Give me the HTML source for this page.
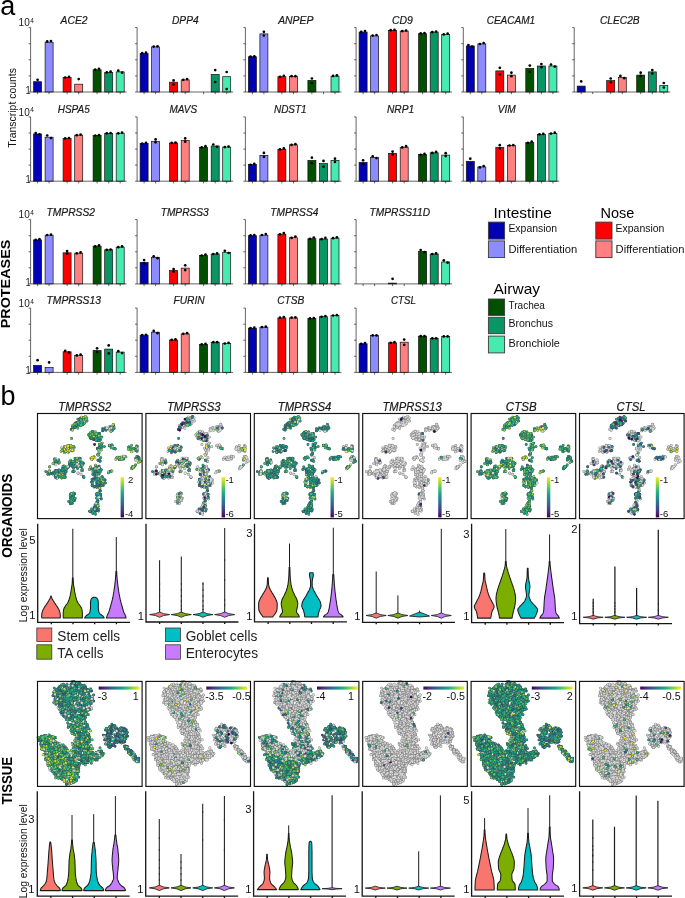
<!DOCTYPE html>
<html><head><meta charset="utf-8"><title>Figure</title>
<style>html,body{margin:0;padding:0;background:#fff}svg{display:block;will-change:transform}text{font-family:"Liberation Sans",sans-serif}</style>
</head><body>
<svg width="685" height="898" viewBox="0 0 685 898">
<rect width="685" height="898" fill="#fff"/>
<g>
<text x="60.6" y="23.7" font-size="11.6" fill="#1a1a1a" font-style="italic" stroke="#1a1a1a" stroke-width="0.22" textLength="27" lengthAdjust="spacingAndGlyphs">ACE2</text>
<rect x="33.6" y="81.7" width="8" height="10.3" fill="#0000b4" stroke="#111" stroke-width="0.7"/>
<rect x="45.1" y="42.2" width="8" height="49.8" fill="#8c8cff" stroke="#111" stroke-width="0.7"/>
<rect x="63.1" y="77.4" width="8" height="14.6" fill="#ff0000" stroke="#111" stroke-width="0.7"/>
<rect x="74.7" y="84.2" width="8" height="7.8" fill="#ff8080" stroke="#111" stroke-width="0.7"/>
<rect x="93.1" y="69.8" width="8" height="22.2" fill="#005000" stroke="#111" stroke-width="0.7"/>
<rect x="104.7" y="72.4" width="8" height="19.6" fill="#0a9664" stroke="#111" stroke-width="0.7"/>
<rect x="116.2" y="71.9" width="8" height="20.1" fill="#46ebaf" stroke="#111" stroke-width="0.7"/>
<path d="M30.6 27.6V92H126.6M30.6 27.6h-2M30.6 43.7h-2M30.6 59.8h-2M30.6 75.9h-2M30.6 92h-2M37.6 92v2.2M49.1 92v2.2M67.1 92v2.2M78.7 92v2.2M97.1 92v2.2M108.7 92v2.2M120.2 92v2.2" stroke="#222" stroke-width="0.7" fill="none"/>
<g fill="#000"><circle cx="37.6" cy="79.8" r="1.35"/><circle cx="47.2" cy="41.4" r="1.35"/><circle cx="51" cy="41.1" r="1.35"/><circle cx="65.2" cy="77.5" r="1.35"/><circle cx="69" cy="76.9" r="1.35"/><circle cx="78.7" cy="79.1" r="1.35"/><circle cx="95.2" cy="69.5" r="1.35"/><circle cx="99" cy="68.8" r="1.35"/><circle cx="106.8" cy="72.4" r="1.35"/><circle cx="110.6" cy="71.7" r="1.35"/><circle cx="118.3" cy="70.7" r="1.35"/><circle cx="122.1" cy="72.7" r="1.35"/></g>
<text x="172" y="23.7" font-size="11.6" fill="#1a1a1a" font-style="italic" stroke="#1a1a1a" stroke-width="0.22" textLength="26.6" lengthAdjust="spacingAndGlyphs">DPP4</text>
<rect x="140.1" y="53.4" width="8" height="38.6" fill="#0000b4" stroke="#111" stroke-width="0.7"/>
<rect x="151.6" y="46.9" width="8" height="45.1" fill="#8c8cff" stroke="#111" stroke-width="0.7"/>
<rect x="169.6" y="82.2" width="8" height="9.8" fill="#ff0000" stroke="#111" stroke-width="0.7"/>
<rect x="181.2" y="79.9" width="8" height="12.1" fill="#ff8080" stroke="#111" stroke-width="0.7"/>
<rect x="211.2" y="74.4" width="8" height="17.6" fill="#0a9664" stroke="#111" stroke-width="0.7"/>
<rect x="222.7" y="76.7" width="8" height="15.3" fill="#46ebaf" stroke="#111" stroke-width="0.7"/>
<path d="M137.1 27.6V92H233.1M137.1 27.6h-2M137.1 43.7h-2M137.1 59.8h-2M137.1 75.9h-2M137.1 92h-2M144.1 92v2.2M155.6 92v2.2M173.6 92v2.2M185.2 92v2.2M203.6 92v2.2M215.2 92v2.2M226.7 92v2.2" stroke="#222" stroke-width="0.7" fill="none"/>
<g fill="#000"><circle cx="142.2" cy="53" r="1.35"/><circle cx="146" cy="52.7" r="1.35"/><circle cx="153.7" cy="46.6" r="1.35"/><circle cx="157.5" cy="46.3" r="1.35"/><circle cx="173.6" cy="80.4" r="1.35"/><circle cx="173.6" cy="84.6" r="1.35"/><circle cx="183.3" cy="79.8" r="1.35"/><circle cx="187.1" cy="79.1" r="1.35"/><circle cx="215.2" cy="70.1" r="1.35"/><circle cx="215.2" cy="82" r="1.35"/><circle cx="226.7" cy="72" r="1.35"/><circle cx="226.7" cy="89.1" r="1.35"/></g>
<text x="278.2" y="23.7" font-size="11.6" fill="#1a1a1a" font-style="italic" stroke="#1a1a1a" stroke-width="0.22" textLength="35.2" lengthAdjust="spacingAndGlyphs">ANPEP</text>
<rect x="248.4" y="56.8" width="8" height="35.2" fill="#0000b4" stroke="#111" stroke-width="0.7"/>
<rect x="259.9" y="33.9" width="8" height="58.1" fill="#8c8cff" stroke="#111" stroke-width="0.7"/>
<rect x="277.9" y="76.7" width="8" height="15.3" fill="#ff0000" stroke="#111" stroke-width="0.7"/>
<rect x="289.5" y="76.4" width="8" height="15.6" fill="#ff8080" stroke="#111" stroke-width="0.7"/>
<rect x="307.9" y="80.4" width="8" height="11.6" fill="#005000" stroke="#111" stroke-width="0.7"/>
<rect x="331" y="76.2" width="8" height="15.8" fill="#46ebaf" stroke="#111" stroke-width="0.7"/>
<path d="M245.4 27.6V92H341.4M245.4 27.6h-2M245.4 43.7h-2M245.4 59.8h-2M245.4 75.9h-2M245.4 92h-2M252.4 92v2.2M263.9 92v2.2M281.9 92v2.2M293.5 92v2.2M311.9 92v2.2M323.5 92v2.2M335 92v2.2" stroke="#222" stroke-width="0.7" fill="none"/>
<g fill="#000"><circle cx="250.5" cy="56.6" r="1.35"/><circle cx="254.3" cy="56.3" r="1.35"/><circle cx="263.9" cy="31.8" r="1.35"/><circle cx="263.9" cy="35.6" r="1.35"/><circle cx="280" cy="76.9" r="1.35"/><circle cx="283.8" cy="75.9" r="1.35"/><circle cx="291.6" cy="76.2" r="1.35"/><circle cx="295.4" cy="76.2" r="1.35"/><circle cx="311.9" cy="78.5" r="1.35"/><circle cx="311.9" cy="83" r="1.35"/><circle cx="333.1" cy="75.9" r="1.35"/><circle cx="336.9" cy="75.3" r="1.35"/></g>
<text x="392" y="23.7" font-size="11.6" fill="#1a1a1a" font-style="italic" stroke="#1a1a1a" stroke-width="0.22" textLength="20.9" lengthAdjust="spacingAndGlyphs">CD9</text>
<rect x="359.1" y="32.1" width="8" height="59.9" fill="#0000b4" stroke="#111" stroke-width="0.7"/>
<rect x="370.6" y="35.9" width="8" height="56.1" fill="#8c8cff" stroke="#111" stroke-width="0.7"/>
<rect x="388.6" y="30.4" width="8" height="61.6" fill="#ff0000" stroke="#111" stroke-width="0.7"/>
<rect x="400.2" y="31.1" width="8" height="60.9" fill="#ff8080" stroke="#111" stroke-width="0.7"/>
<rect x="418.6" y="33.7" width="8" height="58.3" fill="#005000" stroke="#111" stroke-width="0.7"/>
<rect x="430.2" y="32.1" width="8" height="59.9" fill="#0a9664" stroke="#111" stroke-width="0.7"/>
<rect x="441.7" y="34.4" width="8" height="57.6" fill="#46ebaf" stroke="#111" stroke-width="0.7"/>
<path d="M356.1 27.6V92H452.1M356.1 27.6h-2M356.1 43.7h-2M356.1 59.8h-2M356.1 75.9h-2M356.1 92h-2M363.1 92v2.2M374.6 92v2.2M392.6 92v2.2M404.2 92v2.2M422.6 92v2.2M434.2 92v2.2M445.7 92v2.2" stroke="#222" stroke-width="0.7" fill="none"/>
<g fill="#000"><circle cx="361.2" cy="31.8" r="1.35"/><circle cx="365" cy="31.1" r="1.35"/><circle cx="372.7" cy="35.6" r="1.35"/><circle cx="376.5" cy="35" r="1.35"/><circle cx="390.7" cy="30.2" r="1.35"/><circle cx="394.5" cy="29.9" r="1.35"/><circle cx="402.3" cy="31.1" r="1.35"/><circle cx="406.1" cy="30.5" r="1.35"/><circle cx="420.7" cy="33.4" r="1.35"/><circle cx="424.5" cy="33.1" r="1.35"/><circle cx="432.3" cy="32.1" r="1.35"/><circle cx="436.1" cy="31.5" r="1.35"/><circle cx="443.8" cy="34.4" r="1.35"/><circle cx="447.6" cy="33.7" r="1.35"/></g>
<text x="486.7" y="23.7" font-size="11.6" fill="#1a1a1a" font-style="italic" stroke="#1a1a1a" stroke-width="0.22" textLength="48.4" lengthAdjust="spacingAndGlyphs">CEACAM1</text>
<rect x="466.3" y="46" width="8" height="46" fill="#0000b4" stroke="#111" stroke-width="0.7"/>
<rect x="477.8" y="43.9" width="8" height="48.1" fill="#8c8cff" stroke="#111" stroke-width="0.7"/>
<rect x="495.8" y="70.9" width="8" height="21.1" fill="#ff0000" stroke="#111" stroke-width="0.7"/>
<rect x="507.4" y="75.1" width="8" height="16.9" fill="#ff8080" stroke="#111" stroke-width="0.7"/>
<rect x="525.8" y="68.4" width="8" height="23.6" fill="#005000" stroke="#111" stroke-width="0.7"/>
<rect x="537.4" y="66" width="8" height="26" fill="#0a9664" stroke="#111" stroke-width="0.7"/>
<rect x="548.9" y="66" width="8" height="26" fill="#46ebaf" stroke="#111" stroke-width="0.7"/>
<path d="M463.3 27.6V92H559.3M463.3 27.6h-2M463.3 43.7h-2M463.3 59.8h-2M463.3 75.9h-2M463.3 92h-2M470.3 92v2.2M481.8 92v2.2M499.8 92v2.2M511.4 92v2.2M529.8 92v2.2M541.4 92v2.2M552.9 92v2.2" stroke="#222" stroke-width="0.7" fill="none"/>
<g fill="#000"><circle cx="468.4" cy="45" r="1.35"/><circle cx="472.2" cy="46.6" r="1.35"/><circle cx="479.9" cy="44" r="1.35"/><circle cx="483.7" cy="43.1" r="1.35"/><circle cx="499.8" cy="67.8" r="1.35"/><circle cx="499.8" cy="74.3" r="1.35"/><circle cx="511.4" cy="72.7" r="1.35"/><circle cx="511.4" cy="76.2" r="1.35"/><circle cx="529.8" cy="65.6" r="1.35"/><circle cx="529.8" cy="72" r="1.35"/><circle cx="541.4" cy="64" r="1.35"/><circle cx="541.4" cy="67.2" r="1.35"/><circle cx="551" cy="64.6" r="1.35"/><circle cx="554.8" cy="66.6" r="1.35"/></g>
<text x="599.9" y="23.7" font-size="11.6" fill="#1a1a1a" font-style="italic" stroke="#1a1a1a" stroke-width="0.22" textLength="39.8" lengthAdjust="spacingAndGlyphs">CLEC2B</text>
<rect x="577.2" y="86.1" width="8" height="5.9" fill="#0000b4" stroke="#111" stroke-width="0.7"/>
<rect x="606.7" y="80.6" width="8" height="11.4" fill="#ff0000" stroke="#111" stroke-width="0.7"/>
<rect x="618.3" y="77.4" width="8" height="14.6" fill="#ff8080" stroke="#111" stroke-width="0.7"/>
<rect x="636.7" y="75.1" width="8" height="16.9" fill="#005000" stroke="#111" stroke-width="0.7"/>
<rect x="648.3" y="71.9" width="8" height="20.1" fill="#0a9664" stroke="#111" stroke-width="0.7"/>
<rect x="659.8" y="85.4" width="8" height="6.6" fill="#46ebaf" stroke="#111" stroke-width="0.7"/>
<path d="M574.2 27.6V92H670.2M574.2 27.6h-2M574.2 43.7h-2M574.2 59.8h-2M574.2 75.9h-2M574.2 92h-2M581.2 92v2.2M592.7 92v2.2M610.7 92v2.2M622.3 92v2.2M640.7 92v2.2M652.3 92v2.2M663.8 92v2.2" stroke="#222" stroke-width="0.7" fill="none"/>
<g fill="#000"><circle cx="581.2" cy="81.4" r="1.35"/><circle cx="610.7" cy="78.5" r="1.35"/><circle cx="610.7" cy="82.3" r="1.35"/><circle cx="620.4" cy="75.9" r="1.35"/><circle cx="624.2" cy="78.2" r="1.35"/><circle cx="640.7" cy="72.7" r="1.35"/><circle cx="640.7" cy="75.9" r="1.35"/><circle cx="652.3" cy="70.1" r="1.35"/><circle cx="652.3" cy="73.6" r="1.35"/><circle cx="663.8" cy="83" r="1.35"/><circle cx="663.8" cy="87.5" r="1.35"/></g>
<text x="57.8" y="113" font-size="11.6" fill="#1a1a1a" font-style="italic" stroke="#1a1a1a" stroke-width="0.22" textLength="31.9" lengthAdjust="spacingAndGlyphs">HSPA5</text>
<rect x="33.6" y="134" width="8" height="47.2" fill="#0000b4" stroke="#111" stroke-width="0.7"/>
<rect x="45.1" y="137.2" width="8" height="44" fill="#8c8cff" stroke="#111" stroke-width="0.7"/>
<rect x="63.1" y="138.5" width="8" height="42.7" fill="#ff0000" stroke="#111" stroke-width="0.7"/>
<rect x="74.7" y="135.2" width="8" height="46" fill="#ff8080" stroke="#111" stroke-width="0.7"/>
<rect x="93.1" y="135.5" width="8" height="45.7" fill="#005000" stroke="#111" stroke-width="0.7"/>
<rect x="104.7" y="133.5" width="8" height="47.7" fill="#0a9664" stroke="#111" stroke-width="0.7"/>
<rect x="116.2" y="133.2" width="8" height="48" fill="#46ebaf" stroke="#111" stroke-width="0.7"/>
<path d="M30.6 116.9V181.2H126.6M30.6 116.9h-2M30.6 133h-2M30.6 149.1h-2M30.6 165.1h-2M30.6 181.2h-2M37.6 181.2v2.2M49.1 181.2v2.2M67.1 181.2v2.2M78.7 181.2v2.2M97.1 181.2v2.2M108.7 181.2v2.2M120.2 181.2v2.2" stroke="#222" stroke-width="0.7" fill="none"/>
<g fill="#000"><circle cx="35.7" cy="133" r="1.35"/><circle cx="39.5" cy="134.3" r="1.35"/><circle cx="47.2" cy="135.5" r="1.35"/><circle cx="51" cy="138.1" r="1.35"/><circle cx="65.2" cy="138.4" r="1.35"/><circle cx="69" cy="138.1" r="1.35"/><circle cx="76.8" cy="135.2" r="1.35"/><circle cx="80.6" cy="134.6" r="1.35"/><circle cx="95.2" cy="135.5" r="1.35"/><circle cx="99" cy="135.2" r="1.35"/><circle cx="106.8" cy="133.3" r="1.35"/><circle cx="110.6" cy="133" r="1.35"/><circle cx="118.3" cy="133.3" r="1.35"/><circle cx="122.1" cy="132.7" r="1.35"/></g>
<text x="169.5" y="113" font-size="11.6" fill="#1a1a1a" font-style="italic" stroke="#1a1a1a" stroke-width="0.22" textLength="27.6" lengthAdjust="spacingAndGlyphs">MAVS</text>
<rect x="140.1" y="143.5" width="8" height="37.7" fill="#0000b4" stroke="#111" stroke-width="0.7"/>
<rect x="151.6" y="141.3" width="8" height="39.9" fill="#8c8cff" stroke="#111" stroke-width="0.7"/>
<rect x="169.6" y="143" width="8" height="38.2" fill="#ff0000" stroke="#111" stroke-width="0.7"/>
<rect x="181.2" y="140.5" width="8" height="40.7" fill="#ff8080" stroke="#111" stroke-width="0.7"/>
<rect x="199.6" y="147.3" width="8" height="33.9" fill="#005000" stroke="#111" stroke-width="0.7"/>
<rect x="211.2" y="146" width="8" height="35.2" fill="#0a9664" stroke="#111" stroke-width="0.7"/>
<rect x="222.7" y="147.1" width="8" height="34.1" fill="#46ebaf" stroke="#111" stroke-width="0.7"/>
<path d="M137.1 116.9V181.2H233.1M137.1 116.9h-2M137.1 133h-2M137.1 149.1h-2M137.1 165.1h-2M137.1 181.2h-2M144.1 181.2v2.2M155.6 181.2v2.2M173.6 181.2v2.2M185.2 181.2v2.2M203.6 181.2v2.2M215.2 181.2v2.2M226.7 181.2v2.2" stroke="#222" stroke-width="0.7" fill="none"/>
<g fill="#000"><circle cx="142.2" cy="143.6" r="1.35"/><circle cx="146" cy="142.9" r="1.35"/><circle cx="155.6" cy="139.4" r="1.35"/><circle cx="155.6" cy="142.3" r="1.35"/><circle cx="171.7" cy="142.9" r="1.35"/><circle cx="175.5" cy="142.6" r="1.35"/><circle cx="185.2" cy="138.4" r="1.35"/><circle cx="185.2" cy="141.7" r="1.35"/><circle cx="201.7" cy="147.4" r="1.35"/><circle cx="205.5" cy="146.2" r="1.35"/><circle cx="213.3" cy="144.5" r="1.35"/><circle cx="217.1" cy="146.8" r="1.35"/><circle cx="224.8" cy="147.1" r="1.35"/><circle cx="228.6" cy="146.5" r="1.35"/></g>
<text x="274" y="113" font-size="11.6" fill="#1a1a1a" font-style="italic" stroke="#1a1a1a" stroke-width="0.22" textLength="32.6" lengthAdjust="spacingAndGlyphs">NDST1</text>
<rect x="248.4" y="164.6" width="8" height="16.6" fill="#0000b4" stroke="#111" stroke-width="0.7"/>
<rect x="259.9" y="155.4" width="8" height="25.8" fill="#8c8cff" stroke="#111" stroke-width="0.7"/>
<rect x="277.9" y="149.3" width="8" height="31.9" fill="#ff0000" stroke="#111" stroke-width="0.7"/>
<rect x="289.5" y="144.8" width="8" height="36.4" fill="#ff8080" stroke="#111" stroke-width="0.7"/>
<rect x="307.9" y="160.4" width="8" height="20.8" fill="#005000" stroke="#111" stroke-width="0.7"/>
<rect x="319.5" y="163.6" width="8" height="17.6" fill="#0a9664" stroke="#111" stroke-width="0.7"/>
<rect x="331" y="160.4" width="8" height="20.8" fill="#46ebaf" stroke="#111" stroke-width="0.7"/>
<path d="M245.4 116.9V181.2H341.4M245.4 116.9h-2M245.4 133h-2M245.4 149.1h-2M245.4 165.1h-2M245.4 181.2h-2M252.4 181.2v2.2M263.9 181.2v2.2M281.9 181.2v2.2M293.5 181.2v2.2M311.9 181.2v2.2M323.5 181.2v2.2M335 181.2v2.2" stroke="#222" stroke-width="0.7" fill="none"/>
<g fill="#000"><circle cx="250.5" cy="164.8" r="1.35"/><circle cx="254.3" cy="163.8" r="1.35"/><circle cx="263.9" cy="152.9" r="1.35"/><circle cx="263.9" cy="156.8" r="1.35"/><circle cx="280" cy="149.4" r="1.35"/><circle cx="283.8" cy="148.4" r="1.35"/><circle cx="291.6" cy="144.9" r="1.35"/><circle cx="295.4" cy="144.2" r="1.35"/><circle cx="311.9" cy="157.7" r="1.35"/><circle cx="311.9" cy="163.2" r="1.35"/><circle cx="323.5" cy="160.9" r="1.35"/><circle cx="323.5" cy="166.7" r="1.35"/><circle cx="335" cy="158.7" r="1.35"/><circle cx="335" cy="161.9" r="1.35"/></g>
<text x="387" y="113" font-size="11.6" fill="#1a1a1a" font-style="italic" stroke="#1a1a1a" stroke-width="0.22" textLength="27.1" lengthAdjust="spacingAndGlyphs">NRP1</text>
<rect x="359.1" y="162.4" width="8" height="18.8" fill="#0000b4" stroke="#111" stroke-width="0.7"/>
<rect x="370.6" y="157.6" width="8" height="23.6" fill="#8c8cff" stroke="#111" stroke-width="0.7"/>
<rect x="388.6" y="153.3" width="8" height="27.9" fill="#ff0000" stroke="#111" stroke-width="0.7"/>
<rect x="400.2" y="147.3" width="8" height="33.9" fill="#ff8080" stroke="#111" stroke-width="0.7"/>
<rect x="418.6" y="154.6" width="8" height="26.6" fill="#005000" stroke="#111" stroke-width="0.7"/>
<rect x="430.2" y="152.8" width="8" height="28.4" fill="#0a9664" stroke="#111" stroke-width="0.7"/>
<rect x="441.7" y="155.1" width="8" height="26.1" fill="#46ebaf" stroke="#111" stroke-width="0.7"/>
<path d="M356.1 116.9V181.2H452.1M356.1 116.9h-2M356.1 133h-2M356.1 149.1h-2M356.1 165.1h-2M356.1 181.2h-2M363.1 181.2v2.2M374.6 181.2v2.2M392.6 181.2v2.2M404.2 181.2v2.2M422.6 181.2v2.2M434.2 181.2v2.2M445.7 181.2v2.2" stroke="#222" stroke-width="0.7" fill="none"/>
<g fill="#000"><circle cx="363.1" cy="160.3" r="1.35"/><circle cx="363.1" cy="164.2" r="1.35"/><circle cx="372.7" cy="156.4" r="1.35"/><circle cx="376.5" cy="158.1" r="1.35"/><circle cx="392.6" cy="151.6" r="1.35"/><circle cx="392.6" cy="154.5" r="1.35"/><circle cx="402.3" cy="147.4" r="1.35"/><circle cx="406.1" cy="146.2" r="1.35"/><circle cx="420.7" cy="154.8" r="1.35"/><circle cx="424.5" cy="153.9" r="1.35"/><circle cx="432.3" cy="152.9" r="1.35"/><circle cx="436.1" cy="151.9" r="1.35"/><circle cx="445.7" cy="153.2" r="1.35"/><circle cx="445.7" cy="156.1" r="1.35"/></g>
<text x="497.7" y="113" font-size="11.6" fill="#1a1a1a" font-style="italic" stroke="#1a1a1a" stroke-width="0.22" textLength="18.1" lengthAdjust="spacingAndGlyphs">VIM</text>
<rect x="466.3" y="161.3" width="8" height="19.9" fill="#0000b4" stroke="#111" stroke-width="0.7"/>
<rect x="477.8" y="166.9" width="8" height="14.3" fill="#8c8cff" stroke="#111" stroke-width="0.7"/>
<rect x="495.8" y="147.3" width="8" height="33.9" fill="#ff0000" stroke="#111" stroke-width="0.7"/>
<rect x="507.4" y="145.5" width="8" height="35.7" fill="#ff8080" stroke="#111" stroke-width="0.7"/>
<rect x="525.8" y="142.6" width="8" height="38.6" fill="#005000" stroke="#111" stroke-width="0.7"/>
<rect x="537.4" y="134.3" width="8" height="46.9" fill="#0a9664" stroke="#111" stroke-width="0.7"/>
<rect x="548.9" y="133.5" width="8" height="47.7" fill="#46ebaf" stroke="#111" stroke-width="0.7"/>
<path d="M463.3 116.9V181.2H559.3M463.3 116.9h-2M463.3 133h-2M463.3 149.1h-2M463.3 165.1h-2M463.3 181.2h-2M470.3 181.2v2.2M481.8 181.2v2.2M499.8 181.2v2.2M511.4 181.2v2.2M529.8 181.2v2.2M541.4 181.2v2.2M552.9 181.2v2.2" stroke="#222" stroke-width="0.7" fill="none"/>
<g fill="#000"><circle cx="470.3" cy="158.7" r="1.35"/><circle cx="470.3" cy="163.8" r="1.35"/><circle cx="479.9" cy="167.4" r="1.35"/><circle cx="483.7" cy="166.1" r="1.35"/><circle cx="499.8" cy="145.2" r="1.35"/><circle cx="499.8" cy="148.7" r="1.35"/><circle cx="509.5" cy="145.5" r="1.35"/><circle cx="513.3" cy="145.2" r="1.35"/><circle cx="527.9" cy="142.9" r="1.35"/><circle cx="531.7" cy="141.7" r="1.35"/><circle cx="539.5" cy="134.3" r="1.35"/><circle cx="543.3" cy="133.9" r="1.35"/><circle cx="551" cy="133.6" r="1.35"/><circle cx="554.8" cy="132.7" r="1.35"/></g>
<text x="46.5" y="215.7" font-size="11.6" fill="#1a1a1a" font-style="italic" stroke="#1a1a1a" stroke-width="0.22" textLength="48.5" lengthAdjust="spacingAndGlyphs">TMPRSS2</text>
<rect x="33.6" y="239.9" width="8" height="44" fill="#0000b4" stroke="#111" stroke-width="0.7"/>
<rect x="45.1" y="235.2" width="8" height="48.7" fill="#8c8cff" stroke="#111" stroke-width="0.7"/>
<rect x="63.1" y="252.8" width="8" height="31.1" fill="#ff0000" stroke="#111" stroke-width="0.7"/>
<rect x="74.7" y="253.2" width="8" height="30.7" fill="#ff8080" stroke="#111" stroke-width="0.7"/>
<rect x="93.1" y="246.2" width="8" height="37.7" fill="#005000" stroke="#111" stroke-width="0.7"/>
<rect x="104.7" y="249.8" width="8" height="34.1" fill="#0a9664" stroke="#111" stroke-width="0.7"/>
<rect x="116.2" y="247.2" width="8" height="36.7" fill="#46ebaf" stroke="#111" stroke-width="0.7"/>
<path d="M30.6 219.6V283.9H126.6M30.6 219.6h-2M30.6 235.7h-2M30.6 251.8h-2M30.6 267.8h-2M30.6 283.9h-2M37.6 283.9v2.2M49.1 283.9v2.2M67.1 283.9v2.2M78.7 283.9v2.2M97.1 283.9v2.2M108.7 283.9v2.2M120.2 283.9v2.2" stroke="#222" stroke-width="0.7" fill="none"/>
<g fill="#000"><circle cx="35.7" cy="239.9" r="1.35"/><circle cx="39.5" cy="239.2" r="1.35"/><circle cx="47.2" cy="235" r="1.35"/><circle cx="51" cy="234.7" r="1.35"/><circle cx="67.1" cy="251.1" r="1.35"/><circle cx="67.1" cy="253.7" r="1.35"/><circle cx="76.8" cy="253.4" r="1.35"/><circle cx="80.6" cy="252.4" r="1.35"/><circle cx="95.2" cy="246.3" r="1.35"/><circle cx="99" cy="245.3" r="1.35"/><circle cx="106.8" cy="249.8" r="1.35"/><circle cx="110.6" cy="249.5" r="1.35"/><circle cx="118.3" cy="247.2" r="1.35"/><circle cx="122.1" cy="246.3" r="1.35"/></g>
<text x="160.7" y="215.7" font-size="11.6" fill="#1a1a1a" font-style="italic" stroke="#1a1a1a" stroke-width="0.22" textLength="48" lengthAdjust="spacingAndGlyphs">TMPRSS3</text>
<rect x="140.1" y="262.3" width="8" height="21.6" fill="#0000b4" stroke="#111" stroke-width="0.7"/>
<rect x="151.6" y="257.3" width="8" height="26.6" fill="#8c8cff" stroke="#111" stroke-width="0.7"/>
<rect x="169.6" y="270.6" width="8" height="13.3" fill="#ff0000" stroke="#111" stroke-width="0.7"/>
<rect x="181.2" y="268.1" width="8" height="15.8" fill="#ff8080" stroke="#111" stroke-width="0.7"/>
<rect x="199.6" y="255.5" width="8" height="28.4" fill="#005000" stroke="#111" stroke-width="0.7"/>
<rect x="211.2" y="254" width="8" height="29.9" fill="#0a9664" stroke="#111" stroke-width="0.7"/>
<rect x="222.7" y="252.3" width="8" height="31.6" fill="#46ebaf" stroke="#111" stroke-width="0.7"/>
<path d="M137.1 219.6V283.9H233.1M137.1 219.6h-2M137.1 235.7h-2M137.1 251.8h-2M137.1 267.8h-2M137.1 283.9h-2M144.1 283.9v2.2M155.6 283.9v2.2M173.6 283.9v2.2M185.2 283.9v2.2M203.6 283.9v2.2M215.2 283.9v2.2M226.7 283.9v2.2" stroke="#222" stroke-width="0.7" fill="none"/>
<g fill="#000"><circle cx="144.1" cy="260.1" r="1.35"/><circle cx="144.1" cy="263.6" r="1.35"/><circle cx="153.7" cy="256.3" r="1.35"/><circle cx="157.5" cy="258.2" r="1.35"/><circle cx="173.6" cy="269.1" r="1.35"/><circle cx="173.6" cy="271.7" r="1.35"/><circle cx="185.2" cy="265.3" r="1.35"/><circle cx="185.2" cy="270.1" r="1.35"/><circle cx="201.7" cy="255.6" r="1.35"/><circle cx="205.5" cy="254.6" r="1.35"/><circle cx="213.3" cy="254" r="1.35"/><circle cx="217.1" cy="253.4" r="1.35"/><circle cx="224.8" cy="250.8" r="1.35"/><circle cx="228.6" cy="253" r="1.35"/></g>
<text x="270.2" y="215.7" font-size="11.6" fill="#1a1a1a" font-style="italic" stroke="#1a1a1a" stroke-width="0.22" textLength="48.2" lengthAdjust="spacingAndGlyphs">TMPRSS4</text>
<rect x="248.4" y="235.7" width="8" height="48.2" fill="#0000b4" stroke="#111" stroke-width="0.7"/>
<rect x="259.9" y="235.2" width="8" height="48.7" fill="#8c8cff" stroke="#111" stroke-width="0.7"/>
<rect x="277.9" y="234.2" width="8" height="49.7" fill="#ff0000" stroke="#111" stroke-width="0.7"/>
<rect x="289.5" y="237.7" width="8" height="46.2" fill="#ff8080" stroke="#111" stroke-width="0.7"/>
<rect x="307.9" y="238.7" width="8" height="45.2" fill="#005000" stroke="#111" stroke-width="0.7"/>
<rect x="319.5" y="239" width="8" height="44.9" fill="#0a9664" stroke="#111" stroke-width="0.7"/>
<rect x="331" y="238.2" width="8" height="45.7" fill="#46ebaf" stroke="#111" stroke-width="0.7"/>
<path d="M245.4 219.6V283.9H341.4M245.4 219.6h-2M245.4 235.7h-2M245.4 251.8h-2M245.4 267.8h-2M245.4 283.9h-2M252.4 283.9v2.2M263.9 283.9v2.2M281.9 283.9v2.2M293.5 283.9v2.2M311.9 283.9v2.2M323.5 283.9v2.2M335 283.9v2.2" stroke="#222" stroke-width="0.7" fill="none"/>
<g fill="#000"><circle cx="250.5" cy="235.4" r="1.35"/><circle cx="254.3" cy="235" r="1.35"/><circle cx="262" cy="235" r="1.35"/><circle cx="265.8" cy="234.1" r="1.35"/><circle cx="280" cy="234.4" r="1.35"/><circle cx="283.8" cy="233.1" r="1.35"/><circle cx="291.6" cy="237.9" r="1.35"/><circle cx="295.4" cy="236.6" r="1.35"/><circle cx="310" cy="238.9" r="1.35"/><circle cx="313.8" cy="237.6" r="1.35"/><circle cx="321.6" cy="239.2" r="1.35"/><circle cx="325.4" cy="237.9" r="1.35"/><circle cx="333.1" cy="238.2" r="1.35"/><circle cx="336.9" cy="237.3" r="1.35"/></g>
<text x="369.6" y="215.7" font-size="11.6" fill="#1a1a1a" font-style="italic" stroke="#1a1a1a" stroke-width="0.22" textLength="60.4" lengthAdjust="spacingAndGlyphs">TMPRSS11D</text>
<rect x="388.6" y="283.1" width="8" height="0.8" fill="#ff0000" stroke="#111" stroke-width="0.7"/>
<rect x="418.6" y="251.5" width="8" height="32.4" fill="#005000" stroke="#111" stroke-width="0.7"/>
<rect x="430.2" y="254" width="8" height="29.9" fill="#0a9664" stroke="#111" stroke-width="0.7"/>
<rect x="441.7" y="262" width="8" height="21.9" fill="#46ebaf" stroke="#111" stroke-width="0.7"/>
<path d="M356.1 219.6V283.9H452.1M356.1 219.6h-2M356.1 235.7h-2M356.1 251.8h-2M356.1 267.8h-2M356.1 283.9h-2M363.1 283.9v2.2M374.6 283.9v2.2M392.6 283.9v2.2M404.2 283.9v2.2M422.6 283.9v2.2M434.2 283.9v2.2M445.7 283.9v2.2" stroke="#222" stroke-width="0.7" fill="none"/>
<g fill="#000"><circle cx="392.6" cy="278.8" r="1.35"/><circle cx="420.7" cy="250.1" r="1.35"/><circle cx="424.5" cy="252.1" r="1.35"/><circle cx="432.3" cy="254" r="1.35"/><circle cx="436.1" cy="253.4" r="1.35"/><circle cx="443.8" cy="260.4" r="1.35"/><circle cx="447.6" cy="262.7" r="1.35"/></g>
<text x="46.5" y="304.2" font-size="11.6" fill="#1a1a1a" font-style="italic" stroke="#1a1a1a" stroke-width="0.22" textLength="54.5" lengthAdjust="spacingAndGlyphs">TMPRSS13</text>
<rect x="33.6" y="365.4" width="8" height="7" fill="#0000b4" stroke="#111" stroke-width="0.7"/>
<rect x="45.1" y="367.6" width="8" height="4.8" fill="#8c8cff" stroke="#111" stroke-width="0.7"/>
<rect x="63.1" y="351.8" width="8" height="20.6" fill="#ff0000" stroke="#111" stroke-width="0.7"/>
<rect x="74.7" y="355.3" width="8" height="17.1" fill="#ff8080" stroke="#111" stroke-width="0.7"/>
<rect x="93.1" y="350.5" width="8" height="21.9" fill="#005000" stroke="#111" stroke-width="0.7"/>
<rect x="104.7" y="349.1" width="8" height="23.3" fill="#0a9664" stroke="#111" stroke-width="0.7"/>
<rect x="116.2" y="352.1" width="8" height="20.3" fill="#46ebaf" stroke="#111" stroke-width="0.7"/>
<path d="M30.6 308.1V372.4H126.6M30.6 308.1h-2M30.6 324.2h-2M30.6 340.2h-2M30.6 356.3h-2M30.6 372.4h-2M37.6 372.4v2.2M49.1 372.4v2.2M67.1 372.4v2.2M78.7 372.4v2.2M97.1 372.4v2.2M108.7 372.4v2.2M120.2 372.4v2.2" stroke="#222" stroke-width="0.7" fill="none"/>
<g fill="#000"><circle cx="37.6" cy="360.2" r="1.35"/><circle cx="49.1" cy="362.4" r="1.35"/><circle cx="65.2" cy="350.9" r="1.35"/><circle cx="69" cy="352.5" r="1.35"/><circle cx="76.8" cy="355.4" r="1.35"/><circle cx="80.6" cy="354.7" r="1.35"/><circle cx="97.1" cy="348.3" r="1.35"/><circle cx="97.1" cy="352.1" r="1.35"/><circle cx="108.7" cy="345.4" r="1.35"/><circle cx="108.7" cy="353.4" r="1.35"/><circle cx="118.3" cy="351.2" r="1.35"/><circle cx="122.1" cy="353.1" r="1.35"/></g>
<text x="173.5" y="304.2" font-size="11.6" fill="#1a1a1a" font-style="italic" stroke="#1a1a1a" stroke-width="0.22" textLength="31.2" lengthAdjust="spacingAndGlyphs">FURIN</text>
<rect x="140.1" y="335.2" width="8" height="37.2" fill="#0000b4" stroke="#111" stroke-width="0.7"/>
<rect x="151.6" y="332.2" width="8" height="40.2" fill="#8c8cff" stroke="#111" stroke-width="0.7"/>
<rect x="169.6" y="340" width="8" height="32.4" fill="#ff0000" stroke="#111" stroke-width="0.7"/>
<rect x="181.2" y="333.9" width="8" height="38.5" fill="#ff8080" stroke="#111" stroke-width="0.7"/>
<rect x="199.6" y="344.5" width="8" height="27.9" fill="#005000" stroke="#111" stroke-width="0.7"/>
<rect x="211.2" y="342.2" width="8" height="30.2" fill="#0a9664" stroke="#111" stroke-width="0.7"/>
<rect x="222.7" y="343.5" width="8" height="28.9" fill="#46ebaf" stroke="#111" stroke-width="0.7"/>
<path d="M137.1 308.1V372.4H233.1M137.1 308.1h-2M137.1 324.2h-2M137.1 340.2h-2M137.1 356.3h-2M137.1 372.4h-2M144.1 372.4v2.2M155.6 372.4v2.2M173.6 372.4v2.2M185.2 372.4v2.2M203.6 372.4v2.2M215.2 372.4v2.2M226.7 372.4v2.2" stroke="#222" stroke-width="0.7" fill="none"/>
<g fill="#000"><circle cx="142.2" cy="335.1" r="1.35"/><circle cx="146" cy="334.8" r="1.35"/><circle cx="153.7" cy="330.9" r="1.35"/><circle cx="157.5" cy="333.2" r="1.35"/><circle cx="171.7" cy="339.9" r="1.35"/><circle cx="175.5" cy="339.3" r="1.35"/><circle cx="183.3" cy="333.8" r="1.35"/><circle cx="187.1" cy="333.2" r="1.35"/><circle cx="201.7" cy="344.4" r="1.35"/><circle cx="205.5" cy="343.8" r="1.35"/><circle cx="213.3" cy="342.2" r="1.35"/><circle cx="217.1" cy="342.2" r="1.35"/><circle cx="224.8" cy="343.5" r="1.35"/><circle cx="228.6" cy="342.8" r="1.35"/></g>
<text x="277.2" y="304.2" font-size="11.6" fill="#1a1a1a" font-style="italic" stroke="#1a1a1a" stroke-width="0.22" textLength="27.2" lengthAdjust="spacingAndGlyphs">CTSB</text>
<rect x="248.4" y="328.2" width="8" height="44.2" fill="#0000b4" stroke="#111" stroke-width="0.7"/>
<rect x="259.9" y="327.2" width="8" height="45.2" fill="#8c8cff" stroke="#111" stroke-width="0.7"/>
<rect x="277.9" y="317.9" width="8" height="54.5" fill="#ff0000" stroke="#111" stroke-width="0.7"/>
<rect x="289.5" y="317.9" width="8" height="54.5" fill="#ff8080" stroke="#111" stroke-width="0.7"/>
<rect x="307.9" y="318.4" width="8" height="54" fill="#005000" stroke="#111" stroke-width="0.7"/>
<rect x="319.5" y="316.7" width="8" height="55.7" fill="#0a9664" stroke="#111" stroke-width="0.7"/>
<rect x="331" y="315.6" width="8" height="56.8" fill="#46ebaf" stroke="#111" stroke-width="0.7"/>
<path d="M245.4 308.1V372.4H341.4M245.4 308.1h-2M245.4 324.2h-2M245.4 340.2h-2M245.4 356.3h-2M245.4 372.4h-2M252.4 372.4v2.2M263.9 372.4v2.2M281.9 372.4v2.2M293.5 372.4v2.2M311.9 372.4v2.2M323.5 372.4v2.2M335 372.4v2.2" stroke="#222" stroke-width="0.7" fill="none"/>
<g fill="#000"><circle cx="250.5" cy="328" r="1.35"/><circle cx="254.3" cy="327.7" r="1.35"/><circle cx="262" cy="327.1" r="1.35"/><circle cx="265.8" cy="326.7" r="1.35"/><circle cx="280" cy="317.7" r="1.35"/><circle cx="283.8" cy="317.1" r="1.35"/><circle cx="291.6" cy="317.7" r="1.35"/><circle cx="295.4" cy="317.4" r="1.35"/><circle cx="310" cy="318.4" r="1.35"/><circle cx="313.8" cy="318.1" r="1.35"/><circle cx="321.6" cy="316.8" r="1.35"/><circle cx="325.4" cy="316.1" r="1.35"/><circle cx="333.1" cy="315.5" r="1.35"/><circle cx="336.9" cy="315.2" r="1.35"/></g>
<text x="391" y="304.2" font-size="11.6" fill="#1a1a1a" font-style="italic" stroke="#1a1a1a" stroke-width="0.22" textLength="24.9" lengthAdjust="spacingAndGlyphs">CTSL</text>
<rect x="359.1" y="343.8" width="8" height="28.6" fill="#0000b4" stroke="#111" stroke-width="0.7"/>
<rect x="370.6" y="335.5" width="8" height="36.9" fill="#8c8cff" stroke="#111" stroke-width="0.7"/>
<rect x="388.6" y="342.8" width="8" height="29.6" fill="#ff0000" stroke="#111" stroke-width="0.7"/>
<rect x="400.2" y="342.2" width="8" height="30.2" fill="#ff8080" stroke="#111" stroke-width="0.7"/>
<rect x="418.6" y="336.2" width="8" height="36.2" fill="#005000" stroke="#111" stroke-width="0.7"/>
<rect x="430.2" y="338.3" width="8" height="34.1" fill="#0a9664" stroke="#111" stroke-width="0.7"/>
<rect x="441.7" y="336.5" width="8" height="35.9" fill="#46ebaf" stroke="#111" stroke-width="0.7"/>
<path d="M356.1 308.1V372.4H452.1M356.1 308.1h-2M356.1 324.2h-2M356.1 340.2h-2M356.1 356.3h-2M356.1 372.4h-2M363.1 372.4v2.2M374.6 372.4v2.2M392.6 372.4v2.2M404.2 372.4v2.2M422.6 372.4v2.2M434.2 372.4v2.2M445.7 372.4v2.2" stroke="#222" stroke-width="0.7" fill="none"/>
<g fill="#000"><circle cx="361.2" cy="343.8" r="1.35"/><circle cx="365" cy="343.1" r="1.35"/><circle cx="372.7" cy="335.4" r="1.35"/><circle cx="376.5" cy="335.4" r="1.35"/><circle cx="390.7" cy="342.8" r="1.35"/><circle cx="394.5" cy="342.2" r="1.35"/><circle cx="404.2" cy="339.6" r="1.35"/><circle cx="404.2" cy="344.8" r="1.35"/><circle cx="420.7" cy="336.1" r="1.35"/><circle cx="424.5" cy="336.1" r="1.35"/><circle cx="432.3" cy="338.3" r="1.35"/><circle cx="436.1" cy="338.3" r="1.35"/><circle cx="443.8" cy="336.4" r="1.35"/><circle cx="447.6" cy="336.4" r="1.35"/></g>
<text x="18.6" y="26.2" font-size="11.2" fill="#1a1a1a" textLength="11.2" lengthAdjust="spacingAndGlyphs">10</text>
<text x="30.3" y="23" font-size="6.5" fill="#1a1a1a">4</text>
<text x="25.6" y="94" font-size="11.2" fill="#1a1a1a" textLength="5.2" lengthAdjust="spacingAndGlyphs">1</text>
<text x="18.6" y="115.5" font-size="11.2" fill="#1a1a1a" textLength="11.2" lengthAdjust="spacingAndGlyphs">10</text>
<text x="30.3" y="112.3" font-size="6.5" fill="#1a1a1a">4</text>
<text x="25.6" y="183.2" font-size="11.2" fill="#1a1a1a" textLength="5.2" lengthAdjust="spacingAndGlyphs">1</text>
<text x="18.6" y="218.2" font-size="11.2" fill="#1a1a1a" textLength="11.2" lengthAdjust="spacingAndGlyphs">10</text>
<text x="30.3" y="215" font-size="6.5" fill="#1a1a1a">4</text>
<text x="25.6" y="285.9" font-size="11.2" fill="#1a1a1a" textLength="5.2" lengthAdjust="spacingAndGlyphs">1</text>
<text x="18.6" y="306.7" font-size="11.2" fill="#1a1a1a" textLength="11.2" lengthAdjust="spacingAndGlyphs">10</text>
<text x="30.3" y="303.5" font-size="6.5" fill="#1a1a1a">4</text>
<text x="25.6" y="374.4" font-size="11.2" fill="#1a1a1a" textLength="5.2" lengthAdjust="spacingAndGlyphs">1</text>
</g>
<text x="0.2" y="14.6" font-size="27" fill="#000">a</text>
<text x="0.6" y="405.1" font-size="27" fill="#000">b</text>
<text font-size="10.5" fill="#111" textLength="79.6" lengthAdjust="spacingAndGlyphs" transform="translate(15.6 147.7) rotate(-90)">Transcript counts</text>
<text font-size="13.2" fill="#000" font-weight="bold" textLength="88.6" lengthAdjust="spacingAndGlyphs" transform="translate(10.4 328.3) rotate(-90)">PROTEASES</text>
<text font-size="13.8" fill="#000" font-weight="bold" textLength="84.2" lengthAdjust="spacingAndGlyphs" transform="translate(12.4 557.8) rotate(-90)">ORGANOIDS</text>
<text font-size="13.8" fill="#000" font-weight="bold" textLength="47.8" lengthAdjust="spacingAndGlyphs" transform="translate(12.2 804.6) rotate(-90)">TISSUE</text>
<text font-size="10.3" fill="#111" textLength="93.9" lengthAdjust="spacingAndGlyphs" transform="translate(26.7 622.2) rotate(-90)">Log expression level</text>
<text font-size="10.3" fill="#111" textLength="93.9" lengthAdjust="spacingAndGlyphs" transform="translate(26.7 898.2) rotate(-90)">Log expression level</text>
<text x="493.5" y="218" font-size="14.2" fill="#000" textLength="58.4" lengthAdjust="spacingAndGlyphs">Intestine</text>
<rect x="488.4" y="222.1" width="16.2" height="17" fill="#0000b4" stroke="#3a3a3a" stroke-width="0.9"/>
<rect x="488.4" y="240.9" width="16.2" height="16.7" fill="#8c8cff" stroke="#3a3a3a" stroke-width="0.9"/>
<text x="508.4" y="232.4" font-size="10.3" fill="#111" textLength="48.8" lengthAdjust="spacingAndGlyphs">Expansion</text>
<text x="508.4" y="252.5" font-size="10.3" fill="#111" textLength="68.8" lengthAdjust="spacingAndGlyphs">Differentiation</text>
<text x="600.6" y="218" font-size="14.2" fill="#000" textLength="33.8" lengthAdjust="spacingAndGlyphs">Nose</text>
<rect x="595.8" y="222.1" width="16.2" height="17" fill="#ff0000" stroke="#3a3a3a" stroke-width="0.9"/>
<rect x="595.8" y="240.9" width="16.2" height="16.7" fill="#ff8080" stroke="#3a3a3a" stroke-width="0.9"/>
<text x="615.6" y="232.4" font-size="10.3" fill="#111" textLength="48.8" lengthAdjust="spacingAndGlyphs">Expansion</text>
<text x="615.6" y="252.5" font-size="10.3" fill="#111" textLength="68.8" lengthAdjust="spacingAndGlyphs">Differentiation</text>
<text x="493.5" y="294" font-size="14.2" fill="#000" textLength="46.5" lengthAdjust="spacingAndGlyphs">Airway</text>
<rect x="488.4" y="299" width="16.2" height="16.4" fill="#005000" stroke="#3a3a3a" stroke-width="0.9"/>
<rect x="488.4" y="317.3" width="16.2" height="16.4" fill="#0a9664" stroke="#3a3a3a" stroke-width="0.9"/>
<rect x="488.4" y="336.1" width="16.2" height="16.8" fill="#46ebaf" stroke="#3a3a3a" stroke-width="0.9"/>
<text x="508.4" y="308.6" font-size="10.3" fill="#111" textLength="36.6" lengthAdjust="spacingAndGlyphs">Trachea</text>
<text x="508.4" y="326.9" font-size="10.3" fill="#111" textLength="44.6" lengthAdjust="spacingAndGlyphs">Bronchus</text>
<text x="508.4" y="346.8" font-size="10.3" fill="#111" textLength="51.5" lengthAdjust="spacingAndGlyphs">Bronchiole</text>
<defs><linearGradient id="gv" x1="0" y1="1" x2="0" y2="0"><stop offset="0" stop-color="#440154"/><stop offset="0.1" stop-color="#482475"/><stop offset="0.2" stop-color="#414487"/><stop offset="0.3" stop-color="#355f8d"/><stop offset="0.4" stop-color="#2a788e"/><stop offset="0.5" stop-color="#21918c"/><stop offset="0.6" stop-color="#22a884"/><stop offset="0.7" stop-color="#44bf70"/><stop offset="0.8" stop-color="#7ad151"/><stop offset="0.9" stop-color="#bddf26"/><stop offset="1" stop-color="#fde725"/></linearGradient><linearGradient id="gh" x1="0" y1="0" x2="1" y2="0"><stop offset="0" stop-color="#440154"/><stop offset="0.1" stop-color="#482475"/><stop offset="0.2" stop-color="#414487"/><stop offset="0.3" stop-color="#355f8d"/><stop offset="0.4" stop-color="#2a788e"/><stop offset="0.5" stop-color="#21918c"/><stop offset="0.6" stop-color="#22a884"/><stop offset="0.7" stop-color="#44bf70"/><stop offset="0.8" stop-color="#7ad151"/><stop offset="0.9" stop-color="#bddf26"/><stop offset="1" stop-color="#fde725"/></linearGradient></defs>
<g fill="none" stroke-linecap="round" transform="translate(37.5 413.5)">
<g stroke="#6a6a6a" stroke-width="2.9"><path id="p1" d="M61.8 59.8h0M24.1 34.5h0M93.8 35.4h0M66.3 69h0M95.4 36.1h0M71.3 58.1h0M66.8 67.7h0"/></g>
<g stroke="#34403e" stroke-width="2.84">
<path id="p2" d="M55.2 66.5h0M34.9 89.8h0M49.3 7.4h0M60.4 46.7h0M73.8 33.8h0M73.5 13.3h0M17.1 45.3h0M10.6 58.8h0M36.4 13.4h0M35.8 58.3h0M58.3 54.7h0M55.1 66.8h0M61.7 66.6h0M34.1 49h0M21.4 49.5h0M58.9 80.5h0M20.2 62.8h0M39.3 45.7h0M43 9.4h0M57.5 91.5h0M95.1 53.1h0M32.9 90.3h0M38.8 13h0"/>
<path id="p3" d="M25.2 54.7h0M39.4 9.1h0M12.1 57.5h0M96.4 35.3h0M59.3 65.3h0M59.1 23.4h0M62.4 64.5h0M34.7 37.4h0M58.8 81.2h0M52 56h0M28.7 38.1h0M28.3 37.1h0M26.6 35.9h0M27.8 33.9h0"/>
<path id="p4" d="M62.2 20h0M98.3 37.1h0M17.4 48h0M71.1 15h0M8.3 58.1h0M23.7 57.2h0M37.1 87h0M58.2 60.5h0M98 35.6h0M62.2 26.9h0M62.8 31h0M64.4 33.9h0M23.6 57.5h0M59.1 68.9h0M31.2 88h0M62.4 47.7h0M11.9 59.2h0M54.4 24.7h0M24.5 60.3h0M22.8 56.8h0M54.5 65.9h0M51.3 21.2h0M73.9 57.5h0M21.3 46.5h0M39.7 8.6h0M33.4 89.9h0M17.9 50.5h0M21.3 47.4h0M42.7 9.1h0M34.9 53.2h0M58.4 54.5h0M60.6 95.7h0M22 60h0M56.9 25.1h0M77 35.2h0M74.9 32.3h0M79.1 44.5h0M34.9 80.1h0M36.2 51.6h0M60.9 97.6h0M42.3 5.5h0M63 26.2h0M30.9 38.7h0"/>
<path id="p5" d="M57.3 64.8h0"/>
<path id="p6" d="M30.4 38.3h0M42.2 8.5h0M99.4 43h0M31.1 35.1h0"/>
<path id="p7" d="M59.5 69.9h0M86.3 45.5h0M67.6 66.5h0M13.5 59.8h0M57.7 97.4h0M59.6 92.8h0M59.7 96.9h0M52.2 97.8h0"/>
<path id="p8" d="M65.1 17.4h0M18.1 56.9h0M56.2 56.1h0M64.7 63.1h0M62.5 66h0M20.7 49.1h0M62.9 56.8h0"/>
<path id="p9" d="M78.9 44.6h0M85.4 43.4h0M32.9 51.8h0M96.2 53.7h0M51.8 22.6h0M99.2 32.3h0M70.9 59.4h0M37.5 12.1h0M20.8 59.6h0M80.1 43.7h0M52.5 20h0M20.8 64h0M30.7 36.9h0M62.7 81.5h0M24.4 62.7h0M17.5 62.8h0M70.1 15.3h0M36.4 47.7h0M59.5 60.8h0M97.2 36.2h0M25.6 37.2h0M38.1 9.4h0"/>
<path id="p10" d="M40.8 9.8h0M64.7 29.6h0M12.1 53.6h0M26.5 34.7h0M22.8 62.9h0M42.4 53.3h0M60.4 26h0M25.6 61h0M56.4 43.2h0"/>
</g>
<use href="#p1" stroke="#d6d6d6" stroke-width="2.3"/>
<use href="#p2" stroke="#21918c" stroke-width="2.3"/>
<use href="#p3" stroke="#7ad151" stroke-width="2.3"/>
<use href="#p4" stroke="#22a884" stroke-width="2.3"/>
<use href="#p5" stroke="#414487" stroke-width="2.3"/>
<use href="#p6" stroke="#fde725" stroke-width="2.3"/>
<use href="#p7" stroke="#355f8d" stroke-width="2.3"/>
<use href="#p8" stroke="#2a788e" stroke-width="2.3"/>
<use href="#p9" stroke="#44bf70" stroke-width="2.3"/>
<use href="#p10" stroke="#bddf26" stroke-width="2.3"/>
<g stroke="#6a6a6a" stroke-width="2.9"><path id="p11" d="M71.5 13.4h0M95.8 37.3h0M56 61.5h0M25.1 56.8h0M19.2 64.8h0M54.8 19.6h0M25.4 63h0M21.3 61.1h0"/></g>
<g stroke="#34403e" stroke-width="2.84">
<path id="p12" d="M81.5 46.1h0M29.5 54.5h0M56.7 26.3h0M36.1 50.9h0M42.8 10.5h0M56.7 93.6h0M76.3 12.4h0M102.7 47.7h0M41.8 46.6h0M35.5 49.1h0M57 55.8h0M61.6 52.6h0M63.3 67.7h0"/>
<path id="p13" d="M94.5 36.4h0M36.2 33.2h0M26.4 52.3h0M30.3 31.8h0M57.6 98.9h0M61.9 32.3h0M44.1 6.2h0M58 21.5h0M40.3 12.4h0M99.5 37.9h0M28.1 33.8h0M94 31.9h0M61.3 79.9h0M21.2 49.6h0M77.6 35.1h0M33 31.8h0M27 38.8h0M101.8 46.3h0M82.2 45.2h0M33.3 46.7h0"/>
<path id="p14" d="M61.6 73.9h0M61.5 67.2h0M59.6 58.3h0M24.9 56.3h0M71.8 32.2h0M64.8 71.9h0M58 63.9h0M60.1 27h0M37.5 44.8h0M17.9 61.8h0M36.3 14.5h0M59 24h0M59.1 93.8h0M53.5 25.3h0M60.8 64.3h0M59.1 88.8h0M44.6 9.2h0M28.6 58.2h0M65.5 69.4h0M60.1 71.2h0M60.7 71.3h0M46 49.9h0M67.9 69.5h0M61.6 60.5h0M54.3 55.4h0M43.2 48.5h0"/>
<path id="p15" d="M27.7 38h0M44.6 4.4h0M33.1 33.6h0M61.6 55.8h0M23.6 37.9h0M27.1 39.2h0"/>
<path id="p16" d="M38.7 53h0M37.7 53h0M59 58.1h0M62.2 71.9h0M85.4 45.1h0M56.5 73.5h0M33.5 89.4h0M27.2 38.3h0M98.2 44.9h0M41 10.7h0M25.5 54.6h0M67.8 14.3h0M56.6 55.2h0M30.9 53.8h0M63.2 81h0M33.2 83.7h0M58.2 22.8h0M53.4 97.7h0M51.4 21.4h0M42.2 9.8h0M39.7 10h0M41 11.2h0M54.7 72.2h0M59.9 26.7h0M60.7 93h0M60.9 72.8h0M24.2 64.5h0M27.2 53.1h0M60.5 87.2h0M63.8 85.5h0M24.8 56.9h0M32.6 48.3h0M34.8 84.1h0M39.5 12.4h0"/>
<path id="p17" d="M63.6 32.2h0M45.1 8.1h0M55.2 96.1h0M44.9 51.7h0M61.9 30.7h0M61.8 54.4h0M39.1 12.2h0M91.5 33.4h0M73.2 14.3h0M26.7 59.2h0M61.6 78.4h0M42.9 12.3h0M20.4 60.1h0M27.2 61.3h0M33.5 80.1h0M54.6 97.3h0M36 83.4h0M36.7 33.9h0M85.6 44.3h0M47.5 5h0M37.8 84.8h0"/>
<path id="p18" d="M30.8 32.7h0M30.3 36.9h0M43.7 3.7h0M53.4 44.8h0M54.2 44.9h0"/>
<path id="p19" d="M61.3 26h0M33.7 15.9h0M60.1 35.4h0M62.4 75h0"/>
<path id="p20" d="M57.1 31h0"/>
</g>
<use href="#p11" stroke="#d6d6d6" stroke-width="2.3"/>
<use href="#p12" stroke="#2a788e" stroke-width="2.3"/>
<use href="#p13" stroke="#7ad151" stroke-width="2.3"/>
<use href="#p14" stroke="#21918c" stroke-width="2.3"/>
<use href="#p15" stroke="#bddf26" stroke-width="2.3"/>
<use href="#p16" stroke="#22a884" stroke-width="2.3"/>
<use href="#p17" stroke="#44bf70" stroke-width="2.3"/>
<use href="#p18" stroke="#fde725" stroke-width="2.3"/>
<use href="#p19" stroke="#355f8d" stroke-width="2.3"/>
<use href="#p20" stroke="#482475" stroke-width="2.3"/>
<g stroke="#6a6a6a" stroke-width="2.9"><path id="p21" d="M72 16.6h0M77.2 14.5h0M37.7 52.4h0M38.8 48.5h0M61.3 79.5h0M92.2 35.8h0M18.4 49.7h0M36.6 10.7h0M40.6 59.6h0"/></g>
<g stroke="#34403e" stroke-width="2.84">
<path id="p22" d="M33.1 33.4h0M44.3 51.7h0M58.5 24.5h0M57.8 18.5h0M20.4 62.8h0M24.9 64h0M35.1 37.2h0M102.7 47.8h0M54.3 21.1h0M15.5 50.1h0M28.1 63.7h0M37.2 47.3h0M61.1 23.3h0M41.3 45.5h0M35.1 50.2h0M64 66.7h0M54.3 68.6h0M53.3 18.7h0M94.2 55.4h0M35.9 32.9h0M94.2 54.4h0M74.4 57.7h0M62.5 70.6h0M53.1 53.5h0"/>
<path id="p23" d="M60.4 68.3h0M34.8 87.6h0M33 80.6h0M18.2 47.6h0M99.6 43h0M82.5 43.7h0M29 53.6h0M54.4 23.8h0M44.2 53.1h0M57 58.3h0M61.7 82.1h0M32.3 50.1h0M30 54.4h0M46.1 10.4h0M36.7 50.4h0M92.7 35.9h0M47.1 9.7h0M33.3 88.9h0M73.8 34.4h0M68.7 15.5h0M61.3 96h0M98.1 51.5h0"/>
<path id="p24" d="M54.3 98.4h0M74 16.3h0M44 49.5h0M55.4 72.3h0M55.7 57.1h0M44.6 49.2h0M63.2 80.9h0M35.2 58.2h0M62.8 77.5h0M58.4 72.4h0M62.7 47.7h0M98.9 34.7h0M45.3 9.8h0M65.2 15.1h0M62.8 55.9h0M18 48.3h0M59.9 89.7h0M52.6 24.5h0M72.7 57.8h0M37.2 80.3h0M60.9 24.8h0"/>
<path id="p25" d="M99.9 32.8h0M42.6 4.9h0M44 6.8h0M34.2 81.4h0M61.3 58h0M44.7 55.8h0M62 25.1h0M63.2 44.2h0M64.4 23.6h0M62.2 21.8h0M33.6 48.4h0M62.7 56.5h0M19.6 59.7h0M42.2 5.5h0M57 60.6h0M60.7 47.1h0M49.5 7.5h0M15.5 59.8h0M40.4 5.7h0M73.5 33.7h0M55.3 100.1h0M27.6 57.4h0M56.3 66.8h0M58.9 20.9h0M91.2 33.6h0M58.1 21.7h0M38.9 9.6h0M45.9 4.7h0M36 54.9h0M32.8 52.3h0M75.7 34.8h0M59.4 73.8h0M62.8 72.8h0M63.7 30.7h0M72.4 31.6h0M44.7 48.7h0M55.3 60.9h0M10.2 60.8h0M43.2 50.6h0"/>
<path id="p26" d="M55.6 65.4h0M53.2 98.3h0M56.6 95.7h0"/>
<path id="p27" d="M35.8 36.9h0M45.3 7.7h0M26.6 36h0M57.4 44.4h0M54.7 45.6h0"/>
<path id="p28" d="M54.5 45.6h0M56.4 22.8h0M100.9 49.1h0M28.3 37.9h0M35.1 16.7h0M56.5 98.7h0M31.6 37.8h0M35.2 12h0"/>
<path id="p29" d="M60 84.1h0M42.3 50.8h0M27.6 60.4h0M59.6 80.4h0M63.1 84.4h0M54.6 71.8h0"/>
<path id="p30" d="M38.8 9.7h0"/>
</g>
<use href="#p21" stroke="#d6d6d6" stroke-width="2.3"/>
<use href="#p22" stroke="#7ad151" stroke-width="2.3"/>
<use href="#p23" stroke="#44bf70" stroke-width="2.3"/>
<use href="#p24" stroke="#21918c" stroke-width="2.3"/>
<use href="#p25" stroke="#22a884" stroke-width="2.3"/>
<use href="#p26" stroke="#355f8d" stroke-width="2.3"/>
<use href="#p27" stroke="#fde725" stroke-width="2.3"/>
<use href="#p28" stroke="#bddf26" stroke-width="2.3"/>
<use href="#p29" stroke="#2a788e" stroke-width="2.3"/>
<use href="#p30" stroke="#414487" stroke-width="2.3"/>
<g stroke="#6a6a6a" stroke-width="2.9"><path id="p31" d="M18.2 45.2h0M55.2 58.1h0M58.7 89.8h0M72.5 15.1h0M94.1 38.3h0M18.4 51.4h0M11.5 57.5h0M72.2 15.2h0M40.2 47.2h0M43.5 6.6h0M41.2 52.2h0M61.1 60.6h0M99.9 35.2h0M19.5 64.8h0M40.5 59.7h0"/></g>
<g stroke="#34403e" stroke-width="2.84">
<path id="p32" d="M36.8 80h0M93.5 34.3h0M27.2 64h0M58.7 73.5h0M99.7 37.1h0M36.8 57.8h0M63.3 34.6h0M42.7 45h0M66.9 33.1h0M47.9 6.1h0M54.2 95.4h0M101.5 44.9h0M59 84.7h0M36 81.7h0M22.2 57.8h0M58 96.7h0M91.4 35h0M61.4 69.5h0M63.3 83.7h0M38.6 49.7h0M60.1 86.3h0M41.5 10.8h0M77.7 35.5h0M56.9 21h0M75.2 16.8h0M63.2 32.9h0M60.2 23h0M55 18.1h0"/>
<path id="p33" d="M52.8 21.8h0M60.5 90.7h0M36.5 49.7h0M32 48.4h0M63.7 30.4h0M61.4 40.5h0M99.4 45.6h0M43.8 10.4h0M55.3 69.7h0M62.4 21.9h0M46.2 64h0M37.4 10.9h0M19.1 60.9h0M21.4 56.5h0M88.4 43.4h0M25.6 62.9h0M33 87.5h0M36.9 85.5h0M38.8 45.6h0M95.3 54.5h0M23.9 59.4h0M61.6 34.4h0"/>
<path id="p34" d="M40.6 9.6h0M61.2 22.2h0M18.3 62h0M85.7 44.8h0M90.7 35.8h0M24.5 56.1h0M47.3 3.9h0M72.1 31.9h0M60.7 36.7h0M61.2 41.3h0M44 57h0M26.8 33.1h0M87.1 42.9h0M12.2 60.6h0M12.2 53.1h0M39.1 10.4h0M24.9 36.2h0M65 70.7h0M65.6 16.1h0M63.7 36.6h0M75.8 10.8h0M17.6 47.1h0"/>
<path id="p35" d="M58.3 52.6h0M61.8 46.5h0M74.9 15.2h0M62.6 77.2h0M54.2 68.7h0M59.9 34.6h0M61.2 19.9h0M34.2 83.2h0"/>
<path id="p36" d="M100.6 43.3h0M61.7 72h0M20.8 57h0M40 10.7h0"/>
<path id="p37" d="M54 24.6h0M18.3 59.4h0M40 55.1h0M56.1 58.8h0M58.9 95.9h0M72.7 13.5h0M39 12.2h0M15.2 60.6h0M39.7 46.6h0M41.7 5.9h0M43.2 53.3h0M96.8 52.9h0M55.6 58.6h0M55.8 56.4h0M68.6 16.8h0M60.4 92.1h0M60.5 25.7h0M28.2 58.1h0M26 63.7h0M32.9 34.1h0M62.3 55.2h0M57.5 94.6h0M21.6 62.7h0M59.2 66.8h0M59.6 82.4h0M55.3 25.6h0M59.6 53.3h0M42.3 9.2h0M59.3 65h0M42.6 9.8h0"/>
<path id="p38" d="M55.5 44.1h0M78.3 45.8h0M75.6 11.2h0M54.5 43.9h0M93.7 38.2h0M81.8 44.6h0"/>
<path id="p39" d="M34.2 33.9h0M34.8 36.7h0M54.2 46.1h0"/>
</g>
<use href="#p31" stroke="#d6d6d6" stroke-width="2.3"/>
<use href="#p32" stroke="#22a884" stroke-width="2.3"/>
<use href="#p33" stroke="#44bf70" stroke-width="2.3"/>
<use href="#p34" stroke="#7ad151" stroke-width="2.3"/>
<use href="#p35" stroke="#2a788e" stroke-width="2.3"/>
<use href="#p36" stroke="#355f8d" stroke-width="2.3"/>
<use href="#p37" stroke="#21918c" stroke-width="2.3"/>
<use href="#p38" stroke="#bddf26" stroke-width="2.3"/>
<use href="#p39" stroke="#fde725" stroke-width="2.3"/>
<g stroke="#6a6a6a" stroke-width="2.9"><path id="p40" d="M30.4 53.1h0M60.8 84.1h0M44.8 57.2h0M61.4 62.8h0M61.6 83.7h0M43.5 60.8h0M98.2 46.7h0M57.9 55.2h0M69.4 14.7h0M60.3 80.5h0M73.9 14.5h0M39.6 50.7h0M75.1 32.8h0M57.4 96.2h0M86.4 42.8h0M61.5 54.6h0"/></g>
<g stroke="#34403e" stroke-width="2.84">
<path id="p41" d="M43.6 11.4h0M101.5 44.2h0M65.9 71.8h0M57.3 61.7h0M65.7 16.4h0M32 51.1h0M11.7 60.5h0M66.3 16.6h0M60.1 96.6h0M57.6 73h0M44.8 57.2h0M57.9 58.3h0M45.8 62.9h0M25.6 55.3h0M52.5 97.7h0M16.1 58.7h0"/>
<path id="p42" d="M31.7 37.5h0M62.1 74.7h0M96.1 53h0M11.9 58h0M65.5 67.9h0M34.6 80.3h0M33.2 32h0M47.9 2.9h0M60.2 92.3h0"/>
<path id="p43" d="M58.6 27h0M32.7 82.1h0M43.3 6h0M61.1 80.2h0M44.8 8.4h0M44.3 10.7h0M25.5 52.9h0M60.1 41.1h0M76.4 15.2h0M96.3 35h0M19.1 57.2h0M55.2 17.8h0M84.3 45.9h0M59.5 80.4h0M65.6 64.9h0M46.5 63.7h0M17.5 46.4h0M59.1 25.8h0M34.8 84.6h0M29 56.1h0M43.7 9.1h0M60.8 60.5h0M58 100.8h0M74.1 32.1h0M60.7 57.4h0M52.4 97.9h0M33.5 87.5h0M57.1 99.2h0M59.1 23h0"/>
<path id="p44" d="M49.3 4.4h0M37.3 10.5h0M19.6 60.3h0M35.9 79.3h0M63.7 31.8h0M42.6 46.3h0M40.3 14.7h0M58.8 20.1h0M57.3 55.8h0M34.1 24.9h0M60.8 65.6h0M43.8 11.4h0M21.9 49h0M43.8 6.9h0M61.6 39.3h0M82.4 46h0M38.2 52.3h0M63.1 58h0M35.4 47.9h0M60.5 41.7h0M42.9 11.3h0"/>
<path id="p45" d="M39.6 44.7h0M98.8 33.7h0M18.6 61.9h0M95.4 54.4h0M73.5 18h0M48.3 6.1h0M39.4 47.8h0M34.5 33.1h0M58.8 20.6h0M58.2 51.6h0M83.8 43.6h0M24.6 36.8h0M46 4.2h0M84.5 45.5h0"/>
<path id="p46" d="M62.3 58.1h0M18.5 48.3h0M25.8 55.8h0M45.3 11.4h0M60.3 88.2h0M63.9 56.3h0M32.9 85.1h0M37.4 47.6h0M63.8 71.8h0M25 56.9h0M35.7 80.5h0M36.2 86.6h0M37.6 14h0M62 34.2h0M66.3 66.5h0M63.4 32.4h0M35 13.5h0M34 50.1h0M18.1 64h0M19.6 58.3h0M42 44.7h0M17.9 58.2h0M36 51.7h0M59.7 81.2h0M74.5 31.5h0M63.1 56.8h0M61.5 27.3h0"/>
<path id="p47" d="M28 33.5h0"/>
<path id="p48" d="M56.2 26.1h0M57.8 97.2h0M63.4 70.3h0"/>
</g>
<use href="#p40" stroke="#d6d6d6" stroke-width="2.3"/>
<use href="#p41" stroke="#2a788e" stroke-width="2.3"/>
<use href="#p42" stroke="#bddf26" stroke-width="2.3"/>
<use href="#p43" stroke="#22a884" stroke-width="2.3"/>
<use href="#p44" stroke="#44bf70" stroke-width="2.3"/>
<use href="#p45" stroke="#7ad151" stroke-width="2.3"/>
<use href="#p46" stroke="#21918c" stroke-width="2.3"/>
<use href="#p47" stroke="#fde725" stroke-width="2.3"/>
<use href="#p48" stroke="#355f8d" stroke-width="2.3"/>
</g>
<rect x="37.5" y="413.5" width="104.6" height="105.1" fill="none" stroke="#111" stroke-width="1.15"/>
<text x="58.3" y="410.9" font-size="12.6" fill="#1a1a1a" font-style="italic" stroke="#1a1a1a" stroke-width="0.22" textLength="53" lengthAdjust="spacingAndGlyphs">TMPRSS2</text>
<rect x="120.6" y="477.2" width="3.4" height="40.2" fill="url(#gv)"/>
<text x="128.1" y="483.3" font-size="9.5" fill="#111">2</text>
<text x="124.9" y="516.7" font-size="9.5" fill="#111">-4</text>
<g fill="none" stroke-linecap="round" transform="translate(37.5 681.4)">
<g stroke="#6a6a6a" stroke-width="2.9"><path id="p49" d="M51.6 60.6h0M44.5 7.7h0M37.2 40.3h0M48.5 54.4h0M50.5 72.5h0M37 38.8h0M65.2 74.5h0M31.3 28.4h0M24.2 26.4h0M75.6 62.9h0M36.5 86.9h0M52.7 22h0M52.4 22.9h0M24.8 13.1h0M18.7 12.8h0M11.2 74.5h0M22.4 23.6h0M34.2 81.7h0M37.1 33.3h0M42.8 21h0M27.9 27.2h0M36.8 70h0M37.4 48.1h0M39.7 21.4h0M88.6 48.6h0M28.3 68.1h0M31.7 44.8h0M12.1 62.1h0M27.1 35.6h0M41.1 73.9h0M45.8 76.9h0"/></g>
<g stroke="#34403e" stroke-width="2.84">
<path id="p50" d="M38.6 65.5h0M11.7 70.5h0M11.4 55.5h0M17.4 14.1h0M43.4 30.5h0M10.2 73.5h0M28.4 10.1h0M16.6 69.9h0M41.1 22.9h0M24.5 71.7h0M25.5 93.8h0M37.6 28h0M16.9 65.2h0M67.7 54.3h0M38.4 25.5h0M60.9 69.7h0M44.4 5.6h0M30.3 29.8h0M54.3 19.9h0M21.3 6.9h0M34.1 35.7h0M45.2 18.9h0M21.2 77.6h0M35.1 43.5h0M76.4 44h0M22.5 62.7h0M37.2 10.4h0M45.9 20.1h0M69.2 46.9h0M40.4 86.8h0M45.6 33.3h0M3.5 63.5h0M42.8 9.3h0M38.1 12.5h0M72 53.2h0M20.8 18.4h0M26 69.4h0M7.6 66.7h0M47.4 71.6h0M38.5 60.2h0M48.3 51.8h0M39.2 84.7h0M45.5 46.4h0M21.8 87.2h0M15.7 74h0M23.2 97h0M11.6 60h0M5.7 66.2h0M27.8 35h0M50.2 8h0M34.5 90.6h0M28.6 13.3h0M27.1 21.7h0M52.1 25.5h0M40 50.6h0M41.8 71h0M49.1 22.4h0M30.7 87.1h0M100.8 80.5h0M48.6 70.4h0M30.3 83.2h0M22.3 23.1h0M29.6 71.9h0M38.6 8.2h0M47.2 56.9h0M29.7 29.2h0M22.4 10.1h0M16.9 86.6h0M43.2 76h0M36.6 38h0M21.7 19.7h0M34.1 83.7h0"/>
<path id="p51" d="M50.9 52.5h0M55.9 77.6h0M20.6 70.2h0M48.5 49.4h0M50.6 62.2h0M33.9 83.1h0M32.9 98.2h0M29.5 18.8h0M28.6 10h0M33 33.1h0M31.1 45.5h0M17.4 84.6h0M25.9 78.5h0M45.3 48.2h0M37.9 53.7h0M44 22.1h0M50.1 73.1h0M20 81.1h0M16.5 62.9h0M39.1 28h0M28.5 23.2h0M27.4 69.7h0M45.4 78.5h0M35.4 30.2h0M7.6 65.1h0M16.2 21.2h0M29.2 78.2h0M20.7 64.9h0M28.9 85h0M16.1 81.2h0M29.6 22.4h0M72.6 45.1h0M44.2 43.1h0M8 57.8h0M41.1 9.9h0M27.9 24.6h0M42.5 38.9h0M29.6 85.7h0"/>
<path id="p52" d="M23.3 20.3h0M75.9 44.8h0M70.8 59.3h0M52 14.8h0M44.1 69.6h0M30 24h0M31.1 9h0M51.7 27.9h0M93.1 71.6h0M45.6 38.5h0M31.7 44.9h0M74.3 45.3h0M50.5 26.1h0M29.1 20.8h0M79.5 47h0M41.1 4.7h0M22 21.5h0M33.7 2.6h0M32.6 33.6h0M29.5 12.4h0M36.4 12.7h0M70.6 53.7h0M43.1 10.9h0M43.8 8.5h0M23.2 21.9h0"/>
<path id="p53" d="M42.2 56.4h0M45.2 16.9h0M17.1 71.2h0M26.2 4.4h0M37.8 75.2h0M18.6 17.2h0M84.3 52h0M45.4 4h0M78 55.6h0M25 20.2h0M9.7 57.6h0M58.5 71.1h0M52.1 58h0M48.6 55.1h0M29 99.5h0M47.5 11.2h0M42.4 38.7h0M80.8 54.1h0M47.1 82.1h0M35.2 76.3h0M30.6 6.2h0M51.6 47.5h0M20.5 8.6h0M35.6 88h0M29 103.1h0M41.2 33.8h0M16.1 11.2h0M14.1 83.3h0M49.2 10.9h0M45.4 47.8h0M80.5 51.5h0M55.6 75h0M23.3 10.8h0M25.1 15.2h0M48.8 53.4h0M36.9 6.5h0M41.4 77.8h0M44.4 37.3h0M37.2 31.5h0M32.9 93.2h0M48.8 20h0M32.3 7.4h0M36 93.9h0M86.7 54h0M71.9 65.8h0M14.2 66.1h0M47.9 41.7h0M35.1 6.4h0M58.5 72.6h0M85.2 46.7h0"/>
<path id="p54" d="M10.8 58.6h0M40.6 63.6h0M33.9 90.3h0M8.4 56.6h0M34.3 44.7h0M48.7 73.2h0M20.6 95.4h0M43.6 58.9h0M30.8 101.8h0M8.7 60h0M10.3 82.6h0M5.7 67.7h0M19.9 91.1h0"/>
<path id="p55" d="M38.2 92.9h0M29.2 87h0M30.2 69.8h0M42.5 56.5h0M33.9 101.6h0M50.8 64.8h0M31 86.7h0M43 71.7h0M9.6 73.4h0M23 11.3h0M8.8 56.7h0M40.1 63.8h0M10.4 80h0M29.7 68.4h0M47.7 75h0M23.5 71.2h0M33.7 80.8h0M8.6 60.3h0M11.3 79.6h0M39.2 41.4h0M45.9 54.8h0M36.9 73h0M21.7 77.8h0M26.4 81.6h0M33.2 34.6h0M35.4 63.2h0"/>
<path id="p56" d="M43 41.1h0M74.3 50.7h0M79.8 53.8h0M71.8 61.8h0"/>
<path id="p57" d="M35 19.8h0M44.6 18.4h0M35.3 11.1h0M32.2 5.5h0M88.2 56.1h0M10.4 63.7h0M83.2 53h0"/>
<path id="p58" d="M91.5 68.2h0"/>
<path id="p59" d="M21.1 66.6h0M15 66.4h0"/>
</g>
<use href="#p49" stroke="#d6d6d6" stroke-width="2.3"/>
<use href="#p50" stroke="#22a884" stroke-width="2.3"/>
<use href="#p51" stroke="#44bf70" stroke-width="2.3"/>
<use href="#p52" stroke="#2a788e" stroke-width="2.3"/>
<use href="#p53" stroke="#21918c" stroke-width="2.3"/>
<use href="#p54" stroke="#bddf26" stroke-width="2.3"/>
<use href="#p55" stroke="#7ad151" stroke-width="2.3"/>
<use href="#p56" stroke="#414487" stroke-width="2.3"/>
<use href="#p57" stroke="#355f8d" stroke-width="2.3"/>
<use href="#p58" stroke="#482475" stroke-width="2.3"/>
<use href="#p59" stroke="#fde725" stroke-width="2.3"/>
<g stroke="#6a6a6a" stroke-width="2.9"><path id="p60" d="M52.1 16h0M15.2 75.6h0M43.8 53.5h0M30.2 91.4h0M26.2 21.4h0M6.7 54.9h0M35.9 88.9h0M16.8 18.4h0M51.3 60.1h0M16.6 90.5h0M48.7 61.6h0M28.6 13.5h0M53.6 26.2h0M76.1 57.9h0M83.8 46.4h0M39.8 46.9h0M4.5 59.3h0M17.5 14.3h0M23.1 16.7h0M27.7 65.4h0M33.9 27h0M58.7 71.6h0M40.8 25.7h0M16.5 85h0"/></g>
<g stroke="#34403e" stroke-width="2.84">
<path id="p61" d="M35.2 92.9h0M85.8 61.4h0M15.8 82.7h0M24.3 68.7h0M41.2 87h0M14.1 67.8h0M40.5 44.1h0M46.9 7.4h0M33.6 93.5h0M52.1 79.2h0M11.5 53.5h0M44.9 30.3h0M13.1 64.1h0M24.2 65.8h0M32.1 92.4h0M40 92.3h0M51.8 28.4h0M4.7 60.1h0M26.8 10.8h0M48.1 33.1h0M34.7 62h0M31.4 82.1h0M36 80.1h0M25.2 8.4h0M43.1 76.3h0M94.1 70h0M48.4 48.2h0M48.2 72.8h0M45.9 5.7h0M36.5 81.8h0M52.3 66h0M18.1 79.3h0M61.7 70.5h0M32.1 38.4h0M20.2 75.6h0M15.4 77.4h0M43.5 33h0M34 92.5h0M20.1 63.2h0M47.9 76.4h0M23.3 93.9h0M11.2 60.7h0M40.9 66.8h0M43.2 81.6h0M14.7 73.2h0M42.3 62.3h0M87 55.6h0M90.8 69.4h0M27.3 16.3h0M14.6 66.6h0M55.3 71.2h0M34.9 46.5h0M53.3 80.1h0"/>
<path id="p62" d="M27.8 6h0M25.7 32h0M45.1 67.9h0M87.9 64.4h0M9.9 74.3h0M44.1 34.6h0M31.3 44.2h0M73.2 59h0M34.9 14.6h0M33.6 3.5h0M10.8 65.6h0M29.7 31h0M46.7 36.8h0M29.7 98.6h0M4.1 54.7h0M57.5 74.3h0M50.5 12.3h0M45 8.5h0M49.1 8.1h0M71.7 48.5h0M22.3 74.6h0M19.5 62h0M33 6.1h0M44.9 38.6h0M48.2 5.5h0M25.2 72.6h0M21.4 62.6h0M25.9 95.2h0M49.6 62.1h0M72.6 58.6h0M52.6 75.9h0M14.5 67.3h0M41.2 64.9h0M45.8 7.1h0M36.1 51.3h0M27 80.3h0M48.8 9.6h0M24.4 28.8h0M36.4 19.3h0M13.4 88.8h0M41.6 12.4h0M34.9 0.3h0M24.9 18.8h0M33.1 31.4h0M41.9 54.3h0M27.6 8.8h0M86.8 65h0M40.4 73.7h0M1.8 56.6h0M9.3 56.1h0M34.9 81.5h0M79.4 58.7h0M21.1 18.1h0M41.8 73h0M52.5 67h0M37.2 39.3h0M35 93.1h0M44.1 17.8h0M20.6 21h0M41.6 52.6h0M38.7 71.7h0M29.9 14.6h0M81 54.6h0M81.8 49.8h0M24.5 17.5h0M39.7 5.3h0M33.8 21.8h0M33.3 11.6h0M43.9 34.8h0M42 27.1h0"/>
<path id="p63" d="M27.3 15.2h0M27.6 10.9h0M43.6 79.1h0M26.7 6.4h0M32.5 15.2h0M44.7 47.2h0M20.6 77.8h0M73.8 46.6h0M47.2 15.4h0M45.6 37.5h0M37.3 80h0M52.4 77.9h0M40.4 19.7h0M53.1 72.2h0M31.3 85.3h0M27.8 35.3h0M42.3 44h0M37 3.4h0M42.7 76.5h0M38.3 72.9h0M37.3 9.3h0M40.8 4.7h0M49.9 81.3h0M53.5 18.9h0M27.5 29.8h0M19.7 68.4h0M42.2 16.7h0M30.7 13.4h0M97.9 75.3h0M39.6 19.3h0M21.3 14h0M35.2 76.3h0M51.4 53h0M73.3 65.1h0M3.7 57.5h0M42.7 14.5h0M28.1 29.1h0M62.9 73.4h0M22.8 22h0M76.5 64.4h0M25.7 11.5h0M25 26.1h0M38.5 48.7h0M46.3 57.2h0M45.9 47h0M47.4 58.3h0M24.3 29.3h0"/>
<path id="p64" d="M67.1 58.5h0M73.6 48.3h0M78 59.5h0M54.2 9.7h0M70 49.2h0M74.3 47.4h0M24.6 24.6h0"/>
<path id="p65" d="M77.3 53.6h0M35.8 97.5h0M46.5 26.4h0M49.2 10.4h0M22 8.8h0M55 71h0M41.8 63.3h0M32.5 92.5h0M91 71h0M80 51.3h0M44.5 13.6h0M45.8 6.8h0M17.2 68.2h0M27.6 65.7h0M4.1 67.9h0M86.9 59h0M95.9 72.5h0M21.8 9.7h0M28.6 13.9h0M41.5 58.8h0M22.1 67.5h0M43.3 10.2h0M59.6 72.2h0M50.7 69.2h0M29.9 30.3h0"/>
<path id="p66" d="M29.2 91.1h0M42.1 74h0M8.6 62.4h0M6.6 64.1h0M8.1 66h0M23.2 85.8h0M37.8 84h0M44.5 39.6h0M17.8 72.2h0M6.2 56.8h0M30.3 70.5h0M35.9 16.3h0M9.5 60.9h0M6.1 68.4h0M13.5 81h0M15.8 69.2h0M22.2 88.1h0M36.3 78.8h0M38.6 4.4h0M13 83.3h0M33.2 98.7h0M34.9 83.6h0M29.5 98.1h0M22.1 92.8h0M17.1 83.4h0M75.7 62.8h0M20 95h0"/>
<path id="p67" d="M98.9 79.4h0"/>
<path id="p68" d="M16.8 69.2h0M25 90.1h0M53.5 69.5h0M39.2 53.8h0M26.7 99.7h0M41.3 58.8h0M14.6 67.7h0M23.8 67.4h0M38.4 70.5h0M32.7 101.1h0M12.4 61.4h0M47.4 81.8h0M30.3 95.3h0"/>
<path id="p69" d="M42 20.3h0M83.3 53h0"/>
</g>
<use href="#p60" stroke="#d6d6d6" stroke-width="2.3"/>
<use href="#p61" stroke="#44bf70" stroke-width="2.3"/>
<use href="#p62" stroke="#22a884" stroke-width="2.3"/>
<use href="#p63" stroke="#21918c" stroke-width="2.3"/>
<use href="#p64" stroke="#355f8d" stroke-width="2.3"/>
<use href="#p65" stroke="#2a788e" stroke-width="2.3"/>
<use href="#p66" stroke="#7ad151" stroke-width="2.3"/>
<use href="#p67" stroke="#440154" stroke-width="2.3"/>
<use href="#p68" stroke="#bddf26" stroke-width="2.3"/>
<use href="#p69" stroke="#414487" stroke-width="2.3"/>
<g stroke="#6a6a6a" stroke-width="2.9"><path id="p70" d="M41.3 37.6h0M80.7 51.8h0M46.8 24.7h0M78.1 56.2h0M43.1 29h0M50.6 18.9h0M31 20.8h0M26.1 15.3h0M10.7 73.6h0M78 58.7h0M86.8 57.7h0M28.7 33.3h0M34.6 51.4h0M24.5 17.1h0M14.4 79.6h0M37 7.2h0"/></g>
<g stroke="#34403e" stroke-width="2.84">
<path id="p71" d="M75.4 47.9h0M43.8 77.9h0M80.8 58.7h0M90.8 68.3h0M23.7 4.2h0M33.8 48.1h0M37.3 82.3h0M47.2 53.5h0M48.2 18.1h0M20.4 65.9h0M37.8 48.2h0M40.7 74.3h0M22.3 63.4h0M23.5 14.7h0M33.3 37h0M32 87.2h0M10.9 72.9h0M26.4 96.6h0M46.8 5.5h0M18.6 93.9h0M39.5 18.8h0M52.2 21h0M38.4 72.4h0M46.7 53.2h0M38.2 30.4h0M10.5 66.8h0M26 2.7h0M11.3 81.1h0M33.9 92.4h0M45.9 40.2h0M33.5 34.7h0M41.7 14.8h0M33.7 10.5h0M32.7 90.7h0M43 72.6h0M46.6 35.4h0M53.4 70.8h0M40 73.4h0M42 7.2h0M45.5 80.4h0M46 21.5h0M44.5 10.5h0M56.3 75.1h0M29 24.6h0M21.8 94.1h0M21.9 75.1h0M84 61.6h0M16.3 64.5h0M15.6 64.4h0M43.5 37.3h0M61.5 71.9h0M17.3 69.7h0M51.5 13.3h0M14.5 55.2h0M23.9 79.9h0M42.2 68.7h0M32.3 18.8h0M22.3 83.2h0M21.4 64.7h0M45 25.7h0M42.3 66.4h0"/>
<path id="p72" d="M34.7 39.8h0M75.5 49h0M86.1 57.6h0M31.5 80.5h0M24.9 85h0M28.5 11.3h0M76 63.5h0M3.1 59.8h0M50.6 8.8h0M42.2 82.4h0M42 14.2h0M9.4 64.2h0M47.9 40.4h0M39.2 35.8h0M20.6 6.8h0M17.1 14.4h0M67.8 48.6h0M48.3 25.2h0M41.3 86.8h0M20.1 13.4h0M41.7 84.4h0M36.8 4.7h0M44.4 32.6h0M54.9 78.3h0M4.5 57.8h0M19.4 93.2h0M15.1 74.3h0M32.7 5.1h0M35 27.5h0M24.6 26.1h0M97.9 74.7h0M18.2 16h0M48.5 74.4h0M8.2 77.2h0M41.5 57.4h0M46.7 49.9h0M20.5 20.3h0M45.1 51.7h0M26 28.2h0M25.2 66.9h0M48.6 28.7h0M26.1 68.1h0M37.9 36.4h0M45.1 6h0M27.8 34.1h0M25.6 29.4h0M30.2 94.7h0M21.3 16.9h0M71 65.4h0M69.3 54.4h0M101.2 79.7h0M22.4 19h0M63 72.5h0"/>
<path id="p73" d="M38.5 73.2h0M20.3 76.9h0M39.1 88.6h0M16.4 71.9h0M49.8 42.9h0M29 16.1h0M16.1 64.6h0M88 57.4h0M31.2 4.7h0M18.5 74.8h0M49.1 29.6h0M25.9 80.9h0M78.4 53h0M9.7 74.5h0M16.9 60.9h0M32.6 9.7h0M33.5 96.8h0M27.8 76.2h0M34.2 38.8h0M39 86.5h0M45.9 73.6h0M33.9 69.3h0M3.8 55.4h0M49.1 71.2h0M37.6 47.9h0M48.1 61.5h0M4.9 65.2h0M13.2 72.1h0M58.2 78.6h0M24.2 81.5h0"/>
<path id="p74" d="M18.2 96.5h0M52.2 15.1h0M37.8 17.4h0M34.5 87.1h0M54.1 17.6h0M29.2 90.4h0M7.4 69.6h0M50.6 65.4h0M12.6 57.3h0M26.2 73.4h0M19.9 94.7h0M44.9 40.4h0M14.9 58.4h0M19.3 84.8h0M48.8 24h0M3.3 62.5h0M7.6 64.9h0M8.5 75h0M87 59.8h0M47.5 35.5h0M46.6 41.3h0M30.8 85.9h0M50.8 77.5h0M86.2 52.1h0M22.2 7.8h0M48.3 29.6h0M13.9 76.9h0M7 57.1h0M36.2 82.4h0M31.2 20.8h0M30.1 91.7h0M44.7 75.2h0M37.9 70.1h0M99.3 80.5h0M29.9 86.6h0M49 54.7h0M6.6 62.4h0M10.2 79.9h0M40.8 89.7h0M47 39.5h0M29.9 25.5h0M48.6 70.6h0M23.6 96.2h0M42.4 60.9h0M25.4 13.5h0M38.2 48.8h0M86.4 59.9h0M26.1 94h0M48.6 66.5h0M9.2 64.6h0M50.7 65.9h0M46.4 30.7h0M12.4 54.6h0M26.5 16.2h0M54.2 74.3h0M40.7 7.9h0M31.6 89.9h0"/>
<path id="p75" d="M70.3 51.9h0M51.6 75.9h0M49.6 45.4h0M39.9 6h0M25.7 83.9h0M37.3 42.2h0M89.7 51h0M26.1 17.4h0M20.2 21.7h0M81.2 48.4h0M26.5 21h0M88.7 48.4h0M24.3 16.5h0M81.6 52.4h0M22.2 12.6h0M31.6 76.2h0M101.3 77.4h0M41.5 2.4h0M65.8 53.7h0M70.4 60h0M43.3 40.9h0M49.1 26.9h0M83.7 46.7h0M51.1 24.1h0M32.5 17.3h0M87.4 64.8h0M53.7 19h0M78.3 49h0"/>
<path id="p76" d="M44.6 4h0M83.5 51.5h0M33.1 99.7h0M33.9 30.2h0M46.1 81.5h0M50.1 69.1h0M30.6 93.7h0M93.4 68.9h0M56.3 19.7h0"/>
<path id="p77" d="M74.6 64.2h0"/>
<path id="p78" d="M96.2 77.9h0M33.6 102.1h0M42 64.1h0"/>
<path id="p79" d="M12.2 71.9h0M23 87.8h0M14.6 57.1h0M43.9 56.7h0M24.6 77.3h0M20.8 64.1h0M5.3 66.9h0M21.1 69.3h0M52.8 49.5h0"/>
<path id="p80" d="M79.8 58.3h0M98.3 77.9h0"/>
</g>
<use href="#p70" stroke="#d6d6d6" stroke-width="2.3"/>
<use href="#p71" stroke="#22a884" stroke-width="2.3"/>
<use href="#p72" stroke="#21918c" stroke-width="2.3"/>
<use href="#p73" stroke="#7ad151" stroke-width="2.3"/>
<use href="#p74" stroke="#44bf70" stroke-width="2.3"/>
<use href="#p75" stroke="#2a788e" stroke-width="2.3"/>
<use href="#p76" stroke="#355f8d" stroke-width="2.3"/>
<use href="#p77" stroke="#414487" stroke-width="2.3"/>
<use href="#p78" stroke="#fde725" stroke-width="2.3"/>
<use href="#p79" stroke="#bddf26" stroke-width="2.3"/>
<use href="#p80" stroke="#482475" stroke-width="2.3"/>
<g stroke="#6a6a6a" stroke-width="2.9"><path id="p81" d="M22.2 67h0M50.4 78.7h0M32.8 15.1h0M35.1 25.5h0M40.3 37.5h0M99.3 79.7h0M21.3 26.2h0M22.7 62.6h0M57.5 73.6h0M25.9 93.7h0M41.3 60.8h0M43.5 20.2h0M28.5 15.9h0M24.5 6.5h0M80.3 51.5h0M34.9 90.1h0M83.6 53.4h0M24.8 30.9h0M12.5 88.5h0M33.6 13.5h0M32.6 30.2h0M55.1 14.9h0"/></g>
<g stroke="#34403e" stroke-width="2.84">
<path id="p82" d="M39.2 27.7h0M22.5 79.1h0M13 57.7h0M36.2 35.7h0M26.1 70.7h0M30.5 73h0M29.4 30.6h0M12 62.2h0M34.5 79.4h0M29.6 86.9h0M48.4 69.6h0M22.7 91.4h0M33.9 43.5h0M37.2 82.1h0M31.5 74.3h0M13.2 61.1h0M23.5 21.1h0M53.2 7.6h0M29.1 77.2h0M13.4 69.8h0M48.2 76.2h0M66.4 72.2h0M19.4 67.6h0M45.3 59.8h0M30 71.9h0M25 97.2h0M10.6 56.9h0M14.6 82.1h0M29.9 90.2h0M19.9 78.8h0M18.2 65.8h0M11.9 69.1h0"/>
<path id="p83" d="M48.2 31.2h0M46.1 42.5h0M85.2 49.9h0M47.8 52h0M47.7 51.9h0M49.5 15.3h0M3.7 63.7h0M22.4 5.6h0M50.2 54.2h0M43.7 21.9h0M21.2 16.1h0M41.1 17.7h0M16.5 67h0M40.3 23.5h0M33.3 91h0M37.3 5.1h0M28.7 87.8h0M48.2 18.7h0M39.2 46.6h0M34.1 47.6h0M41.2 53.4h0M35.8 95.1h0M30.9 35.8h0M13.6 87.9h0M22.1 93.7h0M12.8 86.4h0M60.2 76.3h0M27.3 89.1h0M11.3 77.9h0M30.8 87.3h0M26.1 34.8h0M83.3 59.8h0M55.2 76.2h0M48.3 58.2h0M14.6 57.3h0M35.7 70.1h0M21.5 78.6h0M48.4 80.8h0M50.6 58.3h0M64.4 71.1h0M45.6 82h0M52.1 23h0M27.9 71.5h0M76.3 44.3h0M5.2 64.5h0M21.6 27.1h0M16.5 61.4h0M38 37.2h0M36.8 26.9h0M23.2 22.3h0M16.4 57.4h0M29.5 69.7h0M92 70.6h0M25.3 96.8h0M42.4 42.9h0M45.9 74.2h0M28.1 13.1h0M19.6 9.2h0M68.4 57.7h0M32.8 37.1h0M50.4 22.5h0M85.3 58.4h0M45.3 60.5h0M39.2 85h0M83 46.7h0M30.9 22.7h0M6.7 57.4h0M41.9 8.4h0M17.7 21.5h0M20 86h0M33.4 14.9h0M50.5 22.5h0M26.4 13.8h0M38.2 69.5h0"/>
<path id="p84" d="M17.4 70.4h0M53.5 64h0M39.1 66.6h0M24 71h0M28.5 72.6h0M43.1 8.7h0M63.9 69.9h0M43.4 47.3h0M28.1 98.7h0M10.5 59.6h0M22 69.1h0M14.8 81.1h0M23.4 69.1h0M48.4 50.3h0M40.8 38h0M21.1 94.1h0M89.1 67.5h0M24.1 26.4h0M28.8 93.9h0M32.3 80h0M27.1 90.8h0M50.1 80.8h0M34.3 19.5h0M32 73.7h0M30.9 94.1h0M46.7 56.9h0M28.6 70.5h0M20.5 85.9h0M37.1 97.2h0M68.5 56.4h0M72 59.9h0M39.2 33.4h0M53.1 79.6h0M49.2 61.2h0M12.1 75.2h0M41.3 90.3h0M29.1 27.7h0M64.8 73.5h0"/>
<path id="p85" d="M72.9 62.7h0M40.6 81.9h0M22.5 13.3h0M29 102.6h0M73.2 47.4h0M74.5 50.2h0M6.6 54.2h0M94 73h0M50.2 77.5h0M77.3 59.9h0M86.5 52.8h0M30.4 35.8h0M26.9 6.7h0M41.7 21.1h0M57 75.3h0M30 25.7h0M10 60.6h0M24.5 33h0M101.1 77.3h0M16.4 82.3h0M38.2 8.5h0M38.6 70.5h0M16.8 11.7h0M25.6 10.3h0"/>
<path id="p86" d="M7.9 55.4h0M27.4 99.8h0M28.1 69.6h0M23.9 86.5h0M24 70.1h0M19.3 69.5h0M5.7 55.3h0M22.2 82.4h0M4 64.5h0"/>
<path id="p87" d="M18.2 8.8h0M80 49.8h0M44.2 6.6h0M25.9 70.8h0M43.2 76.9h0M67.5 54h0M27 28.7h0M25.2 10h0M18.2 17.5h0M34.5 51.9h0M67.8 54.5h0M88.4 56.9h0M23.6 11.6h0M38.5 39.7h0M24.5 91.8h0M42.3 11.1h0M45.8 80.1h0M38.1 30h0M26.2 13.7h0M53.1 78.7h0M7.9 69.6h0M33.6 82.4h0M36.4 2.4h0M36.5 81.1h0M58.4 78.4h0M35.8 2.1h0M35.7 79.8h0M46.7 78.1h0M69.6 60.5h0M35.5 37.1h0M13.4 66.9h0M42.2 50.6h0M32.5 36.5h0M34.2 31.2h0M50.8 79.9h0M5.1 64.6h0M33.9 77.7h0M80.3 55.3h0M88 53.6h0M18 18.5h0M43 21h0M48.7 45.3h0M26 66.1h0M36.4 66.5h0M70 63.3h0M35.7 33.1h0M46.8 28.8h0M28.1 19.4h0M43.8 33.5h0M32.6 31.7h0M32.5 21.6h0M24.2 72.4h0M37.2 49.5h0M90.2 54.8h0M34.7 23.4h0M75.1 56.8h0M18 85.1h0M8.8 64.7h0M24.2 26.7h0"/>
<path id="p88" d="M21.5 73.8h0M89.7 65h0M36.9 6.9h0M79.2 54.1h0M89.4 54.2h0M41.6 66.5h0M44.4 59.1h0"/>
<path id="p89" d="M74.2 52.1h0M78.6 59.1h0"/>
<path id="p90" d="M22.8 67.9h0M14.1 74.5h0"/>
</g>
<use href="#p81" stroke="#d6d6d6" stroke-width="2.3"/>
<use href="#p82" stroke="#7ad151" stroke-width="2.3"/>
<use href="#p83" stroke="#22a884" stroke-width="2.3"/>
<use href="#p84" stroke="#44bf70" stroke-width="2.3"/>
<use href="#p85" stroke="#2a788e" stroke-width="2.3"/>
<use href="#p86" stroke="#bddf26" stroke-width="2.3"/>
<use href="#p87" stroke="#21918c" stroke-width="2.3"/>
<use href="#p88" stroke="#355f8d" stroke-width="2.3"/>
<use href="#p89" stroke="#414487" stroke-width="2.3"/>
<use href="#p90" stroke="#fde725" stroke-width="2.3"/>
<g stroke="#6a6a6a" stroke-width="2.9"><path id="p91" d="M57 75.7h0M54.1 27.7h0M34.3 32.9h0M40.3 26.2h0M75.2 57.6h0M76.2 45.5h0M17.8 22.1h0M52.8 80.5h0M38.8 41.8h0M88.2 53h0M34.2 8.5h0M42.3 5h0M54 65.5h0M87.3 53.2h0M13.9 80.4h0M24.2 33.1h0M52.6 17.4h0M75.5 46.5h0M37 12.1h0M56.1 73.3h0M18.3 8h0M42.5 2.9h0M47.3 71.8h0M33 72.2h0M36.2 88.1h0M45.6 31.7h0M50.7 9.4h0M46.3 52.9h0M34.8 63.1h0"/></g>
<g stroke="#34403e" stroke-width="2.84">
<path id="p92" d="M81.3 57.8h0M35.1 16.2h0M20 89.6h0M46.9 18.6h0M4.3 64.8h0M29 34.1h0M27.6 32h0M45.8 11.7h0M47.7 79.3h0M53.2 75.4h0M38.9 99.4h0M47.7 71.9h0M72.1 56.1h0M62.5 66.6h0M40.8 16.2h0M42.4 19.3h0M40.6 16.2h0M11.5 59.6h0M6.8 64.7h0M35.8 8.4h0M44.6 61.9h0M41.1 46.1h0M42.6 64.5h0M29.2 5.6h0M30.7 76.5h0M84.1 53.5h0M18.8 83.9h0M46.2 59.2h0M35.8 45.6h0M45.2 23.2h0M21.5 70.3h0M35.3 80h0M28.9 19.7h0M19.3 91.7h0M35.8 31.6h0M72.7 62.5h0M33.8 30.2h0M32.8 3.7h0M48.8 12h0M24.2 19.2h0M28.9 38.3h0M28.8 88h0M84.8 53.3h0M39.4 19.9h0M28.6 93.6h0M64.1 69.6h0M43.9 68.7h0M88.8 53.5h0M47.2 37.5h0M51.2 53.8h0M39.5 90.2h0M35 36.9h0M33.2 29h0M30.3 31h0M71.3 54.6h0M13.9 58.1h0M25 83.5h0M27.3 33.3h0M51.2 28.3h0M17.1 69.2h0M23.9 74.2h0M48.3 22.4h0M74.6 59.5h0"/>
<path id="p93" d="M12.7 56.2h0M46.4 6.7h0M33 13.4h0M69.9 58.1h0M78.6 47.5h0M17.5 78.4h0M88.6 67.7h0M19.4 76.1h0M32.6 88.9h0M48.3 9h0M36.6 0.2h0M84.8 51.1h0M39.1 4h0M27.2 31.7h0M22.1 25.7h0M39.7 51.1h0"/>
<path id="p94" d="M6.3 64.9h0M31.6 92.6h0M27.8 84.4h0M16.7 10h0M39.5 82.5h0M3.9 67.2h0M40.1 89.5h0M32 102h0"/>
<path id="p95" d="M44.6 65.5h0M39.3 22.6h0M41.5 38.4h0M11.6 78.4h0M36.5 90.8h0M88 65.5h0M39 98.2h0M29.6 30.1h0M28.3 11.1h0M50.4 25.1h0M30.3 25.2h0M38.6 16.4h0M74.9 44.9h0M40.4 57.2h0M27.3 13.8h0M37.5 1.2h0M29.7 36.6h0M28.3 13.4h0M7.1 72.8h0M30.7 46h0M27.7 6.3h0M33.5 11.8h0M89.6 51.2h0M76.3 44.8h0M47.2 51.6h0M39 85.1h0M21.4 25.5h0M34.1 14.5h0M42.2 40.3h0M87.6 52.3h0M23.3 20h0M32.9 43h0M48.9 26.4h0M46.2 9.2h0M49.5 43.3h0M19.2 16.5h0M25.8 23h0"/>
<path id="p96" d="M39.3 10.8h0M27.2 22.3h0M34.2 25.6h0M35.8 98.2h0M31.8 76.2h0M47.8 40.8h0M10.7 64h0M34.6 77.8h0M26.4 89h0M28.5 98.4h0M50.5 72.1h0M35.7 14.8h0M55.3 67.2h0M49.7 60.4h0M34.4 91.8h0M26.5 69.5h0M65.1 72.1h0M49.6 77.8h0M31.3 43.8h0M42 74.3h0M27.4 91.2h0M22.4 71h0M25 92.3h0M38.7 42.4h0M33.2 20.1h0M25.8 31.7h0M30.5 38.6h0M38.7 39.1h0M45.2 46.9h0M11.9 85h0M12.9 59.6h0M21.6 86.2h0M29.9 93.9h0M31.4 80.7h0M22.2 28.1h0M50.6 72.2h0M21.6 9.5h0M22.9 28.5h0M31.7 18.2h0M47.3 30.5h0M25.9 67.5h0M11.6 73.7h0M36.7 86h0M19.7 84h0M7.3 65.9h0M6.4 62h0M50.3 80.9h0M81.9 51.5h0M29.7 79.3h0M54.2 18.4h0M15.7 73.6h0M15.8 70.3h0M12.9 64.4h0M28 8.5h0M24.8 84.1h0M26.9 92.2h0M36.5 18h0M13.6 66.3h0M48.5 24.7h0M36.5 27.8h0M53.1 21.1h0M48.6 79h0M4 61.5h0M40 74.8h0M25.3 27.1h0M50 74.4h0M46.2 27.4h0M25.6 10.1h0M47.3 36h0M44.7 74.2h0M48.9 74.2h0M40.5 88.3h0"/>
<path id="p97" d="M32.1 85.6h0M38.7 80.7h0M36.8 92.7h0M19.8 66.9h0M98.5 76.2h0M34.7 51.8h0M27.5 82.1h0M28.1 83h0M43.5 41h0M64.9 72.9h0M24.2 64.7h0M28.1 17.4h0M71.9 50.7h0M21.7 72.3h0M47.8 52.9h0M32.9 89.5h0M17.5 60.7h0M35.7 71.8h0M35.4 93h0"/>
<path id="p98" d="M39.4 71.2h0M19.4 70.6h0M23.4 86.5h0M12.1 57h0M4.7 67.5h0"/>
<path id="p99" d="M23 9.6h0M89.8 65.3h0"/>
<path id="p100" d="M43.9 29.9h0M45.4 33.1h0M43 33.9h0M22 89h0M77.3 45.9h0M50.8 15.7h0M98.4 76.3h0M19.8 9.7h0M35.1 11.4h0M78.8 49.1h0M28.2 71h0M3.7 61h0M41.3 17.4h0M43.6 74.1h0M33.9 7.7h0M26 90.3h0M33.5 4.1h0M31.5 32.2h0"/>
</g>
<use href="#p91" stroke="#d6d6d6" stroke-width="2.3"/>
<use href="#p92" stroke="#22a884" stroke-width="2.3"/>
<use href="#p93" stroke="#355f8d" stroke-width="2.3"/>
<use href="#p94" stroke="#bddf26" stroke-width="2.3"/>
<use href="#p95" stroke="#21918c" stroke-width="2.3"/>
<use href="#p96" stroke="#44bf70" stroke-width="2.3"/>
<use href="#p97" stroke="#7ad151" stroke-width="2.3"/>
<use href="#p98" stroke="#fde725" stroke-width="2.3"/>
<use href="#p99" stroke="#414487" stroke-width="2.3"/>
<use href="#p100" stroke="#2a788e" stroke-width="2.3"/>
<g stroke="#6a6a6a" stroke-width="2.9"><path id="p101" d="M54.5 20.4h0M96.9 73h0M83.2 52.3h0M19.8 17.7h0M41.5 6.7h0M45.7 40.1h0M24 27.3h0M27.6 95.3h0M29.9 13.4h0M45.7 31.1h0M19.6 8.6h0M50 28.6h0M24.7 98.3h0M85.4 52.4h0M14.9 63.5h0M53.4 79.6h0M39.1 27.5h0M36.8 87.3h0M61.7 72.7h0M78.6 45.5h0M51.3 24.8h0M60.3 71h0M69 61.4h0M20.6 26.6h0M47.5 8.8h0"/></g>
<g stroke="#34403e" stroke-width="2.84">
<path id="p102" d="M9 58.2h0M36.5 95.4h0M43.2 58.4h0M30.8 9.4h0M5.2 66.2h0M42.7 53.1h0M49.3 50.9h0M42.7 14.2h0M49.4 32.1h0M24.6 73.6h0M45.3 22.6h0M41.1 39.4h0M16.4 79.4h0M7.5 54.9h0M46.8 15.8h0M80.2 60.5h0M19.2 91.5h0M27.8 32.5h0M35.7 25.1h0M77.6 56.8h0M3.4 57.9h0M5.8 58.3h0M32 80.5h0M33.8 49h0M32.2 37.8h0M20.4 84.8h0M40.1 28.7h0M30.6 8.1h0M35.4 43.5h0M24.1 3.6h0M47.8 83.5h0M16.2 74.2h0M35.6 99h0M22.4 93.3h0M5.8 59.9h0M44.8 46.2h0M9.2 73.7h0M48.9 66.9h0M14.1 58.4h0M44.4 4.9h0M54.6 58.5h0M22.8 71.8h0M8 78.4h0M22.1 6.3h0M42.5 77.6h0M37.6 24.4h0M9.2 56.3h0M72.6 53.4h0M42.3 40.4h0M31.3 23h0M8.4 54h0M41.6 5.8h0M55.5 78.8h0M21.7 81.8h0M17.4 67.6h0"/>
<path id="p103" d="M18.2 56.3h0M22.1 11h0M20.2 62.6h0M20.6 94h0M17.3 12h0M56.8 72.9h0M30.6 73.6h0M37.2 59.2h0M6.1 56.3h0M40.2 87.2h0M38.9 73.3h0M14.7 59.4h0M37.2 82.8h0M29 81h0M21.5 78.1h0M0.5 56h0M9.5 76.5h0M46.5 78.2h0M27.5 87.9h0M21.6 84.3h0M51.5 78.6h0M49 58.5h0M17 73.3h0M23.1 73.1h0M33.9 47.3h0M9.2 66.6h0M15.7 58.2h0M38.6 93.5h0"/>
<path id="p104" d="M28 73.2h0M45.3 35.7h0M25.7 63.6h0M5.6 58.9h0M50 29.5h0M72.8 53.4h0M7.4 68.3h0M52.4 28.3h0M46.5 64.7h0M31.4 17.6h0M32 6h0M27.3 93.7h0M36.7 41.7h0M34.4 14.5h0M34.9 37.3h0M29.1 31h0M34.6 80.3h0M49 32.4h0M25.1 8.6h0M20.7 81.7h0M52.7 76.2h0M21.8 12.6h0M19.7 92h0M21.9 64.1h0M35 15.6h0M18.5 85.3h0M18.9 87h0M45.4 31.3h0M38.2 45h0M50.8 59.6h0M21.7 14.1h0M43.1 20.4h0M48.9 78.2h0M36.1 1.5h0M20.1 61.6h0M52.9 9.4h0M44.7 78.1h0M23.3 13.5h0M18.3 15.1h0M35.6 2.8h0M24.4 27.5h0M27.7 35.8h0M20.4 67.1h0M31.2 77h0M52.2 60.2h0M39.3 70.3h0M47.6 19.1h0M48.8 26.2h0M15.9 75.8h0M31.2 70.9h0M36.2 40.5h0M3.6 57.8h0M83.6 59.2h0M26.1 8h0M42.2 60.4h0M16.3 86.3h0M25.5 93.2h0M41.3 14.2h0M38.4 56.9h0M14.3 69.9h0M38.9 91.9h0M21.8 86.8h0M27.2 70.8h0M37.1 53.3h0M34.7 84.1h0M46 58.2h0M23.3 18.2h0M54.3 74h0"/>
<path id="p105" d="M98 75.8h0M29.1 20.5h0M30.5 18.9h0M41.8 49.6h0M15.5 75.1h0M37.5 27.7h0M15.2 83.4h0M39.6 94h0M80.9 58h0M43.1 60.8h0M41.3 95.8h0M30.6 21.4h0M36.5 5.7h0M27.3 81.5h0M97.4 78.8h0M81.3 53.1h0M58.4 77.9h0M35.8 36.1h0M44.4 39h0M37.2 86.9h0M21.9 21.4h0M22.5 65.5h0M29.1 76.2h0M97.3 73.3h0M36.3 75.9h0M11.7 63.1h0M91.2 68.5h0M42.8 10.3h0M34.4 84h0M56.2 13.6h0M48.9 50.6h0M31.9 24.8h0M26.3 31.2h0M47.1 24.2h0M22.3 74.5h0M31.7 36.3h0M28 96.9h0M32 23.5h0M71 63.9h0M38.5 16.1h0M82.5 57.6h0M29.4 18.6h0M22.1 23.7h0M42.7 27.8h0M27.6 32h0M87.2 47.3h0M5.7 55.9h0M37.5 8.9h0M47.9 36.4h0M93 70.4h0M51.2 13.4h0M19.6 77.7h0"/>
<path id="p106" d="M24.7 31.5h0M32.4 28.2h0M38.8 9.1h0M44.2 19h0M59.7 78.6h0M32.9 79.8h0M1.2 59.1h0M17.4 78.1h0M48.7 12.3h0M84.4 50.1h0M71.9 60h0M14.4 71.6h0M79.9 52.1h0M73.2 65.4h0M64.4 71.2h0M90.8 71h0M27.1 29.3h0M37.4 30.2h0M34.9 6.7h0M26.7 34.1h0M46.4 57.8h0M51.2 66.9h0M42.5 2.2h0"/>
<path id="p107" d="M87.4 60.4h0M48.6 11.5h0M80.9 48.2h0M20.3 14.8h0M26.9 33.5h0M36.9 64.1h0M70.8 57.5h0"/>
<path id="p108" d="M30.5 69.5h0M11.8 81.8h0M18.1 75.8h0M34.6 97.5h0M12.2 79h0M4.7 61.5h0M38 78.2h0M32.6 97.6h0M34 95.6h0"/>
<path id="p109" d="M86.2 52.6h0M81.9 60.6h0"/>
</g>
<use href="#p101" stroke="#d6d6d6" stroke-width="2.3"/>
<use href="#p102" stroke="#44bf70" stroke-width="2.3"/>
<use href="#p103" stroke="#7ad151" stroke-width="2.3"/>
<use href="#p104" stroke="#22a884" stroke-width="2.3"/>
<use href="#p105" stroke="#21918c" stroke-width="2.3"/>
<use href="#p106" stroke="#2a788e" stroke-width="2.3"/>
<use href="#p107" stroke="#355f8d" stroke-width="2.3"/>
<use href="#p108" stroke="#bddf26" stroke-width="2.3"/>
<use href="#p109" stroke="#414487" stroke-width="2.3"/>
<g stroke="#6a6a6a" stroke-width="2.9"><path id="p110" d="M27 7.7h0M17.6 13h0M29.4 31.7h0M41.5 76.8h0M27.8 33h0M6.7 67.9h0M85.1 51.9h0M35.3 14.6h0M30.4 95.5h0M32.6 71.2h0M28.4 30.3h0M38.5 94.5h0M50.4 15.9h0M36.3 89.5h0M21.3 93.2h0M36.1 86.2h0M35.9 41.9h0M33.5 17.2h0M37.4 14h0M41.5 19.2h0M42.1 14.3h0M44.7 20.1h0M34.6 9.1h0"/></g>
<g stroke="#34403e" stroke-width="2.84">
<path id="p111" d="M9 69.7h0M45.7 58.1h0M24.6 67.5h0M17.7 87h0M48 41h0M48.9 18h0M21.3 65.1h0M50.3 78.9h0M40.4 38.2h0M38.8 47.9h0M23.5 87.1h0M29.3 27h0M95.5 70.8h0M34.6 22.2h0M14.8 81.4h0M44.3 75.2h0M35.8 26.6h0M27 74.4h0M37.9 65.5h0M24.5 66.8h0M22.1 69.2h0M41 39.7h0M16.4 70.8h0M29.8 95.5h0M40.3 21.9h0M12.7 79.5h0M45.4 36.5h0M22 85.5h0M43.5 11.1h0M13.2 66.5h0M18.9 68h0M17.9 91h0M47 79.6h0M35 81.1h0M42.8 23.3h0M53.2 79.6h0M31 13.5h0M53.2 67.2h0M13.9 80.5h0M38.4 39.2h0M38.7 82.9h0M13.3 64.2h0M38.8 40.1h0M34.8 48.1h0M50.9 71.8h0M43.7 37.3h0M37.5 100.4h0M10.2 69.3h0M17.9 60.3h0M50.4 61.7h0M31 92.1h0M100.1 77.9h0M4.1 55.3h0M17.2 87.4h0M37.4 11.3h0M7.5 61.8h0M40.2 73.8h0M22.9 91.4h0M94.9 71h0M35.3 90.4h0M37.4 45.7h0M23.7 86.8h0"/>
<path id="p112" d="M39.8 43.4h0M50.3 18.6h0M36.3 64h0M22.1 84.7h0M23.6 83.9h0M27.9 93.2h0M31.1 91.3h0M46.7 30.3h0M5.8 66.7h0M40.2 63h0M36.4 100.5h0M28.6 81.5h0M21.8 81h0M24.1 80h0M12.1 85.7h0M27.3 8.5h0M27.7 78.9h0M51 71.1h0M16.1 67.7h0M16.9 80.1h0M15.9 66.7h0M62.5 75.8h0M17.7 77.2h0M45.1 46.9h0M19.2 82.3h0M14.3 87.3h0M35.6 99.5h0M22.5 76.6h0M42.9 45.9h0M35.9 92.3h0M20.2 81h0"/>
<path id="p113" d="M19.5 8.5h0M36.6 62.8h0M44 33h0M29.2 24.4h0M35 99.6h0M37 6.1h0M48.7 25.7h0M16.9 56.9h0M45 6.6h0M79.6 55.6h0M41.3 55.6h0M44.9 57.5h0M86.2 46.8h0M15.4 14.3h0M82.4 55.7h0M23.3 23.5h0M79.8 61.1h0M32.5 31.3h0M80.7 53.2h0M30.3 14.3h0M16 60.8h0M46.6 46.5h0M69.4 49.2h0M22 8.9h0"/>
<path id="p114" d="M41.3 2h0M42.8 11.6h0M11.7 76.6h0M34 34.3h0M31.2 77.1h0M34.9 21.4h0M20.8 70.3h0M34.3 34h0M46 21.2h0M87.1 51.6h0M45.6 51.3h0M34.2 29.5h0M46.5 80.6h0M86.8 49.4h0M35.1 50h0M18.5 22.9h0M16.7 6.7h0M47.5 76.2h0M47.5 67h0M50.7 18.1h0M44.2 55h0M25.4 33.4h0M73.2 47.5h0M81.7 47.7h0M43.5 58.4h0M51.6 10.7h0M30.4 76.7h0M60.1 74h0M24 71.1h0M22.6 75.8h0M74.3 55.8h0M45.9 53.4h0M63.8 70.3h0M44.8 27.2h0M40 17.6h0M79.4 56.2h0"/>
<path id="p115" d="M33.9 16.2h0M48.6 23.7h0M31.5 31.6h0M79.3 57.8h0M65.3 73h0M27 16.4h0M34.6 9.4h0M46.4 31.3h0M37.1 66.8h0M12.8 55.1h0M27.3 82.3h0M44.2 58.7h0M40.1 46.8h0M44 56.8h0M34.2 8.4h0M39.3 66.7h0M18.5 87.7h0M22 92.3h0M36.9 1.8h0M37.7 93.6h0M47.3 22h0M74.5 51.9h0M47.9 62.2h0M32.8 80.9h0M46.8 70.7h0M40.3 28.1h0M17 55.7h0M33.3 24.8h0M27.9 96.2h0M57.1 72.7h0M77.8 61.2h0M28.9 66.9h0M36.5 15.3h0M42.3 64.4h0M29.8 5.8h0M17.7 93.8h0M20.6 13.8h0M84.2 47.6h0M28.6 16.6h0M45.6 65.9h0M53.5 8.2h0M55.3 17.3h0M53.9 81.9h0M28.8 31.2h0M35.1 11.8h0M37.7 18.1h0M51.5 55h0M14.9 90.2h0M15 68.5h0M19.9 66.4h0M100.8 78.1h0M50.8 33.3h0M3.2 56.2h0M28.8 26h0M21.8 79.1h0M35.6 66.5h0M31.3 97h0M38.2 92.2h0M42.9 64.4h0M77.1 43.9h0M84 53.1h0M24.5 97.9h0M53.3 73.7h0M15.2 74.5h0M32.8 10.4h0M37 49.4h0"/>
<path id="p116" d="M69.9 52.2h0M74.4 44.8h0M79.3 54.8h0"/>
<path id="p117" d="M89.5 54.4h0M32 31.2h0M88.4 49.6h0M43.9 79.2h0M77.6 64.9h0M71.9 57.9h0M87.4 48.1h0M27.2 12.3h0M80.9 54h0M15.9 67.2h0M101.3 76.7h0"/>
<path id="p118" d="M20.1 78.7h0M27.9 81.5h0M45.4 64.8h0"/>
<path id="p119" d="M42.7 48.5h0M28.5 99.4h0M9 64.8h0M21.9 70.6h0M35.2 94.2h0M41.4 47.5h0M15.6 58.7h0M19 67.8h0M11 77.6h0M50.1 56.7h0"/>
</g>
<use href="#p110" stroke="#d6d6d6" stroke-width="2.3"/>
<use href="#p111" stroke="#44bf70" stroke-width="2.3"/>
<use href="#p112" stroke="#7ad151" stroke-width="2.3"/>
<use href="#p113" stroke="#2a788e" stroke-width="2.3"/>
<use href="#p114" stroke="#21918c" stroke-width="2.3"/>
<use href="#p115" stroke="#22a884" stroke-width="2.3"/>
<use href="#p116" stroke="#414487" stroke-width="2.3"/>
<use href="#p117" stroke="#355f8d" stroke-width="2.3"/>
<use href="#p118" stroke="#fde725" stroke-width="2.3"/>
<use href="#p119" stroke="#bddf26" stroke-width="2.3"/>
<g stroke="#6a6a6a" stroke-width="2.9"><path id="p120" d="M54.4 17.5h0M31.3 34.5h0M79.1 49.6h0M29.4 98.2h0M16 59.5h0M22.4 85.8h0M31.3 4.1h0M46.3 26.8h0M49.3 25.8h0M49.2 12.2h0M50.7 14.7h0M35.1 4.4h0M30.6 74.5h0M11.9 86.6h0M80.4 57.1h0M39.6 47.8h0M70.2 58.7h0M50.4 28.2h0M38.4 25.1h0M62.1 74.3h0M66.8 55.2h0M8.9 74.8h0M37.6 38h0M30.9 92.8h0M44.3 21.6h0"/></g>
<g stroke="#34403e" stroke-width="2.84">
<path id="p121" d="M19.5 70.3h0M33.9 16.8h0M40 87.5h0M33.5 20.3h0M61.8 76.1h0M47.7 79.7h0M41.9 17h0M33.6 77.6h0M43.7 35.9h0M19.3 66.9h0M47.3 74.7h0M20.6 10.9h0M11.3 68.9h0M45.3 75.1h0M18.5 21.4h0M16.8 65.4h0M29.7 87.1h0M42.1 29.4h0M42.4 5.5h0M7.3 61.4h0M22 25.3h0M29.5 2.8h0M23.2 5.6h0M43.9 9h0M35.3 11.1h0M29.9 87.6h0M50.4 47.3h0M35.5 43.9h0M91.1 69.7h0M30.4 31.3h0M25.9 80.4h0M26.9 15.3h0M39.5 48.7h0M48.8 62.3h0M25.9 88.1h0M30.7 23.9h0M33.4 49.4h0M36.2 12.3h0M71.9 45.5h0M35.8 74.5h0M30.2 41.5h0M45.3 63.7h0M18.5 66.8h0M32.1 30.6h0M30.7 80.9h0M11.9 65.4h0M48.4 80.7h0M24.4 79.4h0M40.2 18.2h0M40 1.2h0M33.4 87.9h0M30.1 7.8h0M23.3 5h0M37.8 65.1h0M24.1 18.9h0M39.3 37.3h0M40.2 14.9h0M53.5 20.5h0M45.6 55h0"/>
<path id="p122" d="M79.4 58.1h0M22.1 5.3h0M71.1 55.9h0M94.2 69.9h0M72.4 66.3h0M97.6 76.8h0M42.9 52.2h0M51.3 14.7h0M23.3 23.1h0M46.4 17.2h0M31.3 75.1h0M47.4 24.2h0M86.4 48.3h0M74.4 42.8h0M48 6.6h0M87.6 49.3h0M20.7 9.7h0M32.4 15.5h0M93.2 73.6h0M97.7 77h0M20.1 12.2h0"/>
<path id="p123" d="M85.1 54.2h0M84.2 60.2h0M50.4 79.1h0M74.1 48.1h0M23.3 31h0M77 61.9h0M35.4 34.8h0M43.2 23.8h0M72.4 52.7h0M49.6 60.9h0"/>
<path id="p124" d="M41.2 30.2h0M35.5 15.2h0M78 46.3h0M34.8 19.6h0M44 52.8h0M41.4 78.4h0M31.7 32.5h0M44.5 53.4h0M48.4 29.4h0M28.9 4.1h0M47.8 34.1h0M70.3 53.6h0M40 71.6h0M37 5.6h0M4.9 57.6h0M42.6 70.8h0M25.4 30.2h0M47.8 66.3h0M53.7 22.3h0M32.3 13.2h0M49.6 10.7h0M21.5 69.2h0M46.7 3.7h0M50.6 15.7h0M45.6 4.3h0M12.8 68h0M39 7.2h0M71.1 61.8h0M83.2 56.8h0M52.3 16.3h0M45.4 19.4h0M39.5 41.5h0M52 55.6h0M47 10.2h0M75.7 45.5h0M35.8 35.5h0M46.8 13h0M48 74.5h0M31.6 81.7h0M84.1 58.1h0M43.3 35.2h0M16.5 92.2h0M87.8 67.5h0M82.4 54.8h0M50.4 44.8h0M41 23.8h0M26.2 10.4h0M32.4 38.3h0M46.4 30.7h0M19.1 8.6h0M45.2 47.8h0M37.8 84.3h0"/>
<path id="p125" d="M20.8 80.7h0M50.3 51.9h0M91.6 72.2h0M34.4 21.7h0M8.8 74.4h0M95.4 76h0M19 70.2h0M18 85.8h0M13.4 61h0M23 19.2h0M89.2 65.5h0M27.2 74.9h0M30 15h0M9 69.3h0M26.4 82.6h0M27 86.7h0M12.6 79.1h0M19.5 20.9h0M22.5 14.6h0M48.4 65.3h0M32.5 92.8h0M28.2 77.5h0M44.8 31.7h0M54.1 75h0M36.4 1.7h0M15.6 55.4h0M31.8 102.7h0M31.8 13.8h0M37.6 62.3h0M48.3 32.6h0"/>
<path id="p126" d="M13.8 56.5h0M39.4 95.7h0M18.8 67.3h0M63.8 74.5h0M41.5 5.1h0M43.6 43h0M42.9 47.9h0M6.1 58.1h0M58.1 74.7h0M4.3 56.2h0M35.8 101.3h0M22.1 68.4h0M37.6 73.3h0M47.1 49.1h0M14.4 69.2h0M48.7 20.8h0M14 56.9h0M60.1 74.2h0M28.8 85.4h0M31.3 80.4h0M25.3 27.9h0M52.5 74.4h0M67.9 62.6h0M30.8 87.8h0M47.6 9.4h0M44.1 59.9h0M41.4 34.9h0M30.5 11.4h0M18.1 16.4h0M84.8 56.9h0M29.9 93.2h0M14.9 86.4h0M17.6 83.3h0M46.1 55.4h0M31.8 85.6h0M19.7 88.7h0M5.3 57.1h0M25.8 97.4h0M38.9 81.9h0M19 91h0M19.9 79.4h0M68.9 47.2h0M20.7 96.9h0M41.4 17.1h0M18.5 67.8h0M30.6 15h0M30.3 31.6h0M10.5 84.1h0M28.9 74.1h0M37 7.2h0M17.6 62.4h0M40.2 49h0M5.5 55.4h0M16.8 87.2h0"/>
<path id="p127" d="M5.6 73.4h0M26.9 98.8h0M44.2 60.3h0M35.4 86h0"/>
<path id="p128" d="M73.4 51.1h0M70.1 58.4h0M81 56.2h0"/>
<path id="p129" d="M33.5 99.3h0M26.8 100h0M10.3 80.2h0M17.8 79.6h0M13.5 58.9h0M47.8 9.6h0"/>
</g>
<use href="#p120" stroke="#d6d6d6" stroke-width="2.3"/>
<use href="#p121" stroke="#22a884" stroke-width="2.3"/>
<use href="#p122" stroke="#2a788e" stroke-width="2.3"/>
<use href="#p123" stroke="#355f8d" stroke-width="2.3"/>
<use href="#p124" stroke="#21918c" stroke-width="2.3"/>
<use href="#p125" stroke="#7ad151" stroke-width="2.3"/>
<use href="#p126" stroke="#44bf70" stroke-width="2.3"/>
<use href="#p127" stroke="#fde725" stroke-width="2.3"/>
<use href="#p128" stroke="#414487" stroke-width="2.3"/>
<use href="#p129" stroke="#bddf26" stroke-width="2.3"/>
</g>
<rect x="37.5" y="681.4" width="104.6" height="105" fill="none" stroke="#111" stroke-width="1.15"/>
<rect x="98.7" y="686.5" width="40.8" height="3.1" fill="url(#gh)"/>
<text x="97.7" y="700" font-size="10.7" fill="#111">-3</text>
<text x="138.8" y="700" font-size="10.7" fill="#111" text-anchor="end">1</text>
<g fill="none" stroke-linecap="round" transform="translate(145.9 413.5)">
<g stroke="#6a6a6a" stroke-width="2.9"><path id="p130" d="M61.2 20h0M33.6 89.8h0M48.1 7.4h0M56.2 64.8h0M97.6 37.1h0M38.1 9.1h0M72.9 33.8h0M60.8 59.8h0M70.2 15h0M72.6 13.3h0M95.8 35.3h0M58.4 69.9h0M64.1 17.4h0M78.1 44.6h0M35.7 87h0M57.1 60.5h0M39.5 9.8h0M22.6 34.5h0M97.4 35.6h0M84.6 43.4h0M15.6 45.3h0M8.9 58.8h0M35 13.4h0M61.2 26.9h0M61.8 31h0M63.3 33.9h0M22.1 57.5h0M31.5 51.8h0M58.2 65.3h0M58 68.9h0M58 23.4h0M95.5 53.7h0M50.6 22.6h0M57.2 54.7h0M98.6 32.3h0M63.7 29.6h0M10.4 53.6h0M29.8 88h0M93.2 35.4h0M61.4 64.5h0M33.3 37.4h0M61.3 47.7h0M60.7 66.6h0M53.2 24.7h0M69.9 59.4h0M21.3 56.8h0M85.6 45.5h0M50.1 21.2h0M19.9 49.5h0M36.2 12.1h0M19.3 59.6h0M98.8 43h0M79.3 43.7h0M73 57.5h0M57.7 81.2h0M51.3 20h0M19.3 64h0M66.6 66.5h0M29.3 36.9h0M19.8 46.5h0M61.7 81.5h0M38.4 8.6h0M41.2 53.3h0M55 56.1h0M32.1 89.9h0M69.2 15.3h0M16.3 50.5h0M27.3 38.1h0M65.3 69h0M18.6 62.8h0M24.1 61h0M38 45.7h0M33.6 53.2h0M94.8 36.1h0M61.5 66h0M59.6 95.7h0M35 47.7h0M56.5 91.5h0M20.5 60h0M25.1 35.9h0M70.4 58.1h0M94.5 53.1h0M56.6 97.4h0M78.2 44.5h0M65.8 67.7h0M31.5 90.3h0M33.6 80.1h0M34.8 51.6h0M61.9 26.2h0M37.4 13h0M58.7 96.9h0M29.6 35.1h0M51.1 97.8h0M29.4 38.7h0M55.3 43.2h0M80.6 46.1h0M93.8 36.4h0M26.3 38h0M60.4 67.2h0M34.8 33.2h0M62.5 32.2h0M58.6 58.3h0M43.9 8.1h0M70.6 13.4h0M43.4 4.4h0M36.4 53h0M54 96.1h0M61.2 71.9h0M28.1 54.5h0M60.9 30.7h0M84.7 45.1h0M70.9 32.2h0M55.4 73.5h0M32.1 89.4h0M25.8 38.3h0M56.9 63.9h0M95.2 37.3h0M59 27h0M36.2 44.8h0M29.4 32.7h0M60.2 26h0M25 52.3h0M55.6 26.3h0M34.7 50.9h0M97.6 44.9h0M56.5 98.9h0M42.8 6.2h0M28.9 36.9h0M24 54.6h0M60.8 54.4h0M37.8 12.2h0M23.6 56.8h0M42.4 3.7h0M90.8 33.4h0M66.9 14.3h0M31.7 33.6h0M55.5 55.2h0M39 12.4h0"/></g>
<use href="#p130" stroke="#d6d6d6" stroke-width="2.3"/>
<g stroke="#6a6a6a" stroke-width="2.9"><path id="p131" d="M25.2 59.2h0M98.9 37.9h0M62.2 81h0M59.7 64.3h0M60.6 78.4h0M93.4 31.9h0M52.3 97.7h0M43.3 9.2h0M50.2 21.4h0M17.6 64.8h0M60.2 79.9h0M40.9 9.8h0M56 31h0M27.1 58.2h0M38.3 10h0M55.6 93.6h0M25.8 61.3h0M32.1 80.1h0M59.1 35.4h0M39.7 11.2h0M76.7 35.1h0M58.8 26.7h0M61.4 75h0M59.8 72.8h0M22.7 64.5h0M75.4 12.4h0M59.7 71.3h0M31.6 31.8h0M66.9 69.5h0M53.5 97.3h0M34.6 83.4h0M60.6 55.8h0M25.7 53.1h0M84.9 44.3h0M24 63h0M102.2 47.7h0M62.8 85.5h0M101.2 46.3h0M60.6 60.5h0M53.2 55.4h0M46.3 5h0M23.3 56.9h0M31.2 48.3h0M81.5 45.2h0M42 48.5h0M22.1 37.9h0M25.7 39.2h0M55.9 55.8h0M19.8 61.1h0M60.6 52.6h0M38.2 12.4h0M36.5 84.8h0M62.3 67.7h0M31.7 33.4h0M33.5 87.6h0M53.2 98.4h0M99.3 32.8h0M54.5 65.4h0M31.6 80.6h0M43.1 51.7h0M16.6 47.6h0M57.5 24.5h0M99 43h0M56.7 18.5h0M23.4 64h0M73.1 16.3h0M33.7 37.2h0M55.3 22.8h0M81.7 43.7h0M27.5 53.6h0M32.8 81.4h0M44 7.7h0M100.3 49.1h0M60.3 58h0M102.2 47.8h0M26.8 37.9h0M62.1 44.2h0M63.4 23.6h0M61.2 21.8h0M42.8 49.5h0M53.2 21.1h0M26.6 63.7h0M35.9 47.3h0M61.6 56.5h0M54.3 72.3h0M18.1 59.7h0M52 98.3h0M60 23.3h0M54.6 57.1h0M55.9 60.6h0M48.3 7.5h0M36.4 52.4h0M40 45.5h0M33.8 58.2h0M25.1 36h0M26.2 60.4h0M61.8 77.5h0M53.2 68.6h0M52.2 18.7h0M13.9 59.8h0M57.3 72.4h0M60.3 79.5h0M61.7 47.7h0M56.3 44.4h0M93.5 55.4h0M55.9 58.3h0M58.6 80.4h0M60.6 82.1h0M34.5 32.9h0M53.5 45.6h0M72.6 33.7h0M30.9 50.1h0M55.4 98.7h0M26.2 57.4h0M55.2 66.8h0M57.8 20.9h0M44.9 10.4h0M91.6 35.8h0M64.2 15.1h0M35.4 50.4h0M93.6 54.4h0M92.1 35.9h0M90.5 33.6h0M61.8 55.9h0M16.5 48.3h0M57 21.7h0M58.8 89.7h0M44.6 4.7h0M45.9 9.7h0M34.6 54.9h0M31.5 52.3h0M51.4 24.5h0M58.3 73.8h0M61.8 72.8h0M16.8 49.7h0M71.8 57.8h0M62.7 30.7h0M35.8 80.3h0"/></g>
<use href="#p131" stroke="#d6d6d6" stroke-width="2.3"/>
<g stroke="#6a6a6a" stroke-width="2.9"><path id="p132" d="M71.5 31.6h0M72.9 34.4h0M8.6 60.8h0M51.9 53.5h0M67.7 15.5h0M33.8 12h0M41.9 50.6h0M39.3 59.6h0M35.5 80h0M39.3 9.6h0M92.8 34.3h0M60.1 22.2h0M16.6 45.2h0M60.7 46.5h0M54.1 58.1h0M100 43.3h0M25.8 64h0M52.9 24.6h0M16.7 59.4h0M57.7 89.8h0M85 44.8h0M54.4 44.1h0M59.4 90.7h0M38.7 55.1h0M35.1 49.7h0M55 58.8h0M57.6 73.5h0M60.6 72h0M57.9 95.9h0M35.4 57.8h0M71.6 15.1h0M93.4 38.3h0M62.7 30.4h0M90 35.8h0M60.3 40.5h0M71.7 13.5h0M37.7 12.2h0M74 15.2h0M71.2 31.9h0M62.3 34.6h0M41.5 45h0M13.6 60.6h0M16.8 51.4h0M65.9 33.1h0M59.6 36.7h0M60.1 41.3h0M38.7 10.7h0M9.9 57.5h0M38.4 46.6h0M32.9 33.9h0M86.4 42.9h0M96.2 52.9h0M10.6 53.1h0M77.4 45.8h0M54.5 58.6h0M46.6 6.1h0M67.7 16.8h0M100.9 44.9h0M53.1 68.7h0M57.9 84.7h0M34.7 81.7h0M74.7 11.2h0M37.8 10.4h0M20.6 57.8h0M53.1 46.1h0M17.6 60.9h0M23.4 36.2h0M90.7 35h0M64 70.7h0M60.4 69.5h0M59.5 25.7h0M64.6 16.1h0M24.5 63.7h0M62.7 36.6h0M31.5 34.1h0M37.2 49.7h0M61.2 55.2h0M42.2 6.6h0M56.4 94.6h0M40.2 10.8h0M87.7 43.4h0M76.8 35.5h0M20 62.7h0M58.2 66.8h0M74.9 10.8h0M53.4 43.9h0M31.6 87.5h0M35.5 85.5h0M58.6 82.4h0M54.2 25.6h0M58.5 53.3h0M93 38.2h0M94.6 54.5h0M60 60.6h0M74.3 16.8h0M22.4 59.4h0M58.2 65h0M58.8 34.6h0M41.3 9.8h0M16 47.1h0M60.1 19.9h0M18 64.8h0M32.8 83.2h0M39.2 59.7h0M81 44.6h0M100.9 44.2h0M64.9 71.8h0M48.1 4.4h0M31.3 82.1h0M42.1 6h0M38.2 44.7h0M59.7 84.1h0M56.2 61.7h0M36 10.5h0M98.2 33.7h0M60 80.2h0M61.2 58.1h0M26.6 33.5h0M18.1 60.3h0M94.8 54.4h0M95.4 53h0M64.7 16.4h0M30.6 51.1h0M62.6 31.8h0M16.9 48.3h0M24.4 55.8h0M59.3 88.2h0M55.1 26.1h0M10.3 58h0M24 52.9h0M41.3 46.3h0M75.5 15.2h0M10 60.5h0M65.3 16.6h0M39 14.7h0M57.7 20.1h0M56.2 55.8h0M72.6 18h0"/></g>
<use href="#p132" stroke="#d6d6d6" stroke-width="2.3"/>
<g stroke="#6a6a6a" stroke-width="2.9"><path id="p133" d="M59 96.6h0M47.1 6.1h0M60.6 83.7h0M31.5 85.1h0M42.3 60.8h0M36.1 47.6h0M62.8 71.8h0M81.6 46h0M62 58h0M58.7 81.2h0M83.5 45.9h0M59.2 80.5h0M38.3 50.7h0M36.9 52.3h0M83.8 45.5h0M34.9 86.6h0M62.4 32.4h0M57.7 20.6h0M51.3 97.9h0M14.5 58.7h0M56.9 58.3h0M73.2 32.1h0M60.5 54.6h0M73 14.5h0M32.6 50.1h0M20.3 49h0M36.3 14h0M56.3 96.2h0M58.4 80.4h0M33.1 33.1h0M44.8 4.2h0M42.5 9.1h0M33.5 84.6h0M34.3 80.5h0"/></g>
<g stroke="#34403e" stroke-width="2.84">
<path id="p134" d="M32.2 48.4h0M10.2 59.2h0M44.7 49.9h0M73.5 57.7h0M96.6 36.2h0M13.9 50.1h0M95.7 35h0"/>
<path id="p135" d="M41.5 10.5h0M58.9 84.1h0M60.4 27.3h0M32.4 15.9h0"/>
<path id="p136" d="M61 25.1h0M43.6 51.7h0M33.6 13.5h0M16.3 61.8h0M42.6 10.4h0M59.8 24.8h0M53.9 18.1h0M53.4 65.9h0M44.1 9.8h0M40.5 46.6h0M54.2 100.1h0M42.4 11.4h0M18.8 60.1h0"/>
<path id="p137" d="M16.5 56.9h0M26.8 58.1h0M19.7 49.6h0M58.4 60.8h0M53.7 19.6h0M61.9 56.8h0M39.7 10.7h0M53.4 71.8h0M58.6 92.8h0M54.8 61.5h0M23.2 36.8h0M62.2 80.9h0M60.5 73.9h0M53.3 23.8h0M59.8 97.6h0M54 66.8h0M31.9 32h0M33.4 84.1h0M25.5 38.8h0M30.2 37.8h0"/>
<path id="p138" d="M30.3 37.5h0M33.5 36.7h0M54.1 66.5h0M97.6 46.7h0M34.6 79.3h0M64.5 69.4h0M58 88.8h0M31.9 46.7h0M60.6 34.4h0M41.4 9.1h0M57.9 24h0M39.9 52.2h0M43 10.7h0M74.8 34.8h0M59.3 46.7h0M57.5 27h0"/>
<path id="p139" d="M21.2 62.9h0M43.5 55.8h0M76.1 35.2h0M23.4 56.3h0M61.4 70.6h0M44.1 11.4h0M24.1 37.2h0M32.7 24.9h0M59.8 65.6h0M36.7 9.4h0M11.9 59.8h0"/>
<path id="p140" d="M54.2 60.9h0M58 23h0M57.2 52.6h0M37.5 45.6h0M74.2 32.8h0M62.3 83.7h0"/>
<path id="p141" d="M15.9 48h0M18.1 58.3h0M74 32.3h0M37.4 53h0M22.2 57.2h0"/>
<path id="p142" d="M15.9 62.8h0M35 14.5h0M45 64h0M26.6 33.8h0M53.1 95.4h0M59.1 92.3h0M57.8 80.5h0M59 86.3h0M72.3 14.3h0M17.1 61.9h0M71.2 15.2h0M61.6 77.2h0"/>
<path id="p143" d="M29.5 53.8h0M25.1 34.7h0M98.8 45.6h0"/>
<path id="p144" d="M41 9.2h0M10.5 60.6h0M55.8 25.1h0M32.7 49h0M37.6 9.6h0M23 60.3h0M41.8 9.4h0"/>
</g>
<use href="#p133" stroke="#d6d6d6" stroke-width="2.3"/>
<use href="#p134" stroke="#7ad151" stroke-width="2.3"/>
<use href="#p135" stroke="#482475" stroke-width="2.3"/>
<use href="#p136" stroke="#355f8d" stroke-width="2.3"/>
<use href="#p137" stroke="#21918c" stroke-width="2.3"/>
<use href="#p138" stroke="#44bf70" stroke-width="2.3"/>
<use href="#p139" stroke="#22a884" stroke-width="2.3"/>
<use href="#p140" stroke="#414487" stroke-width="2.3"/>
<use href="#p141" stroke="#bddf26" stroke-width="2.3"/>
<use href="#p142" stroke="#2a788e" stroke-width="2.3"/>
<use href="#p143" stroke="#fde725" stroke-width="2.3"/>
<use href="#p144" stroke="#440154" stroke-width="2.3"/>
<g stroke="#6a6a6a" stroke-width="2.9"><path id="p145" d="M73.6 31.5h0M85.7 42.8h0M56.9 100.8h0M38.1 47.8h0M45.3 63.7h0M59.8 60.5h0M64.6 64.9h0M65.3 66.5h0M43.6 57.2h0M59.6 57.4h0M59.4 41.7h0M68.4 14.7h0M34.6 51.7h0M34 47.9h0M54.1 17.8h0M58 25.8h0M83 43.6h0M40.7 44.7h0M17.5 57.2h0M44.6 62.9h0M51.4 97.7h0M41.6 11.3h0M15.9 46.4h0M60.6 39.3h0M62.1 56.8h0M61 34.2h0M64.5 67.9h0M23.5 56.9h0M56 99.2h0M24.2 55.3h0M62.4 70.3h0"/></g>
<g stroke="#34403e" stroke-width="2.84">
<path id="p146" d="M55.8 21h0M26.3 33.9h0M37.5 9.7h0M40.9 8.5h0M43.6 8.4h0M40.9 5.5h0M19.2 49.1h0M43.4 49.2h0"/>
<path id="p147" d="M53.1 44.9h0M60.8 32.3h0M27.6 56.1h0M29 53.1h0M59 71.2h0M99.3 35.2h0M99.1 37.1h0M42.9 53.1h0"/>
<path id="p148" d="M62.9 56.3h0M53.6 72.2h0M34.2 49.1h0M57.9 58.1h0M19.2 57h0M46.6 2.9h0M63 66.7h0M35.3 33.9h0M61.3 21.9h0M59.4 87.2h0M57.3 54.5h0M33.3 80.3h0M42.8 57h0M42.7 6.8h0M53.4 45.6h0M46.1 3.9h0M35.3 10.7h0M63.8 71.9h0M59.3 92.1h0"/>
<path id="p149" d="M40.4 5.9h0M22.9 62.7h0M43.5 57.2h0M33.8 50.2h0M6.6 58.1h0M57.2 22.8h0M28.9 31.8h0M34.5 36.9h0M28.6 54.4h0M52.4 25.3h0"/>
<path id="p150" d="M23 56.1h0M59.1 41.1h0M60.4 62.8h0M98.3 34.7h0M51.7 21.8h0M25.3 33.1h0"/>
<path id="p151" d="M41.7 12.3h0M59.6 93h0M52.2 44.8h0M54.7 56.4h0M37.5 48.5h0M23.7 54.7h0M31.8 83.7h0M71.1 16.6h0M41.4 4.9h0"/>
<path id="p152" d="M97.5 51.5h0M16.3 58.2h0M43.4 48.7h0M42.5 11.4h0M59.3 26h0M38.9 47.2h0M32.1 87.5h0M50.9 56h0M34.4 58.3h0M42.6 6.9h0"/>
<path id="p153" d="M56.8 55.2h0M61 74.7h0M19.7 47.4h0M60.3 96h0M41 50.8h0M62.2 32.9h0M41 5.5h0M18.8 62.8h0M59.7 47.1h0M57.1 51.6h0M32 88.9h0M19.9 56.5h0M62 84.4h0"/>
<path id="p154" d="M16.8 62h0M56.9 21.5h0M33.8 16.7h0M10.4 57.5h0M39.1 5.7h0M36.1 10.9h0M59.2 23h0"/>
<path id="p155" d="M26.9 37.1h0M56.9 96.7h0M30.6 48.4h0M63.7 63.1h0M56.5 73h0M41.9 53.3h0M76.4 14.5h0M29 38.3h0M54.2 69.7h0M55.5 95.7h0M24.2 62.9h0M59.3 68.3h0M56.7 97.2h0M16.5 64h0"/>
<path id="p156" d="M58 93.8h0"/>
</g>
<use href="#p145" stroke="#d6d6d6" stroke-width="2.3"/>
<use href="#p146" stroke="#414487" stroke-width="2.3"/>
<use href="#p147" stroke="#fde725" stroke-width="2.3"/>
<use href="#p148" stroke="#2a788e" stroke-width="2.3"/>
<use href="#p149" stroke="#21918c" stroke-width="2.3"/>
<use href="#p150" stroke="#bddf26" stroke-width="2.3"/>
<use href="#p151" stroke="#7ad151" stroke-width="2.3"/>
<use href="#p152" stroke="#44bf70" stroke-width="2.3"/>
<use href="#p153" stroke="#22a884" stroke-width="2.3"/>
<use href="#p154" stroke="#440154" stroke-width="2.3"/>
<use href="#p155" stroke="#355f8d" stroke-width="2.3"/>
<use href="#p156" stroke="#482475" stroke-width="2.3"/>
</g>
<rect x="145.9" y="413.5" width="104.6" height="105.1" fill="none" stroke="#111" stroke-width="1.15"/>
<text x="166.9" y="410.9" font-size="12.6" fill="#1a1a1a" font-style="italic" stroke="#1a1a1a" stroke-width="0.22" textLength="53.7" lengthAdjust="spacingAndGlyphs">TMPRSS3</text>
<rect x="221.6" y="477.2" width="3.4" height="40.2" fill="url(#gv)"/>
<text x="225.4" y="483.3" font-size="9.5" fill="#111">-1</text>
<text x="225.4" y="516.7" font-size="9.5" fill="#111">-6</text>
<g fill="none" stroke-linecap="round" transform="translate(145.9 681.4)">
<g stroke="#6a6a6a" stroke-width="2.9"><path id="p157" d="M40.2 65.5h0M52.5 52.5h0M24.9 20.3h0M13.3 70.5h0M43.7 56.4h0M53.2 60.6h0M57.5 77.6h0M72.3 59.3h0M46.8 16.9h0M22.1 70.2h0M12.4 58.6h0M18.7 71.2h0M39.8 92.9h0M50.1 49.4h0M27.7 4.4h0M30.8 87h0M39.4 75.2h0M52.2 62.2h0M20.2 17.2h0M85.9 52h0M47 4h0M44.5 41.1h0M13 55.5h0M18.9 14.1h0M79.6 55.6h0M11.7 73.5h0M53.6 14.8h0M46.1 7.7h0M26.5 20.2h0M38.8 40.3h0M30 10.1h0M18.2 69.9h0M35.4 83.1h0M31.8 69.8h0M11.3 57.6h0M36.6 19.8h0M34.5 98.2h0M42.6 22.9h0M50.1 54.4h0M52.1 72.5h0M38.5 38.8h0M60.1 71.1h0M66.7 74.5h0M53.7 58h0M50.2 55.1h0M26 71.7h0M30.5 99.5h0M27.1 93.8h0M93.1 68.2h0M42.1 63.6h0M39.2 28h0M49.1 11.2h0M31.1 18.8h0M30.1 10h0M18.5 65.2h0M34.6 33.1h0M22.6 66.6h0M69.2 54.3h0M45.6 69.6h0M44 56.5h0M31.6 24h0M44 38.7h0M32.9 28.4h0M32.6 45.5h0M40 25.5h0M62.5 69.7h0M25.8 26.4h0M35.5 101.6h0M45.9 5.6h0M31.9 29.8h0M55.9 19.9h0M52.3 64.8h0M22.9 6.9h0M77.2 62.9h0M35.7 35.7h0M18.9 84.6h0M27.5 78.5h0M46.7 18.9h0M22.8 77.6h0M32.7 9h0M46.9 48.2h0M36.7 43.5h0M24.1 62.7h0M38.8 10.4h0M35.5 90.3h0M53.2 27.9h0M94.7 71.6h0M47.1 38.5h0M82.4 54.1h0M47.5 20.1h0M70.7 46.9h0M48.7 82.1h0M36.7 76.3h0M33.3 44.9h0M39.4 53.7h0M10 56.6h0M38.1 86.9h0M32.2 6.2h0M47.2 33.3h0M45.6 22.1h0M5 63.5h0M44.4 9.3h0M32.6 86.7h0M53.2 47.5h0M35.9 44.7h0M22 8.6h0M44.6 71.7h0M37.2 88h0M39.7 12.5h0M75.8 45.3h0M73.6 53.2h0M30.6 103.1h0M51.7 73.1h0M21.6 81.1h0M22.4 18.4h0M27.6 69.4h0M11.2 73.4h0M50.2 73.2h0M54.3 22h0M18.1 62.9h0M54 22.9h0M22.1 95.4h0M24.6 11.3h0M9.2 66.7h0M26.4 13.1h0M52.1 26.1h0M49 71.6h0M41.7 63.8h0M40 60.2h0M49.8 51.8h0M42.8 33.8h0M20.3 12.8h0M30.7 20.8h0M16.6 66.4h0M40.7 28h0M11.9 80h0M12.8 74.5h0M81.1 47h0M40.8 84.7h0M42.7 4.7h0M17.7 11.2h0M36.9 11.1h0M47.1 46.4h0M35.8 81.7h0M23.4 87.2h0M17.3 74h0M29 69.7h0M15.7 83.3h0M47 78.5h0M31.3 68.4h0M38.6 33.3h0M44.3 21h0M50.8 10.9h0M24.7 97h0M29.5 27.2h0M13.1 60h0M23.6 21.5h0M36.9 30.2h0M9.1 65.1h0M7.2 66.2h0M29.4 35h0M47 47.8h0M49.3 75h0M45.1 58.9h0M51.8 8h0M17.7 21.2h0M82 51.5h0M30.8 78.2h0M38.4 70h0M33.7 5.5h0M22.3 64.9h0M35.3 2.6h0M25.1 71.2h0M39 48.1h0M35.2 80.8h0M34.2 33.6h0M36 90.6h0M30.2 13.3h0M28.7 21.7h0M53.7 25.5h0M30.5 85h0M17.7 81.2h0M10.2 60.3h0M57.1 75h0M41.6 50.6h0M24.9 10.8h0M43.4 71h0M31.2 22.4h0M12.8 79.6h0M40.8 41.4h0M31.1 12.4h0M26.7 15.2h0M74.1 45.1h0M50.6 22.4h0M50.4 53.4h0M32.3 101.8h0M32.3 87.1h0M75.9 50.7h0M47.4 54.8h0M38.4 73h0M38 12.7h0M41.3 21.4h0M10.3 60h0M23.3 77.8h0M89.8 56.1h0M9.6 57.8h0M38.4 6.5h0M102.4 80.5h0M72.2 53.7h0M43 77.8h0M27.9 81.6h0M50.2 70.4h0M44.7 10.9h0M46 37.3h0M38.8 31.5h0M31.9 83.2h0M34.5 93.2h0M23.9 23.1h0M31.2 71.9h0M45.3 8.5h0M40.2 8.2h0M42.7 9.9h0M50.4 20h0M48.8 56.9h0M31.3 29.2h0M90.2 48.6h0M37.5 93.9h0M11.9 82.6h0M29.9 68.1h0M24 10.1h0M81.4 53.8h0M12 63.7h0M84.8 53h0M88.2 54h0M33.3 44.8h0M34.8 34.6h0M29.5 24.6h0M73.5 65.8h0M18.4 86.6h0M44.1 38.9h0M37 63.2h0M13.7 62.1h0M7.3 67.7h0M15.7 66.1h0M73.4 61.8h0M49.4 41.7h0M44.8 76h0M21.5 91.1h0M36.7 6.4h0M38.2 38h0M31.1 85.7h0M24.7 21.9h0M28.7 35.6h0M23.3 19.7h0M42.7 73.9h0M60.1 72.6h0M86.7 46.7h0M47.4 76.9h0M35.6 83.7h0M36.7 92.9h0M53.6 16h0M29.4 6h0M16.8 75.6h0M27.2 32h0M46.7 67.9h0M28.9 15.2h0M89.4 64.4h0M68.6 58.5h0M29.2 10.9h0"/></g>
<use href="#p157" stroke="#d6d6d6" stroke-width="2.3"/>
<g stroke="#6a6a6a" stroke-width="2.9"><path id="p158" d="M87.4 61.4h0M11.5 74.3h0M25.9 68.7h0M78.9 53.6h0M37.4 97.5h0M42.8 87h0M45.2 79.1h0M15.7 67.8h0M30.8 91.1h0M45.7 34.6h0M100.4 79.4h0M32.9 44.2h0M74.8 59h0M18.3 69.2h0M36.4 14.6h0M28.3 6.4h0M43.7 74h0M35.2 3.5h0M42.1 44.1h0M12.3 65.6h0M31.3 31h0M48.5 7.4h0M48 26.4h0M35.2 93.5h0M48.3 36.8h0M53.6 79.2h0M45.4 53.5h0M8.2 64.1h0M31.7 91.4h0M13.1 53.5h0M31.3 98.6h0M75.1 48.3h0M46.5 30.3h0M55.1 69.5h0M27.8 21.4h0M9.7 66h0M5.6 54.7h0M46.3 47.2h0M59.1 74.3h0M52.1 12.3h0M14.7 64.1h0M24.7 85.8h0M8.3 54.9h0M22.1 77.8h0M25.8 65.8h0M33.7 92.4h0M50.8 10.4h0M23.6 8.8h0M41.5 92.3h0M39.4 84h0M46.5 8.5h0M50.7 8.1h0M53.3 28.4h0M6.2 60.1h0M75.3 46.6h0M73.2 48.5h0M56.6 71h0M28.4 10.8h0M49.6 33.1h0M48.8 15.4h0M43.4 63.3h0M23.9 74.6h0M47.2 37.5h0M38.9 80h0M21.1 62h0M54 77.9h0M36.2 62h0M34.5 6.1h0M42 19.7h0M46 39.6h0M54.7 72.2h0M46.5 38.6h0M34.1 92.5h0M49.8 5.5h0M40.8 53.8h0M19.3 72.2h0M32.9 82.1h0M26.7 72.6h0M7.8 56.8h0M23 62.6h0M31.9 70.5h0M37.5 80.1h0M18.4 18.4h0M28.3 99.7h0M26.8 8.4h0M37.5 16.3h0M29.4 35.3h0M11.1 60.9h0M27.5 95.2h0M52.9 60.1h0M81.6 51.3h0M43.8 44h0M42.8 58.8h0M79.6 59.5h0M44.6 76.3h0M18.2 90.5h0M95.7 70h0M51.2 62.1h0M74.1 58.6h0M38.6 3.4h0M55.7 9.7h0M50.2 61.6h0M44.3 76.5h0M7.7 68.4h0M54.2 75.9h0M39.9 72.9h0M16.1 67.3h0M38.8 9.3h0M49.8 72.8h0M46.1 13.6h0M42.4 4.7h0M30.2 13.5h0M51.5 81.3h0M55.1 26.2h0M55.1 18.9h0M47.4 6.8h0M42.8 64.9h0M47.5 5.7h0M47.4 7.1h0M77.7 57.9h0M37.7 51.3h0M28.5 80.3h0M38 81.8h0M29.1 29.8h0M50.4 9.6h0M53.9 66h0M21.3 68.4h0M26 28.8h0M38 19.3h0M15.1 81h0M19.7 79.3h0M17.4 69.2h0M18.8 68.2h0M43.7 16.7h0M75.9 47.4h0M63.3 70.5h0M37.8 78.8h0M33.7 38.4h0M85.4 46.4h0M21.8 75.6h0M16.1 67.7h0M40.2 4.4h0M32.3 13.4h0M15 88.8h0M17 77.4h0M41.4 46.9h0M43.6 20.3h0M45.1 33h0M99.5 75.3h0M25.3 67.4h0M35.6 92.5h0M6.1 59.3h0M43.1 12.4h0M29.2 65.7h0M22.9 14h0M36.5 0.3h0M36.7 76.3h0M21.7 63.2h0M19 14.3h0M26.4 18.8h0M34.8 98.7h0M53 53h0M5.6 67.9h0M43.5 54.3h0M36.5 83.6h0M5.3 57.5h0M31.1 98.1h0M29.2 8.8h0M88.5 59h0M97.4 72.5h0M44.3 14.5h0M23.7 92.8h0M49.5 76.4h0M88.4 65h0M42 73.7h0M29.6 29.1h0M3.4 56.6h0M10.9 56.1h0M23.4 9.7h0M18.7 83.4h0M24.9 93.9h0M64.5 73.4h0M12.8 60.7h0M26.2 24.6h0M81 58.7h0M24.4 22h0M42.5 66.8h0M22.7 18.1h0M77.2 62.8h0M78.1 64.4h0M27.3 11.5h0M44.8 81.6h0M43.3 73h0M30.2 13.9h0M84.9 53h0M16.3 73.2h0M40 70.5h0M54.1 67h0M38.8 39.3h0M34.3 101.1h0M26.6 26.1h0M36.6 93.1h0M43.9 62.3h0M43.1 58.8h0M45.6 17.8h0M40.1 48.7h0M22.2 21h0M43.2 52.6h0M14 61.4h0M24.7 16.7h0M88.5 55.6h0M92.4 69.4h0M29.3 65.4h0M40.3 71.7h0M47.8 57.2h0M48.9 81.8h0M23.6 67.5h0M31.5 14.6h0M28.9 16.3h0M35.5 27h0M31.9 95.3h0M44.8 10.2h0M16.2 66.6h0M82.6 54.6h0M83.4 49.8h0M26.1 17.5h0M61.2 72.2h0M41.3 5.3h0M60.2 71.6h0M42.4 25.7h0M47.5 47h0M52.3 69.2h0M35.4 21.8h0M34.9 11.6h0M18.1 85h0M49 58.3h0M25.9 29.3h0M31.5 30.3h0M45.5 34.8h0M56.9 71.2h0M21.6 95h0M43.6 27.1h0M36.4 46.5h0M54.9 80.1h0M77 47.9h0M36.3 39.8h0M45.4 77.9h0M77.1 49h0M40 73.2h0M82.4 58.7h0M19.8 96.5h0M42.8 37.6h0M53.8 15.1h0M92.3 68.3h0M82.3 51.8h0M53.1 75.9h0M87.7 57.6h0M25.3 4.2h0M39.4 17.4h0M46.2 4h0M35.4 48.1h0M33 80.5h0M26.5 85h0M21.9 76.9h0M36.1 87.1h0M48.4 24.7h0M38.9 82.3h0M40.6 88.6h0M18 71.9h0"/></g>
<use href="#p158" stroke="#d6d6d6" stroke-width="2.3"/>
<g stroke="#6a6a6a" stroke-width="2.9"><path id="p159" d="M76.2 64.2h0M51.4 42.9h0M30.6 16.1h0M30.1 11.3h0M79.7 56.2h0M55.7 17.6h0M97.8 77.9h0M30.8 90.4h0M9 69.6h0M52.2 65.4h0M14.1 57.3h0M48.8 53.5h0M27.8 73.4h0M21.5 94.7h0M13.8 71.9h0M49.7 18.1h0M85.1 51.5h0M22 65.9h0M24.5 87.8h0M39.4 48.2h0M42.2 74.3h0M16.5 58.4h0M77.6 63.5h0M23.9 63.4h0M20.9 84.8h0M50.4 24h0M4.8 62.5h0M9.2 64.9h0M4.7 59.8h0M44.7 29h0M25.1 14.7h0M51.2 45.4h0M34.8 37h0M52.2 18.9h0M17.6 64.6h0M33.5 87.2h0M12.5 72.9h0M52.2 8.8h0M10.1 75h0M28 96.6h0M88.6 59.8h0M48.4 5.5h0M89.6 57.4h0M32.8 4.7h0M43.8 82.4h0M20 74.8h0M35.2 102.1h0M43.5 14.2h0M20.2 93.9h0M50.7 29.6h0M49.1 35.5h0M48.1 41.3h0M41.5 6h0M11 64.2h0M41.1 18.8h0M27.3 83.9h0M32.5 20.8h0M27.5 80.9h0M49.5 40.4h0M40.8 35.8h0M53.8 21h0M22.2 6.8h0M80 53h0M27.7 15.3h0M34.7 99.7h0M40 72.4h0M11.3 74.5h0M38.9 42.2h0M81.4 58.3h0M32.4 85.9h0M91.2 51h0M52.3 77.5h0M48.3 53.2h0M18.5 60.9h0M12.3 73.6h0M18.7 14.4h0M69.4 48.6h0M87.8 52.1h0M27.6 17.4h0M39.8 30.4h0M34.2 9.7h0M49.9 25.2h0M23.8 7.8h0M49.8 29.6h0M15.5 76.9h0M8.5 57.1h0M42.9 86.8h0M21.7 13.4h0M12 66.8h0M37.8 82.4h0M21.8 21.7h0M16.1 57.1h0M27.6 2.7h0M32.7 20.8h0M35 96.8h0M31.7 91.7h0M82.8 48.4h0M46.3 75.2h0M43.3 84.4h0M45.5 56.7h0M12.9 81.1h0M35.4 92.4h0M35.8 38.8h0M47.5 40.2h0M39.5 70.1h0M38.4 4.7h0M100.9 80.5h0M46 32.6h0M56.5 78.3h0M35.1 34.7h0M43.3 14.8h0M40.5 86.5h0M35.3 10.5h0M31.5 86.6h0M35.5 30.2h0M50.5 54.7h0M47.5 73.6h0M8.2 62.4h0M28.1 21h0M6.1 57.8h0M90.3 48.4h0M11.8 79.9h0M42.4 89.7h0M35.5 69.3h0M21 93.2h0M16.7 74.3h0M34.2 5.1h0M36.6 27.5h0M34.3 90.7h0M26.2 26.1h0M99.8 77.9h0M79.6 58.7h0M99.5 74.7h0M25.9 16.5h0M26.1 77.3h0M83.2 52.4h0M44.6 72.6h0M48.5 39.5h0M19.8 16h0M50.1 74.4h0M5.4 55.4h0M48.2 35.4h0M22.4 64.1h0M55 70.8h0M23.8 12.6h0M33.2 76.2h0M9.8 77.2h0M41.6 73.4h0M43.5 7.2h0M102.9 77.4h0M43.1 57.4h0M30.3 33.3h0M6.9 66.9h0M47 80.4h0M22.6 69.3h0M48.3 49.9h0M22.1 20.3h0M47.6 21.5h0M46.6 51.7h0M31.4 25.5h0M46 10.5h0M50.2 70.6h0M25.2 96.2h0M50.7 71.2h0M57.9 75.1h0M36.2 51.4h0M44 60.9h0M30.6 24.6h0M26.1 17.1h0M43.1 2.4h0M27.5 28.2h0M23.4 94.1h0M27 13.5h0M39.1 47.9h0M26.8 66.9h0M39.7 48.8h0M50.1 28.7h0M67.3 53.7h0M72 60h0M44.9 40.9h0M27.7 68.1h0M47.7 81.5h0M49.6 61.5h0M23.5 75.1h0M88 59.9h0M15.9 79.6h0M51.6 69.1h0M38.6 7.2h0M27.7 94h0M43.6 64.1h0M50.1 66.5h0M39.5 36.4h0M46.6 6h0M17.9 64.5h0M85.3 46.7h0M6.5 65.2h0M10.7 64.6h0M17.2 64.4h0M32.2 93.7h0M29.4 34.1h0M45.1 37.3h0M52.3 65.9h0M48 30.7h0M27.2 29.4h0M52.7 24.1h0M63.1 71.9h0M34 17.3h0M14.8 72.1h0M54.3 49.5h0M18.9 69.7h0M31.8 94.7h0M53.1 13.3h0M22.9 16.9h0M95 68.9h0M28.1 16.2h0M89 64.8h0M55.8 74.3h0M16.1 55.2h0M72.5 65.4h0M25.5 79.9h0M59.7 78.6h0M25.8 81.5h0M42.3 7.9h0M70.9 54.4h0M43.8 68.7h0M33.9 18.8h0M33.1 89.9h0M55.3 19h0M79.9 49h0M23.9 83.2h0M22.9 64.7h0M46.6 25.7h0M43.9 66.4h0M24 19h0M64.6 72.5h0M57.8 19.7h0M23.8 67h0M40.8 27.7h0M49.7 31.2h0M18.9 70.4h0M47.6 42.5h0M55 64h0M40.6 66.6h0M86.7 49.9h0M49.4 52h0M25.6 71h0M74.5 62.7h0M30.1 72.6h0M49.3 51.9h0M9.5 55.4h0M19.8 8.8h0M51.1 15.3h0M42.2 81.9h0M24.1 79.1h0M24.1 13.3h0M45.8 6.6h0M52 78.7h0M44.7 8.7h0M29 99.8h0M27.5 70.8h0M65.4 69.9h0M34.4 15.1h0M44.8 76.9h0M69 54h0M28.6 28.7h0M23.1 73.8h0M36.7 25.5h0M44.9 47.3h0M5.3 63.7h0"/></g>
<use href="#p159" stroke="#d6d6d6" stroke-width="2.3"/>
<g stroke="#6a6a6a" stroke-width="2.9"><path id="p160" d="M30.6 102.6h0M24 5.6h0M51.8 54.2h0M41.9 37.5h0M45.3 21.9h0M100.9 79.7h0M22.8 16.1h0M29.7 69.6h0M22.9 26.2h0M14.5 57.7h0M42.6 17.7h0M18.1 67h0M37.8 35.7h0M29.6 98.7h0M26.8 10h0M41.9 23.5h0M19.8 17.5h0M74.8 47.4h0M36.1 51.9h0M69.4 54.5h0M12.1 59.6h0M27.7 70.7h0M23.6 69.1h0M91.3 65h0M34.8 91h0M38.9 5.1h0M16.3 81.1h0M24.9 69.1h0M30.2 87.8h0M49.8 18.7h0M25.2 11.6h0M40.1 39.7h0M40.7 46.6h0M26.1 91.8h0M35.6 47.6h0M25.5 86.5h0M42.8 53.4h0M43.9 11.1h0M76 50.2h0M50 50.3h0M8.2 54.2h0M37.4 95.1h0M32.5 35.8h0M42.4 38h0M15.2 87.9h0M23.7 93.7h0M14.4 86.4h0M47.4 80.1h0M24.2 62.6h0M25.6 70.1h0M22.7 94.1h0M39.6 30h0M32.1 73h0M30.9 30.6h0M51.8 77.5h0M90.7 67.5h0M13.6 62.2h0M36.1 79.4h0M25.7 26.4h0M31.2 86.9h0M50 69.6h0M30.4 93.9h0M27.8 13.7h0M59.1 73.6h0M61.8 76.3h0M78.9 59.9h0M54.6 78.7h0M33.9 80h0M9.5 69.6h0M35.1 82.4h0M38 2.4h0M38.1 81.1h0M28.9 89.1h0M12.8 77.9h0M32.4 87.3h0M27.7 34.8h0M59.9 78.4h0M84.9 59.8h0M49.8 58.2h0M16.2 57.3h0M28.7 90.8h0M37.4 2.1h0M32 35.8h0M37.3 70.1h0M23.1 78.6h0M50 80.8h0M37.2 79.8h0M28.4 6.7h0M24.3 91.4h0M51.7 80.8h0M35.5 43.5h0M48.2 78.1h0M71.2 60.5h0M52.1 58.3h0M43.3 21.1h0M35.9 19.5h0M27.5 93.7h0M66 71.1h0M38.8 82.1h0M33.1 74.3h0M47.2 82h0M53.7 23h0M33.6 73.7h0M29.5 71.5h0M37 37.1h0M77.9 44.3h0M42.9 60.8h0M15 66.9h0M6.8 64.5h0M58.6 75.3h0M23.2 27.1h0M31.5 25.7h0M43.8 50.6h0M14.8 61.1h0M11.6 60.6h0M25 21.1h0M38.5 6.9h0M54.7 7.6h0M34.1 36.5h0M30.6 77.2h0M18.1 61.4h0M45.1 20.2h0M39.5 37.2h0M15 69.8h0M38.4 26.9h0M24.4 67.9h0M30.1 15.9h0M24.7 22.3h0M35.8 31.2h0M18 57.4h0M26.1 6.5h0M32.5 94.1h0M81.9 51.5h0M52.4 79.9h0M20.9 69.5h0M48.2 56.9h0M31.1 69.7h0M90.9 54.2h0M93.6 70.6h0M49.8 76.2h0M26.9 96.8h0M68 72.2h0M43.2 66.5h0M21 67.6h0M36.5 90.1h0M7.3 55.3h0M23.7 82.4h0M46.9 59.8h0M30.2 70.5h0M26.1 33h0M43.9 42.9h0M6.7 64.6h0M35.5 77.7h0M102.7 77.3h0M22 85.9h0M81.9 55.3h0M18 82.3h0M38.7 97.2h0M89.6 53.6h0M47.5 74.2h0M19.6 18.5h0M44.5 21h0M29.7 13.1h0M21.2 9.2h0M39.8 8.5h0M40.1 70.5h0M50.3 45.3h0M27.5 66.1h0M40.8 33.4h0M38 66.5h0M71.6 63.3h0M18.4 11.7h0M70 57.7h0M34.4 37.1h0M51.9 22.5h0M27.2 10.3h0M86.9 58.4h0M31.6 71.9h0M54.7 79.6h0M26.6 97.2h0M37.2 33.1h0M48.4 28.8h0M12.1 56.9h0M46.8 60.5h0M16.2 82.1h0M29.6 19.4h0M40.8 85h0M50.7 61.2h0M45.3 33.5h0M13.7 75.2h0M32.5 22.7h0M8.2 57.4h0M34.2 31.7h0M34.1 21.6h0M25.7 72.4h0M38.7 49.5h0M31.4 90.2h0M43.4 8.4h0M19.2 21.5h0M91.8 54.8h0M36.3 23.4h0M21.5 78.8h0M5.6 64.5h0M85.2 53.4h0M15.7 74.5h0M26.3 30.9h0M14.1 88.5h0M42.8 90.3h0M35.2 13.5h0M76.7 56.8h0M19.8 65.8h0M30.7 27.7h0M19.6 85.1h0M46 59.1h0M66.4 73.5h0M35 14.9h0M13.5 69.1h0M10.4 64.7h0M34.2 30.2h0M52.1 22.5h0M56.7 14.9h0M25.8 26.7h0M28 13.8h0M39.8 69.5h0M82.9 57.8h0M14.3 56.2h0M7.9 64.9h0M46.1 65.5h0M36.7 16.2h0M21.6 89.6h0M40.9 22.6h0M48 6.7h0M40.9 10.8h0M43.1 38.4h0M33.2 92.6h0M58.5 75.7h0M48.5 18.6h0M28.8 22.3h0M55.7 27.7h0M35.8 25.6h0M37.4 98.2h0M33.7 85.6h0M5.8 64.8h0M33.3 76.2h0M76.8 57.6h0M13.2 78.4h0M41 71.2h0M38.1 90.8h0M77.8 45.5h0M19.4 22.1h0M89.6 65.5h0M54.4 80.5h0M40.6 98.2h0M30.6 34.1h0M29.2 32h0M40.4 41.8h0M49.4 40.8h0M12.3 64h0M36.2 77.8h0M47.4 11.7h0M28 89h0M29.4 84.4h0M49.3 79.3h0M54.8 75.4h0M40.5 99.4h0M49.3 71.9h0M30.1 98.4h0M31.2 30.1h0M52.1 72.1h0"/></g>
<use href="#p160" stroke="#d6d6d6" stroke-width="2.3"/>
<g stroke="#6a6a6a" stroke-width="2.9"><path id="p161" d="M73.7 56.1h0M64 66.6h0M40.3 80.7h0M24.6 9.6h0M45.4 29.9h0M34.5 13.4h0M42.4 16.2h0M38.3 92.7h0M21.4 66.9h0M89.8 53h0M44 19.3h0M37.3 14.8h0M56.9 67.2h0M51.3 60.4h0M35.9 91.8h0M43.9 5h0M42.2 16.2h0M28.1 69.5h0M47 33.1h0M71.5 58.1h0M13.1 59.6h0M29.9 11.1h0M100.1 76.2h0M66.6 72.1h0M55.5 65.5h0M80.2 47.5h0M44.6 33.9h0M23.6 89h0M19.1 78.4h0M52 25.1h0M90.1 67.7h0M31.8 25.2h0M8.4 64.7h0M88.9 53.2h0M51.2 77.8h0M37.4 8.4h0M46.2 61.9h0M42.7 46.1h0M32.9 43.8h0M44.1 64.5h0M15.4 80.4h0M78.8 45.9h0M40.2 16.4h0M76.4 44.9h0M36.3 51.8h0M30.8 5.6h0M43.6 74.3h0M29 82.1h0M29 91.2h0M23.9 71h0M26.6 92.3h0M40.3 42.4h0M29.6 83h0M25.7 33.1h0M54.2 17.4h0M18.2 10h0M41.9 57.2h0M32.3 76.5h0M45.1 41h0M85.7 53.5h0M52.4 15.7h0M99.9 76.3h0M34.7 20.1h0M28.9 13.8h0M39.1 1.2h0M31.3 36.6h0M20.4 83.9h0M47.8 59.2h0M27.4 31.7h0M41.1 82.5h0M32.1 38.6h0M21 76.1h0M29.9 13.4h0M40.3 39.1h0M46.7 46.9h0M66.5 72.9h0M8.7 72.8h0M38.6 12.1h0M37.4 45.6h0M46.7 23.2h0M23.1 70.3h0M36.9 80h0M32.2 46h0M13.4 85h0M34.2 88.9h0M30.5 19.7h0M57.7 73.3h0M14.4 59.6h0M49.9 9h0M29.3 6.3h0M23.2 86.2h0M38.2 0.2h0M35.1 11.8h0M21.4 9.7h0M91.2 51.2h0M77.9 44.8h0M31.4 93.9h0M19.9 8h0M48.8 51.6h0M40.6 85.1h0M32.9 80.7h0M20.9 91.7h0M23.8 28.1h0M36.7 11.4h0M52.2 72.2h0M23.2 9.5h0M24.4 28.5h0M33.2 18.2h0M37.4 31.6h0M48.9 30.5h0M5.5 67.2h0M80.4 49.1h0M27.4 67.5h0M74.2 62.5h0M35.3 30.2h0M13.1 73.7h0M25.7 64.7h0M23 25.5h0M38.2 86h0M41.7 89.5h0M29.7 17.4h0M21.3 84h0M44.1 2.9h0M29.7 71h0M21 70.6h0M35.7 14.5h0M48.8 71.8h0M73.5 50.7h0M43.8 40.3h0M7.9 62h0M50.4 12h0M23.2 72.3h0M89.2 52.3h0M49.4 52.9h0M25 86.5h0M51.9 80.9h0M83.4 51.5h0M24.8 20h0M34.5 43h0M31.3 79.3h0M34.5 72.2h0M55.8 18.4h0M17.3 73.6h0M50.5 26.4h0M30.5 38.3h0M37.8 88.1h0M30.4 88h0M47.7 9.2h0M86.3 53.3h0M17.4 70.3h0M40.9 19.9h0M30.2 93.6h0M51.1 43.3h0M47.2 31.7h0M19.1 60.7h0M14.5 64.4h0M65.7 69.6h0M29.6 8.5h0M45.5 68.7h0M26.4 84.1h0M52.3 9.4h0M48.8 37.5h0M28.5 92.2h0M52.8 53.8h0M37.2 71.8h0M33.6 102h0M13.7 57h0M5.2 61h0M40.7 4h0M41.1 90.2h0M42.9 17.4h0M45.2 74.1h0M38.1 18h0M35.5 7.7h0M6.3 67.5h0M20.8 16.5h0M28.8 31.7h0M36.6 36.9h0M15.2 66.3h0M50.1 24.7h0M91.4 65.3h0M38.1 27.8h0M34.7 29h0M54.6 21.1h0M31.9 31h0M72.9 54.6h0M23.6 25.7h0M41.3 51.1h0M50.2 79h0M5.6 61.5h0M36.9 93h0M47.8 52.9h0M41.6 74.8h0M26.8 27.1h0M51.5 74.4h0M26.5 83.5h0M47.8 27.4h0M27.4 23h0M27.2 10.1h0M27.5 90.3h0M28.9 33.3h0M48.8 36h0M35.1 4.1h0M52.8 28.3h0M18.7 69.2h0M25.4 74.2h0M33.1 32.2h0M49.9 22.4h0M46.3 74.2h0M50.5 74.2h0M36.4 63.1h0M42 88.3h0M56.1 20.4h0M10.5 58.2h0M98.5 73h0M19.8 56.3h0M23.7 11h0M38.1 95.4h0M84.8 52.3h0M44.7 58.4h0M29.6 73.2h0M21.8 62.6h0M22.2 94h0M99.6 75.8h0M30.7 20.5h0M32.1 18.9h0M26.3 31.5h0M46.9 35.7h0M27.3 63.6h0M89 60.4h0M7.2 58.9h0M33.9 28.2h0M51.6 29.5h0M21.4 17.7h0M40.4 9.1h0M32.1 69.5h0M18.9 12h0M74.4 53.4h0M43.1 6.7h0M50.1 11.5h0M43.4 49.6h0M47.3 40.1h0M45.8 19h0M9 68.3h0M17 75.1h0M13.4 81.8h0M39.1 27.7h0M25.6 27.3h0M32.4 9.4h0M6.8 66.2h0M54 28.3h0M16.8 83.4h0M41.2 94h0M48 64.7h0M87.8 52.6h0M82.5 58h0M44.7 60.8h0M29.2 95.3h0M33 17.6h0M33.6 6h0M42.9 95.8h0M44.2 53.1h0M28.9 93.7h0M50.9 50.9h0M31.5 13.4h0M32.2 21.4h0M44.3 14.2h0M38 5.7h0M58.4 72.9h0"/></g>
<use href="#p161" stroke="#d6d6d6" stroke-width="2.3"/>
<g stroke="#6a6a6a" stroke-width="2.9"><path id="p162" d="M28.9 81.5h0M61.3 78.6h0M98.9 78.8h0M50.9 32.1h0M38.3 41.7h0M47.3 31.1h0M36 14.5h0M34.5 79.8h0M21.1 8.6h0M36.5 37.3h0M19.7 75.8h0M30.7 31h0M32.2 73.6h0M26.1 73.6h0M46.9 22.6h0M36.2 80.3h0M50.5 32.4h0M2.8 59.1h0M18.9 78.1h0M38.8 59.2h0M26.7 8.6h0M18 79.4h0M22.3 81.7h0M9 54.9h0M54.3 76.2h0M23.4 12.6h0M21.3 92h0M60 77.9h0M37.4 36.1h0M51.6 28.6h0M23.5 64.1h0M50.3 12.3h0M46 39h0M38.7 86.9h0M86 50.1h0M48.3 15.8h0M23.5 21.4h0M82.5 48.2h0M20.8 91.5h0M24.1 65.5h0M36.6 15.6h0M26.3 98.3h0M21.9 14.8h0M29.4 32.5h0M20 85.3h0M37.3 25.1h0M20.4 87h0M46.9 31.3h0M30.7 76.2h0M39.8 45h0M7.7 56.3h0M98.9 73.3h0M79.1 56.8h0M41.7 87.2h0M37.9 75.9h0M5 57.9h0M7.3 58.3h0M52.3 59.6h0M23.3 14.1h0M44.7 20.4h0M73.5 60h0M50.5 78.2h0M33.6 80.5h0M35.4 49h0M13.3 63.1h0M92.7 68.5h0M44.4 10.3h0M16 71.6h0M37.6 1.5h0M21.7 61.6h0M35.9 84h0M57.8 13.6h0M40.4 73.3h0M22 84.8h0M54.5 9.4h0M50.5 50.6h0M36.1 97.5h0M41.7 28.7h0M32.2 8.1h0M38.7 82.8h0M36.9 43.5h0M25.6 3.6h0M46.2 78.1h0M13.7 79h0M33.5 24.8h0M24.9 13.5h0M16.5 63.5h0M49.4 83.5h0M48.7 24.2h0M17.7 74.2h0M19.8 15.1h0M30.6 81h0M23.9 74.5h0M33.3 36.3h0M37.2 99h0M81.5 52.1h0M29.6 96.9h0M23.1 78.1h0M33.5 23.5h0M26 27.5h0M29.3 35.8h0M2 56h0M74.8 65.4h0M83.5 60.6h0M22 67.1h0M55 79.6h0M24 93.3h0M72.5 63.9h0M32.8 77h0M53.8 60.2h0M40.9 70.3h0M49.2 19.1h0M6.3 61.5h0M40.1 16.1h0M7.4 59.9h0M50.3 26.2h0M17.5 75.8h0M40.7 27.5h0M46.3 46.2h0M28.4 33.5h0M11.1 76.5h0M48.1 78.2h0M84 57.6h0M38.3 87.3h0M66 71.2h0M63.2 72.7h0M32.8 70.9h0M37.7 40.5h0M10.8 73.7h0M50.5 66.9h0M28.7 29.3h0M29.1 87.9h0M80.1 45.5h0M15.7 58.4h0M31 18.6h0M45.9 4.9h0M52.9 24.8h0M39.6 78.2h0M38.9 30.2h0M23.1 84.3h0M53.1 78.6h0M56.2 58.5h0M23.7 23.7h0M5.1 57.8h0M24.3 71.8h0M44.3 27.8h0M36.5 6.7h0M29.2 32h0M9.6 78.4h0M34.2 97.6h0M23.7 6.3h0M50.5 58.5h0M44.1 77.6h0M85.1 59.2h0M27.7 8h0M39.2 24.4h0M28.3 34.1h0M43.8 60.4h0M35.6 95.6h0M10.8 56.3h0M17.9 86.3h0M61.9 71h0M18.6 73.3h0M27 93.2h0M42.8 14.2h0M43.8 40.4h0M40 56.9h0M70.6 61.4h0M32.8 23h0M10 54h0M22.2 26.6h0M24.7 73.1h0M40.5 91.9h0M7.2 55.9h0M43.2 5.8h0M23.4 86.8h0M49.1 8.8h0M39.1 8.9h0M28.7 70.8h0M38.7 53.3h0M49.5 36.4h0M35.4 47.3h0M36.3 84.1h0M48 57.8h0M52.7 66.9h0M44.1 2.2h0M94.6 70.4h0M52.8 13.4h0M47.6 58.2h0M24.9 18.2h0M72.4 57.5h0M10.8 66.6h0M57.1 78.8h0M21.2 77.7h0M17.2 58.2h0M40.2 93.5h0M55.8 74h0M23.3 81.8h0M19 67.6h0M10.6 69.7h0M41.4 43.4h0M28.6 7.7h0M21.1 8.5h0M42.9 2h0M35.5 16.2h0M51.9 18.6h0M47.3 58.1h0M44.4 11.6h0M26.1 67.5h0M13.2 76.6h0M50.2 23.7h0M37.9 64h0M19.3 87h0M71.5 52.2h0M33.1 31.6h0M35.6 34.3h0M80.9 57.8h0M66.9 73h0M91.1 54.4h0M21.6 78.7h0M44.3 48.5h0M23.7 84.7h0M28.5 16.4h0M38.2 62.8h0M32.8 77.1h0M36.2 9.4h0M49.6 41h0M47.9 31.3h0M38.7 66.8h0M25.2 83.9h0M45.6 33h0M19.2 13h0M36.5 21.4h0M29.5 93.2h0M32.7 91.3h0M50.5 18h0M22.8 65.1h0M51.9 78.9h0M30.8 24.4h0M22.4 70.3h0M29.5 81.5h0M42 38.2h0M35.9 34h0M33.6 31.2h0M40.4 47.9h0M31 31.7h0M25.1 87.1h0M90 49.6h0M43.1 76.8h0M30.9 27h0M30.1 99.4h0M47.6 21.2h0M29.3 33h0M48.3 30.3h0M45.5 79.2h0M97 70.8h0M36.2 22.2h0M16.4 81.4h0M28.9 82.3h0M7.4 66.7h0M45.9 75.2h0M45.8 58.7h0M37.4 26.6h0M36.6 99.6h0M8.3 67.9h0M28.6 74.4h0M38.5 6.1h0M41.6 46.8h0M41.8 63h0"/></g>
<use href="#p162" stroke="#d6d6d6" stroke-width="2.3"/>
<g stroke="#6a6a6a" stroke-width="2.9"><path id="p163" d="M47.2 51.3h0M35.8 29.5h0M39.5 65.5h0M50.3 25.7h0M45.6 56.8h0M26 66.8h0M35.8 8.4h0M23.7 69.2h0M38 100.5h0M42.6 39.7h0M18 70.8h0M30.2 81.5h0M18.5 56.9h0M31.4 95.5h0M40.9 66.7h0M41.9 21.9h0M23.4 81h0M46.6 6.6h0M10.6 64.8h0M20 87.7h0M23.5 92.3h0M14.3 79.5h0M46.9 36.5h0M23.6 85.5h0M38.5 1.8h0M45.1 11.1h0M79.2 64.9h0M14.8 66.5h0M48.1 80.6h0M20.5 68h0M73.5 57.9h0M39.2 93.6h0M48.8 22h0M25.7 80h0M19.5 91h0M13.7 85.7h0M86.7 51.9h0M48.6 79.6h0M36.6 81.1h0M88.4 49.4h0M76.1 51.9h0M81.2 55.6h0M49.5 62.2h0M36.8 14.6h0M54.7 79.6h0M31.9 95.5h0M34.4 80.9h0M34.1 71.2h0M32.5 13.5h0M42.9 55.6h0M48.3 70.7h0M30 30.3h0M41.8 28.1h0M40.1 94.5h0M52 15.9h0M36.7 50h0M28.9 8.5h0M76 44.8h0M34.9 24.8h0M29.4 96.2h0M20 22.9h0M46.4 57.5h0M54.8 67.2h0M29.3 78.9h0M58.7 72.7h0M79.4 61.2h0M18.2 6.7h0M15.5 80.5h0M40 39.2h0M37.9 89.5h0M40.3 82.9h0M88.9 48.1h0M23.4 70.6h0M87.8 46.8h0M49.1 76.2h0M49 67h0M14.9 64.2h0M30.4 66.9h0M52.5 71.1h0M22.8 93.2h0M40.4 40.1h0M38 15.3h0M36.4 48.1h0M52.3 18.1h0M52.4 71.8h0M43.9 64.4h0M45.8 55h0M17 14.3h0M26.9 33.4h0M31.4 5.8h0M37.6 86.2h0M24.8 23.5h0M36.8 94.2h0M45.2 37.3h0M81.4 61.1h0M17.6 67.7h0M37.5 41.9h0M35.1 17.2h0M74.8 47.5h0M83.3 47.7h0M34 31.3h0M39.1 100.4h0M19.3 93.8h0M22.1 13.8h0M85.8 47.6h0M11.8 69.3h0M30.1 16.6h0M19.5 60.3h0M45.1 58.4h0M82.3 53.2h0M51.9 61.7h0M47.2 65.9h0M32.6 92.1h0M18.5 80.1h0M101.6 77.9h0M17.5 66.7h0M55.1 8.2h0M64.1 75.8h0M56.9 17.3h0M55.5 81.9h0M30.4 31.2h0M19.2 77.2h0M38.9 14h0M5.6 55.3h0M36.6 11.8h0M46.7 46.9h0M28.8 12.3h0M53.2 10.7h0M39.2 18.1h0M53.1 55h0M31.9 14.3h0M47 64.8h0M43.1 19.2h0M32 76.7h0M16.4 90.2h0M20.8 82.3h0M15.9 87.3h0M43 47.5h0M17.2 58.7h0M43.6 14.3h0M20.5 67.8h0M37.2 99.5h0M82.5 54h0M18.8 87.4h0M17.5 67.2h0M38.9 11.3h0M61.7 74h0M16.6 68.5h0M21.5 66.4h0M24.1 76.6h0M25.6 71.1h0M102.3 78.1h0M46.3 20.1h0M24.2 75.8h0M12.6 77.6h0M48.2 46.5h0M9 61.8h0M52.3 33.3h0M41.8 73.8h0M102.9 76.7h0M4.8 56.2h0M30.4 26h0M24.5 91.4h0M75.8 55.8h0M47.5 53.4h0M65.4 70.3h0M23.4 79.1h0M46.4 27.2h0M37.2 66.5h0M32.8 97h0M96.4 71h0M39.8 92.2h0M41.6 17.6h0M23.6 8.9h0M36.2 9.1h0M78.7 43.9h0M85.5 53.1h0M26 97.9h0M51.6 56.7h0M54.9 73.7h0M16.8 74.5h0M44.5 45.9h0M36.9 90.4h0M39 45.7h0M37.5 92.3h0M25.3 86.8h0M34.3 10.4h0M38.6 49.4h0M21.8 81h0M21.1 70.3h0M19.6 16.4h0M46.9 63.7h0M75.9 42.8h0M31.2 87.1h0M21.7 12.2h0M48.4 13h0M56 17.5h0M31.5 87.6h0M37.9 1.7h0M40.5 81.9h0M31.8 41.5h0M7.2 73.4h0M32.9 75.1h0M22.2 96.9h0M39.2 62.3h0M20.5 91h0M37.1 43.9h0M41.8 49h0M41.6 71.6h0M80.6 49.6h0M51.9 51.9h0M38.6 7.2h0M28.8 74.9h0M61.6 74.2h0M68.4 55.2h0M47.8 26.8h0M35.2 77.6h0M96.9 76h0M7.7 58.1h0M47.2 55h0M37.4 35.5h0M33.4 13.8h0M65.4 74.5h0M31.9 31.3h0M46.9 75.1h0M45.2 43h0M32.3 23.9h0M47.2 4.3h0M44.5 47.9h0M45.3 35.9h0M7.1 55.4h0M52.9 14.7h0M94.8 73.6h0M46 53.4h0M31.1 2.8h0M43 17.1h0M20 66.8h0M16 69.2h0M72.6 55.9h0M77.3 45.5h0M5.9 56.2h0M20.6 8.6h0M52.2 15.7h0M30.5 74.1h0M50.7 12.2h0M82.6 56.2h0"/></g>
<g stroke="#34403e" stroke-width="2.84">
<path id="p164" d="M41.8 26.2h0M14.4 55.1h0M45.7 43.1h0M46.5 40.4h0M18.1 92.2h0M34.5 89.5h0"/>
<path id="p165" d="M99.2 77h0"/>
<path id="p166" d="M42 86.8h0M37 34.8h0"/>
<path id="p167" d="M81.6 49.8h0M71.9 51.9h0M95.5 73h0M29.4 76.2h0M73.5 45.5h0M77 46.5h0"/>
<path id="p168" d="M32.1 11.4h0M15.9 69.9h0M76.2 59.5h0M83.9 55.7h0"/>
<path id="p169" d="M15.5 58.1h0"/>
<path id="p170" d="M88.8 47.3h0M71.6 49.2h0"/>
<path id="p171" d="M80.9 54.8h0"/>
</g>
<use href="#p163" stroke="#d6d6d6" stroke-width="2.3"/>
<use href="#p164" stroke="#7ad151" stroke-width="2.3"/>
<use href="#p165" stroke="#482475" stroke-width="2.3"/>
<use href="#p166" stroke="#22a884" stroke-width="2.3"/>
<use href="#p167" stroke="#2a788e" stroke-width="2.3"/>
<use href="#p168" stroke="#21918c" stroke-width="2.3"/>
<use href="#p169" stroke="#bddf26" stroke-width="2.3"/>
<use href="#p170" stroke="#355f8d" stroke-width="2.3"/>
<use href="#p171" stroke="#414487" stroke-width="2.3"/>
<g stroke="#6a6a6a" stroke-width="2.9"><path id="p172" d="M72.7 61.8h0M45.4 9h0M32.3 80.9h0M33.2 81.7h0M15 61h0M26 79.4h0M37 86h0M50.9 25.8h0M31.6 7.8h0M39.2 73.3h0M15.1 58.9h0M52 47.3h0M20.6 70.2h0M89.3 67.5h0M40.5 7.2h0M37.4 74.5h0M47.7 55.4h0M27.7 10.4h0M33.4 102.7h0M54.1 74.4h0M35 99.3h0M41.6 87.5h0M31 98.2h0M37 15.2h0M41 95.7h0M52.3 14.7h0M49.6 74.5h0M32.3 87.8h0M19.4 79.6h0M10.5 74.8h0M46.8 47.8h0M28.4 98.8h0M90.8 65.5h0M48 30.7h0M30.5 4.1h0M25.7 18.9h0M50 29.4h0M89.2 49.3h0M14.2 79.1h0M47.9 17.2h0M63.4 76.1h0M33.4 85.6h0M34 15.5h0M21.5 79.4h0M35 49.4h0M41.1 47.8h0M27.5 88.1h0M10.5 69.3h0M44.5 52.2h0M12.9 68.9h0M45.6 52.8h0M43 34.9h0M39.3 84.3h0M18.4 87.2h0M19.1 83.3h0M23.7 68.4h0M31.9 31.6h0M33.8 13.2h0M27 30.2h0M44.9 35.2h0M93.1 72.2h0M32.9 4.1h0M19.6 85.8h0M21.1 20.9h0M42.8 30.2h0M53.6 55.6h0M40.9 37.3h0M86.7 54.2h0M55.1 20.5h0M99.1 76.8h0M10.3 74.4h0M49.8 32.6h0M15.4 56.5h0M95.7 69.9h0M15.6 56.9h0M71.8 53.6h0M34 38.3h0M85.7 58.1h0M49.2 9.4h0M86.4 56.9h0M52 79.1h0M20.1 21.4h0M39.4 65.1h0M47 19.4h0M12 84.1h0M38.6 5.6h0M35.5 16.8h0M51.1 60.9h0M41.1 48.7h0M17.2 55.4h0M34 92.8h0M27.4 97.4h0M24.8 5.6h0M23.6 25.3h0M28 82.6h0M74 52.7h0M46.4 31.7h0M35.1 20.3h0M43.5 17h0M50 80.7h0M17.6 59.5h0M43.7 29.4h0M18.4 65.4h0M49.2 79.7h0M6.9 57.1h0M6.5 57.6h0M49.4 9.6h0M13.5 65.4h0M39.9 25.1h0M36.7 4.4h0M42.5 23.8h0M34.9 87.9h0M36.9 11.1h0M78.6 61.9h0M84 54.8h0M22.1 10.9h0M28.3 100h0M45.8 60.3h0M55.3 22.3h0M31.5 93.2h0M41.7 18.2h0M70.4 47.2h0M48.9 74.7h0M48.6 49.1h0M45.9 21.6h0M52 28.2h0M22.3 9.7h0M92.7 69.7h0M51.2 10.7h0M75.6 48.1h0M13.5 86.6h0M32.9 34.5h0M16.5 86.4h0M24.9 23.1h0M36.4 19.6h0M22.3 80.7h0M28.6 86.7h0M44.8 23.8h0M30.3 85.4h0M23.1 69.2h0M26.9 27.9h0M39.2 38h0M43.1 5.1h0M85.8 60.2h0M52 44.8h0M50.4 62.3h0M27.5 80.4h0M24.8 5h0M44 5.5h0M49.4 34.1h0M14.4 68h0M44.2 70.8h0M71.7 58.7h0M20.1 67.8h0M69.5 62.6h0M49.4 66.3h0M50 65.3h0M53.9 16.3h0M29.8 77.5h0M63.7 74.3h0M84.7 56.8h0M59.6 74.7h0M23.9 85.8h0M33.3 32.5h0M49 24.2h0M50.3 20.8h0M24.1 14.6h0M20.9 66.9h0M41.7 14.9h0M24.9 31h0M20.3 67.3h0M21.3 88.7h0M48.3 3.7h0M24.5 19.2h0M8.8 61.4h0M55.6 75h0M19.2 62.4h0M31.6 15h0M28.5 15.3h0M35.9 21.7h0M32.2 15h0M41.6 1.2h0M33.7 30.6h0M32.1 74.5h0M32.5 92.8h0M41 41.5h0M45.7 59.9h0M32.9 80.4h0M11.9 80.2h0M48.6 10.2h0"/></g>
<g stroke="#34403e" stroke-width="2.84">
<path id="p173" d="M80.9 56.2h0M71.7 58.4h0M77.5 44.8h0M88.4 57.7h0M44.4 23.3h0M75.7 52.1h0M73.6 59.9h0"/>
<path id="p174" d="M36.5 81.5h0M70 56.4h0M80.1 59.1h0M44.5 64.4h0M50 48.2h0M34.3 3.7h0"/>
<path id="p175" d="M88 48.3h0M42.6 39.4h0M44.9 30.5h0M35.8 8.5h0M35.9 32.9h0M74.9 65.1h0M88 52.8h0M10.2 62.4h0M71 49.2h0M34.1 15.2h0M27.9 31.2h0M34.7 31.4h0M80.8 54.1h0"/>
<path id="p176" d="M14 54.6h0M25.7 19.2h0M46.1 18.4h0M90 56.9h0M42.9 78.4h0M33.8 37.8h0M37.4 101.3h0M21.6 86h0M49.6 6.6h0M92.5 71h0M74.2 53.4h0"/>
<path id="p177" d="M33.8 7.4h0M26.6 90.1h0M30.1 23.2h0M41.2 19.3h0M17.3 82.7h0M23.7 5.3h0M56.7 76.2h0M23.8 88.1h0"/>
<path id="p178" d="M37.2 2.8h0M50.7 26.9h0M10.4 56.7h0M8.9 65.9h0"/>
<path id="p179" d="M18.6 55.7h0M37.4 88.9h0M14.6 83.3h0M32.9 85.3h0M92.3 71h0M17.5 60.8h0M38.5 64.1h0M24 23.6h0M16.3 59.4h0M37.8 12.3h0"/>
<path id="p180" d="M74 66.3h0M74.9 51.1h0M102.8 79.7h0M78 44h0M79.6 46.3h0M88.7 51.6h0M82 57.1h0"/>
<path id="p181" d="M90.4 53.5h0M81.8 60.5h0M86.4 51.1h0M81 58.1h0M87 52.4h0M84.5 46.7h0"/>
<path id="p182" d="M85.5 61.6h0M82.9 53.1h0"/>
</g>
<use href="#p172" stroke="#d6d6d6" stroke-width="2.3"/>
<use href="#p173" stroke="#355f8d" stroke-width="2.3"/>
<use href="#p174" stroke="#21918c" stroke-width="2.3"/>
<use href="#p175" stroke="#22a884" stroke-width="2.3"/>
<use href="#p176" stroke="#44bf70" stroke-width="2.3"/>
<use href="#p177" stroke="#bddf26" stroke-width="2.3"/>
<use href="#p178" stroke="#fde725" stroke-width="2.3"/>
<use href="#p179" stroke="#7ad151" stroke-width="2.3"/>
<use href="#p180" stroke="#2a788e" stroke-width="2.3"/>
<use href="#p181" stroke="#414487" stroke-width="2.3"/>
<use href="#p182" stroke="#440154" stroke-width="2.3"/>
</g>
<rect x="145.9" y="681.4" width="104.6" height="105" fill="none" stroke="#111" stroke-width="1.15"/>
<rect x="206.3" y="686.5" width="40.8" height="3.1" fill="url(#gh)"/>
<text x="205.3" y="700" font-size="10.7" fill="#111">-3.5</text>
<text x="250.6" y="700" font-size="10.7" fill="#111" text-anchor="end">-0.5</text>
<g fill="none" stroke-linecap="round" transform="translate(254.3 413.5)">
<g stroke="#6a6a6a" stroke-width="2.9"><path id="p183" d="M35.3 9.1h0M18.8 57.5h0M94.3 53.7h0M97.5 32.3h0M29.8 49h0M51.1 65.9h0M59.6 81.5h0M12.5 62.8h0M61.7 63.1h0M68.5 58.1h0M53.5 25.1h0M30.7 80.1h0"/></g>
<g stroke="#34403e" stroke-width="2.84">
<path id="p184" d="M51.8 66.5h0M57.1 46.7h0M32.9 87h0M5.4 58.8h0M61.3 33.9h0M55.8 68.9h0M55.8 23.4h0M61.6 29.6h0M6.9 53.6h0M21.9 34.7h0M59.2 64.5h0M51.6 66.8h0M58.5 66.6h0M18 62.9h0M38.2 8.5h0M19.8 60.3h0M18 56.8h0M84.1 45.5h0M16 59.6h0M55.5 81.2h0M48.9 20h0M26.3 36.9h0M35.7 8.6h0M67.3 15.3h0M12.9 50.5h0M35.2 45.7h0M30.7 53.2h0M55.1 54.5h0M59.4 66h0M54.2 91.5h0M17.2 60h0M74.4 35.2h0M54.3 97.4h0M28.5 90.3h0M31.9 51.6h0M56.3 92.8h0M59.8 26.2h0M34.6 13h0M56.5 96.9h0M26.6 35.1h0M48.7 97.8h0"/>
<path id="p185" d="M20.6 54.7h0M59.1 20h0M70.8 13.3h0M3 58.1h0M36.7 9.8h0M83.1 43.4h0M59.6 31h0M59.2 47.7h0M50.9 24.7h0M16.6 49.5h0M33.3 12.1h0M71.2 57.5h0M16.5 46.5h0M93.6 36.1h0M57.4 95.7h0M32.2 47.7h0M72.2 32.3h0M63.8 67.7h0M57.6 97.6h0M56.2 60.8h0M33.9 9.4h0M26.4 38.7h0M59.8 56.8h0"/>
<path id="p186" d="M30.7 89.8h0M26 38.3h0M58.6 59.8h0M68.3 15h0M94.6 35.3h0M56.2 69.9h0M62.1 17.4h0M76.4 44.6h0M12.1 45.3h0M59 26.9h0M56 65.3h0M55 54.7h0M26.8 88h0M6.7 59.2h0M68 59.4h0M77.6 43.7h0M16 64h0M64.6 66.5h0M19.7 62.7h0M48.5 56h0M23.8 37.1h0M57.1 26h0M20.9 61h0M38.7 9.1h0M39.1 9.4h0M22 35.9h0M38.3 5.5h0M23.2 33.9h0"/>
<path id="p187" d="M45.6 7.4h0M63.3 69h0"/>
<path id="p188" d="M53.9 64.8h0M6.9 57.5h0M12.5 48h0M18.9 57.2h0M54.9 60.5h0M19.4 34.5h0M96.2 35.6h0M32.2 13.4h0M31.5 58.3h0M28.5 51.8h0M13.1 56.9h0M30.4 37.4h0M47.6 21.2h0M97.7 43h0M38.5 53.3h0M52.7 56.1h0M29.1 89.9h0M16.5 47.4h0M24.2 38.1h0M15.3 62.8h0M8.4 59.8h0M93.3 53.1h0M76.6 44.5h0M95.4 36.2h0M20.9 37.2h0M15.9 49.1h0"/>
<path id="p189" d="M96.5 37.1h0M71.1 33.8h0M48.2 22.6h0M91.9 35.4h0M55.6 80.5h0"/>
<path id="p190" d="M53 43.2h0"/>
</g>
<use href="#p183" stroke="#d6d6d6" stroke-width="2.3"/>
<use href="#p184" stroke="#22a884" stroke-width="2.3"/>
<use href="#p185" stroke="#2a788e" stroke-width="2.3"/>
<use href="#p186" stroke="#21918c" stroke-width="2.3"/>
<use href="#p187" stroke="#355f8d" stroke-width="2.3"/>
<use href="#p188" stroke="#44bf70" stroke-width="2.3"/>
<use href="#p189" stroke="#7ad151" stroke-width="2.3"/>
<use href="#p190" stroke="#fde725" stroke-width="2.3"/>
<g stroke="#6a6a6a" stroke-width="2.9"><path id="p191" d="M34.6 53h0M41 51.7h0M31.9 50.9h0M35 12.2h0M58.4 78.4h0M92.1 31.9h0M59.2 75h0M83.4 44.3h0"/></g>
<g stroke="#34403e" stroke-width="2.84">
<path id="p192" d="M79 46.1h0M58.4 73.9h0M58.3 67.2h0M41.3 8.1h0M20.2 56.3h0M33.6 53h0M83.2 45.1h0M25.9 31.8h0M54.2 98.9h0M25.8 36.9h0M29.4 15.9h0M58.6 54.4h0M20.4 56.8h0M32.1 14.5h0M50 25.3h0M97.8 37.9h0M60.1 81h0M23.5 33.8h0M54.9 22.8h0M40.7 9.2h0M16.4 49.6h0M56.8 71.2h0M22.6 61.3h0M51.2 72.2h0M73.7 12.4h0M28.6 31.8h0M42.1 49.9h0M20.8 63h0M50.7 44.9h0M60.7 85.5h0M31.3 49.1h0M20.1 56.9h0M39.3 48.5h0M18.8 37.9h0M53.6 55.8h0M16.5 61.1h0M29 46.7h0M60.2 67.7h0"/>
<path id="p193" d="M92.6 36.4h0M32 33.2h0M56.3 58.3h0M55.7 58.1h0M59 71.9h0M25 54.5h0M58.7 30.7h0M53.1 73.5h0M22.7 38.3h0M61.7 71.9h0M54.6 63.9h0M56.8 27h0M39.8 3.7h0M64.9 14.3h0M28.7 33.6h0M55.7 24h0M55.8 93.8h0M22.1 59.2h0M28.8 83.7h0M57.6 64.3h0M55.8 88.8h0M39 12.3h0M49.9 97.7h0M47.8 21.4h0M53.7 31h0M24.1 58.2h0M53.3 93.6h0M37 11.2h0M57.6 72.8h0M58.4 55.8h0M32.5 33.9h0M50.8 55.4h0M79.9 45.2h0M30.5 84.1h0M58.4 52.6h0"/>
<path id="p194" d="M23.2 38h0M40.7 4.4h0M56.9 35.4h0M57.4 93h0M51.1 97.3h0M57.2 87.2h0M58.4 60.5h0"/>
<path id="p195" d="M60.4 32.2h0M51.7 96.1h0M69 32.2h0M94 37.3h0M33.3 44.8h0M58 26h0M53.3 26.3h0M96.4 44.9h0M52.5 61.5h0M54.6 21.5h0M38.9 10.5h0M53.2 55.2h0M26.5 53.8h0M70.5 14.3h0M15.5 60.1h0M38.2 9.8h0M35.6 10h0M29.2 80.1h0M75 35.1h0M49.8 44.8h0M19.5 64.5h0M57.5 71.3h0M22.6 53.1h0M43.8 5h0M35.4 12.4h0"/>
<path id="p196" d="M68.7 13.4h0M29.1 89.4h0M26.4 32.7h0M58.7 32.3h0M40.2 6.2h0M37 10.7h0M12.9 61.8h0M20.9 54.6h0M36.2 12.4h0M14.3 64.8h0M51.3 19.6h0M62.4 69.4h0M56.6 26.7h0M65 69.5h0M37.8 46.6h0M100.2 46.3h0M28.2 48.3h0M22.6 39.2h0M33.6 84.8h0"/>
<path id="p197" d="M21.8 52.3h0M89.5 33.4h0M22.4 38.8h0M31.8 83.4h0"/>
<path id="p198" d="M58.1 79.9h0M101.2 47.7h0"/>
</g>
<use href="#p191" stroke="#d6d6d6" stroke-width="2.3"/>
<use href="#p192" stroke="#21918c" stroke-width="2.3"/>
<use href="#p193" stroke="#22a884" stroke-width="2.3"/>
<use href="#p194" stroke="#355f8d" stroke-width="2.3"/>
<use href="#p195" stroke="#44bf70" stroke-width="2.3"/>
<use href="#p196" stroke="#2a788e" stroke-width="2.3"/>
<use href="#p197" stroke="#7ad151" stroke-width="2.3"/>
<use href="#p198" stroke="#bddf26" stroke-width="2.3"/>
<g stroke="#6a6a6a" stroke-width="2.9"><path id="p199" d="M97.9 43h0M71.3 16.3h0M60 44.2h0M10.4 59.8h0M92.3 55.4h0M51.2 45.6h0M90.3 35.8h0M89.2 33.6h0M59.7 55.9h0M43.3 9.7h0M36.6 59.6h0M96.3 51.5h0"/></g>
<g stroke="#34403e" stroke-width="2.84">
<path id="p200" d="M28.8 33.4h0M38.7 4.9h0M40.4 51.7h0M54.4 18.5h0M15.5 62.8h0M20.2 64h0M53 22.8h0M99.2 49.1h0M101.1 47.8h0M61.3 23.6h0M14.8 59.7h0M49.6 98.3h0M38.3 50.8h0M52.2 57.1h0M53.6 60.6h0M57.5 47.1h0M45.8 7.5h0M60.1 80.9h0M30.9 50.2h0M30.9 58.2h0M60.9 66.7h0M58.1 79.5h0M54 44.4h0M53.6 58.3h0M31.6 32.9h0M53.1 98.7h0M41.5 9.8h0M32.5 50.4h0M92.3 54.4h0M90.8 35.9h0M29 88.9h0M73 34.8h0M49 24.5h0M13.5 49.7h0M59.3 70.6h0M70 57.8h0M60.6 30.7h0M40.8 48.7h0M57.6 24.8h0M58.1 96h0M30.9 12h0M39.2 50.6h0"/>
<path id="p201" d="M57.1 68.3h0M69.2 16.6h0M98.2 32.8h0M28.7 80.6h0M40.1 6.8h0M51 45.6h0M80.1 43.7h0M10.4 50.1h0M51.9 72.3h0M23.1 60.4h0M50.8 68.6h0M59.5 47.7h0M56.3 80.4h0M70.8 33.7h0M23.1 57.4h0M42 4.7h0M31.7 54.9h0M33 80.3h0M71.1 34.4h0M5 60.8h0"/>
<path id="p202" d="M30.6 87.6h0M30.8 37.2h0M23.7 37.9h0M59 21.8h0M57.8 23.3h0M30.9 16.7h0M58.5 82.1h0M55.6 20.9h0M56.6 89.7h0M27.2 37.8h0M28.5 52.3h0M69.6 31.6h0M65.7 15.5h0"/>
<path id="p203" d="M50.8 98.4h0M55.2 24.5h0M31.6 36.9h0M24.5 53.6h0M41.4 7.7h0M40.9 55.8h0M40.1 49.5h0M50.8 21.1h0M29.3 48.4h0M74.6 14.5h0M23.5 63.7h0M33 47.3h0M59.5 56.5h0M38.2 5.5h0M40.7 49.2h0M50.9 23.8h0M37.3 45.5h0M22 36h0M40.3 53.1h0M59.6 77.5h0M49.8 18.7h0M55.1 72.4h0M27.9 50.1h0M25.5 54.4h0M51.9 100.1h0M52.9 66.8h0M51.1 71.8h0M42.3 10.4h0M62.2 15.1h0M13.1 48.3h0M54.7 21.7h0M59.6 72.8h0M49.5 53.5h0M32.4 10.7h0M34.7 9.7h0"/>
<path id="p204" d="M52.2 65.4h0M59.9 84.4h0"/>
<path id="p205" d="M13.2 47.6h0M56.7 84.1h0M29.9 81.4h0M58.1 58h0M97.2 34.7h0M53.2 95.7h0M34.8 9.6h0M56.1 73.8h0M51.9 60.9h0"/>
<path id="p206" d="M58.8 25.1h0M33.5 52.4h0M34.7 48.5h0M71.7 57.7h0"/>
<path id="p207" d="M36.3 5.7h0"/>
</g>
<use href="#p199" stroke="#d6d6d6" stroke-width="2.3"/>
<use href="#p200" stroke="#22a884" stroke-width="2.3"/>
<use href="#p201" stroke="#44bf70" stroke-width="2.3"/>
<use href="#p202" stroke="#2a788e" stroke-width="2.3"/>
<use href="#p203" stroke="#21918c" stroke-width="2.3"/>
<use href="#p204" stroke="#bddf26" stroke-width="2.3"/>
<use href="#p205" stroke="#7ad151" stroke-width="2.3"/>
<use href="#p206" stroke="#355f8d" stroke-width="2.3"/>
<use href="#p207" stroke="#fde725" stroke-width="2.3"/>
<g stroke="#6a6a6a" stroke-width="2.9"><path id="p208" d="M91.6 34.3h0M98 37.1h0M92.1 38.3h0M97.7 45.6h0M65.7 16.8h0M31.8 81.7h0M72.9 11.2h0M62.5 16.1h0M37.5 10.8h0M32.7 85.5h0M29.8 83.2h0M36.4 59.7h0"/></g>
<g stroke="#34403e" stroke-width="2.84">
<path id="p209" d="M32.6 80h0M36.6 9.6h0M13.2 45.2h0M58.6 46.5h0M51.8 58.1h0M98.9 43.3h0M55.6 95.9h0M19.8 56.1h0M58.1 40.5h0M69.9 13.5h0M72.2 15.2h0M60.2 34.6h0M59.4 77.2h0M57.4 36.7h0M57.9 41.3h0M6.3 57.5h0M39.3 53.3h0M75.7 45.8h0M52.2 58.6h0M44.1 6.1h0M99.9 44.9h0M42.4 64h0M36.1 47.2h0M16.6 56.5h0M59.1 55.2h0M86.3 43.4h0M21 62.9h0M51 43.9h0M37.2 52.2h0M57.9 60.6h0M56 65h0M56.6 34.6h0M98.3 35.2h0M57 23h0M51.6 18.1h0"/>
<path id="p210" d="M49.2 21.8h0M50.5 24.6h0M13.4 62h0M83.5 44.8h0M52 44.1h0M57.2 90.7h0M36 55.1h0M55.4 73.5h0M27.6 48.4h0M69.8 15.1h0M15.9 57h0M60.6 30.4h0M43.5 3.9h0M13.4 51.4h0M63.9 33.1h0M35.6 46.6h0M29.9 33.9h0M84.9 42.9h0M50.7 95.4h0M55.7 84.7h0M57.1 92.1h0M17.4 57.8h0M33.2 10.9h0M69.4 15.2h0M54.6 96.7h0M14.2 60.9h0M58.2 69.5h0M23.7 58.1h0M34.4 49.7h0M54.2 94.6h0M75.1 35.5h0M16.8 62.7h0M55.9 66.8h0M28.6 87.5h0M56.3 82.4h0M56.3 53.3h0M72.6 16.8h0M12.6 47.1h0M58.4 34.4h0M60.1 32.9h0"/>
<path id="p211" d="M57.9 22.2h0M54.9 52.6h0M13.4 59.4h0M32.2 49.7h0M32.6 57.8h0M38.8 45h0M40.1 57h0M95 52.9h0M7 53.1h0M50.7 68.7h0M59.2 21.9h0M35 10.4h0M50.7 46.1h0M21.4 63.7h0M60.6 36.6h0M56.8 86.3h0M53.5 21h0M34.7 45.6h0M93.4 54.5h0M38.6 9.8h0M58 19.9h0M14.6 64.8h0"/>
<path id="p212" d="M22.7 64h0M55.4 89.8h0M52.6 58.8h0M88.7 35.8h0M39.9 10.4h0M35.9 10.7h0M37.6 5.9h0M20.3 36.2h0M89.4 35h0M61.9 70.7h0M57.3 25.7h0M28.6 34.1h0M39.5 6.6h0M73.1 10.8h0M51.9 25.6h0M38.3 9.2h0M19.1 59.4h0M79.4 44.6h0"/>
<path id="p213" d="M58.5 72h0"/>
<path id="p214" d="M34.9 12.2h0M52.3 56.4h0"/>
<path id="p215" d="M69.3 31.9h0M10.2 60.6h0M22.2 33.1h0M7 60.6h0M51.8 69.7h0M60.2 83.7h0"/>
<path id="p216" d="M30.6 36.7h0"/>
<path id="p217" d="M91.8 38.2h0"/>
</g>
<use href="#p208" stroke="#d6d6d6" stroke-width="2.3"/>
<use href="#p209" stroke="#21918c" stroke-width="2.3"/>
<use href="#p210" stroke="#22a884" stroke-width="2.3"/>
<use href="#p211" stroke="#44bf70" stroke-width="2.3"/>
<use href="#p212" stroke="#2a788e" stroke-width="2.3"/>
<use href="#p213" stroke="#bddf26" stroke-width="2.3"/>
<use href="#p214" stroke="#355f8d" stroke-width="2.3"/>
<use href="#p215" stroke="#7ad151" stroke-width="2.3"/>
<use href="#p216" stroke="#414487" stroke-width="2.3"/>
<use href="#p217" stroke="#fde725" stroke-width="2.3"/>
<g stroke="#6a6a6a" stroke-width="2.9"><path id="p218" d="M99.8 44.2h0M97.1 33.7h0M6.7 58h0M6.5 60.5h0M55.4 20.1h0M70.8 18h0M44.6 6.1h0M58.4 83.7h0M39.6 60.8h0M96.5 46.7h0M30.4 80.3h0M17.1 49h0M20 36.8h0"/></g>
<g stroke="#34403e" stroke-width="2.84">
<path id="p219" d="M39.7 11.4h0M59.1 58.1h0M13.7 61.9h0M23.5 33.5h0M60.5 31.8h0M21.2 55.8h0M41.5 11.4h0M57.1 88.2h0M52.7 26.1h0M60.8 56.3h0M63.2 16.6h0M53.9 55.8h0M33.2 47.6h0M94.5 35h0M31.4 80.5h0M56.2 80.4h0M29.7 50.1h0M72.4 32.8h0M39.8 9.1h0M57.6 60.5h0M28.9 32h0M54.6 100.8h0M54.8 51.6h0M57.5 57.4h0M38 44.7h0M84.2 42.8h0M48.9 97.9h0M29.1 87.5h0M55.8 23h0M11.1 58.7h0M56.5 81.2h0M57.2 41.7h0M58.3 27.3h0"/>
<path id="p220" d="M25.9 53.1h0M27.3 37.5h0M28.3 82.1h0M93.5 54.4h0M94.2 53h0M35.3 47.8h0M51.7 17.8h0M33.5 14h0M12.6 46.4h0M30.6 84.6h0M39.8 11.4h0"/>
<path id="p221" d="M62.9 71.8h0M55.2 27h0M39.4 6h0M54 61.7h0M57.9 80.2h0M31.7 79.3h0M27.6 51.1h0M20.9 52.9h0M38.6 46.3h0M56.9 41.1h0M73.8 15.2h0M36.2 14.7h0M56.8 96.6h0M20.4 56.9h0M30.2 33.1h0M32 86.6h0M54.4 97.2h0M60.3 70.3h0M62.5 64.9h0M42.7 63.7h0M57.6 65.6h0M71.2 14.5h0M24.5 56.1h0M54 96.2h0M81.5 43.6h0M58.4 39.3h0M80 46h0M13 58.2h0M53.7 99.2h0M31.7 51.7h0M82.2 45.5h0M58.3 54.6h0"/>
<path id="p222" d="M45.6 4.4h0M57.6 84.1h0M40.9 57.2h0M58.2 62.8h0M54.2 73h0M60.7 71.8h0M29.7 24.9h0M14.2 57.2h0M58.9 34.2h0M82 45.9h0M54.5 55.2h0M42 62.9h0M57 80.5h0M35.5 50.7h0M14.7 58.3h0M71.4 32.1h0M42.2 4.2h0M34.1 52.3h0M44.1 2.9h0M56.9 92.3h0M31.1 47.9h0M71.8 31.5h0M38.9 11.3h0"/>
<path id="p223" d="M58.9 74.7h0M35.5 44.7h0M33.1 10.5h0M14.8 60.3h0M40.4 10.7h0M62.7 16.4h0M13.6 48.3h0M28.5 85.1h0M62.4 67.9h0M40.9 57.2h0M55.4 20.6h0M54.6 58.3h0M63.3 66.5h0M66.5 14.7h0M21 55.3h0M60.2 32.4h0M13.2 64h0M49 97.7h0M39.9 6.9h0M59.9 58h0M60 56.8h0"/>
<path id="p224" d="M41 8.4h0"/>
<path id="p225" d="M55.8 25.8h0M30.7 13.5h0"/>
</g>
<use href="#p218" stroke="#d6d6d6" stroke-width="2.3"/>
<use href="#p219" stroke="#22a884" stroke-width="2.3"/>
<use href="#p220" stroke="#7ad151" stroke-width="2.3"/>
<use href="#p221" stroke="#21918c" stroke-width="2.3"/>
<use href="#p222" stroke="#44bf70" stroke-width="2.3"/>
<use href="#p223" stroke="#2a788e" stroke-width="2.3"/>
<use href="#p224" stroke="#bddf26" stroke-width="2.3"/>
<use href="#p225" stroke="#355f8d" stroke-width="2.3"/>
</g>
<rect x="254.3" y="413.5" width="104.6" height="105.1" fill="none" stroke="#111" stroke-width="1.15"/>
<text x="277.7" y="410.9" font-size="12.6" fill="#1a1a1a" font-style="italic" stroke="#1a1a1a" stroke-width="0.22" textLength="53.7" lengthAdjust="spacingAndGlyphs">TMPRSS4</text>
<rect x="330.5" y="477.2" width="3.4" height="40.2" fill="url(#gv)"/>
<text x="334.3" y="483.3" font-size="9.5" fill="#111">-1</text>
<text x="334.3" y="516.7" font-size="9.5" fill="#111">-5</text>
<g fill="none" stroke-linecap="round" transform="translate(254.3 681.4)">
<g stroke="#6a6a6a" stroke-width="2.9"><path id="p226" d="M41.9 65.5h0M53.8 52.5h0M27.2 20.3h0M16 70.5h0M45.3 56.4h0M54.5 60.6h0M58.7 77.6h0M48.3 16.9h0M24.5 70.2h0M51.5 49.4h0M41.1 75.2h0M22.6 17.2h0M48.5 4h0M46.1 41.1h0M15.7 55.5h0M21.4 14.1h0M54.9 14.8h0M47.6 7.7h0M28.7 20.2h0M40.6 40.3h0M32.1 10.1h0M20.6 69.9h0M33.8 69.8h0M38.5 19.8h0M36.4 98.2h0M44.3 22.9h0M51.5 54.4h0M40.3 38.8h0M61.1 71.1h0M55 58h0M51.6 55.1h0M29.3 93.8h0M43.8 63.6h0M40.9 28h0M50.5 11.2h0M32.2 10h0M36.5 33.1h0M47.2 69.6h0M45.6 56.5h0M45.6 38.7h0M34.9 28.4h0M47.7 18.4h0M34.6 45.5h0M41.7 25.5h0M28 26.4h0M33.9 29.8h0M57.1 19.9h0M53.7 64.8h0M25.2 6.9h0M37.6 35.7h0M48.3 18.9h0M25.1 77.6h0M26.4 62.7h0M40.6 10.4h0M37.4 90.3h0M54.5 27.9h0M48.6 38.5h0M50.1 82.1h0M38.6 76.3h0M35.3 44.9h0M39.9 86.9h0M34.2 6.2h0M48.7 33.3h0M47.1 22.1h0M8 63.5h0M46 9.3h0M54.5 47.5h0M37.8 44.7h0M46.2 71.7h0M39 88h0M41.4 12.5h0M24.7 18.4h0M29.8 69.4h0M51.6 73.2h0M55.5 22h0M20.5 62.9h0M55.3 22.9h0M26.9 11.3h0M12 66.7h0M28.6 13.1h0M53.4 26.1h0M50.4 71.6h0M43.4 63.8h0M41.8 60.2h0M22.7 12.8h0M32.7 20.8h0M42.4 28h0M32.1 23.2h0M44.3 4.7h0M20.2 11.2h0M38.7 11.1h0M26.3 23.6h0M19.8 74h0M33.3 68.4h0M40.4 33.3h0M45.9 21h0M52.2 10.9h0M31.6 27.2h0M15.8 60h0M25.9 21.5h0M38.8 30.2h0M31.5 35h0M50.7 75h0M53.1 8h0M20.2 21.2h0M40.2 70h0M35.7 5.5h0M24.6 64.9h0M37.2 2.6h0M40.8 48.1h0M36.1 33.6h0M32.3 13.3h0M30.8 21.7h0M13 60.3h0M43.3 50.6h0M27.2 10.8h0M45 71h0M33.2 22.4h0M42.5 41.4h0M33.1 12.4h0M28.9 15.2h0M51.8 53.4h0M40.2 73h0M39.8 12.7h0M12.3 57.8h0M40.2 6.5h0M51.6 70.4h0M46.2 10.9h0M47.5 37.3h0M40.5 31.5h0M33.3 71.9h0M46.9 8.5h0M41.9 8.2h0M44.3 9.9h0M51.8 20h0M33.3 29.2h0M35.8 7.4h0M14.6 82.6h0M26.2 10.1h0M14.7 63.7h0M35.3 44.8h0M36.7 34.6h0M31.6 24.6h0M20.9 86.6h0M74 61.8h0M46.3 76h0M40 38h0M27 21.9h0M25.6 19.7h0M44.4 73.9h0M61.1 72.6h0"/></g>
<g stroke="#34403e" stroke-width="2.84">
<path id="p227" d="M78 44.8h0M53.5 62.2h0M70 54.3h0M47.5 5.6h0M77.6 62.9h0M34.7 9h0M19.1 66.4h0M42.5 84.7h0M25.7 87.2h0M32.8 78.2h0M76.4 50.7h0M48.9 54.8h0M43 21.4h0M44.6 77.8h0M85 53h0"/>
<path id="p228" d="M73 59.3h0M15 58.6h0M67.6 74.5h0M28.3 71.7h0M93 68.2h0M37.4 101.6h0M21.4 84.6h0M48.4 48.2h0M78.5 44h0M94.6 71.6h0M49 20.1h0M32.7 103.1h0M53 73.1h0M24.5 95.4h0M31.1 69.7h0M10.1 66.2h0M15.5 79.6h0M47.3 43.1h0M72.8 53.7h0M33.9 83.2h0M36.4 93.2h0M50.2 56.9h0M32 68.1h0M81.8 53.8h0M88.3 54h0M18.3 66.1h0M50.9 41.7h0M86.9 46.7h0"/>
<path id="p229" d="M21.1 71.2h0M29.9 4.4h0M32.8 87h0M29.7 78.5h0M71.4 46.9h0M23.9 81.1h0M13.2 56.7h0M51.2 51.8h0M11.9 65.1h0M37.1 80.8h0M20.2 81.2h0M25.6 77.8h0M26.1 23.1h0M38.8 63.2h0M16.3 62.1h0"/>
<path id="p230" d="M41.5 92.9h0M37.3 83.1h0M32.6 99.5h0M20.9 65.2h0M33.6 24h0M63.4 69.7h0M76.4 45.3h0M13.9 73.4h0M44.5 33.8h0M15.5 74.5h0M37.7 81.7h0M48.5 78.5h0M27 97h0M32.5 85h0M34.3 101.8h0M13 60h0M30.1 81.6h0M10.1 67.7h0M38.5 6.4h0"/>
<path id="p231" d="M86.1 52h0M80 55.6h0M46.5 30.5h0M14.4 73.5h0M14 57.6h0M25 66.6h0M43.6 86.8h0M41.2 53.7h0M12.7 56.6h0M74.2 53.2h0M14.6 80h0M81.5 47h0M18.3 83.3h0M27.4 71.2h0M37.9 90.6h0M54.9 25.5h0M58.3 75h0M74.7 45.1h0M34.3 87.1h0M90.2 48.6h0M39.4 93.9h0M74.1 65.8h0M45.7 38.9h0M23.8 91.1h0M33.2 85.7h0M48.9 76.9h0M37.5 83.7h0"/>
<path id="p232" d="M53.4 72.5h0M38.5 43.5h0M82.7 54.1h0M34.6 86.7h0M48.6 46.4h0M48.5 47.8h0M52 22.4h0M89.8 56.1h0M102 80.5h0"/>
<path id="p233" d="M33.1 18.8h0M82.3 51.5h0"/>
<path id="p234" d="M24.4 8.6h0M46.7 58.9h0"/>
<path id="p235" d="M30.8 35.6h0"/>
</g>
<use href="#p226" stroke="#d6d6d6" stroke-width="2.3"/>
<use href="#p227" stroke="#2a788e" stroke-width="2.3"/>
<use href="#p228" stroke="#21918c" stroke-width="2.3"/>
<use href="#p229" stroke="#7ad151" stroke-width="2.3"/>
<use href="#p230" stroke="#44bf70" stroke-width="2.3"/>
<use href="#p231" stroke="#22a884" stroke-width="2.3"/>
<use href="#p232" stroke="#355f8d" stroke-width="2.3"/>
<use href="#p233" stroke="#414487" stroke-width="2.3"/>
<use href="#p234" stroke="#482475" stroke-width="2.3"/>
<use href="#p235" stroke="#bddf26" stroke-width="2.3"/>
<g stroke="#6a6a6a" stroke-width="2.9"><path id="p236" d="M31.5 6h0M29.4 32h0M48.2 67.9h0M31 15.2h0M31.3 10.9h0M46.8 79.1h0M18.3 67.8h0M32.8 91.1h0M47.2 34.6h0M100.1 79.4h0M34.9 44.2h0M20.8 69.2h0M30.5 6.4h0M45.3 74h0M37.1 3.5h0M15 65.6h0M33.3 31h0M49.9 7.4h0M49.5 26.4h0M49.7 36.8h0M36 15.2h0M54.9 79.2h0M15.7 53.5h0M48 30.3h0M29.9 21.4h0M8.5 54.7h0M53.4 12.3h0M17.3 64.1h0M28 65.8h0M52.1 10.4h0M54.6 28.4h0M30.5 10.8h0M50.3 15.4h0M26.2 74.6h0M48.6 37.5h0M23.4 62h0M36.5 6.1h0M43.7 19.7h0M47.6 39.6h0M51.2 5.5h0M42.5 53.8h0M21.8 72.2h0M28.9 72.6h0M25.3 62.6h0M92.5 71h0M20.8 18.4h0M29 8.4h0M39.3 16.3h0M31.5 35.3h0M13.8 60.9h0M29.7 95.2h0M54.2 60.1h0M81.9 51.3h0M45.4 44h0M44.5 58.8h0M46.2 76.3h0M51.6 61.6h0M45.9 76.5h0M10.5 68.4h0M18.7 67.3h0M40.6 9.3h0M51.4 48.2h0M51.2 72.8h0M47.7 13.6h0M44.1 4.7h0M32.2 13.5h0M56.4 26.2h0M56.3 18.9h0M48.9 6.8h0M49 5.7h0M48.9 7.1h0M31.2 29.8h0M55.2 66h0M23.6 68.4h0M39.8 19.3h0M19.9 69.2h0M21.3 68.2h0M45.3 16.7h0M39.7 78.8h0M41.9 4.4h0M34.3 13.4h0M19.5 77.4h0M46.6 33h0M42.9 19.3h0M27.6 67.4h0M44.8 12.4h0M24.1 63.2h0M28.6 18.8h0M8.5 67.9h0M36.6 31.4h0M45.1 54.3h0M33.2 98.1h0M31.3 8.8h0M45.9 14.5h0M88.5 65h0M43.6 73.7h0M31.7 29.1h0M6.4 56.6h0M25.7 9.7h0M15.4 60.7h0M28.4 24.6h0M81.3 58.7h0M26.6 22h0M44.1 66.8h0M25 18.1h0M78.6 64.4h0M29.4 11.5h0M46.3 81.6h0M45 73h0M32.3 13.9h0M18.9 73.2h0M40.6 39.3h0M28.8 26.1h0M45.5 62.3h0M47.2 17.8h0M24.5 21h0M16.6 61.4h0M26.9 16.7h0M42 71.7h0M25.9 67.5h0M33.5 14.6h0M31 16.3h0M46.4 10.2h0M18.8 66.6h0M28.3 17.5h0M43 5.3h0M44 25.7h0M37.3 21.8h0M36.8 11.6h0M20.6 85h0M50.4 58.3h0M28.1 29.3h0M33.5 30.3h0M47.1 34.8h0M58.1 71.2h0M24 95h0M45.2 27.1h0M38.3 46.5h0M56.1 80.1h0"/></g>
<g stroke="#34403e" stroke-width="2.84">
<path id="p237" d="M38.6 92.9h0M89.5 64.4h0M87.5 61.4h0M28.1 68.7h0M37.1 93.5h0M11.1 54.9h0M41.2 84h0M48 8.5h0M9.1 60.1h0M75.9 46.6h0M45 63.3h0M38.1 62h0M39.3 88.9h0M10.6 56.8h0M20.7 90.5h0M95.5 70h0M55.4 75.9h0M41.6 72.9h0M39.5 51.3h0M30.7 80.3h0M28.2 28.8h0M9 59.3h0M21.5 14.3h0M54.3 53h0M26 92.8h0M55.3 67h0M44.7 58.8h0M41.8 48.7h0M82.9 54.6h0M61.3 71.6h0M53.6 69.2h0"/>
<path id="p238" d="M54.9 16h0M19.8 82.7h0M39.2 97.5h0M43.8 44.1h0M46.9 53.5h0M28.8 90.1h0M11 64.1h0M60.2 74.3h0M27 85.8h0M35.6 92.4h0M43.2 92.3h0M52 8.1h0M57.7 71h0M36.1 92.5h0M33.9 70.5h0M39.9 81.8h0M51.7 9.6h0M17.7 81h0M26.1 88.1h0M64.2 70.5h0M18.7 67.7h0M37.5 92.5h0M31.3 65.7h0M38.6 76.3h0M8.2 57.5h0M88.5 59h0M50.9 76.4h0M13.6 56.1h0M21.2 83.4h0M38.4 93.1h0M88.6 55.6h0M92.4 69.4h0M50.4 81.8h0M62.2 72.2h0"/>
<path id="p239" d="M19.3 75.6h0M14.2 74.3h0M33.8 91.4h0M33.3 98.6h0M12.4 66h0M40.7 80h0M34.9 82.1h0M39.4 80.1h0M52.6 62.1h0M74.7 58.6h0M40.4 3.4h0M72.2 49.2h0M35.6 38.4h0M24.1 75.6h0M17.6 88.8h0M17.2 83.3h0M38.3 0.3h0M36.7 98.7h0M27.1 93.9h0M41.7 70.5h0M36.2 101.1h0M44.8 52.6h0M31.4 65.4h0"/>
<path id="p240" d="M69.4 58.5h0M55.3 77.9h0M52.8 81.3h0M85.6 46.4h0M83.6 49.8h0M49 47h0"/>
<path id="p241" d="M79.3 53.6h0M44.4 87h0M56.3 69.5h0M24.5 77.8h0M25.9 8.8h0M73.8 48.5h0M55.9 72.2h0M48 38.6h0M30.4 99.7h0M80 59.5h0M56.9 9.7h0M44.5 64.9h0M78.1 57.9h0M22.1 79.3h0M43.1 46.9h0M38.4 83.6h0M97.2 72.5h0M65.4 73.4h0M38.3 81.5h0M49.3 57.2h0M37.4 27h0"/>
<path id="p242" d="M75.4 59h0M38.3 14.6h0M75.7 48.3h0M47.8 47.2h0M34.9 85.3h0M45.2 20.3h0M77.7 62.8h0M85.1 53h0"/>
<path id="p243" d="M12.9 62.4h0M51 33.1h0M76.4 47.4h0M75.5 65.1h0"/>
<path id="p244" d="M99.2 75.3h0"/>
<path id="p245" d="M25.2 14h0"/>
<path id="p246" d="M33.9 95.3h0"/>
</g>
<use href="#p236" stroke="#d6d6d6" stroke-width="2.3"/>
<use href="#p237" stroke="#21918c" stroke-width="2.3"/>
<use href="#p238" stroke="#22a884" stroke-width="2.3"/>
<use href="#p239" stroke="#44bf70" stroke-width="2.3"/>
<use href="#p240" stroke="#414487" stroke-width="2.3"/>
<use href="#p241" stroke="#2a788e" stroke-width="2.3"/>
<use href="#p242" stroke="#7ad151" stroke-width="2.3"/>
<use href="#p243" stroke="#355f8d" stroke-width="2.3"/>
<use href="#p244" stroke="#482475" stroke-width="2.3"/>
<use href="#p245" stroke="#bddf26" stroke-width="2.3"/>
<use href="#p246" stroke="#fde725" stroke-width="2.3"/>
<g stroke="#6a6a6a" stroke-width="2.9"><path id="p247" d="M41.8 73.2h0M44.5 37.6h0M55.1 15.1h0M54.4 75.9h0M27.5 4.2h0M41.1 17.4h0M47.7 4h0M49.8 24.7h0M20.5 71.9h0M52.7 42.9h0M32.7 16.1h0M32.2 11.3h0M56.9 17.6h0M97.6 77.9h0M16.7 57.3h0M50.2 53.5h0M51.1 18.1h0M41.1 48.2h0M48 40.4h0M19 58.4h0M51.8 24h0M12 64.9h0M7.6 59.8h0M46.3 29h0M27.3 14.7h0M52.6 45.4h0M36.8 37h0M53.5 18.9h0M15.2 72.9h0M53.5 8.8h0M30.1 96.6h0M34.7 4.7h0M22.5 74.8h0M37.1 102.1h0M45.2 14.2h0M52.1 29.6h0M49.6 41.3h0M43.1 6h0M13.7 64.2h0M42.8 18.8h0M34.5 20.8h0M50.9 40.4h0M42.5 35.8h0M24.6 6.8h0M29.9 15.3h0M40.7 42.2h0M21.1 14.4h0M29.8 17.4h0M41.5 30.4h0M36.2 9.7h0M51.3 25.2h0M26.1 7.8h0M24.1 13.4h0M14.7 66.8h0M24.2 21.7h0M18.7 57.1h0M34.7 20.8h0M31.5 76.2h0M37.7 38.8h0M40.2 4.7h0M100.6 80.5h0M47.5 32.6h0M37 34.7h0M37.2 10.5h0M37.4 30.2h0M49 73.6h0M11 62.4h0M30.2 21h0M37.4 69.3h0M36.2 5.1h0M38.5 27.5h0M36.2 90.7h0M28.4 26.1h0M99.5 77.9h0M28.1 16.5h0M50 39.5h0M22.2 16h0M51.4 74.4h0M49.6 35.4h0M24.7 64.1h0M26.1 12.6h0M35.2 76.2h0M32.4 33.3h0M9.7 66.9h0M25 69.3h0M24.4 20.3h0M49.1 21.5h0M33.5 25.5h0M47.6 10.5h0M51.6 70.6h0M52 71.2h0M59 75.1h0M38.1 51.4h0M45.6 60.9h0M32.6 24.6h0M28.3 17.1h0M44.7 2.4h0M29.7 28.2h0M29.1 13.5h0M40.9 47.9h0M41.5 48.8h0M51.5 28.7h0M29.8 68.1h0M49.2 81.5h0M51.1 61.5h0M25.8 75.1h0M88.1 59.9h0M40.4 7.2h0M29.8 94h0M41.2 36.4h0M48.2 6h0M20.4 64.5h0M52 26.9h0M9.4 65.2h0M13.5 64.6h0M19.7 64.4h0M31.5 34.1h0M46.7 37.3h0M49.4 30.7h0M29.4 29.4h0M54 24.1h0M36 17.3h0M55.6 49.5h0M54.4 13.3h0M16.6 54.6h0M25.2 16.9h0M30.2 16.2h0M89 64.8h0M27.7 79.9h0M44 7.9h0M71.6 54.4h0M45.4 68.7h0M35.9 18.8h0M56.5 19h0M26.2 83.2h0M48.1 25.7h0M26.3 19h0M65.5 72.5h0M59 19.7h0"/></g>
<g stroke="#34403e" stroke-width="2.84">
<path id="p248" d="M77.5 47.9h0M24.2 76.9h0M80.1 56.2h0M88.7 59.8h0M20.9 60.9h0M11.3 57.1h0M44.9 84.4h0M41.2 70.1h0M57.7 78.3h0M12.6 77.2h0M44.7 57.4h0M28 81.5h0M102.4 79.7h0"/>
<path id="p249" d="M38.1 39.8h0M82.7 58.7h0M82.6 51.8h0M28.7 85h0M40.7 82.3h0M23.8 94.7h0M24.3 65.9h0M26.2 63.4h0M81.7 58.3h0M34.4 85.9h0M91.2 51h0M70.1 48.6h0M39.6 82.4h0M37.3 92.4h0M49 40.2h0M44 89.7h0M19.2 74.3h0M28.3 77.3h0M45.2 7.2h0M27.4 96.2h0M72.6 60h0M18.5 79.6h0M80.2 49h0"/>
<path id="p250" d="M46.9 77.9h0M77.5 49h0M87.8 57.6h0M35 80.5h0M38 87.1h0M11.8 69.6h0M12.9 75h0M89.6 57.4h0M29.6 80.9h0M36.6 99.7h0M53.7 77.5h0M49.8 53.2h0M18.1 76.9h0M37 96.8h0M83.1 48.4h0M47 56.7h0M15.5 81.1h0M44.9 14.8h0M9 57.8h0M14.5 79.9h0M80 58.7h0M56.2 70.8h0M48.5 80.4h0M49.8 49.9h0M29 66.9h0M46.5 40.9h0M85.7 61.6h0M51.5 66.5h0M34.2 93.7h0M21.3 69.7h0M33.8 94.7h0M57 74.3h0M18.6 55.2h0M45.5 66.4h0"/>
<path id="p251" d="M22.2 96.5h0M72.6 51.9h0M37.3 48.1h0M76.7 64.2h0M85.3 51.5h0M26.8 87.8h0M43.9 74.3h0M78.1 63.5h0M23.3 84.8h0M7.8 62.5h0M20.1 64.6h0M45.4 82.4h0M22.6 93.9h0M55.1 21h0M80.4 53h0M41.7 72.4h0M14 74.5h0M15 73.6h0M87.9 52.1h0M44.5 86.8h0M29.8 2.7h0M33.7 91.7h0M47.8 75.2h0M33.5 86.6h0M51.9 54.7h0M23.4 93.2h0M46.2 72.6h0M8.3 55.4h0M88.5 57.7h0M102.5 77.4h0M25.7 94.1h0M85.5 46.7h0M53.6 65.9h0M64 71.9h0M17.4 72.1h0M94.9 68.9h0M73.2 65.4h0M60.8 78.6h0M35.1 89.9h0"/>
<path id="p252" d="M92.3 68.3h0M42.4 88.6h0M32.9 90.4h0M29.9 73.4h0M16.4 71.9h0"/>
<path id="p253" d="M53.5 65.4h0M49.8 5.5h0M68.2 53.7h0M53 69.1h0"/>
<path id="p254" d="M35.5 87.2h0M50.5 35.5h0M51.3 29.6h0M90.3 48.4h0M99.2 74.7h0M83.4 52.4h0M43.3 73.4h0M45.2 64.1h0M25.3 64.7h0"/>
<path id="p255" d="M29.4 83.9h0M42.3 86.5h0M48.1 51.7h0"/>
</g>
<use href="#p247" stroke="#d6d6d6" stroke-width="2.3"/>
<use href="#p248" stroke="#2a788e" stroke-width="2.3"/>
<use href="#p249" stroke="#44bf70" stroke-width="2.3"/>
<use href="#p250" stroke="#22a884" stroke-width="2.3"/>
<use href="#p251" stroke="#21918c" stroke-width="2.3"/>
<use href="#p252" stroke="#7ad151" stroke-width="2.3"/>
<use href="#p253" stroke="#414487" stroke-width="2.3"/>
<use href="#p254" stroke="#355f8d" stroke-width="2.3"/>
<use href="#p255" stroke="#bddf26" stroke-width="2.3"/>
<g stroke="#6a6a6a" stroke-width="2.9"><path id="p256" d="M26.1 67h0M42.5 27.7h0M51.2 31.2h0M21.4 70.4h0M49.1 42.5h0M56.3 64h0M32.2 72.6h0M50.7 51.9h0M12.3 55.4h0M22.2 8.8h0M52.5 15.3h0M43.9 81.9h0M26.4 13.3h0M47.3 6.6h0M29.7 70.8h0M36.3 15.1h0M46.4 76.9h0M69.8 54h0M30.7 28.7h0M25.4 73.8h0M46.5 47.3h0M8.2 63.7h0M53.1 54.2h0M46.8 21.9h0M100.5 79.7h0M25.1 16.1h0M31.8 69.6h0M25.2 26.2h0M17.1 57.7h0M44.3 17.7h0M29 10h0M43.5 23.5h0M22.2 17.5h0M75.4 47.4h0M37.9 51.9h0M29.9 70.7h0M25.9 69.1h0M36.8 91h0M40.7 5.1h0M27.2 69.1h0M51.2 18.7h0M41.8 39.7h0M42.5 46.6h0M28.3 91.8h0M37.5 47.6h0M44.4 53.4h0M45.5 11.1h0M11 54.2h0M34.5 35.8h0M17.8 87.9h0M26.5 62.6h0M27.8 70.1h0M41.4 30h0M34.1 73h0M53.1 77.5h0M38 79.4h0M27.9 26.4h0M51.4 69.6h0M30 13.7h0M60.2 73.6h0M79.3 59.9h0M12.2 69.6h0M29.8 34.8h0M61 78.4h0M51.2 58.2h0M18.7 57.3h0M39.2 2.1h0M39.1 70.1h0M51.4 80.8h0M39.1 79.8h0M53 80.8h0M37.4 43.5h0M49.7 78.1h0M53.5 58.3h0M37.8 19.5h0M35.1 74.3h0M55 23h0M35.5 73.7h0M44.6 60.8h0M17.5 66.9h0M25.5 27.1h0M45.4 50.6h0M17.4 61.1h0M14.3 60.6h0M27.3 21.1h0M40.3 6.9h0M56 7.6h0M36 36.5h0M32.7 77.2h0M20.5 61.4h0M41.3 37.2h0M40.2 26.9h0M26.6 67.9h0M32.2 15.9h0M27 22.3h0M37.6 31.2h0M20.4 57.4h0M28.3 6.5h0M23.2 69.5h0M44.8 66.5h0M10.1 55.3h0M24.4 85.9h0M22 18.5h0M46.1 21h0M31.8 13.1h0M23.6 9.2h0M41.5 8.5h0M51.7 45.3h0M42.5 33.4h0M39.8 66.5h0M20.9 11.7h0M70.7 57.7h0M36.3 37.1h0M53.3 22.5h0M29.3 10.3h0M33.6 71.9h0M39.1 33.1h0M49.8 28.8h0M14.8 56.9h0M31.7 19.4h0M46.9 33.5h0M34.5 22.7h0M11.1 57.4h0M36.1 31.7h0M36 21.6h0M28 72.4h0M40.5 49.5h0M45.1 8.4h0M21.7 21.5h0M38.1 23.4h0M28.5 30.9h0M22.2 65.8h0M32.8 27.7h0M47.5 59.1h0M36.9 14.9h0M13.1 64.7h0M53.4 22.5h0M57.8 14.9h0M28 26.7h0M30.1 13.8h0M41.5 69.5h0"/></g>
<g stroke="#34403e" stroke-width="2.84">
<path id="p257" d="M42.3 66.6h0M50.8 52h0M27.8 71h0M75.1 62.7h0M38.5 25.5h0M32.7 102.6h0M20.5 67h0M70.1 54.5h0M90 56.9h0M18.9 81.1h0M32.3 87.8h0M80.5 59.1h0M44 38h0M16.2 62.2h0M55.9 78.7h0M88.1 52.8h0M34.4 87.3h0M30.8 90.8h0M25.4 78.6h0M44.9 21.1h0M9.7 64.5h0M81.1 54.1h0M17.6 69.8h0M82.2 51.5h0M29.1 96.8h0M28.3 33h0M45.6 42.9h0M82.2 55.3h0M49 74.2h0M29.7 66.1h0M28.8 97.2h0M48.3 60.5h0M18.7 82.1h0M42.5 85h0M44.5 90.3h0M77.2 56.8h0M16.1 69.1h0"/>
<path id="p258" d="M86.9 49.9h0M26.4 79.1h0M53.3 78.7h0M66.3 69.9h0M76.3 52.1h0M43.6 37.5h0M14.8 59.6h0M17 86.4h0M25 94.1h0M33.2 86.9h0M32.5 93.9h0M35.8 80h0M37.1 82.4h0M85.1 59.8h0M26.5 91.4h0M48.7 82h0M78.3 44.3h0M33.6 25.7h0M46.6 20.2h0M34.5 94.1h0M53.7 79.9h0M49.7 56.9h0M51.2 76.2h0M68.7 72.2h0M38.3 90.1h0M26 82.4h0M9.6 64.6h0M89.6 53.6h0M74.2 59.9h0M41.9 70.5h0M55.9 79.6h0M16.3 75.2h0M91.8 54.8h0M18.2 74.5h0M16.7 88.5h0M67.2 73.5h0"/>
<path id="p259" d="M81.9 49.8h0M32.3 70.5h0M40.5 97.2h0M52.1 61.2h0M22 85.1h0M36.2 30.2h0"/>
<path id="p260" d="M46.3 8.7h0M27.4 11.6h0M90.7 67.5h0M39.8 2.4h0M59.7 75.3h0"/>
<path id="p261" d="M31.1 99.8h0M39.6 35.7h0M91.3 65h0M51.4 50.3h0M48.9 80.1h0M33 30.6h0M62.8 76.3h0M31 89.1h0M71.8 60.5h0M70.8 56.4h0"/>
<path id="p262" d="M26.2 5.6h0M27.7 86.5h0M76.6 50.2h0M39.9 81.1h0M15.5 77.9h0M57.9 76.2h0M40.6 82.1h0M31.6 71.5h0M33.1 69.7h0M90.9 54.2h0M23.4 67.6h0M48.4 59.8h0M20.5 82.3h0M23.8 78.8h0"/>
<path id="p263" d="M31.7 98.7h0M39.2 95.1h0M26 93.7h0M95.4 73h0M30.6 6.7h0M29.7 93.7h0M66.8 71.1h0M38.9 37.1h0M37.4 77.7h0M102.3 77.3h0M72.2 63.3h0M87.1 58.4h0M84.8 46.7h0M33.5 90.2h0M8.5 64.5h0M85.4 53.4h0M24 86h0"/>
<path id="p264" d="M34 35.8h0"/>
<path id="p265" d="M93.5 70.6h0M37.1 13.5h0"/>
</g>
<use href="#p256" stroke="#d6d6d6" stroke-width="2.3"/>
<use href="#p257" stroke="#21918c" stroke-width="2.3"/>
<use href="#p258" stroke="#22a884" stroke-width="2.3"/>
<use href="#p259" stroke="#7ad151" stroke-width="2.3"/>
<use href="#p260" stroke="#414487" stroke-width="2.3"/>
<use href="#p261" stroke="#355f8d" stroke-width="2.3"/>
<use href="#p262" stroke="#44bf70" stroke-width="2.3"/>
<use href="#p263" stroke="#2a788e" stroke-width="2.3"/>
<use href="#p264" stroke="#440154" stroke-width="2.3"/>
<use href="#p265" stroke="#482475" stroke-width="2.3"/>
<g stroke="#6a6a6a" stroke-width="2.9"><path id="p266" d="M16.9 56.2h0M10.7 64.9h0M38.6 16.2h0M42.6 22.6h0M49.5 6.7h0M42.6 10.8h0M44.7 38.4h0M59.6 75.7h0M30.9 22.3h0M39.2 98.2h0M37.8 32.9h0M43.5 26.2h0M8.7 64.8h0M42.7 71.2h0M21.8 22.1h0M32.7 34.1h0M31.3 32h0M50.8 40.8h0M15 64h0M38 77.8h0M48.9 11.7h0M33.2 30.1h0M65 66.6h0M26.8 9.6h0M36.5 13.4h0M44.1 16.2h0M23.7 66.9h0M45.6 19.3h0M39.1 14.8h0M37.7 8.5h0M45.5 5h0M43.8 16.2h0M30.2 69.5h0M48.5 33.1h0M15.7 59.6h0M32 11.1h0M99.8 76.2h0M67.5 72.1h0M53.3 25.1h0M33.9 25.2h0M39.2 8.4h0M47.7 61.9h0M44.3 46.1h0M42 16.4h0M38.1 51.8h0M32.9 5.6h0M26.2 71h0M28 33.1h0M55.5 17.4h0M20.7 10h0M43.6 57.2h0M34.3 76.5h0M46.7 41h0M53.7 15.7h0M36.7 20.1h0M31 13.8h0M40.9 1.2h0M33.3 36.6h0M49.3 59.2h0M29.6 31.7h0M32 13.4h0M40.3 12.1h0M48.3 23.2h0M25.4 70.3h0M32.6 19.7h0M17 59.6h0M51.3 9h0M31.4 6.3h0M40 0.2h0M37 11.8h0M22.3 8h0M50.3 51.6h0M26.1 28.1h0M38.6 11.4h0M25.5 9.5h0M35.2 18.2h0M39.2 31.6h0M50.3 30.5h0M29.6 67.5h0M74.8 62.5h0M15.8 73.7h0M25.3 25.5h0M31.8 17.4h0M45.7 2.9h0M23.4 70.6h0M37.5 14.5h0M50.3 71.8h0M11.7 65.9h0M45.4 40.3h0M10.8 62h0M51.8 12h0M25.5 72.3h0M50.8 52.9h0M27.3 86.5h0M27.1 20h0M36.4 43h0M36.5 72.2h0M28 19.2h0M32.5 38.3h0M49.2 9.2h0M42.6 19.9h0M32.3 93.6h0M48.7 31.7h0M31.7 8.5h0M47 68.7h0M53.6 9.4h0M90.4 53.5h0M50.2 37.5h0M39.1 71.8h0M16.3 57h0M8.1 61h0M42.4 4h0M44.5 17.4h0M46.7 74.1h0M39.9 18h0M23.2 16.5h0M30.9 31.7h0M38.5 36.9h0M17.8 66.3h0M51.5 24.7h0M39.9 27.8h0M36.7 29h0M33.9 31h0M25.9 25.7h0M8.5 61.5h0M49.3 52.9h0M43.2 74.8h0M29 27.1h0M49.3 27.4h0M29.6 23h0M29.3 10.1h0M50.3 36h0M37 4.1h0M54.1 28.3h0M35.1 32.2h0M51.3 22.4h0M47.8 74.2h0M51.8 74.2h0"/></g>
<g stroke="#34403e" stroke-width="2.84">
<path id="p267" d="M83.2 57.8h0M49.9 18.6h0M50.7 71.9h0M51.9 26.4h0"/>
<path id="p268" d="M47.7 65.5h0M77.3 57.6h0M78.2 45.5h0M55.6 80.5h0M42.1 41.8h0M53.4 72.1h0M52.6 60.4h0M56.8 65.5h0M25.9 89h0M52.5 77.8h0M45.2 74.3h0M85.9 53.5h0M77.5 46.5h0M34.1 38.6h0M58.8 73.3h0M53.5 72.2h0M37.2 30.2h0M31.8 71h0M57 18.4h0M35.6 102h0M51.6 79h0M27.7 74.2h0"/>
<path id="p269" d="M24 89.6h0M56.9 27.7h0M35.7 85.6h0M42.2 99.4h0M74.3 56.1h0M42 80.7h0M90.2 67.7h0M76.9 44.9h0M28.8 92.3h0M22.8 83.9h0M42.8 82.5h0M36.1 88.9h0M91.2 51.2h0M40 86h0M19.8 73.6h0M91.4 65.3h0M43 51.1h0M38.8 93h0M29.7 90.3h0"/>
<path id="p270" d="M35.2 92.6h0M37.7 25.6h0M39.9 90.8h0M89.7 65.5h0M50.7 79.3h0M56 75.4h0M32.2 98.4h0M89.8 53h0M58.1 67.2h0M37.8 91.8h0M72.2 58.1h0M46.2 33.9h0M31.2 82.1h0M31.7 83h0M23.4 76.1h0M42 39.1h0M34.2 46h0M78.4 44.8h0M33.5 93.9h0M27.9 64.7h0M36.3 3.7h0M86.5 51.1h0M83.7 51.5h0M33.3 79.3h0M39.6 88.1h0M32.5 88h0M19.9 70.3h0M21.6 60.7h0M28.6 84.1h0M30.6 92.2h0M37.4 7.7h0M21.1 69.2h0M38.2 63.1h0"/>
<path id="p271" d="M35.3 76.2h0M15.9 78.4h0M42.3 98.2h0M30.1 89h0M40.1 92.7h0M80.6 47.5h0M11.2 64.7h0M88.9 53.2h0M34.9 43.8h0M79.3 45.9h0M31.1 91.2h0M42 42.4h0M99.6 76.3h0M67.3 72.9h0M11.5 72.8h0M39.2 45.6h0M38.7 80h0M16.1 85h0M25.5 86.2h0M34.9 80.7h0M23.3 91.7h0M74.1 50.7h0M53.2 80.9h0M17.1 64.4h0M66.5 69.6h0M42.8 90.2h0M9.2 67.5h0M55.9 21.1h0M52.9 74.4h0M18 58.1h0M28.7 83.5h0M31 33.3h0M76.7 59.5h0M43.7 88.3h0"/>
<path id="p272" d="M31.5 84.4h0M21.5 78.4h0M18 80.4h0M23.8 9.7h0M42.3 85.1h0M8.4 67.2h0M80.8 49.1h0M23.7 84h0M36.4 89.5h0M52.4 43.3h0M54.1 53.8h0"/>
<path id="p273" d="M47 29.9h0M45.7 64.5h0M48.2 46.9h0M26.7 28.5h0M89.3 52.3h0M73.5 54.6h0"/>
<path id="p274" d="M43.4 89.5h0M86.5 53.3h0"/>
</g>
<use href="#p266" stroke="#d6d6d6" stroke-width="2.3"/>
<use href="#p267" stroke="#414487" stroke-width="2.3"/>
<use href="#p268" stroke="#2a788e" stroke-width="2.3"/>
<use href="#p269" stroke="#44bf70" stroke-width="2.3"/>
<use href="#p270" stroke="#22a884" stroke-width="2.3"/>
<use href="#p271" stroke="#21918c" stroke-width="2.3"/>
<use href="#p272" stroke="#7ad151" stroke-width="2.3"/>
<use href="#p273" stroke="#355f8d" stroke-width="2.3"/>
<use href="#p274" stroke="#bddf26" stroke-width="2.3"/>
<g stroke="#6a6a6a" stroke-width="2.9"><path id="p275" d="M57.3 20.4h0M13.3 58.2h0M22.2 56.3h0M26 11h0M24.2 62.6h0M99.3 75.8h0M28.5 31.5h0M29.4 63.6h0M89.1 60.4h0M10 58.9h0M35.9 28.2h0M53 29.5h0M23.8 17.7h0M42.1 9.1h0M34.1 69.5h0M21.4 12h0M74.9 53.4h0M44.7 6.7h0M51.5 11.5h0M48.8 40.1h0M47.3 19h0M40.8 27.7h0M27.8 27.3h0M34.4 9.4h0M55.3 28.3h0M46.3 60.8h0M35 17.6h0M35.6 6h0M33.5 13.4h0M34.2 21.4h0M45.9 14.2h0M39.8 5.7h0M62.3 78.6h0M52.3 32.1h0M40.1 41.7h0M48.8 31.1h0M37.9 14.5h0M23.5 8.6h0M38.3 37.3h0M32.8 31h0M34.2 73.6h0M48.4 22.6h0M44.3 39.4h0M51.9 32.4h0M5.8 59.1h0M40.6 59.2h0M25.7 12.6h0M23.7 92h0M39.2 36.1h0M53 28.6h0M47.5 39h0M49.8 15.8h0M25.8 21.4h0M23.2 91.5h0M38.4 15.6h0M24.3 14.8h0M31.5 32.5h0M39.1 25.1h0M48.4 31.3h0M41.6 45h0M10.5 56.3h0M79.5 56.8h0M10.2 58.3h0M53.6 59.6h0M25.6 14.1h0M46.3 20.4h0M16 63.1h0M18.6 71.6h0M39.5 1.5h0M24.1 61.6h0M58.9 13.6h0M42.2 73.3h0M35.7 37.8h0M55.7 9.4h0M51.9 50.6h0M18.8 59.4h0M43.4 28.7h0M34.2 8.1h0M27.9 3.6h0M35.5 24.8h0M19 63.5h0M30 31.2h0M50.1 24.2h0M39 2.8h0M35.2 36.3h0M31.7 96.9h0M35.5 23.5h0M28.2 27.5h0M31.4 35.8h0M83.8 60.6h0M24.4 67.1h0M26.3 93.3h0M34.8 77h0M50.6 19.1h0M41.8 16.1h0M51.7 26.2h0M42.4 27.5h0M30.6 33.5h0M49.6 78.2h0M39.6 40.5h0M51.9 66.9h0M30.8 29.3h0M18.2 58.4h0M33 18.6h0M47.5 4.9h0M54.2 24.8h0M41.4 78.2h0M40.7 30.2h0M25.4 84.3h0M57.4 58.5h0M26 23.7h0M26.6 71.8h0M45.9 27.8h0M38.4 6.7h0M36.2 97.6h0M26 6.3h0M45.7 77.6h0M29.9 8h0M40.9 24.4h0M30.4 34.1h0M45.4 60.4h0M21 73.3h0M45.4 40.4h0M41.7 56.9h0M18.4 69.9h0M34.8 23h0M10.1 55.9h0M44.8 5.8h0M25.7 86.8h0M40.8 8.9h0M50.9 36.4h0M49.4 57.8h0M54.1 66.9h0M45.7 2.2h0M94.5 70.4h0M54.1 13.4h0M40.3 64.1h0M49.1 58.2h0M27.2 18.2h0M19.8 58.2h0"/></g>
<g stroke="#34403e" stroke-width="2.84">
<path id="p276" d="M98.2 73h0M39.9 95.4h0M46.3 58.4h0M48.4 35.7h0M9.7 66.2h0M44.5 95.8h0M22.1 75.8h0M83.2 53.1h0M38 80.3h0M11.8 54.9h0M55.5 76.2h0M61.1 77.9h0M40.5 86.9h0M51.9 78.2h0M37.8 84h0M47.8 78.1h0M20.2 74.2h0M26.2 74.5h0M25.4 78.1h0M5.1 56h0M75.4 65.4h0M66.9 71.2h0M64.2 72.7h0M13.5 73.7h0M54.4 78.6h0M8.1 57.8h0M51.9 58.5h0M13.5 56.3h0M29.2 93.2h0M40.5 53.3h0M38.2 84.1h0M57 74h0"/>
<path id="p277" d="M85 52.3h0M34.1 18.9h0M11.8 68.3h0M19.6 75.1h0M19.3 83.4h0M42.9 94h0M87.9 52.6h0M82.8 58h0M31.3 95.3h0M45.8 53.1h0M36.4 79.8h0M20.5 79.4h0M24.7 81.7h0M86.2 50.1h0M26.3 65.5h0M87.2 52.4h0M35.5 80.5h0M24.3 84.8h0M22.3 15.1h0M32.7 81h0M39 99h0M81.8 52.1h0M55.1 60.2h0M42.6 70.3h0M10.3 59.9h0M47.9 46.2h0M34.8 70.9h0M85.3 59.2h0M88.9 47.3h0M37.5 95.6h0M71.3 61.4h0M37.3 47.3h0M41.9 93.5h0M25.6 81.8h0M21.4 67.6h0"/>
<path id="p278" d="M31.7 73.2h0M32.7 20.5h0M45 49.6h0M52.2 50.9h0M59.5 72.9h0M28.3 73.6h0M21.4 78.1h0M51.7 12.3h0M82.8 48.2h0M28.5 98.3h0M22.5 85.3h0M39.7 75.9h0M7.9 57.9h0M37.3 49h0M92.7 68.5h0M38.8 43.5h0M16.4 79h0M13.8 76.5h0M12.3 78.4h0M74.8 53.4h0M12.7 54h0M23.6 77.7h0"/>
<path id="p279" d="M24.6 94h0M31 93.7h0"/>
<path id="p280" d="M16 81.8h0M49.5 64.7h0M82.1 60.5h0M22.8 87h0M98.6 73.3h0M24.6 26.6h0M58.3 78.8h0"/>
<path id="p281" d="M31 81.5h0M28.9 8.6h0M74.1 60h0M56.2 79.6h0M73.2 63.9h0M9.2 61.5h0M84.3 57.6h0M40.1 87.3h0M92.3 71h0M80.5 45.5h0M31.3 32h0M42.2 91.9h0M50.5 8.8h0M30.9 70.8h0M73 57.5h0"/>
<path id="p282" d="M98.7 78.8h0"/>
<path id="p283" d="M25.8 64.1h0M32.7 76.2h0M43.4 87.2h0M38 97.5h0M40.5 82.8h0M50.8 83.5h0M20 75.8h0M31.2 87.9h0M20.3 86.3h0M62.9 71h0M44.5 14.2h0M27 73.1h0M13.5 66.6h0"/>
<path id="p284" d="M46 10.3h0"/>
<path id="p285" d="M27.2 13.5h0"/>
</g>
<use href="#p275" stroke="#d6d6d6" stroke-width="2.3"/>
<use href="#p276" stroke="#22a884" stroke-width="2.3"/>
<use href="#p277" stroke="#21918c" stroke-width="2.3"/>
<use href="#p278" stroke="#44bf70" stroke-width="2.3"/>
<use href="#p279" stroke="#bddf26" stroke-width="2.3"/>
<use href="#p280" stroke="#355f8d" stroke-width="2.3"/>
<use href="#p281" stroke="#2a788e" stroke-width="2.3"/>
<use href="#p282" stroke="#414487" stroke-width="2.3"/>
<use href="#p283" stroke="#7ad151" stroke-width="2.3"/>
<use href="#p284" stroke="#482475" stroke-width="2.3"/>
<use href="#p285" stroke="#fde725" stroke-width="2.3"/>
<g stroke="#6a6a6a" stroke-width="2.9"><path id="p286" d="M13.3 69.7h0M30.7 7.7h0M23.5 8.5h0M44.5 2h0M37.4 16.2h0M48.8 58.1h0M51.6 23.7h0M35.1 31.6h0M37.5 34.3h0M67.7 73h0M45.9 48.5h0M30.7 16.4h0M34.8 77.1h0M38.1 9.4h0M51 41h0M49.4 31.3h0M40.5 66.8h0M21.6 13h0M38.3 21.4h0M51.9 18h0M25.2 65.1h0M32.8 24.4h0M43.7 38.2h0M37.7 34h0M35.6 31.2h0M33 31.7h0M44.7 76.8h0M32.9 27h0M49 21.2h0M49.8 30.3h0M96.8 70.8h0M38.1 22.2h0M10.2 66.7h0M47.5 75.2h0M47.3 58.7h0M39.2 26.6h0M11.1 67.9h0M30.7 74.4h0M40.3 6.1h0M43.5 63h0M37.7 29.5h0M51.6 25.7h0M28.2 66.8h0M37.7 8.4h0M20.9 56.9h0M42.6 66.7h0M43.6 21.9h0M22.4 87.7h0M48.4 36.5h0M40.3 1.8h0M17.4 66.5h0M49.5 80.6h0M74.1 57.9h0M50.3 22h0M46 23.3h0M50.9 62.2h0M38.7 14.6h0M36.1 71.2h0M34.5 13.5h0M49.8 70.7h0M32 30.3h0M43.5 28.1h0M41.9 94.5h0M53.3 15.9h0M31 8.5h0M36.8 24.8h0M22.4 22.9h0M48 57.5h0M56 67.2h0M31.4 78.9h0M20.7 6.7h0M41.7 39.2h0M25.7 70.6h0M17.5 64.2h0M32.5 66.9h0M53.9 71.1h0M25.2 93.2h0M42.1 40.1h0M39.9 15.3h0M53.6 18.1h0M45.5 64.4h0M19.5 14.3h0M33.4 5.8h0M27.1 23.5h0M81.3 54.8h0M38.6 94.2h0M46.8 37.3h0M20.1 67.7h0M39.3 41.9h0M36 31.3h0M24.5 13.8h0M32.2 16.6h0M46.7 58.4h0M48.7 65.9h0M101.3 77.9h0M58 17.3h0M56.7 81.9h0M21.7 77.2h0M40.7 14h0M8.5 55.3h0M38.5 11.8h0M48.2 46.9h0M30.9 12.3h0M54.5 10.7h0M41 18.1h0M33.9 14.3h0M20 60.8h0M48.5 64.8h0M44.8 19.2h0M44.6 47.5h0M45.3 14.3h0M22.9 67.8h0M20 67.2h0M40.7 11.3h0M62.7 74h0M19.1 68.5h0M23.9 66.4h0M47.8 20.1h0M26.4 75.8h0M53.6 33.3h0M7.7 56.2h0M32.4 26h0M26.7 91.4h0M49 53.4h0M47.9 27.2h0M43.2 17.6h0M25.9 8.9h0M79.1 43.9h0M28.3 97.9h0M40.8 45.7h0M27.5 86.8h0M36.3 10.4h0M40.4 49.4h0"/></g>
<g stroke="#34403e" stroke-width="2.84">
<path id="p287" d="M43.1 43.4h0M91.1 54.4h0M47.1 33h0M27.4 87.1h0M39.8 100.5h0M20.5 70.8h0M41 93.6h0M38.4 81.1h0M21 55.7h0M87.9 46.8h0M81.7 61.1h0M19 90.2h0M15.3 77.6h0M66.3 70.3h0"/>
<path id="p288" d="M53.2 18.6h0M40 62.8h0M31.6 93.2h0M17 55.1h0M42.1 47.9h0M32.2 99.4h0M18.9 81.4h0M88.8 51.6h0M26 69.2h0M25.7 81h0M13.3 64.8h0M16.9 79.5h0M22.9 68h0M27.9 80h0M21.9 91h0M50 79.6h0M36.3 80.9h0M44.5 55.6h0M38.6 50h0M42 82.9h0M38.3 48.1h0M47.3 55h0M84.2 55.7h0M37 17.2h0M75.3 47.5h0M21.8 93.8h0M82.6 53.2h0M34.6 92.1h0M56.3 8.2h0M23.2 82.3h0M19.7 58.7h0M27.8 71.1h0M11.8 61.8h0M25.7 79.1h0M53 56.7h0M46 45.9h0M24.2 81h0"/>
<path id="p289" d="M46 11.6h0M15.9 76.6h0M21.7 87h0M26 84.7h0M34.6 91.3h0M53.2 78.9h0M24.8 70.3h0M47.1 79.2h0M47.1 56.8h0M25.8 92.3h0M25.9 85.5h0M79.6 64.9h0M88.5 49.4h0M81.5 55.6h0M34 95.5h0M31.5 96.2h0M89 48.1h0M53.8 71.8h0M83.5 47.7h0M85.9 47.6h0M14.5 69.3h0M22 60.3h0M53.3 61.7h0M65 75.8h0M18.4 87.3h0M39 99.5h0M26.3 76.6h0M102 78.1h0M49.7 46.5h0M71.7 49.2h0M76.4 55.8h0M46.1 64.4h0M81.3 56.2h0M56.1 73.7h0M19.3 74.5h0M38.7 90.4h0"/>
<path id="p290" d="M28.4 67.5h0M39.7 64h0M31.6 81.5h0M31.4 33h0M48.1 6.6h0M29.1 33.4h0"/>
<path id="p291" d="M72.2 52.2h0M81.2 57.8h0M90.1 49.6h0M44.2 39.7h0M46.6 11.1h0M86.8 51.9h0M76.6 51.9h0M76.5 44.8h0M40.8 100.4h0M21 80.1h0M54.4 55h0M43.4 73.8h0M102.5 76.7h0M41.5 92.2h0M38 9.1h0"/>
<path id="p292" d="M24 78.7h0M27.4 83.9h0M31 82.3h0M38.5 99.6h0M43.3 46.8h0M48.7 51.3h0M41.3 65.5h0M32.2 81.5h0M33.4 95.5h0M16.3 85.7h0M56 79.6h0M59.8 72.7h0M18.1 80.5h0M39.7 89.5h0M50.5 76.2h0M50.5 67h0M39.5 86.2h0M20 66.7h0M34 76.7h0M21.2 87.4h0M39 66.5h0M39.3 92.3h0"/>
<path id="p293" d="M79.8 61.2h0M82.8 54h0M96.2 71h0M85.7 53.1h0"/>
<path id="p294" d="M32.5 31.2h0M34.8 97h0"/>
</g>
<use href="#p286" stroke="#d6d6d6" stroke-width="2.3"/>
<use href="#p287" stroke="#7ad151" stroke-width="2.3"/>
<use href="#p288" stroke="#21918c" stroke-width="2.3"/>
<use href="#p289" stroke="#22a884" stroke-width="2.3"/>
<use href="#p290" stroke="#355f8d" stroke-width="2.3"/>
<use href="#p291" stroke="#2a788e" stroke-width="2.3"/>
<use href="#p292" stroke="#44bf70" stroke-width="2.3"/>
<use href="#p293" stroke="#414487" stroke-width="2.3"/>
<use href="#p294" stroke="#bddf26" stroke-width="2.3"/>
<g stroke="#6a6a6a" stroke-width="2.9"><path id="p295" d="M37.4 16.8h0M57.2 17.5h0M37 20.3h0M64.4 76.1h0M93.1 72.2h0M38.9 15.2h0M45.1 17h0M26 5.3h0M38.2 19.6h0M34.9 34.5h0M37.1 77.6h0M37.8 21.7h0M22.8 67.3h0M46.8 35.9h0M44.7 5.1h0M23.3 66.9h0M50.3 74.7h0M15.5 68.9h0M46.7 43h0M46.1 47.9h0M81 49.6h0M60.7 74.7h0M22.5 21.4h0M8.8 56.2h0M33 98.2h0M20.8 65.4h0M35.2 32.5h0M47.6 53.4h0M51.4 29.4h0M50.8 34.1h0M34.9 4.1h0M41 73.3h0M50.1 49.1h0M49.3 26.8h0M52.2 25.8h0M72.5 53.6h0M23 70.2h0M45.3 29.4h0M18.5 69.2h0M52.1 12.2h0M51.7 20.8h0M43.3 71.6h0M45.6 5.5h0M53.6 14.7h0M40.4 5.6h0M9.4 57.6h0M54.2 14.7h0M25.9 25.3h0M33.1 2.8h0M27.1 5.6h0M29.1 30.2h0M56.5 22.3h0M38.6 4.4h0M35.8 13.2h0M47 9h0M27.1 31h0M52.5 10.7h0M29.1 27.9h0M25.4 69.2h0M38.7 11.1h0M30.9 74.9h0M53.3 47.3h0M27.1 23.1h0M38.9 43.9h0M33.6 15h0M49.4 17.2h0M34.8 75.1h0M44.6 34.9h0M33.9 31.3h0M34.1 11.4h0M50.4 24.2h0M42.8 47.8h0M22.1 16.4h0M53.5 15.7h0M30.6 15.3h0M48.7 4.3h0M51.8 62.3h0M13.3 69.3h0M19 86.4h0M34.3 23.9h0M36.9 49.4h0M39.6 12.3h0M30.5 100h0M42.3 7.2h0M21.6 83.3h0M49.2 55.4h0M39.2 74.5h0M24.6 9.7h0M23.6 88.7h0M23.5 20.9h0M9.8 57.1h0M55.2 16.3h0M48.5 19.4h0M36 15.5h0M54.9 55.6h0M50 10.2h0M41.7 25.1h0M22.4 66.8h0M51.4 65.3h0M35.6 30.6h0M49.8 13h0M38.9 34.8h0M51 74.5h0M28.2 79.4h0M31.9 77.5h0M43.3 1.2h0M47.9 31.7h0M33.7 7.8h0M44.6 17.1h0M39.7 1.7h0M27.1 5h0M22.5 67.8h0M20.6 92.2h0M34.2 15h0M89.4 67.5h0M27.9 18.9h0M19.7 55.4h0M84.2 54.8h0M32.5 74.1h0M40.4 7.2h0M46.3 23.8h0M53.3 44.8h0M50.8 9.6h0M21.6 62.4h0M42.6 37.3h0M35.4 13.8h0M44.2 23.8h0M43.4 14.9h0M43.5 49h0M56.3 20.5h0M29.9 10.4h0M35.9 38.3h0M41 38h0M49.5 30.7h0M24.1 12.2h0M23 8.6h0M51.2 32.6h0M47.5 21.6h0M41.1 84.3h0M48.7 55h0"/></g>
<g stroke="#34403e" stroke-width="2.84">
<path id="p296" d="M23.5 70.3h0M86.8 54.2h0M43.3 87.5h0M44.4 30.2h0M42.7 95.7h0M50.7 79.7h0M75.5 51.1h0M26 68.4h0M33.3 87.1h0M32.4 85.4h0M92.6 69.7h0M79 61.9h0M85 56.8h0M16.1 65.4h0M35.1 81.7h0M36.9 87.9h0M56.8 75h0M20.8 87.2h0"/>
<path id="p297" d="M81.4 58.1h0M53.3 79.1h0M66.3 74.5h0M24.5 10.9h0M10.5 58.1h0M96.7 76h0M46.1 52.2h0M11.6 61.4h0M45.8 70.8h0M90.8 65.5h0M70.2 62.6h0M33.5 87.6h0M50.6 9.4h0M47.2 59.9h0M49.7 3.7h0M76.4 42.8h0M73.3 61.8h0M48.4 63.7h0M26.4 14.6h0M21.8 79.6h0M42.7 41.5h0M42.2 81.9h0M77.7 45.5h0M51.4 80.7h0M43.4 18.2h0M46.5 35.2h0M17.7 58.9h0M41 62.3h0M52.5 60.9h0"/>
<path id="p298" d="M24.7 80.7h0M86 60.2h0M95.6 69.9h0M98.9 76.8h0M17.6 61h0M62.6 74.2h0M16.1 86.6h0M14.6 80.2h0M35.3 85.6h0M53.4 28.2h0M64.6 74.3h0M22.9 91h0M69.2 55.2h0M23.9 79.4h0M82.9 56.2h0M24.6 96.9h0M48.3 47.8h0"/>
<path id="p299" d="M53.2 51.9h0M26.2 85.8h0M38.8 86h0"/>
<path id="p300" d="M18 56.5h0M80 46.3h0M44.6 78.4h0M20.1 59.5h0M10 73.4h0M39.2 101.3h0M36.9 99.3h0M18.2 56.9h0M34.8 80.4h0M55.4 74.4h0M34.3 87.8h0M33.5 93.2h0M42.8 48.7h0M29.6 88.1h0M17 68h0M30.1 82.6h0M30.7 86.7h0M74.1 45.5h0M51 6.6h0M16.8 79.1h0M89.2 49.3h0M29.5 97.4h0M47.3 60.3h0M39.2 35.5h0M34.3 80.9h0M36 92.8h0M71.1 47.2h0M94.6 73.6h0M13.2 74.8h0M41.1 65.1h0M33.9 31.6h0M14.7 84.1h0M35.3 102.7h0M99 77h0M74.6 52.7h0M34.5 92.8h0"/>
<path id="p301" d="M47.2 52.8h0M13.1 74.4h0M73.3 55.9h0M48.4 75.1h0M74.6 66.3h0M34.2 74.5h0M29.7 80.4h0M72.4 58.7h0M88.1 48.3h0M9.9 55.4h0"/>
<path id="p302" d="M76.2 48.1h0M32.5 4.1h0M30.6 98.8h0M22 85.8h0M50.8 66.3h0M26.8 19.2h0M82.3 57.1h0M72.4 58.4h0M86.5 56.9h0M33.8 41.5h0"/>
<path id="p303" d="M85.9 58.1h0"/>
</g>
<use href="#p295" stroke="#d6d6d6" stroke-width="2.3"/>
<use href="#p296" stroke="#44bf70" stroke-width="2.3"/>
<use href="#p297" stroke="#21918c" stroke-width="2.3"/>
<use href="#p298" stroke="#2a788e" stroke-width="2.3"/>
<use href="#p299" stroke="#bddf26" stroke-width="2.3"/>
<use href="#p300" stroke="#22a884" stroke-width="2.3"/>
<use href="#p301" stroke="#7ad151" stroke-width="2.3"/>
<use href="#p302" stroke="#355f8d" stroke-width="2.3"/>
<use href="#p303" stroke="#414487" stroke-width="2.3"/>
</g>
<rect x="254.3" y="681.4" width="104.6" height="105" fill="none" stroke="#111" stroke-width="1.15"/>
<rect x="317" y="686.5" width="40.8" height="3.1" fill="url(#gh)"/>
<text x="316" y="700" font-size="10.7" fill="#111">-4</text>
<text x="353.9" y="700" font-size="10.7" fill="#111" text-anchor="end">1</text>
<g fill="none" stroke-linecap="round" transform="translate(362.7 413.5)">
<g stroke="#6a6a6a" stroke-width="2.9"><path id="p304" d="M52.6 66.5h0M21.2 54.7h0M31.4 89.8h0M46.4 7.4h0M57.9 46.7h0M54.7 64.8h0M36 9.1h0M26.6 38.3h0M72 33.8h0M7.5 57.5h0M13.1 48h0M59.4 59.8h0M69.1 15h0M71.7 13.3h0M3.6 58.1h0M95.6 35.3h0M19.6 57.2h0M57 69.9h0M62.9 17.4h0M77.3 44.6h0M33.6 87h0M55.7 60.5h0M37.5 9.8h0M20.1 34.5h0M97.2 35.6h0M84 43.4h0M12.8 45.3h0M5.9 58.8h0M32.9 13.4h0M60.5 31h0M62.1 33.9h0M19.5 57.5h0M32.2 58.3h0M29.2 51.8h0M56.8 65.3h0M56.6 68.9h0M56.6 23.4h0M95.4 53.7h0M48.9 22.6h0M55.8 54.7h0M98.5 32.3h0M62.4 29.6h0M7.5 53.6h0M27.5 88h0M92.9 35.4h0M22.6 34.7h0M13.7 56.9h0M60.1 64.5h0M31.1 37.4h0M60 47.7h0M7.3 59.2h0M52.4 66.8h0M59.3 66.6h0M18.6 62.9h0M30.5 49h0M51.7 24.7h0M68.9 59.4h0M38.9 8.5h0M20.4 60.3h0M18.7 56.8h0M85.1 45.5h0M51.9 65.9h0M48.4 21.2h0M17.2 49.5h0M34 12.1h0M16.6 59.6h0M98.7 43h0M72.1 57.5h0M56.3 81.2h0M49.7 20h0M16.6 64h0M27 36.9h0M17.1 46.5h0M60.4 81.5h0M20.4 62.7h0M36.4 8.6h0M13.2 62.8h0M39.2 53.3h0M53.5 56.1h0M49.2 56h0M29.8 89.9h0M68.2 15.3h0M13.6 50.5h0M62.5 63.1h0M24.9 38.1h0M24.5 37.1h0M57.9 26h0M64.2 69h0M15.9 62.8h0M21.6 61h0M39.4 9.1h0M35.9 45.7h0M31.4 53.2h0M94.6 36.1h0M55.9 54.5h0M60.2 66h0M58.2 95.7h0M39.8 9.4h0M32.9 47.7h0M55 91.5h0M17.9 60h0M22.7 35.9h0M69.4 58.1h0M9 59.8h0M94.3 53.1h0M54.3 25.1h0M75.3 35.2h0M73.1 32.3h0M55.1 97.4h0M77.5 44.5h0M64.7 67.7h0M29.2 90.3h0M31.4 80.1h0M32.6 51.6h0M58.4 97.6h0M57 60.8h0M96.4 36.2h0M39.1 5.5h0M57.2 92.8h0M21.6 37.2h0M60.7 26.2h0M23.9 33.9h0M35.4 13h0M16.5 49.1h0M34.6 9.4h0M57.3 96.9h0M27.3 35.1h0M49.4 97.8h0M27.1 38.7h0M53.8 43.2h0M60.6 56.8h0M80 46.1h0M93.6 36.4h0M59.2 73.9h0M23.8 38h0M35.3 53h0M59.1 67.2h0M32.7 33.2h0"/></g>
<use href="#p304" stroke="#d6d6d6" stroke-width="2.3"/>
<g stroke="#6a6a6a" stroke-width="2.9"><path id="p305" d="M61.3 32.2h0M57.2 58.3h0M42 8.1h0M69.6 13.4h0M20.9 56.3h0M41.5 4.4h0M34.3 53h0M52.5 96.1h0M56.5 58.1h0M41.7 51.7h0M59.8 71.9h0M25.7 54.5h0M59.5 30.7h0M84.1 45.1h0M69.9 32.2h0M53.9 73.5h0M29.8 89.4h0M62.6 71.9h0M55.4 63.9h0M95 37.3h0M57.7 27h0M34.1 44.8h0M27.1 32.7h0M58.9 26h0M22.5 52.3h0M54.1 26.3h0M26.6 31.8h0M32.6 50.9h0M55 98.9h0M59.5 32.3h0M40.9 6.2h0M37.7 10.7h0M13.5 61.8h0M26.5 36.9h0M53.3 61.5h0M21.5 54.6h0M30.1 15.9h0M59.4 54.4h0M55.4 21.5h0M35.8 12.2h0M39.6 10.5h0M21.1 56.8h0M40.5 3.7h0M90.5 33.4h0M65.7 14.3h0M29.4 33.6h0M32.8 14.5h0M54 55.2h0M56.5 24h0M56.6 93.8h0M50.8 25.3h0M37 12.4h0M27.1 53.8h0M71.4 14.3h0M22.8 59.2h0M98.8 37.9h0M60.9 81h0M29.5 83.7h0M58.4 64.3h0M56.6 88.8h0M24.2 33.8h0M55.7 22.8h0M59.3 78.4h0M93.1 31.9h0M39.7 12.3h0M50.7 97.7h0M41.4 9.2h0M48.6 21.4h0M16.2 60.1h0M14.9 64.8h0M58.9 79.9h0M38.9 9.8h0M54.6 31h0M52.1 19.6h0M24.7 58.2h0M36.3 10h0M17 49.6h0M54.1 93.6h0M63.3 69.4h0M57.6 71.2h0M23.3 61.3h0M29.9 80.1h0M57.7 35.4h0M37.7 11.2h0M75.9 35.1h0M50.6 44.8h0M52 72.2h0M57.4 26.7h0M60.1 75h0M58.2 93h0M58.5 72.8h0M20.1 64.5h0M74.6 12.4h0M58.3 71.3h0M29.3 31.8h0M23.1 38.8h0M42.9 49.9h0M65.8 69.5h0M51.9 97.3h0M32.5 83.4h0M59.2 55.8h0M33.2 33.9h0M23.2 53.1h0M84.3 44.3h0M21.4 63h0M51.5 44.9h0M102.2 47.7h0M38.5 46.6h0M58 87.2h0M61.5 85.5h0M32 49.1h0M101.2 46.3h0M59.2 60.5h0M51.6 55.4h0M44.5 5h0M20.7 56.9h0M28.9 48.3h0M80.8 45.2h0M31.2 84.1h0M40 48.5h0M19.5 37.9h0M23.2 39.2h0M54.4 55.8h0M17.1 61.1h0M59.2 52.6h0M29.7 46.7h0M36.1 12.4h0M34.3 84.8h0M61 67.7h0M29.5 33.4h0M57.9 68.3h0M31.3 87.6h0M51.6 98.4h0M70.1 16.6h0M99.3 32.8h0M53 65.4h0M29.4 80.6h0M41.2 51.7h0"/></g>
<use href="#p305" stroke="#d6d6d6" stroke-width="2.3"/>
<g stroke="#6a6a6a" stroke-width="2.9"><path id="p306" d="M13.8 47.6h0M56 24.5h0M32.3 36.9h0M99 43h0M55.3 18.5h0M40.8 6.8h0M16.1 62.8h0M51.8 45.6h0M72.2 16.3h0M31.5 37.2h0M53.8 22.8h0M81.1 43.7h0M25.1 53.6h0M57.5 84.1h0M30.6 81.4h0M42.2 7.7h0M100.3 49.1h0M58.9 58h0M102.2 47.8h0M41.6 55.8h0M59.6 25.1h0M24.4 37.9h0M60.8 44.2h0M62.1 23.6h0M59.9 21.8h0M40.9 49.5h0M51.6 21.1h0M30 48.4h0M11 50.1h0M75.6 14.5h0M24.2 63.7h0M33.7 47.3h0M60.3 56.5h0M52.7 72.3h0M15.4 59.7h0M50.4 98.3h0M58.7 23.3h0M39.1 50.8h0M53 57.1h0M41.5 49.2h0M54.5 60.6h0M58.3 47.1h0M46.5 7.5h0M51.7 23.8h0M34.2 52.4h0M38 45.5h0M60.9 80.9h0M35.4 48.5h0M31.6 50.2h0M31.6 58.2h0M22.6 36h0M41 53.1h0M23.7 60.4h0M61.7 66.7h0M60.5 77.5h0M51.6 68.6h0M50.6 18.7h0M11 59.8h0M55.9 72.4h0M31.6 16.7h0M59 79.5h0M60.4 47.7h0M54.8 44.4h0M93.3 55.4h0M54.4 58.3h0M57.2 80.4h0M98.2 34.7h0M37 5.7h0M59.3 82.1h0M54 95.7h0M32.3 32.9h0M52 45.6h0M71.7 33.7h0M28.6 50.1h0M26.2 54.4h0M52.7 100.1h0M53.9 98.7h0M23.7 57.4h0M53.7 66.8h0M60.8 84.4h0M51.9 71.8h0M56.4 20.9h0M43.1 10.4h0M91.2 35.8h0M42.2 9.8h0M63 15.1h0M33.2 50.4h0M93.3 54.4h0M91.8 35.9h0M90.2 33.6h0M60.5 55.9h0M13.7 48.3h0M55.6 21.7h0M57.4 89.7h0M35.5 9.6h0M42.8 4.7h0M27.9 37.8h0M44 9.7h0M32.4 54.9h0M29.7 88.9h0M72.6 57.7h0M29.2 52.3h0M73.9 34.8h0M49.8 24.5h0M56.9 73.8h0M60.5 72.8h0M14.1 49.7h0M60.1 70.6h0M70.9 57.8h0M61.4 30.7h0M33.7 80.3h0M70.5 31.6h0M72 34.4h0M41.5 48.7h0M58.5 24.8h0M52.7 60.9h0M5.5 60.8h0M50.3 53.5h0M66.6 15.5h0M59 96h0M33.1 10.7h0M31.6 12h0M35.4 9.7h0M40 50.6h0M37.3 59.6h0M97.4 51.5h0M33.3 80h0M50 21.8h0M37.3 9.6h0M92.6 34.3h0M58.8 22.2h0M13.8 45.2h0M55.8 52.6h0M59.4 46.5h0M52.6 58.1h0M100 43.3h0M23.3 64h0M51.3 24.6h0"/></g>
<use href="#p306" stroke="#d6d6d6" stroke-width="2.3"/>
<g stroke="#6a6a6a" stroke-width="2.9"><path id="p307" d="M14 59.4h0M56.2 89.8h0M14 62h0M84.5 44.8h0M52.8 44.1h0M36.7 55.1h0M32.9 49.7h0M53.5 58.8h0M56.2 73.5h0M59.3 72h0M56.5 95.9h0M99.1 37.1h0M28.3 48.4h0M33.3 57.8h0M70.7 15.1h0M93.1 38.3h0M16.6 57h0M61.4 30.4h0M89.7 35.8h0M20.4 56.1h0M44.3 3.9h0M59 40.5h0M70.8 13.5h0M35.6 12.2h0M40.7 10.4h0M73.1 15.2h0M70.2 31.9h0M61 34.6h0M39.5 45h0M10.8 60.6h0M14.1 51.4h0M60.3 77.2h0M64.8 33.1h0M58.8 41.3h0M36.6 10.7h0M6.9 57.5h0M36.4 46.6h0M40.9 57h0M22.8 33.1h0M30.6 33.9h0M40 53.3h0M85.9 42.9h0M96 52.9h0M7.6 60.6h0M7.6 53.1h0M76.6 45.8h0M53 58.6h0M53.1 56.4h0M44.9 6.1h0M51.5 95.4h0M31.3 36.7h0M66.6 16.8h0M100.9 44.9h0M51.5 68.7h0M52.6 69.7h0M60 21.9h0M56.5 84.7h0M32.5 81.7h0M73.8 11.2h0M35.8 10.4h0M43.2 64h0M18 57.8h0M33.9 10.9h0M51.5 46.1h0M70.3 15.2h0M36.8 47.2h0M55.4 96.7h0M14.9 60.9h0M20.9 36.2h0M90.4 35h0M62.8 70.7h0M59.1 69.5h0M58.1 25.7h0M61 83.7h0M63.4 16.1h0M24.3 58.1h0M22 63.7h0M61.4 36.6h0M17.2 56.5h0M29.3 34.1h0M35.2 49.7h0M59.9 55.2h0M40.3 6.6h0M55 94.6h0M57.6 86.3h0M38.2 10.8h0M87.2 43.4h0M21.6 62.9h0M76 35.5h0M17.4 62.7h0M56.8 66.8h0M74 10.8h0M51.8 43.9h0M29.3 87.5h0M33.4 85.5h0M54.3 21h0M57.2 82.4h0M52.7 25.6h0M57.1 53.3h0M39.1 9.2h0M35.4 45.6h0M92.8 38.2h0M94.4 54.5h0M37.9 52.2h0M58.7 60.6h0M73.5 16.8h0M19.8 59.4h0M56.8 65h0M57.4 34.6h0M99.3 35.2h0M39.3 9.8h0M13.2 47.1h0M58.8 19.9h0M59.3 34.4h0M30.5 83.2h0M60.9 32.9h0M57.8 23h0M37.1 59.7h0M52.4 18.1h0M80.3 44.6h0M40.4 11.4h0M26.6 53.1h0M27.9 37.5h0M100.9 44.2h0M63.7 71.8h0M56.1 27h0M46.4 4.4h0M29 82.1h0M59.7 74.7h0M40.1 6h0M36.2 44.7h0M58.4 84.1h0M54.8 61.7h0M33.8 10.5h0M98.1 33.7h0M58.7 80.2h0M59.9 58.1h0M41.7 8.4h0"/></g>
<use href="#p307" stroke="#d6d6d6" stroke-width="2.3"/>
<g stroke="#6a6a6a" stroke-width="2.9"><path id="p308" d="M14.3 61.9h0M24.1 33.5h0M41.7 57.2h0M15.4 60.3h0M94.6 54.4h0M41.1 10.7h0M95.2 53h0M63.5 16.4h0M32.4 79.3h0M28.3 51.1h0M61.4 31.8h0M14.2 48.3h0M21.9 55.8h0M42.2 11.4h0M57.9 88.2h0M53.5 26.1h0M59 62.8h0M7.3 58h0M21.5 52.9h0M39.3 46.3h0M61.6 56.3h0M57.7 41.1h0M74.7 15.2h0M7.1 60.5h0M64.1 16.6h0M36.9 14.7h0M56.3 20.1h0M54.7 55.8h0M57.6 96.6h0M45.4 6.1h0M59.2 83.7h0M29.2 85.1h0M40.3 60.8h0M34 47.6h0M55 73h0M41.7 57.2h0M36 47.8h0M56.3 20.6h0M72.1 14.5h0M25.2 56.1h0M57 80.4h0M64.1 66.5h0M81 46h0M31.1 80.3h0M34.8 52.3h0M29.8 87.5h0M56.6 23h0M83.2 45.5h0M58.1 41.7h0M36.3 50.7h0M59.7 34.2h0M13.6 58.2h0M61.1 70.3h0M72.7 31.5h0M95.5 35h0M63.3 67.9h0M61.1 32.4h0M43.5 63.7h0M59.1 27.3h0M30.4 24.9h0M73.3 32.8h0M39.7 11.3h0M57.8 80.5h0M32.7 86.6h0M67.4 14.7h0M55.7 51.6h0M31.4 13.5h0M55.4 58.3h0M59.2 54.6h0M44.9 2.9h0M13.2 46.4h0M21 56.9h0M57.3 81.2h0M55.2 97.2h0M11.7 58.7h0M55.3 55.2h0M58.3 57.4h0M54.8 96.2h0M32.4 51.7h0M21.6 55.3h0M55.4 100.8h0M56.6 25.8h0M29.6 32h0M31.3 84.6h0M57.8 92.3h0M15.4 58.3h0M34.2 14h0M40.7 6.9h0M17.7 49h0M60.8 58h0M60.8 56.8h0M30.4 50.1h0M85.2 42.8h0M72.3 32.1h0M63.4 64.9h0M58.4 65.6h0M58.4 60.5h0M42.7 62.9h0M97.5 46.7h0M49.8 97.7h0M43 4.2h0M52.5 17.8h0M40.5 9.1h0M30.9 33.1h0M82.4 43.6h0M32.1 80.5h0M49.7 97.9h0M82.9 45.9h0M40.6 11.4h0M54.5 99.2h0M38.7 44.7h0M31.8 47.9h0M20.6 36.8h0M13.8 64h0M59.2 39.3h0M14.8 57.2h0"/></g>
<g stroke="#34403e" stroke-width="2.84">
<path id="p309" d="M59.9 20h0M39 5.5h0"/>
<path id="p310" d="M97.5 37.1h0M58 92.1h0M17.1 47.4h0M15.3 64.8h0"/>
<path id="p311" d="M56.4 80.5h0M59.9 26.9h0M20.8 64h0M39.4 4.9h0"/>
<path id="p312" d="M58.2 36.7h0M38.4 5.9h0M71.7 18h0"/>
<path id="p313" d="M97.4 44.9h0M98.7 45.6h0M78.6 43.7h0"/>
<path id="p314" d="M61.5 71.8h0M23.3 38.3h0M58 90.7h0"/>
<path id="p315" d="M65.5 66.5h0"/>
</g>
<use href="#p308" stroke="#d6d6d6" stroke-width="2.3"/>
<use href="#p309" stroke="#2a788e" stroke-width="2.3"/>
<use href="#p310" stroke="#414487" stroke-width="2.3"/>
<use href="#p311" stroke="#355f8d" stroke-width="2.3"/>
<use href="#p312" stroke="#440154" stroke-width="2.3"/>
<use href="#p313" stroke="#22a884" stroke-width="2.3"/>
<use href="#p314" stroke="#482475" stroke-width="2.3"/>
<use href="#p315" stroke="#44bf70" stroke-width="2.3"/>
</g>
<rect x="362.7" y="413.5" width="104.6" height="105.1" fill="none" stroke="#111" stroke-width="1.15"/>
<text x="382.5" y="410.9" font-size="12.6" fill="#1a1a1a" font-style="italic" stroke="#1a1a1a" stroke-width="0.22" textLength="59.2" lengthAdjust="spacingAndGlyphs">TMPRSS13</text>
<rect x="438.2" y="477.2" width="3.4" height="40.2" fill="url(#gv)"/>
<text x="442" y="483.3" font-size="9.5" fill="#111">-1</text>
<text x="442" y="516.7" font-size="9.5" fill="#111">-5</text>
<g fill="none" stroke-linecap="round" transform="translate(362.7 681.4)">
<g stroke="#6a6a6a" stroke-width="2.9"><path id="p316" d="M40.3 65.5h0M52.3 52.5h0M25.5 20.3h0M76.6 44.8h0M14.3 70.5h0M43.8 56.4h0M53 60.6h0M57.2 77.6h0M71.6 59.3h0M46.8 16.9h0M22.8 70.2h0M13.3 58.6h0M19.4 71.2h0M40 92.9h0M50 49.4h0M28.3 4.4h0M31.2 87h0M39.6 75.2h0M52 62.2h0M21 17.2h0M84.8 52h0M47 4h0M44.6 41.1h0M13.9 55.5h0M19.7 14.1h0M78.7 55.6h0M45 30.5h0M12.7 73.5h0M53.4 14.8h0M46.1 7.7h0M39 40.3h0M30.5 10.1h0M19 69.9h0M35.7 83.1h0M32.2 69.8h0M12.3 57.6h0M36.9 19.8h0M34.8 98.2h0M42.8 22.9h0M50 54.4h0M52 72.5h0M38.8 38.8h0M59.7 71.1h0M66.2 74.5h0M53.5 58h0M50.1 55.1h0M26.6 71.7h0M31 99.5h0M27.7 93.8h0M91.8 68.2h0M42.3 63.6h0M39.4 28h0M49 11.2h0M31.5 18.8h0M30.6 10h0M19.3 65.2h0M34.9 33.1h0M23.3 66.6h0M68.6 54.3h0M45.7 69.6h0M44.1 56.5h0M32 24h0M44.1 38.7h0M33.3 28.4h0M46.2 18.4h0M33 45.5h0M40.2 25.5h0M62 69.7h0M26.3 26.4h0M35.8 101.6h0M45.9 5.6h0M32.3 29.8h0M55.6 19.9h0M52.2 64.8h0M76.3 62.9h0M36 35.7h0M19.7 84.6h0M28.1 78.5h0M46.7 18.9h0M23.4 77.6h0M33.1 9h0M46.9 48.2h0M37 43.5h0M77.1 44h0M24.7 62.7h0M39 10.4h0M35.8 90.3h0M53 27.9h0M93.4 71.6h0M47.1 38.5h0M81.4 54.1h0M47.5 20.1h0M70.1 46.9h0M42.1 86.8h0M48.6 82.1h0M37 76.3h0M33.7 44.9h0M39.6 53.7h0M11 56.6h0M38.3 86.9h0M32.6 6.2h0M47.2 33.3h0M45.6 22.1h0M6.2 63.5h0M44.4 9.3h0M33 86.7h0M53 47.5h0M36.2 44.7h0M22.7 8.6h0M44.7 71.7h0M37.5 88h0M39.9 12.5h0M75 45.3h0M72.8 53.2h0M31 103.1h0M51.5 73.1h0M22.3 81.1h0M23 18.4h0M28.1 69.4h0M12.2 73.4h0M50.1 73.2h0M54 22h0M18.9 62.9h0M53.8 22.9h0M22.8 95.4h0M25.2 11.3h0M10.3 66.7h0M27 13.1h0M51.9 26.1h0M11.4 56.7h0M48.9 71.6h0M41.8 63.8h0M40.2 60.2h0M49.7 51.8h0M42.9 33.8h0M21 12.8h0M31.1 20.8h0M17.4 66.4h0M40.9 28h0M12.9 80h0M30.5 23.2h0M13.7 74.5h0M80.2 47h0M40.9 84.7h0M42.8 4.7h0M18.5 11.2h0M37.2 11.1h0M47.1 46.4h0M24.6 23.6h0M36.1 81.7h0M24 87.2h0M18.1 74h0M29.5 69.7h0M16.6 83.3h0M47 78.5h0M31.7 68.4h0M38.9 33.3h0M44.4 21h0M50.7 10.9h0M25.3 97h0M30 27.2h0M14.1 60h0M24.2 21.5h0M37.2 30.2h0M10.2 65.1h0M8.3 66.2h0M29.9 35h0M47 47.8h0M49.2 75h0M45.2 58.9h0M51.6 8h0M81 51.5h0M31.2 78.2h0M38.6 70h0M34.1 5.5h0M23 64.9h0M35.6 2.6h0M25.7 71.2h0M39.2 48.1h0M35.6 80.8h0M34.5 33.6h0M36.3 90.6h0M30.6 13.3h0M29.2 21.7h0M53.5 25.5h0M30.9 85h0M18.5 81.2h0M11.2 60.3h0M56.8 75h0M41.8 50.6h0M25.5 10.8h0M43.5 71h0M31.6 22.4h0M13.8 79.6h0M41 41.4h0M31.5 12.4h0M27.2 15.2h0M73.4 45.1h0M50.5 22.4h0M50.3 53.4h0M45.8 43.1h0M32.7 101.8h0M32.7 87.1h0M75.1 50.7h0M47.4 54.8h0M38.7 73h0M38.2 12.7h0M41.4 21.4h0M11.3 60h0M23.9 77.8h0M88.6 56.1h0M10.6 57.8h0M38.7 6.5h0M100.8 80.5h0M71.5 53.7h0M43.1 77.8h0M28.5 81.6h0M50.1 70.4h0M44.7 10.9h0M46 37.3h0M39 31.5h0M32.3 83.2h0M34.9 93.2h0M24.5 23.1h0M31.7 71.9h0M45.4 8.5h0M40.4 8.2h0M42.8 9.9h0M50.3 20h0M48.7 56.9h0M31.7 29.2h0M34.2 7.4h0M89 48.6h0M37.8 93.9h0M12.8 82.6h0M30.4 68.1h0M24.6 10.1h0M80.4 53.8h0M13 63.7h0M83.7 53h0M87.1 54h0M33.7 44.8h0M30 24.6h0M72.7 65.8h0M19.2 86.6h0M44.2 38.9h0M37.2 63.2h0M14.6 62.1h0M8.4 67.7h0M16.6 66.1h0M72.6 61.8h0M49.4 41.7h0M44.8 76h0M22.2 91.1h0M36.9 6.4h0M38.4 38h0M31.6 85.7h0M25.3 21.9h0M29.2 35.6h0M42.8 73.9h0M59.7 72.6h0M85.6 46.7h0M47.3 76.9h0M35.9 83.7h0M37 92.9h0M53.4 16h0M29.9 6h0M17.6 75.6h0M27.8 32h0"/></g>
<use href="#p316" stroke="#d6d6d6" stroke-width="2.3"/>
<g stroke="#6a6a6a" stroke-width="2.9"><path id="p317" d="M46.7 67.9h0M29.4 15.2h0M88.2 64.4h0M68 58.5h0M29.7 10.9h0M86.3 61.4h0M12.5 74.3h0M18.1 82.7h0M26.4 68.7h0M78 53.6h0M37.7 97.5h0M42.9 87h0M45.2 79.1h0M16.6 67.8h0M31.2 91.1h0M45.7 34.6h0M98.9 79.4h0M33.3 44.2h0M74 59h0M19.1 69.2h0M36.7 14.6h0M28.8 6.4h0M43.7 74h0M35.5 3.5h0M42.2 44.1h0M31.7 31h0M48.4 7.4h0M48 26.4h0M35.5 93.5h0M34.5 15.2h0M53.4 79.2h0M45.4 53.5h0M27.1 90.1h0M11.2 62.4h0M9.2 64.1h0M32.1 91.4h0M14 53.5h0M31.7 98.6h0M74.3 48.3h0M46.5 30.3h0M54.8 69.5h0M28.3 21.4h0M10.7 66h0M6.8 54.7h0M46.3 47.2h0M58.7 74.3h0M51.9 12.3h0M15.5 64.1h0M25.4 85.8h0M9.4 54.9h0M22.8 77.8h0M26.3 65.8h0M34 92.4h0M50.6 10.4h0M24.2 8.8h0M41.7 92.3h0M39.6 84h0M46.5 8.5h0M50.6 8.1h0M53.1 28.4h0M7.4 60.1h0M74.5 46.6h0M72.5 48.5h0M56.3 71h0M28.9 10.8h0M49.6 33.1h0M48.8 15.4h0M43.5 63.3h0M24.6 74.6h0M47.1 37.5h0M39.1 80h0M21.8 62h0M53.8 77.9h0M36.5 62h0M34.9 6.1h0M42.1 19.7h0M46 39.6h0M54.5 72.2h0M46.5 38.6h0M34.5 92.5h0M37.7 88.9h0M49.7 5.5h0M40.9 53.8h0M20.1 72.2h0M33.3 82.1h0M27.3 72.6h0M8.9 56.8h0M33.3 85.3h0M23.6 62.6h0M32.3 70.5h0M91.3 71h0M37.8 80.1h0M19.2 18.4h0M28.8 99.7h0M27.4 8.4h0M37.7 16.3h0M29.9 35.3h0M12.1 60.9h0M28 95.2h0M52.7 60.1h0M80.6 51.3h0M43.9 44h0M42.9 58.8h0M78.7 59.5h0M44.7 76.3h0M19 90.5h0M94.3 70h0M51.1 62.1h0M73.4 58.6h0M38.8 3.4h0M55.5 9.7h0M50.1 61.6h0M44.4 76.5h0M8.7 68.4h0M54 75.9h0M40 72.9h0M17 67.3h0M39.1 9.3h0M49.9 48.2h0M49.7 72.8h0M46.1 13.6h0M42.5 4.7h0M30.6 13.5h0M51.3 81.3h0M54.9 26.2h0M54.8 18.9h0M47.4 6.8h0M70.9 49.2h0M42.9 64.9h0M47.5 5.7h0M47.4 7.1h0M76.8 57.9h0M37.9 51.3h0M29 80.3h0M38.3 81.8h0M29.6 29.8h0M50.2 9.6h0M53.7 66h0M22 68.4h0M26.6 28.8h0M38.3 19.3h0M16 81h0M20.4 79.3h0M18.2 69.2h0M24.4 88.1h0M19.6 68.2h0M43.8 16.7h0M75 47.4h0M38.1 78.8h0M34 38.4h0M84.3 46.4h0M22.5 75.6h0M17 67.7h0M40.4 4.4h0M32.7 13.4h0M15.8 88.8h0M17.8 77.4h0M15.5 83.3h0M41.5 46.9h0M43.7 20.3h0M45.1 33h0M98 75.3h0M41.4 19.3h0M25.9 67.4h0M35.9 92.5h0M7.2 59.3h0M43.2 12.4h0M29.7 65.7h0M23.6 14h0M36.8 0.3h0M37 76.3h0M22.4 63.2h0M19.8 14.3h0M27 18.8h0M35.1 98.7h0M52.8 53h0M6.8 67.9h0M35 31.4h0M43.6 54.3h0M74.1 65.1h0M36.8 83.6h0M6.4 57.5h0M31.6 98.1h0M29.7 8.8h0M87.3 59h0M96 72.5h0M44.4 14.5h0M24.4 92.8h0M49.4 76.4h0M87.2 65h0M42.1 73.7h0M30.1 29.1h0M4.6 56.6h0M11.9 56.1h0M24.1 9.7h0M19.5 83.4h0M25.5 93.9h0M64 73.4h0M36.8 81.5h0M13.7 60.7h0M26.8 24.6h0M80 58.7h0M25 22h0M42.6 66.8h0M23.4 18.1h0M76.4 62.8h0M77.2 64.4h0M27.8 11.5h0M44.8 81.6h0M43.4 73h0M30.6 13.9h0M83.8 53h0M17.2 73.2h0M40.2 70.5h0M53.9 67h0M39 39.3h0M34.7 101.1h0M27.1 26.1h0M36.8 93.1h0M43.9 62.3h0M43.2 58.8h0M45.7 17.8h0M40.3 48.7h0M22.9 21h0M43.3 52.6h0M14.9 61.4h0M25.3 16.7h0M87.4 55.6h0M91.1 69.4h0M29.8 65.4h0M40.5 71.7h0M47.8 57.2h0M48.9 81.8h0M24.3 67.5h0M31.9 14.6h0M29.4 16.3h0M35.8 27h0M32.3 95.3h0M44.9 10.2h0M17.1 66.6h0M81.6 54.6h0M82.3 49.8h0M26.7 17.5h0M60.8 72.2h0M59.9 71.6h0M42.5 25.7h0M47.5 47h0M52.1 69.2h0M35.7 21.8h0M35.2 11.6h0M18.9 85h0M48.9 58.3h0M26.5 29.3h0M31.9 30.3h0M45.5 34.8h0M56.6 71.2h0M22.3 95h0M43.7 27.1h0M36.7 46.5h0M54.7 80.1h0M76.2 47.9h0M36.6 39.8h0M45.4 77.9h0M76.2 49h0M40.2 73.2h0M81.4 58.7h0M20.6 96.5h0M71.2 51.9h0M43 37.6h0"/></g>
<use href="#p317" stroke="#d6d6d6" stroke-width="2.3"/>
<g stroke="#6a6a6a" stroke-width="2.9"><path id="p318" d="M53.6 15.1h0M91.1 68.3h0M81.3 51.8h0M52.9 75.9h0M86.5 57.6h0M25.8 4.2h0M39.6 17.4h0M46.2 4h0M35.7 48.1h0M33.4 80.5h0M27 85h0M22.6 76.9h0M36.4 87.1h0M48.3 24.7h0M39.1 82.3h0M40.8 88.6h0M18.8 71.9h0M75.4 64.2h0M31 16.1h0M30.6 11.3h0M78.8 56.2h0M55.4 17.6h0M96.4 77.9h0M31.3 90.4h0M10 69.6h0M52 65.4h0M15 57.3h0M48.7 53.5h0M28.3 73.4h0M22.2 94.7h0M14.7 71.9h0M49.6 18.1h0M84 51.5h0M22.7 65.9h0M25.2 87.8h0M39.6 48.2h0M42.4 74.3h0M46.5 40.4h0M17.3 58.4h0M76.7 63.5h0M24.5 63.4h0M21.6 84.8h0M50.3 24h0M6 62.5h0M10.2 64.9h0M5.9 59.8h0M44.8 29h0M25.7 14.7h0M51.1 45.4h0M35.2 37h0M52 18.9h0M18.4 64.6h0M33.9 87.2h0M13.5 72.9h0M52 8.8h0M11.1 75h0M28.5 96.6h0M87.4 59.8h0M48.3 5.5h0M88.4 57.4h0M33.1 4.7h0M43.9 82.4h0M20.8 74.8h0M35.5 102.1h0M43.6 14.2h0M20.9 93.9h0M50.6 29.6h0M49 35.5h0M48.1 41.3h0M41.6 6h0M12 64.2h0M41.3 18.8h0M27.8 83.9h0M32.9 20.8h0M49.4 40.4h0M41 35.8h0M53.6 21h0M22.9 6.8h0M79 53h0M28.2 15.3h0M35 99.7h0M40.2 72.4h0M12.3 74.5h0M39.1 42.2h0M80.4 58.3h0M32.8 85.9h0M90 51h0M52.2 77.5h0M48.3 53.2h0M19.3 60.9h0M13.3 73.6h0M19.5 14.4h0M68.7 48.6h0M86.6 52.1h0M28.2 17.4h0M40 30.4h0M49.8 25.2h0M24.4 7.8h0M49.8 29.6h0M16.4 76.9h0M9.6 57.1h0M43 86.8h0M22.4 13.4h0M13 66.8h0M38 82.4h0M22.5 21.7h0M17 57.1h0M28.1 2.7h0M33.1 20.8h0M35.4 96.8h0M32.1 91.7h0M81.8 48.4h0M46.3 75.2h0M43.4 84.4h0M29.9 76.2h0M45.5 56.7h0M13.8 81.1h0M35.8 92.4h0M36.1 38.8h0M47.5 40.2h0M39.7 70.1h0M38.6 4.7h0M99.4 80.5h0M46 32.6h0M56.2 78.3h0M35.4 34.7h0M43.4 14.8h0M40.7 86.5h0M35.6 10.5h0M31.9 86.6h0M35.8 30.2h0M50.4 54.7h0M47.5 73.6h0M9.2 62.4h0M28.6 21h0M7.2 57.8h0M89.1 48.4h0M12.8 79.9h0M42.5 89.7h0M35.8 69.3h0M21.7 93.2h0M17.5 74.3h0M34.6 5.1h0M36.9 27.5h0M34.7 90.7h0M26.8 26.1h0M98.3 77.9h0M78.7 58.7h0M98 74.7h0M26.5 16.5h0M26.7 77.3h0M82.1 52.4h0M44.6 72.6h0M48.5 39.5h0M20.6 16h0M50 74.4h0M6.5 55.4h0M48.1 35.4h0M23 64.1h0M54.7 70.8h0M87.2 57.7h0M24.4 12.6h0M33.6 76.2h0M10.8 77.2h0M41.7 73.4h0M43.6 7.2h0M101.3 77.4h0M43.1 57.4h0M30.8 33.3h0M8 66.9h0M47 80.4h0M23.3 69.3h0M48.3 49.9h0M22.8 20.3h0M47.5 21.5h0M46.6 51.7h0M31.9 25.5h0M46.1 10.5h0M50.1 70.6h0M25.8 96.2h0M50.5 71.2h0M57.6 75.1h0M36.5 51.4h0M44.1 60.9h0M31 24.6h0M26.7 17.1h0M43.2 2.4h0M28.1 28.2h0M24 94.1h0M27.5 13.5h0M39.3 47.9h0M27.3 66.9h0M39.9 48.8h0M50 28.7h0M66.8 53.7h0M71.3 60h0M44.9 40.9h0M28.2 68.1h0M47.7 81.5h0M49.6 61.5h0M24.1 75.1h0M86.8 59.9h0M16.8 79.6h0M51.5 69.1h0M38.8 7.2h0M28.2 94h0M43.6 64.1h0M84.4 61.6h0M50 66.5h0M39.7 36.4h0M46.6 6h0M18.7 64.5h0M50.6 26.9h0M84.2 46.7h0M7.6 65.2h0M11.7 64.6h0M18 64.4h0M32.6 93.7h0M29.9 34.1h0M45.1 37.3h0M52.1 65.9h0M47.9 30.7h0M27.7 29.4h0M52.5 24.1h0M62.6 71.9h0M34.4 17.3h0M15.7 72.1h0M54.1 49.5h0M19.6 69.7h0M32.2 94.7h0M52.9 13.3h0M14.9 54.6h0M23.5 16.9h0M93.7 68.9h0M28.6 16.2h0M87.8 64.8h0M55.6 74.3h0M16.9 55.2h0M71.8 65.4h0M26 79.9h0M59.4 78.6h0M26.4 81.5h0M42.4 7.9h0M70.2 54.4h0M43.9 68.7h0M101.2 79.7h0M34.3 18.8h0M33.5 89.9h0M55.1 19h0M78.9 49h0M24.5 83.2h0M23.6 64.7h0M46.6 25.7h0M44 66.4h0M24.6 19h0M64.1 72.5h0M57.5 19.7h0M24.4 67h0M40.9 27.7h0M49.7 31.2h0M19.7 70.4h0M47.6 42.5h0M54.8 64h0M40.8 66.6h0M85.6 49.9h0M49.3 52h0M26.2 71h0M73.7 62.7h0M30.5 72.6h0"/></g>
<use href="#p318" stroke="#d6d6d6" stroke-width="2.3"/>
<g stroke="#6a6a6a" stroke-width="2.9"><path id="p319" d="M49.2 51.9h0M10.5 55.4h0M20.5 8.8h0M51 15.3h0M80.6 49.8h0M42.3 81.9h0M24.8 79.1h0M24.7 13.3h0M45.8 6.6h0M51.9 78.7h0M44.8 8.7h0M29.5 99.8h0M28 70.8h0M64.9 69.9h0M34.7 15.1h0M44.9 76.9h0M68.4 54h0M29.1 28.7h0M23.7 73.8h0M74.9 52.1h0M37 25.5h0M45 47.3h0M31.1 102.6h0M24.6 5.6h0M51.6 54.2h0M42 37.5h0M45.3 21.9h0M99.3 79.7h0M23.5 16.1h0M30.1 69.6h0M23.5 26.2h0M15.4 57.7h0M42.8 17.7h0M18.9 67h0M38.1 35.7h0M30.1 98.7h0M27.4 10h0M42 23.5h0M20.6 17.5h0M74 47.4h0M36.4 51.9h0M68.8 54.5h0M13.1 59.6h0M28.2 70.7h0M24.2 69.1h0M90 65h0M35.2 91h0M88.8 56.9h0M39.1 5.1h0M17.2 81.1h0M25.5 69.1h0M30.7 87.8h0M49.7 18.7h0M25.8 11.6h0M40.2 39.7h0M40.9 46.6h0M26.6 91.8h0M35.9 47.6h0M26.1 86.5h0M42.9 53.4h0M44 11.1h0M75.2 50.2h0M49.9 50.3h0M9.3 54.2h0M79.2 59.1h0M37.6 95.1h0M32.9 35.8h0M42.5 38h0M16.1 87.9h0M24.3 93.7h0M15.3 86.4h0M47.4 80.1h0M24.9 62.6h0M26.2 70.1h0M23.3 94.1h0M94.2 73h0M39.8 30h0M32.5 73h0M31.4 30.6h0M51.6 77.5h0M89.5 67.5h0M14.5 62.2h0M36.4 79.4h0M31.6 86.9h0M49.9 69.6h0M30.8 93.9h0M28.3 13.7h0M58.7 73.6h0M61.4 76.3h0M78 59.9h0M54.4 78.7h0M34.2 80h0M10.5 69.6h0M35.5 82.4h0M38.2 2.4h0M86.9 52.8h0M38.3 81.1h0M29.4 89.1h0M13.8 77.9h0M32.8 87.3h0M28.2 34.8h0M59.6 78.4h0M83.8 59.8h0M56.5 76.2h0M49.8 58.2h0M17 57.3h0M29.2 90.8h0M37.7 2.1h0M32.4 35.8h0M37.6 70.1h0M23.8 78.6h0M49.9 80.8h0M37.5 79.8h0M28.9 6.7h0M24.9 91.4h0M51.6 80.8h0M35.8 43.5h0M48.2 78.1h0M70.5 60.5h0M52 58.3h0M43.3 21.1h0M36.2 19.5h0M28 93.7h0M65.4 71.1h0M39 82.1h0M33.5 74.3h0M47.2 82h0M53.5 23h0M33.9 73.7h0M30 71.5h0M37.3 37.1h0M77 44.3h0M43 60.8h0M15.8 66.9h0M7.9 64.5h0M58.3 75.3h0M23.8 27.1h0M32 25.7h0M43.8 50.6h0M15.6 61.1h0M12.5 60.6h0M25.6 21.1h0M38.7 6.9h0M54.5 7.6h0M79.8 54.1h0M34.4 36.5h0M31.1 77.2h0M18.9 61.4h0M45.1 20.2h0M39.7 37.2h0M15.9 69.8h0M25 67.9h0M30.6 15.9h0M25.4 22.3h0M36.1 31.2h0M18.8 57.4h0M26.7 6.5h0M32.9 94.1h0M80.9 51.5h0M52.2 79.9h0M48.2 56.9h0M31.5 69.7h0M89.7 54.2h0M92.3 70.6h0M49.7 76.2h0M27.5 96.8h0M67.4 72.2h0M43.3 66.5h0M21.7 67.6h0M36.8 90.1h0M8.4 55.3h0M24.4 82.4h0M46.9 59.8h0M30.7 70.5h0M26.7 33h0M44 42.9h0M7.8 64.6h0M35.8 77.7h0M101.1 77.3h0M22.7 85.9h0M80.9 55.3h0M18.8 82.3h0M38.9 97.2h0M88.4 53.6h0M47.5 74.2h0M20.3 18.5h0M44.6 21h0M30.2 13.1h0M69.4 56.4h0M21.9 9.2h0M40 8.5h0M72.8 59.9h0M40.3 70.5h0M50.2 45.3h0M28.1 66.1h0M40.9 33.4h0M38.2 66.5h0M70.9 63.3h0M19.2 11.7h0M69.3 57.7h0M34.8 37.1h0M51.8 22.5h0M27.7 10.3h0M85.8 58.4h0M32 71.9h0M54.5 79.6h0M27.1 97.2h0M37.5 33.1h0M48.3 28.8h0M13.1 56.9h0M46.8 60.5h0M17 82.1h0M30.1 19.4h0M40.9 85h0M50.6 61.2h0M45.4 33.5h0M14.6 75.2h0M83.5 46.7h0M32.9 22.7h0M9.3 57.4h0M34.6 31.7h0M34.4 21.6h0M26.3 72.4h0M38.9 49.5h0M31.9 90.2h0M43.5 8.4h0M20 21.5h0M90.5 54.8h0M36.6 23.4h0M22.2 78.8h0M6.8 64.5h0M84.1 53.4h0M16.5 74.5h0M26.9 30.9h0M15 88.5h0M42.9 90.3h0M35.5 13.5h0M75.8 56.8h0M20.6 65.8h0M31.1 27.7h0M20.4 85.1h0M46 59.1h0M65.8 73.5h0M22.3 86h0M35.3 14.9h0M14.4 69.1h0M11.4 64.7h0M34.6 30.2h0M51.9 22.5h0M56.4 14.9h0M26.4 26.7h0M28.5 13.8h0M39.9 69.5h0M81.9 57.8h0M15.2 56.2h0M9 64.9h0M46.1 65.5h0M37 16.2h0M22.3 89.6h0M41.1 22.6h0M48 6.7h0M41.1 10.8h0M43.2 38.4h0M33.6 92.6h0M58.2 75.7h0M48.4 18.6h0M29.3 22.3h0M55.4 27.7h0M36.1 25.6h0"/></g>
<use href="#p319" stroke="#d6d6d6" stroke-width="2.3"/>
<g stroke="#6a6a6a" stroke-width="2.9"><path id="p320" d="M37.7 98.2h0M36.2 32.9h0M42 26.2h0M34.1 85.6h0M33.7 76.2h0M76 57.6h0M14.2 78.4h0M41.2 71.2h0M38.3 90.8h0M76.9 45.5h0M20.2 22.1h0M88.4 65.5h0M54.2 80.5h0M40.7 98.2h0M31.1 34.1h0M29.7 32h0M40.6 41.8h0M49.3 40.8h0M13.2 64h0M36.5 77.8h0M47.4 11.7h0M28.5 89h0M29.8 84.4h0M49.2 79.3h0M54.6 75.4h0M40.6 99.4h0M49.2 71.9h0M30.5 98.4h0M31.6 30.1h0M52 72.1h0M73 56.1h0M63.6 66.6h0M40.5 80.7h0M25.2 9.6h0M45.5 29.9h0M34.9 13.4h0M42.5 16.2h0M38.6 92.7h0M22.1 66.9h0M88.6 53h0M44.1 19.3h0M37.5 14.8h0M56.6 67.2h0M36.1 8.5h0M51.1 60.4h0M36.2 91.8h0M44 5h0M42.3 16.2h0M28.6 69.5h0M46.9 33.1h0M70.8 58.1h0M14 59.6h0M30.4 11.1h0M98.6 76.2h0M66.1 72.1h0M55.3 65.5h0M79.3 47.5h0M44.6 33.9h0M24.3 89h0M19.8 78.4h0M51.9 25.1h0M88.9 67.7h0M32.3 25.2h0M9.5 64.7h0M87.7 53.2h0M51 77.8h0M37.7 8.4h0M46.2 61.9h0M42.8 46.1h0M33.3 43.8h0M16.3 80.4h0M77.9 45.9h0M40.4 16.4h0M75.6 44.9h0M36.6 51.8h0M31.3 5.6h0M43.6 74.3h0M29.5 82.1h0M29.5 91.2h0M24.6 71h0M27.2 92.3h0M40.5 42.4h0M30.1 83h0M26.3 33.1h0M54 17.4h0M19 10h0M42.1 57.2h0M32.7 76.5h0M45.1 41h0M84.6 53.5h0M52.2 15.7h0M98.4 76.3h0M76.2 46.5h0M35.1 20.1h0M29.4 13.8h0M39.3 1.2h0M31.7 36.6h0M47.8 59.2h0M27.9 31.7h0M41.2 82.5h0M32.5 38.6h0M21.7 76.1h0M30.3 13.4h0M40.4 39.1h0M46.7 46.9h0M65.9 72.9h0M9.7 72.8h0M38.8 12.1h0M37.6 45.6h0M46.7 23.2h0M23.7 70.3h0M37.2 80h0M32.6 46h0M14.4 85h0M34.5 88.9h0M31 19.7h0M57.4 73.3h0M49.8 9h0M29.8 6.3h0M23.9 86.2h0M38.4 0.2h0M35.4 11.8h0M22.1 9.7h0M89.9 51.2h0M77 44.8h0M31.9 93.9h0M20.6 8h0M48.8 51.6h0M40.7 85.1h0M33.3 80.7h0M21.6 91.7h0M24.5 28.1h0M37 11.4h0M52 72.2h0M23.9 9.5h0M25.1 28.5h0M33.6 18.2h0M37.6 31.6h0M48.8 30.5h0M6.6 67.2h0M79.4 49.1h0M28 67.5h0M73.5 62.5h0M35.6 30.2h0M14.1 73.7h0M26.3 64.7h0M23.7 25.5h0M38.5 86h0M41.8 89.5h0M30.1 17.4h0M34.7 3.7h0M22 84h0M44.2 2.9h0M30.2 71h0M21.7 70.6h0M36 14.5h0M48.8 71.8h0M10 65.9h0M72.7 50.7h0M43.8 40.3h0M9 62h0M50.3 12h0M23.9 72.3h0M88 52.3h0M49.3 52.9h0M25.6 86.5h0M85.3 51.1h0M51.7 80.9h0M82.4 51.5h0M25.4 20h0M34.8 43h0M31.7 79.3h0M34.9 72.2h0M26.3 19.2h0M55.6 18.4h0M18.1 73.6h0M50.4 26.4h0M30.9 38.3h0M38.1 88.1h0M30.8 88h0M47.7 9.2h0M85.2 53.3h0M34.8 89.5h0M18.2 70.3h0M41.1 19.9h0M30.7 93.6h0M50.9 43.3h0M47.1 31.7h0M19.9 60.7h0M15.4 64.4h0M65.1 69.6h0M30.1 8.5h0M45.5 68.7h0M27 84.1h0M52.1 9.4h0M89.1 53.5h0M48.7 37.5h0M29 92.2h0M52.6 53.8h0M37.5 71.8h0M34 102h0M14.6 57h0M6.4 61h0M40.8 4h0M41.2 90.2h0M43 17.4h0M45.2 74.1h0M38.3 18h0M35.8 7.7h0M7.4 67.5h0M21.5 16.5h0M29.3 31.7h0M36.9 36.9h0M16.1 66.3h0M50 24.7h0M90.1 65.3h0M38.4 27.8h0M35.1 29h0M54.4 21.1h0M32.3 31h0M72.2 54.6h0M24.3 25.7h0M41.5 51.1h0M50.1 79h0M6.7 61.5h0M37.2 93h0M47.8 52.9h0M41.7 74.8h0M27.4 27.1h0M51.4 74.4h0M16.3 58.1h0M27.1 83.5h0M47.8 27.4h0M27.9 23h0M27.7 10.1h0M28.1 90.3h0M29.4 33.3h0M48.8 36h0M35.4 4.1h0M52.6 28.3h0M19.4 69.2h0M26 74.2h0M33.5 32.2h0M49.8 22.4h0M46.3 74.2h0M50.3 74.2h0M75.4 59.5h0M36.6 63.1h0M42.2 88.3h0M55.8 20.4h0M11.6 58.2h0M97 73h0M20.5 56.3h0M24.3 11h0M38.4 95.4h0M83.7 52.3h0M44.8 58.4h0M30 73.2h0M22.5 62.6h0M22.9 94h0M98.1 75.8h0M31.1 20.5h0M32.5 18.9h0M26.9 31.5h0M46.9 35.7h0M27.8 63.6h0M87.8 60.4h0M8.3 58.9h0M34.3 28.2h0"/></g>
<use href="#p320" stroke="#d6d6d6" stroke-width="2.3"/>
<g stroke="#6a6a6a" stroke-width="2.9"><path id="p321" d="M51.5 29.5h0M22.1 17.7h0M40.6 9.1h0M32.5 69.5h0M19.7 12h0M73.6 53.4h0M43.2 6.7h0M50 11.5h0M43.5 49.6h0M47.3 40.1h0M45.8 19h0M10 68.3h0M17.9 75.1h0M14.3 81.8h0M39.3 27.7h0M26.2 27.3h0M32.8 9.4h0M7.9 66.2h0M53.8 28.3h0M17.6 83.4h0M41.4 94h0M48 64.7h0M86.7 52.6h0M81.5 58h0M44.8 60.8h0M29.7 95.3h0M33.4 17.6h0M34 6h0M43 95.8h0M44.3 53.1h0M29.4 93.7h0M50.8 50.9h0M31.9 13.4h0M32.6 21.4h0M44.4 14.2h0M38.3 5.7h0M58.1 72.9h0M29.4 81.5h0M97.5 78.8h0M38.5 41.7h0M47.3 31.1h0M36.3 14.5h0M34.8 79.8h0M21.9 8.6h0M36.7 37.3h0M20.4 75.8h0M81.9 53.1h0M31.2 31h0M32.6 73.6h0M26.7 73.6h0M46.8 22.6h0M36.5 80.3h0M42.8 39.4h0M50.4 32.4h0M4 59.1h0M19.7 78.1h0M39 59.2h0M27.3 8.6h0M18.8 79.4h0M23 81.7h0M10.1 54.9h0M54 76.2h0M24 12.6h0M22 92h0M59.6 77.9h0M37.6 36.1h0M51.5 28.6h0M24.2 64.1h0M50.2 12.3h0M46 39h0M39 86.9h0M84.9 50.1h0M24.1 21.4h0M81.5 48.2h0M80.8 60.5h0M21.5 91.5h0M24.7 65.5h0M36.8 15.6h0M26.8 98.3h0M22.6 14.8h0M29.9 32.5h0M20.8 85.3h0M37.5 25.1h0M21.2 87h0M46.9 31.3h0M31.1 76.2h0M40 45h0M8.8 56.3h0M97.4 73.3h0M85.9 52.4h0M78.2 56.8h0M41.9 87.2h0M38.2 75.9h0M6.2 57.9h0M8.4 58.3h0M52.2 59.6h0M23.9 14.1h0M44.8 20.4h0M72.7 60h0M50.4 78.2h0M33.9 80.5h0M35.7 49h0M14.2 63.1h0M91.4 68.5h0M44.4 10.3h0M16.9 71.6h0M37.9 1.5h0M22.4 61.6h0M36.2 84h0M57.4 13.6h0M40.6 73.3h0M34.1 37.8h0M22.7 84.8h0M54.2 9.4h0M50.4 50.6h0M17.1 59.4h0M36.4 97.5h0M41.8 28.7h0M32.6 8.1h0M38.9 82.8h0M37.2 43.5h0M26.2 3.6h0M46.2 78.1h0M14.7 79h0M33.9 24.8h0M17.3 63.5h0M49.3 83.5h0M28.4 31.2h0M48.6 24.2h0M18.5 74.2h0M20.6 15.1h0M37.5 2.8h0M31 81h0M33.6 36.3h0M37.4 99h0M80.5 52.1h0M30.1 96.9h0M23.8 78.1h0M33.9 23.5h0M26.6 27.5h0M29.8 35.8h0M3.3 56h0M74 65.4h0M82.5 60.6h0M22.7 67.1h0M54.7 79.6h0M24.6 93.3h0M71.8 63.9h0M33.2 77h0M53.6 60.2h0M41.1 70.3h0M49.1 19.1h0M7.4 61.5h0M40.3 16.1h0M8.5 59.9h0M50.2 26.2h0M18.3 75.8h0M40.9 27.5h0M46.4 46.2h0M29 33.5h0M12.1 76.5h0M48.1 78.2h0M83 57.6h0M38.6 87.3h0M65.5 71.2h0M62.8 72.7h0M91 71h0M33.2 70.9h0M38 40.5h0M11.8 73.7h0M50.4 66.9h0M29.2 29.3h0M29.6 87.9h0M79.2 45.5h0M16.5 58.4h0M31.4 18.6h0M46 4.9h0M52.7 24.8h0M39.8 78.2h0M39.2 30.2h0M23.8 84.3h0M52.9 78.6h0M55.9 58.5h0M24.4 23.7h0M6.3 57.8h0M25 71.8h0M44.3 27.8h0M36.8 6.7h0M29.7 32h0M10.6 78.4h0M34.6 97.6h0M24.3 6.3h0M50.4 58.5h0M44.2 77.6h0M84.1 59.2h0M28.2 8h0M39.4 24.4h0M28.8 34.1h0M43.9 60.4h0M87.6 47.3h0M35.9 95.6h0M11.8 56.3h0M18.7 86.3h0M61.5 71h0M73.5 53.4h0M19.3 73.3h0M27.6 93.2h0M42.9 14.2h0M43.9 40.4h0M40.2 56.9h0M69.9 61.4h0M16.7 69.9h0M33.2 23h0M11 54h0M22.9 26.6h0M25.3 73.1h0M40.7 91.9h0M8.3 55.9h0M43.3 5.8h0M24 86.8h0M49 8.8h0M39.3 8.9h0M29.2 70.8h0M38.9 53.3h0M49.4 36.4h0M35.7 47.3h0M36.6 84.1h0M47.9 57.8h0M52.6 66.9h0M93.3 70.4h0M52.6 13.4h0M38.7 64.1h0M47.6 58.2h0M25.5 18.2h0M71.7 57.5h0M11.8 66.6h0M56.8 78.8h0M21.9 77.7h0M18.1 58.2h0M40.4 93.5h0M55.6 74h0M23.9 81.8h0M19.7 67.6h0M11.6 69.7h0M41.5 43.4h0M29.1 7.7h0M21.8 8.5h0M43 2h0M35.8 16.2h0M51.7 18.6h0M47.2 58.1h0M44.4 11.6h0M26.7 67.5h0M14.2 76.6h0M50.1 23.7h0M38.1 64h0M20.1 87h0M70.8 52.2h0M33.5 31.6h0M35.9 34.3h0M79.9 57.8h0M66.3 73h0M89.9 54.4h0M22.3 78.7h0M44.4 48.5h0M24.3 84.7h0M29 16.4h0M38.4 62.8h0M33.2 77.1h0"/></g>
<use href="#p321" stroke="#d6d6d6" stroke-width="2.3"/>
<g stroke="#6a6a6a" stroke-width="2.9"><path id="p322" d="M36.5 9.4h0M49.5 41h0M47.9 31.3h0M38.9 66.8h0M25.8 83.9h0M45.6 33h0M19.9 13h0M36.7 21.4h0M30 93.2h0M33 91.3h0M50.4 18h0M23.5 65.1h0M51.7 78.9h0M31.2 24.4h0M15.3 55.1h0M23.1 70.3h0M30 81.5h0M42.2 38.2h0M36.2 34h0M34 31.2h0M40.6 47.9h0M31.4 31.7h0M25.7 87.1h0M88.8 49.6h0M43.2 76.8h0M31.3 27h0M30.6 99.4h0M47.5 21.2h0M29.8 33h0M48.3 30.3h0M45.5 79.2h0M95.6 70.8h0M36.5 22.2h0M17.2 81.4h0M29.4 82.3h0M8.5 66.7h0M45.9 75.2h0M45.8 58.7h0M37.7 26.6h0M36.9 99.6h0M9.3 67.9h0M29.1 74.4h0M38.8 6.1h0M41.8 46.8h0M87.5 51.6h0M42 63h0M47.1 51.3h0M36.1 29.5h0M39.7 65.5h0M50.1 25.7h0M45.6 56.8h0M26.6 66.8h0M36.1 8.4h0M24.4 69.2h0M38.2 100.5h0M42.7 39.7h0M18.8 70.8h0M30.6 81.5h0M19.2 56.9h0M31.8 95.5h0M41.1 66.7h0M42 21.9h0M24 81h0M46.6 6.6h0M11.6 64.8h0M20.8 87.7h0M24.2 92.3h0M15.2 79.5h0M46.9 36.5h0M24.3 85.5h0M38.7 1.8h0M45.1 11.1h0M78.2 64.9h0M15.7 66.5h0M48 80.6h0M21.2 68h0M72.8 57.9h0M39.4 93.6h0M48.8 22h0M26.3 80h0M20.3 91h0M14.6 85.7h0M48.5 79.6h0M36.9 81.1h0M87.2 49.4h0M75.3 51.9h0M80.2 55.6h0M44.4 23.3h0M49.4 62.2h0M37.1 14.6h0M54.5 79.6h0M32.4 95.5h0M34.7 80.9h0M34.5 71.2h0M32.9 13.5h0M43 55.6h0M48.3 70.7h0M30.4 30.3h0M42 28.1h0M40.3 94.5h0M51.8 15.9h0M37 50h0M29.4 8.5h0M75.2 44.8h0M19.4 55.7h0M35.2 24.8h0M29.9 96.2h0M20.8 22.9h0M46.4 57.5h0M54.5 67.2h0M29.8 78.9h0M58.4 72.7h0M78.4 61.2h0M19 6.7h0M16.4 80.5h0M40.2 39.2h0M38.1 89.5h0M40.5 82.9h0M87.8 48.1h0M24.1 70.6h0M86.6 46.8h0M49 76.2h0M49 67h0M15.8 64.2h0M30.9 66.9h0M52.4 71.1h0M23.5 93.2h0M40.6 40.1h0M38.3 15.3h0M36.7 48.1h0M52.2 18.1h0M52.3 71.8h0M44 64.4h0M45.8 55h0M17.8 14.3h0M27.5 33.4h0M31.8 5.8h0M37.9 86.2h0M25.5 23.5h0M79.9 54.8h0M37 94.2h0M45.3 37.3h0M80.4 61.1h0M18.4 67.7h0M37.8 41.9h0M35.4 17.2h0M74 47.5h0M82.2 47.7h0M39.3 100.4h0M20.1 93.8h0M22.8 13.8h0M84.7 47.6h0M12.8 69.3h0M30.6 16.6h0M20.3 60.3h0M45.1 58.4h0M81.3 53.2h0M51.8 61.7h0M47.2 65.9h0M33 92.1h0M19.3 80.1h0M100.1 77.9h0M18.3 66.7h0M54.9 8.2h0M63.6 75.8h0M56.6 17.3h0M55.2 81.9h0M30.9 31.2h0M20 77.2h0M39.1 14h0M6.8 55.3h0M36.9 11.8h0M46.7 46.9h0M29.3 12.3h0M53 10.7h0M39.5 18.1h0M52.9 55h0M32.3 14.3h0M18.4 60.8h0M47 64.8h0M43.2 19.2h0M32.4 76.7h0M17.3 90.2h0M21.5 82.3h0M16.7 87.3h0M43.1 47.5h0M18 58.7h0M43.7 14.3h0M21.3 67.8h0M37.5 99.5h0M81.5 54h0M19.6 87.4h0M18.3 67.2h0M39.1 11.3h0M61.3 74h0M17.4 68.5h0M22.2 66.4h0M24.7 76.6h0M26.2 71.1h0M100.8 78.1h0M46.3 20.1h0M24.8 75.8h0M13.6 77.6h0M48.2 46.5h0M10.1 61.8h0M70.3 49.2h0M52.2 33.3h0M41.9 73.8h0M101.3 76.7h0M5.9 56.2h0M30.8 26h0M25.1 91.4h0M75 55.8h0M47.4 53.4h0M64.9 70.3h0M24 79.1h0M46.4 27.2h0M37.5 66.5h0M33.2 97h0M95 71h0M40 92.2h0M41.7 17.6h0M24.2 8.9h0M44.5 64.4h0M36.5 9.1h0M77.8 43.9h0M84.4 53.1h0M80 56.2h0M26.6 97.9h0M51.5 56.7h0M54.6 73.7h0M17.6 74.5h0M44.5 45.9h0M37.1 90.4h0M39.2 45.7h0M37.7 92.3h0M25.9 86.8h0M34.7 10.4h0M38.8 49.4h0M22.5 81h0M21.8 70.3h0M80.1 58.1h0M85.5 54.2h0M41.7 87.5h0M55.8 17.5h0M42.9 30.2h0M23 80.7h0M51.7 51.9h0M15.1 79.1h0M18.9 92.2h0M32.7 23.9h0M17.3 86.4h0M23.7 69.2h0M53.9 74.4h0M29.1 86.7h0M20.9 21.4h0M48.5 10.2h0M50.6 12.2h0M30.2 77.5h0M34.3 38.3h0M40.1 25.1h0M21.6 66.9h0M72 61.8h0M31.9 87.6h0M7 56.2h0M91.8 72.2h0M44.2 70.8h0"/></g>
<g stroke="#34403e" stroke-width="2.84">
<path id="p323" d="M48.2 36.8h0"/>
<path id="p324" d="M25.5 13.5h0"/>
</g>
<use href="#p322" stroke="#d6d6d6" stroke-width="2.3"/>
<use href="#p323" stroke="#482475" stroke-width="2.3"/>
<use href="#p324" stroke="#355f8d" stroke-width="2.3"/>
<g stroke="#6a6a6a" stroke-width="2.9"><path id="p325" d="M69.8 47.2h0M48.3 13h0M45 35.2h0M20.3 85.8h0M31.7 87.1h0M54.9 20.5h0M28 88.1h0M26.3 18.9h0M67.8 55.2h0M31.4 98.2h0M51 60.9h0M37 4.4h0M52 15.7h0M41.9 18.2h0M14.4 65.4h0M88.1 67.5h0M32 15h0M63.2 74.3h0M34.2 13.2h0M47.7 55.4h0M84.6 58.1h0M91.4 69.7h0M49.3 66.3h0M46.4 31.7h0M75.1 42.8h0M24.3 25.3h0M47.8 26.8h0M34.4 15.5h0M13 84.1h0M25.4 5.6h0M24.4 5.3h0M27.5 30.2h0M73.2 66.3h0M43.6 17h0M44.6 47.9h0M33.6 32.5h0M84.7 60.2h0M7.6 57.6h0M53.4 55.6h0M21.8 20.9h0M55 22.3h0M22.2 79.4h0M49.9 80.7h0M43.8 29.4h0M22.9 96.9h0M53.7 16.3h0M51.8 79.1h0M50.2 20.8h0M41.7 1.2h0M14.4 86.6h0M41.2 41.5h0M41.3 48.7h0M24.4 68.4h0M16.5 56.9h0M25.2 19.2h0M45.3 35.9h0M32.7 80.9h0M35.5 77.6h0M27.9 97.4h0M25.5 23.1h0M29.3 74.9h0M19.2 65.4h0M89.6 65.5h0M33.3 80.4h0M16.9 69.2h0M34 30.6h0M30.9 4.1h0M45.8 60.3h0M31.9 93.2h0M30.9 74.1h0M24.7 14.6h0M37.7 74.5h0M37.7 35.5h0M32.5 11.4h0M39.4 38h0M62.9 76.1h0M20 62.4h0M33.6 81.7h0M82.9 54.8h0M28.5 82.6h0M31.5 2.8h0M21.1 67.3h0M27.4 27.9h0M47.1 55h0M77.7 61.9h0M43.1 17.1h0M36.2 21.7h0M8.8 58.1h0M32.6 15h0M19.2 87.2h0M37.6 101.3h0M49.9 29.4h0M48.6 49.1h0M83.7 56.8h0M32.3 31.6h0M36.7 19.6h0M38 12.3h0M28 80.4h0M25.4 5h0M40.7 7.2h0M16 58.9h0M68.8 62.6h0M20.1 79.6h0M85.2 56.9h0M45.7 59.9h0M35.4 99.3h0M49.5 6.6h0M32.2 41.5h0M41.3 47.8h0M71.1 53.6h0M39.6 65.1h0M46 53.4h0M52.7 14.7h0M11.5 74.8h0M41.9 49h0M64.9 74.5h0M21.3 91h0M32 7.8h0M33.8 13.8h0M45.5 9h0M47.1 4.3h0M29 15.3h0M37.3 86h0M38.8 5.6h0M23 9.7h0M46.9 75.1h0M25.5 31h0M15.9 61h0M42.6 23.8h0M33.3 34.5h0M49.7 32.6h0M20.8 67.8h0M71.9 55.9h0M48.8 74.7h0M47 19.4h0M97.7 76.8h0M37.3 43.9h0M20.8 66.8h0M22.8 10.9h0M45.6 52.8h0M28.8 100h0M41.9 14.9h0M94.4 69.9h0M72.8 45.5h0M8.2 55.4h0M43 78.4h0M74.1 51.1h0M93.4 73.6h0M22.4 12.2h0M50.3 62.3h0M34.4 92.8h0M18 55.4h0M11.6 69.3h0M26.5 79.4h0M49.5 74.5h0M41.2 95.7h0M95.5 76h0M78.7 46.3h0M43.1 34.9h0M41.1 37.3h0M8.3 73.4h0M48.9 24.2h0M33.2 75.1h0M39.5 84.3h0M71 58.7h0M29 98.8h0M51 10.7h0M15.3 68h0M35.3 49.4h0M49.1 9.4h0M45.2 43h0M21.3 70.2h0M49.3 9.6h0M19.9 83.3h0M74.8 48.1h0M20.4 16.4h0M22 88.7h0M47.9 30.7h0M43.2 5.1h0M8 57.1h0M37.3 15.2h0M49.3 34.1h0M35.4 20.3h0M44.6 52.2h0M88 49.3h0M44.8 23.8h0M33.8 102.7h0M46.8 47.8h0M21.4 8.6h0M35.3 87.9h0M9.9 61.4h0M38.2 1.7h0M71 58.4h0M51.8 47.3h0M28.3 10.4h0M41.7 71.6h0M18.4 59.5h0M86.8 48.3h0M24.6 85.8h0M81 57.1h0M39.4 62.3h0M73.2 52.7h0M50.7 25.8h0M49.2 79.7h0M45.9 21.6h0M12.9 80.2h0M11.3 74.4h0M46.9 63.7h0M16.3 56.5h0M40.7 81.9h0M55.4 75h0M32.9 92.8h0M33.3 4.1h0M48.2 3.7h0M61.2 74.2h0M30.8 85.4h0M32.7 87.8h0M79.7 49.6h0M32.5 74.5h0M47.9 17.2h0M32.3 31.3h0M97.8 77h0M76.4 45.5h0M37.3 34.8h0M59.3 74.7h0M52.1 14.7h0M39.4 73.3h0M51.9 28.2h0M81.6 56.2h0M49.9 65.3h0M33.7 85.6h0M38.8 7.2h0M44.1 5.5h0M37.2 11.1h0M13.8 68.9h0"/></g>
<g stroke="#34403e" stroke-width="2.84">
<path id="p326" d="M24.5 74.5h0M18.5 21.2h0"/>
<path id="p327" d="M82.9 55.7h0M51.3 42.9h0M35.8 16.8h0M24 19.7h0"/>
<path id="p328" d="M21.1 83.9h0M38.6 26.9h0M85.5 51.9h0M34.4 31.3h0M44.1 2.2h0"/>
<path id="p329" d="M51.9 44.8h0M34.6 9.7h0M6.4 63.7h0M27.1 20.2h0M13.3 65.6h0"/>
<path id="p330" d="M7 64.8h0M21.6 69.5h0M62.8 70.5h0M60.9 78.6h0"/>
<path id="p331" d="M15.3 59.6h0M50.8 32.1h0M41.4 5.3h0M23.6 6.9h0M44.2 64.5h0"/>
<path id="p332" d="M28 80.9h0M48.3 15.8h0"/>
<path id="p333" d="M26.3 26.4h0"/>
<path id="p334" d="M35.1 34.6h0"/>
</g>
<use href="#p325" stroke="#d6d6d6" stroke-width="2.3"/>
<use href="#p326" stroke="#2a788e" stroke-width="2.3"/>
<use href="#p327" stroke="#355f8d" stroke-width="2.3"/>
<use href="#p328" stroke="#414487" stroke-width="2.3"/>
<use href="#p329" stroke="#21918c" stroke-width="2.3"/>
<use href="#p330" stroke="#22a884" stroke-width="2.3"/>
<use href="#p331" stroke="#44bf70" stroke-width="2.3"/>
<use href="#p332" stroke="#440154" stroke-width="2.3"/>
<use href="#p333" stroke="#482475" stroke-width="2.3"/>
<use href="#p334" stroke="#7ad151" stroke-width="2.3"/>
</g>
<rect x="362.7" y="681.4" width="104.6" height="105" fill="none" stroke="#111" stroke-width="1.15"/>
<rect x="423.4" y="686.5" width="40.8" height="3.1" fill="url(#gh)"/>
<text x="422.4" y="700" font-size="10.7" fill="#111">-2</text>
<text x="465" y="700" font-size="10.7" fill="#111" text-anchor="end">-0.5</text>
<g fill="none" stroke-linecap="round" transform="translate(471.1 413.5)">
<g stroke="#34403e" stroke-width="2.84">
<path id="p335" d="M53.2 66.5h0M37.4 9.1h0M28.4 38.3h0M71.8 33.8h0M10.1 57.5h0M15.4 48h0M6.3 58.1h0M21.7 57.2h0M38.8 9.8h0M22.1 34.5h0M96 35.6h0M60.2 26.9h0M33.8 58.3h0M30.9 51.8h0M57.3 65.3h0M94.2 53.7h0M10.1 53.6h0M29.2 88h0M91.8 35.4h0M32.7 37.4h0M20.8 62.9h0M22.5 60.3h0M19.4 49.5h0M35.5 12.1h0M18.8 59.6h0M71.9 57.5h0M50.5 20h0M18.8 64h0M22.4 62.7h0M37.7 8.6h0M54.2 56.1h0M26.3 37.1h0M37.3 45.7h0M93.4 36.1h0M56.4 54.5h0M58.6 95.7h0M41 9.4h0M20 60h0M11.5 59.8h0M30.9 90.3h0M23.6 37.2h0M25.8 33.9h0M18.7 49.1h0"/>
<path id="p336" d="M23.2 54.7h0M33 89.8h0M55.3 64.8h0M96.3 37.1h0M71.5 13.3h0M76.9 44.6h0M15.1 45.3h0M8.6 58.8h0M34.4 13.4h0M57.1 23.4h0M62.7 29.6h0M53.1 66.8h0M52.5 65.9h0M49.3 21.2h0M56.8 81.2h0M65.6 66.5h0M28.7 36.9h0M60.7 81.5h0M40.4 53.3h0M50.1 56h0M31.5 89.9h0M15.9 50.5h0M26.7 38.1h0M56.9 80.5h0M58.4 26h0M64.3 69h0M23.6 61h0M93.1 53.1h0M54.9 25.1h0M72.9 32.3h0M55.7 97.4h0M64.8 67.7h0M32.9 80.1h0M57.6 92.8h0M61 26.2h0M57.7 96.9h0M29.1 35.1h0M50.2 97.8h0M60.9 56.8h0"/>
<path id="p337" d="M60.2 20h0M94.4 35.3h0M63.1 17.4h0M56.2 60.5h0M49.8 22.6h0M56.3 54.7h0M60.4 47.7h0M9.9 59.2h0M32.1 49h0M68.9 59.4h0M40.2 8.5h0M84.4 45.5h0M97.4 43h0M78.1 43.7h0M60.5 66h0M55.6 91.5h0M36.8 13h0"/>
<path id="p338" d="M47.3 7.4h0M83.4 43.4h0M16.1 56.9h0M60.4 64.5h0M19.3 46.5h0M68.2 15.3h0M62.7 63.1h0M32.9 53.2h0M34.4 47.7h0M69.3 58.1h0"/>
<path id="p339" d="M58.4 46.7h0M59.8 59.8h0M57.5 69.9h0M35.1 87h0M60.8 31h0M62.4 33.9h0M21.6 57.5h0M97.2 32.3h0M59.7 66.6h0M52.4 24.7h0M20.8 56.8h0M15.5 62.8h0M24.6 35.9h0M75 35.2h0M34.2 51.6h0M58.9 97.6h0M57.5 60.8h0M95.2 36.2h0M36.1 9.4h0"/>
<path id="p340" d="M69.1 15h0M40.7 9.1h0M54.4 43.2h0"/>
<path id="p341" d="M57.1 68.9h0M24.5 34.7h0M19.3 47.4h0M18.2 62.8h0M77.1 44.5h0M40.3 5.5h0M28.9 38.7h0"/>
</g>
<use href="#p335" stroke="#44bf70" stroke-width="2.3"/>
<use href="#p336" stroke="#22a884" stroke-width="2.3"/>
<use href="#p337" stroke="#7ad151" stroke-width="2.3"/>
<use href="#p338" stroke="#bddf26" stroke-width="2.3"/>
<use href="#p339" stroke="#21918c" stroke-width="2.3"/>
<use href="#p340" stroke="#fde725" stroke-width="2.3"/>
<use href="#p341" stroke="#2a788e" stroke-width="2.3"/>
<g stroke="#6a6a6a" stroke-width="2.9"><path id="p342" d="M58.8 64.3h0M57.9 26.7h0M65.9 69.5h0"/></g>
<g stroke="#34403e" stroke-width="2.84">
<path id="p343" d="M79.5 46.1h0M92.5 36.4h0M25.7 38h0M36.7 53h0M59.5 67.2h0M22.9 56.3h0M83.4 45.1h0M54.5 73.5h0M56 63.9h0M58.1 27h0M28.3 31.8h0M34.1 50.9h0M96.2 44.9h0M59.9 32.3h0M15.9 61.8h0M37.2 12.2h0M40.8 10.5h0M51.5 25.3h0M57.1 88.8h0M59.7 78.4h0M92 31.9h0M51.4 97.7h0M49.4 21.4h0M37.7 10h0M25.2 61.3h0M31.5 80.1h0M52.7 72.2h0M58.7 93h0M31 31.8h0M25.2 53.1h0M99.8 46.3h0M22.8 56.9h0M19.3 61.1h0M31.3 46.7h0"/>
<path id="p344" d="M59.6 73.9h0M61.6 32.2h0M42.6 4.4h0M53.2 96.1h0M57 58.1h0M42.9 51.7h0M27.5 54.5h0M59.9 30.7h0M31.5 89.4h0M28.8 32.7h0M54.7 26.3h0M55.6 98.9h0M39 10.7h0M28.3 36.9h0M23.5 54.6h0M31.7 15.9h0M56 21.5h0M41.7 3.7h0M89.5 33.4h0M34.3 14.5h0M28.9 53.8h0M71.2 14.3h0M97.5 37.9h0M31.2 83.7h0M56.2 22.8h0M17.2 64.8h0M40.2 9.8h0M52.8 19.6h0M19.2 49.6h0M54.7 93.6h0M58.9 72.8h0M58.7 71.3h0M25 38.8h0M52.6 97.3h0M34 83.4h0M59.6 55.8h0M34.7 33.9h0M83.6 44.3h0M23.4 63h0M61.8 85.5h0M45.5 5h0M30.6 48.3h0M80.3 45.2h0M41.2 48.5h0M59.6 52.6h0M61.3 67.7h0"/>
<path id="p345" d="M34.2 33.2h0M69.8 32.2h0M93.8 37.3h0M59.3 79.9h0M60.4 75h0M52.2 44.9h0M100.7 47.7h0M33.5 49.1h0"/>
<path id="p346" d="M57.6 58.3h0M60.2 71.9h0M35.5 44.8h0M59.3 26h0M54 61.5h0M31.1 33.6h0M57 24h0M38.3 12.4h0M24.7 59.2h0M42.6 9.2h0M55.1 31h0M63.5 69.4h0M58.1 35.4h0M75.6 35.1h0M22.2 64.5h0M44 49.9h0M39.8 46.6h0M58.5 87.2h0M32.8 84.1h0M25.1 39.2h0"/>
<path id="p347" d="M43.1 8.1h0M69.5 13.4h0"/>
<path id="p348" d="M35.7 53h0M25.3 38.3h0M62.8 71.9h0M24.5 52.3h0M42.1 6.2h0M59.8 54.4h0M65.8 14.3h0M54.6 55.2h0M57.1 93.8h0M26.1 33.8h0M40.9 12.3h0M26.6 58.2h0M58.1 71.2h0M39 11.2h0M51.4 44.8h0M74.3 12.4h0M59.6 60.5h0M21.6 37.9h0M55 55.8h0"/>
<path id="p349" d="M23.1 56.8h0M61.2 81h0M18.4 60.1h0M52.3 55.4h0M37.5 12.4h0M35.8 84.8h0"/>
</g>
<use href="#p342" stroke="#d6d6d6" stroke-width="2.3"/>
<use href="#p343" stroke="#22a884" stroke-width="2.3"/>
<use href="#p344" stroke="#44bf70" stroke-width="2.3"/>
<use href="#p345" stroke="#bddf26" stroke-width="2.3"/>
<use href="#p346" stroke="#21918c" stroke-width="2.3"/>
<use href="#p347" stroke="#fde725" stroke-width="2.3"/>
<use href="#p348" stroke="#7ad151" stroke-width="2.3"/>
<use href="#p349" stroke="#2a788e" stroke-width="2.3"/>
<g stroke="#6a6a6a" stroke-width="2.9"><path id="p350" d="M42 6.8h0M18.4 62.8h0M40.2 5.5h0M66.7 15.5h0M38.6 59.6h0"/></g>
<g stroke="#34403e" stroke-width="2.84">
<path id="p351" d="M31.1 33.4h0M70 16.6h0M31 80.6h0M42.3 51.7h0M22.9 64h0M58 84.1h0M98.9 49.1h0M52.3 21.1h0M60.7 56.5h0M17.6 59.7h0M51.2 98.3h0M33.1 50.2h0M33.2 16.7h0M59.3 79.5h0M38.4 5.7h0M54.6 95.7h0M28 54.4h0M34 54.9h0M31.3 88.9h0M70.7 57.8h0M35.2 80.3h0M53.3 60.9h0M33.2 12h0"/>
<path id="p352" d="M58.4 68.3h0"/>
<path id="p353" d="M32.8 87.6h0M31.6 48.4h0"/>
<path id="p354" d="M52.3 98.4h0M97.9 32.8h0M40.6 4.9h0M16.2 47.6h0M72 16.3h0M80.5 43.7h0M43.3 7.7h0M42.8 55.8h0M60 25.1h0M26.3 37.9h0M62.4 23.6h0M42 49.5h0M13.5 50.1h0M26.1 63.7h0M42.6 49.2h0M52.4 23.8h0M35.7 52.4h0M39.3 45.5h0M33.2 58.2h0M62 66.7h0M51.3 18.7h0M56.4 72.4h0M60.7 47.7h0M96.9 34.7h0M33.9 32.9h0M71.5 33.7h0M54.5 98.7h0M54.4 66.8h0M61.1 84.4h0M90.2 35.8h0M90.8 35.9h0M16 48.3h0M36.9 9.6h0M45.1 9.7h0M73.7 34.8h0M50.6 24.5h0M8.2 60.8h0M59.3 96h0M34.6 10.7h0"/>
<path id="p355" d="M53.6 65.4h0M100.7 47.8h0M35.2 47.3h0M59.1 23.3h0M53.7 57.1h0M24.6 36h0M25.6 60.4h0M52.3 68.6h0M92.2 55.4h0M57.6 80.4h0M53.3 100.1h0M56.9 20.9h0M34.7 50.4h0M92.2 54.4h0M89.2 33.6h0M60.8 55.9h0M29.6 37.8h0M30.8 52.3h0M57.4 73.8h0M60.8 72.8h0M61.7 30.7h0M41.2 50.6h0"/>
<path id="p356" d="M56.5 24.5h0M52.5 45.6h0M61.2 80.9h0M60.8 77.5h0M55.4 44.4h0M52.7 45.6h0M44.1 10.4h0M56.1 21.7h0M71.8 34.4h0M36.8 9.7h0"/>
<path id="p357" d="M33.8 36.9h0M97.6 43h0M55.8 18.5h0M33.1 37.2h0M54.4 22.8h0M27 53.6h0M32.2 81.4h0M59.3 58h0M61.2 44.2h0M60.2 21.8h0M75.2 14.5h0M53.4 72.3h0M40.3 50.8h0M55 60.6h0M47.5 7.5h0M36.8 48.5h0M42.2 53.1h0M13.5 59.8h0M55 58.3h0M59.7 82.1h0M30.3 50.1h0M25.6 57.4h0M52.6 71.8h0M43.3 9.8h0M63.2 15.1h0M57.9 89.7h0M43.9 4.7h0M72.4 57.7h0M16.4 49.7h0M60.5 70.6h0M70.4 31.6h0M42.7 48.7h0M58.9 24.8h0M51.1 53.5h0M96.1 51.5h0"/>
<path id="p358" d="M58.7 47.1h0"/>
</g>
<use href="#p350" stroke="#d6d6d6" stroke-width="2.3"/>
<use href="#p351" stroke="#7ad151" stroke-width="2.3"/>
<use href="#p352" stroke="#fde725" stroke-width="2.3"/>
<use href="#p353" stroke="#2a788e" stroke-width="2.3"/>
<use href="#p354" stroke="#44bf70" stroke-width="2.3"/>
<use href="#p355" stroke="#21918c" stroke-width="2.3"/>
<use href="#p356" stroke="#bddf26" stroke-width="2.3"/>
<use href="#p357" stroke="#22a884" stroke-width="2.3"/>
<use href="#p358" stroke="#355f8d" stroke-width="2.3"/>
<g stroke="#6a6a6a" stroke-width="2.9"><path id="p359" d="M72.9 15.2h0M13.2 60.6h0M70.2 15.2h0M73.2 16.8h0M21.9 59.4h0M38.5 59.7h0"/></g>
<g stroke="#34403e" stroke-width="2.84">
<path id="p360" d="M34.8 80h0M91.5 34.3h0M59.8 46.5h0M56.7 89.8h0M38 55.1h0M34.5 49.7h0M54.1 58.8h0M57 95.9h0M97.7 37.1h0M92.1 38.3h0M37 12.2h0M97.4 45.6h0M40.8 45h0M64.9 33.1h0M9.5 57.5h0M24.8 33.1h0M94.8 52.9h0M10.2 60.6h0M10.2 53.1h0M45.9 6.1h0M52.2 95.4h0M32.8 36.7h0M99.5 44.9h0M20.2 57.8h0M58.5 25.7h0M24 63.7h0M41.5 6.6h0M55.5 94.6h0M86.4 43.4h0M73.8 10.8h0M31 87.5h0M54.9 21h0M57.6 82.4h0M40.3 9.2h0M93.3 54.5h0M59.1 60.6h0M57.3 65h0M57.9 34.6h0M40.6 9.8h0M59.6 34.4h0M17.5 64.8h0M53 18.1h0"/>
<path id="p361" d="M50.8 21.8h0M98.6 43.3h0M30 48.4h0M59.4 40.5h0M58.7 36.7h0M59.2 41.3h0M39.7 5.9h0M41.2 53.3h0M34 81.7h0M73.6 11.2h0M17.1 60.9h0M61.3 83.7h0M36.6 49.7h0M75.7 35.5h0"/>
<path id="p362" d="M38.6 9.6h0M16.2 45.2h0M66.6 16.8h0M52.5 43.9h0"/>
<path id="p363" d="M59.2 22.2h0M53.3 58.1h0M25.3 64h0M52 24.6h0M83.7 44.8h0M18.8 57h0M88.7 35.8h0M41.8 10.4h0M70.1 31.9h0M16.4 51.4h0M37.7 46.6h0M42.1 57h0M53.6 58.6h0M57 84.7h0M37.1 10.4h0M44.2 64h0M35.4 10.9h0M38.2 47.2h0M89.4 35h0M63 70.7h0M59.4 69.5h0M26.2 58.1h0M61.7 36.6h0M19.4 56.5h0M58.1 86.3h0M39.5 10.8h0M23.6 62.9h0M19.6 62.7h0M57.2 66.8h0M53.3 25.6h0M57.6 53.3h0M36.8 45.6h0M97.9 35.2h0M15.6 47.1h0M61.2 32.9h0M58.2 23h0M79.8 44.6h0"/>
<path id="p364" d="M56.3 52.6h0M16.3 62h0M53.5 44.1h0M58.5 90.7h0M56.7 73.5h0M59.7 72h0M34.8 57.8h0M61.7 30.4h0M22.5 56.1h0M45.3 3.9h0M61.3 34.6h0M60.6 77.2h0M38 10.7h0M32.3 33.9h0M85.1 42.9h0M76.3 45.8h0M53.8 56.4h0M52.2 68.7h0M53.3 69.7h0M58.4 92.1h0M56 96.7h0M22.9 36.2h0M63.6 16.1h0M30.9 34.1h0M60.3 55.2h0M34.9 85.5h0M59.2 19.9h0M32.2 83.2h0"/>
<path id="p365" d="M16.3 59.4h0M70.5 15.1h0M52.2 46.1h0M39.2 52.2h0"/>
<path id="p366" d="M70.7 13.5h0"/>
<path id="p367" d="M60.4 21.9h0M91.7 38.2h0"/>
</g>
<use href="#p359" stroke="#d6d6d6" stroke-width="2.3"/>
<use href="#p360" stroke="#22a884" stroke-width="2.3"/>
<use href="#p361" stroke="#21918c" stroke-width="2.3"/>
<use href="#p362" stroke="#bddf26" stroke-width="2.3"/>
<use href="#p363" stroke="#44bf70" stroke-width="2.3"/>
<use href="#p364" stroke="#7ad151" stroke-width="2.3"/>
<use href="#p365" stroke="#fde725" stroke-width="2.3"/>
<use href="#p366" stroke="#355f8d" stroke-width="2.3"/>
<use href="#p367" stroke="#2a788e" stroke-width="2.3"/>
<g stroke="#6a6a6a" stroke-width="2.9"><path id="p368" d="M37.6 44.7h0M16.6 61.9h0M71.5 18h0M30.9 85.1h0M41.5 60.8h0M50.6 97.7h0"/></g>
<g stroke="#34403e" stroke-width="2.84">
<path id="p369" d="M41.6 11.4h0M63.9 71.8h0M30.7 82.1h0M96.8 33.7h0M26 33.5h0M17.6 60.3h0M42.3 10.7h0M33.9 79.3h0M54.2 26.1h0M38.3 14.7h0M56.8 20.1h0M53.2 17.8h0M67.4 14.7h0M61.4 32.4h0M17.6 58.3h0M72.1 32.1h0M58.7 57.4h0M22.7 36.8h0M72.5 31.5h0M58.5 41.7h0M82.5 45.5h0"/>
<path id="p370" d="M28.4 53.1h0M64.3 16.6h0M71.9 14.5h0"/>
<path id="p371" d="M29.7 37.5h0M47.3 4.4h0M60.1 74.7h0M16.5 48.3h0M59.6 83.7h0M61.8 71.8h0M32.1 24.9h0M96.2 46.7h0M33.7 80.5h0M32.5 33.1h0M34.2 86.6h0M60.1 34.2h0M55.9 55.2h0M63.6 64.9h0M23.6 55.3h0M41.7 9.1h0M81.8 43.6h0M19.9 49h0M80.4 46h0M50.5 97.9h0M14.1 58.7h0M61.1 56.8h0M59.5 27.3h0"/>
<path id="p372" d="M99.5 44.2h0M59.1 80.2h0M60.3 58.1h0M42.9 8.4h0M42.8 57.2h0M93.4 54.4h0M61.7 31.8h0M23.8 55.8h0M59.4 62.8h0M9.9 58h0M23.5 52.9h0M61.9 56.3h0M55.3 55.8h0M58.1 96.6h0M35.4 47.6h0M23 56.9h0M63.5 67.9h0M42.8 57.2h0M94.3 35h0M17.1 57.2h0M35.6 14h0M82.3 45.9h0M61.4 70.3h0M32.7 80.3h0M58.3 80.5h0M15.5 46.4h0M33 13.5h0M41.8 11.4h0M16.1 64h0M58.8 60.5h0M31.3 32h0M41.8 6.9h0M84.4 42.8h0M36.3 52.3h0M31.5 87.5h0M55.1 99.2h0M45.9 2.9h0M61.1 58h0M33.4 47.9h0M40.9 11.3h0M59.6 54.6h0"/>
<path id="p373" d="M56.6 27h0M41.3 6h0M58.8 84.1h0M55.4 61.7h0M35.3 10.5h0M94.1 53h0M63.7 16.4h0M58.4 88.2h0M74.4 15.2h0M46.3 6.1h0M55.6 73h0M37.4 47.8h0M56.8 20.6h0M55.8 97.2h0M55.9 58.3h0M57.5 80.4h0M64.3 66.5h0M44.5 63.7h0M43.8 62.9h0M37.6 50.7h0M57.1 25.8h0M32 50.1h0M32.9 84.6h0M73.1 32.8h0M27 56.1h0M55.4 96.2h0M56 100.8h0M59.6 39.3h0M15.9 58.2h0M34 51.7h0M57.1 23h0M58.2 92.3h0M57.8 81.2h0"/>
<path id="p374" d="M30 51.1h0M40.6 46.3h0M44 4.2h0M40 44.7h0"/>
<path id="p375" d="M43.3 11.4h0"/>
<path id="p376" d="M58.2 41.1h0M9.7 60.5h0M58.8 65.6h0M56.2 51.6h0"/>
</g>
<use href="#p368" stroke="#d6d6d6" stroke-width="2.3"/>
<use href="#p369" stroke="#7ad151" stroke-width="2.3"/>
<use href="#p370" stroke="#fde725" stroke-width="2.3"/>
<use href="#p371" stroke="#21918c" stroke-width="2.3"/>
<use href="#p372" stroke="#22a884" stroke-width="2.3"/>
<use href="#p373" stroke="#44bf70" stroke-width="2.3"/>
<use href="#p374" stroke="#bddf26" stroke-width="2.3"/>
<use href="#p375" stroke="#355f8d" stroke-width="2.3"/>
<use href="#p376" stroke="#2a788e" stroke-width="2.3"/>
</g>
<rect x="471.1" y="413.5" width="104.6" height="105.1" fill="none" stroke="#111" stroke-width="1.15"/>
<text x="505.8" y="410.9" font-size="12.6" fill="#1a1a1a" font-style="italic" stroke="#1a1a1a" stroke-width="0.22" textLength="30.8" lengthAdjust="spacingAndGlyphs">CTSB</text>
<rect x="546.9" y="477.2" width="3.4" height="40.2" fill="url(#gv)"/>
<text x="550.8" y="483.3" font-size="9.5" fill="#111">-1</text>
<text x="550.8" y="516.7" font-size="9.5" fill="#111">-5</text>
<g fill="none" stroke-linecap="round" transform="translate(471.1 681.4)">
<g stroke="#6a6a6a" stroke-width="2.9"><path id="p377" d="M34.5 98.2h0M70 46.9h0M37.9 12.7h0M42.5 9.9h0M85.7 46.7h0"/></g>
<g stroke="#34403e" stroke-width="2.84">
<path id="p378" d="M40 65.5h0M43.5 56.4h0M52.8 60.6h0M22.4 70.2h0M39.7 92.9h0M49.8 49.4h0M27.9 4.4h0M30.8 87h0M39.2 75.2h0M51.8 62.2h0M26.7 20.2h0M31.8 69.8h0M42.5 22.9h0M49.8 54.4h0M59.5 71.1h0M53.3 58h0M49.9 55.1h0M27.2 93.8h0M48.8 11.2h0M43.8 56.5h0M32.7 45.5h0M61.9 69.7h0M45.7 5.6h0M55.4 19.9h0M76.3 62.9h0M46.6 48.2h0M36.6 43.5h0M41.8 86.8h0M33.3 44.9h0M44.4 71.7h0M26.6 13.1h0M48.7 71.6h0M39.9 60.2h0M49.5 51.8h0M16.9 66.4h0M42.5 4.7h0M18 11.2h0M36.8 11.1h0M35.7 81.7h0M29.1 69.7h0M46.7 78.5h0M29.4 35h0M46.7 47.8h0M49 75h0M44.9 58.9h0M30.8 78.2h0M38.9 48.1h0M34.2 33.6h0M36 90.6h0M18 81.2h0M56.6 75h0M41.4 50.6h0M31.2 22.4h0M31.1 12.4h0M75.1 50.7h0M10 57.8h0M101 80.5h0M71.4 53.7h0M44.4 10.9h0M45.1 8.5h0M40.1 8.2h0M50 20h0M37.5 93.9h0M12.3 82.6h0M30 68.1h0M16.1 66.1h0M44.5 76h0M38.1 38h0M59.5 72.6h0"/>
<path id="p379" d="M52.1 52.5h0M71.5 59.3h0M78.7 55.6h0M12.2 73.5h0M53.2 14.8h0M30.1 10.1h0M30.6 99.5h0M31.1 18.8h0M68.5 54.3h0M32.9 28.4h0M38 86.9h0M32.6 86.7h0M37.1 88h0M72.8 53.2h0M27.7 69.4h0M53.6 22.9h0M22.4 95.4h0M51.7 26.1h0M41.5 63.8h0M30.7 20.8h0M30.1 23.2h0M24.2 23.6h0M13.5 60h0M35.2 80.8h0M23.4 77.8h0M88.7 56.1h0M42.8 77.8h0M31.9 83.2h0M34.5 93.2h0M24 23.1h0M89 48.6h0"/>
<path id="p380" d="M25.1 20.3h0M76.6 44.8h0M13.7 70.5h0M57 77.6h0M46.5 16.9h0M12.8 58.6h0M18.9 71.2h0M84.9 52h0M46.7 4h0M44.3 41.1h0M44.7 30.5h0M45.8 7.7h0M18.5 69.9h0M35.4 83.1h0M36.5 19.8h0M51.7 72.5h0M38.4 38.8h0M30.2 10h0M45.9 18.4h0M35.4 101.6h0M31.9 29.8h0M23.1 6.9h0M35.6 35.7h0M27.6 78.5h0M46.5 18.9h0M32.7 9h0M77.1 44h0M38.7 10.4h0M52.8 27.9h0M39.3 53.7h0M32.2 6.2h0M45.3 22.1h0M44.2 9.3h0M30.7 103.1h0M51.3 73.1h0M53.8 22h0M9.7 66.7h0M40.5 28h0M13.2 74.5h0M80.2 47h0M23.6 87.2h0M16 83.3h0M44.1 21h0M50.4 10.9h0M24.9 97h0M29.6 27.2h0M23.8 21.5h0M9.6 65.1h0M7.8 66.2h0M18 21.2h0M38.3 70h0M22.5 64.9h0M30.2 13.3h0M28.7 21.7h0M25.1 10.8h0M43.2 71h0M26.8 15.2h0M50.3 22.4h0M41.1 21.4h0M49.8 70.4h0M48.4 56.9h0M24.1 10.1h0M80.5 53.8h0M83.7 53h0M34.8 34.6h0M43.9 38.9h0M72.6 61.8h0M49.1 41.7h0M24.9 21.9h0M23.5 19.7h0"/>
<path id="p381" d="M20.5 17.2h0M13.4 55.5h0M19.2 14.1h0M11.7 57.6h0M66.1 74.5h0M41.9 63.6h0M39 28h0M22.8 66.6h0M45.4 69.6h0M31.6 24h0M39.9 25.5h0M25.9 26.4h0M51.9 64.8h0M19.2 84.6h0M23 77.6h0M24.3 62.7h0M93.5 71.6h0M46.9 38.5h0M81.4 54.1h0M48.4 82.1h0M36.7 76.3h0M5.6 63.5h0M52.8 47.5h0M22.3 8.6h0M75 45.3h0M11.6 73.4h0M49.9 73.2h0M18.4 62.9h0M24.8 11.3h0M10.9 56.7h0M12.4 80h0M40.6 84.7h0M46.8 46.4h0M38.5 33.3h0M36.9 30.2h0M81.1 51.5h0M33.7 5.5h0M35.2 2.6h0M25.3 71.2h0M30.5 85h0M10.7 60.3h0M40.7 41.4h0M45.5 43.1h0M32.4 101.8h0M47.1 54.8h0M38.3 73h0M10.7 60h0M38.3 6.5h0M28.1 81.6h0M45.7 37.3h0M38.6 31.5h0M31.3 71.9h0M33.8 7.4h0M12.4 63.7h0M87.1 54h0M33.3 44.8h0M36.9 63.2h0M14.1 62.1h0M7.8 67.7h0M21.7 91.1h0M36.6 6.4h0M28.8 35.6h0M42.5 73.9h0M35.6 83.7h0"/>
<path id="p382" d="M38.7 40.3h0M26.2 71.7h0M43.8 38.7h0M22.6 18.4h0M20.5 12.8h0M73.3 45.1h0"/>
<path id="p383" d="M91.9 68.2h0M72.7 65.8h0"/>
<path id="p384" d="M18.8 65.2h0M34.6 33.1h0M35.4 90.3h0M10.4 56.6h0M46.9 33.3h0M35.8 44.7h0M39.6 12.5h0M21.8 81.1h0M42.6 33.8h0M17.6 74h0M31.3 68.4h0M51.4 8h0M53.2 25.5h0M13.2 79.6h0M50 53.4h0M32.3 87.1h0M31.3 29.2h0M29.6 24.6h0M18.7 86.6h0M31.2 85.7h0M47.1 76.9h0"/>
<path id="p385" d="M47.2 20.1h0"/>
</g>
<use href="#p377" stroke="#d6d6d6" stroke-width="2.3"/>
<use href="#p378" stroke="#22a884" stroke-width="2.3"/>
<use href="#p379" stroke="#2a788e" stroke-width="2.3"/>
<use href="#p380" stroke="#44bf70" stroke-width="2.3"/>
<use href="#p381" stroke="#21918c" stroke-width="2.3"/>
<use href="#p382" stroke="#bddf26" stroke-width="2.3"/>
<use href="#p383" stroke="#355f8d" stroke-width="2.3"/>
<use href="#p384" stroke="#7ad151" stroke-width="2.3"/>
<use href="#p385" stroke="#414487" stroke-width="2.3"/>
<g stroke="#6a6a6a" stroke-width="2.9"><path id="p386" d="M74.3 48.3h0M8.3 56.8h0M49.5 72.8h0M54.6 18.9h0M29.7 29.1h0M42.3 66.8h0M82.4 49.8h0M34.8 11.6h0"/></g>
<g stroke="#34403e" stroke-width="2.84">
<path id="p387" d="M36.7 92.9h0M46.4 67.9h0M29 15.2h0M11.9 74.3h0M31.3 31h0M34.1 15.2h0M53.2 79.2h0M25.9 65.8h0M48.5 15.4h0M41.8 19.7h0M37.4 88.9h0M26.9 72.6h0M37.4 16.3h0M27.6 95.2h0M42.6 64.9h0M19.1 68.2h0M35.6 92.5h0M43.3 54.3h0M31.2 98.1h0M49.1 76.4h0M27.4 11.5h0M38.7 39.3h0M36.5 93.1h0M31.5 14.6h0M35.4 27h0M51.9 69.2h0M35.3 21.8h0"/>
<path id="p388" d="M53.2 16h0M29.3 10.9h0M86.3 61.4h0M16.1 67.8h0M46.2 30.3h0M27.9 21.4h0M10.1 66h0M15 64.1h0M8.8 54.9h0M46.3 8.5h0M50.3 8.1h0M52.9 28.4h0M74.5 46.6h0M72.4 48.5h0M54.3 72.2h0M46.3 38.6h0M40.6 53.8h0M19.6 72.2h0M28.4 99.7h0M52.5 60.1h0M43.6 44h0M42.6 58.8h0M55.3 9.7h0M49.9 61.6h0M42.2 4.7h0M30.2 13.5h0M51.1 81.3h0M47.1 6.8h0M76.8 57.9h0M50 9.6h0M22 75.6h0M98.2 75.3h0M25.5 67.4h0M36.4 0.3h0M36.4 83.6h0M5.8 57.5h0M87.3 59h0M23.6 9.7h0M83.9 53h0M39.8 70.5h0M43 52.6h0M29.4 65.4h0M48.6 81.8h0M81.6 54.6h0M42.2 25.7h0M54.5 80.1h0"/>
<path id="p389" d="M29.5 6h0M17.1 75.6h0M27.4 32h0M45.4 34.6h0M32.9 44.2h0M18.6 69.2h0M36.4 14.6h0M28.4 6.4h0M43.5 74h0M41.9 44.1h0M12.8 65.6h0M47.9 36.8h0M8.6 64.1h0M13.5 53.5h0M6.2 54.7h0M22.4 77.8h0M50.4 10.4h0M6.8 60.1h0M56.1 71h0M28.4 10.8h0M38.8 80h0M21.3 62h0M34.5 6.1h0M45.8 39.6h0M34.1 92.5h0M49.5 5.5h0M32.9 82.1h0M32.9 85.3h0M23.2 62.6h0M37.4 80.1h0M29.5 35.3h0M11.5 60.9h0M78.6 59.5h0M44.4 76.3h0M94.4 70h0M73.3 58.6h0M38.5 3.4h0M8.2 68.4h0M53.8 75.9h0M39.7 72.9h0M16.4 67.3h0M49.6 48.2h0M45.9 13.6h0M47.1 7.1h0M28.6 80.3h0M29.2 29.8h0M53.5 66h0M21.5 68.4h0M37.9 19.3h0M17.7 69.2h0M23.9 88.1h0M75 47.4h0M33.6 38.4h0M16.5 67.7h0M40 4.4h0M43.4 20.3h0M6.6 59.3h0M29.3 65.7h0M19.3 14.3h0M26.6 18.8h0M34.8 98.7h0M6.2 67.9h0M34.7 31.4h0M96.1 72.5h0M44.1 14.5h0M41.8 73.7h0M25.1 93.9h0M13.2 60.7h0M26.4 24.6h0M22.9 18.1h0M44.5 81.6h0M43.1 73h0M53.7 67h0M26.7 26.1h0M43.6 62.3h0M45.4 17.8h0M24.8 16.7h0M47.5 57.2h0M23.8 67.5h0M31.9 95.3h0M16.6 66.6h0M41.1 5.3h0M59.7 71.6h0M48.7 58.3h0M56.4 71.2h0M43.4 27.1h0M36.4 46.5h0"/>
<path id="p390" d="M88.3 64.4h0M67.9 58.5h0M30.8 91.1h0M99.1 79.4h0M48.2 7.4h0M10.6 62.4h0M54.6 69.5h0M23.8 8.8h0M53.6 77.9h0M80.6 51.3h0M50.8 62.1h0M47.2 5.7h0M19.9 79.3h0M43.5 16.7h0M15.3 88.8h0M36.7 76.3h0M29.3 8.8h0M23.9 92.8h0M19 83.4h0M24.5 22h0M40.2 71.7h0M47.2 47h0M26 29.3h0"/>
<path id="p391" d="M17.6 82.7h0M26 68.7h0M77.9 53.6h0M37.3 97.5h0M42.6 87h0M45 79.1h0M74 59h0M35.2 3.5h0M47.7 26.4h0M45.1 53.5h0M31.8 91.4h0M31.3 98.6h0M46 47.2h0M58.6 74.3h0M51.7 12.3h0M24.9 85.8h0M33.7 92.4h0M41.4 92.3h0M39.3 84h0M49.3 33.1h0M43.2 63.3h0M24.1 74.6h0M46.9 37.5h0M36.2 62h0M31.9 70.5h0M18.7 18.4h0M26.9 8.4h0M18.5 90.5h0M44.1 76.5h0M38.7 9.3h0M54.7 26.2h0M70.8 49.2h0M37.6 51.3h0M37.9 81.8h0M26.1 28.8h0M15.5 81h0M62.7 70.5h0M37.7 78.8h0M32.3 13.4h0M17.3 77.4h0M15 83.3h0M41.2 46.9h0M44.8 33h0M41.1 19.3h0M42.9 12.4h0M23.1 14h0M21.9 63.2h0M52.6 53h0M4 56.6h0M11.4 56.1h0M63.8 73.4h0M36.4 81.5h0M77.2 64.4h0M30.2 13.9h0M34.3 101.1h0M42.9 58.8h0M40 48.7h0M22.4 21h0M14.3 61.4h0M87.4 55.6h0M91.2 69.4h0M29 16.3h0M44.6 10.2h0M26.2 17.5h0M60.6 72.2h0M18.4 85h0M31.5 30.3h0M45.3 34.8h0M21.8 95h0"/>
<path id="p392" d="M35.2 93.5h0M84.3 46.4h0M80 58.7h0M76.4 62.8h0M16.7 73.2h0"/>
<path id="p393" d="M26.7 90.1h0M91.4 71h0"/>
<path id="p394" d="M74.1 65.1h0"/>
<path id="p395" d="M87.3 65h0"/>
</g>
<use href="#p386" stroke="#d6d6d6" stroke-width="2.3"/>
<use href="#p387" stroke="#7ad151" stroke-width="2.3"/>
<use href="#p388" stroke="#21918c" stroke-width="2.3"/>
<use href="#p389" stroke="#22a884" stroke-width="2.3"/>
<use href="#p390" stroke="#2a788e" stroke-width="2.3"/>
<use href="#p391" stroke="#44bf70" stroke-width="2.3"/>
<use href="#p392" stroke="#355f8d" stroke-width="2.3"/>
<use href="#p393" stroke="#bddf26" stroke-width="2.3"/>
<use href="#p394" stroke="#414487" stroke-width="2.3"/>
<use href="#p395" stroke="#fde725" stroke-width="2.3"/>
<g stroke="#6a6a6a" stroke-width="2.9"><path id="p396" d="M71.1 51.9h0M80.4 58.3h0M46 75.2h0M98.5 77.9h0M101.5 77.4h0M43.3 64.1h0"/></g>
<g stroke="#34403e" stroke-width="2.84">
<path id="p397" d="M76.1 47.9h0M45.1 77.9h0M76.2 49h0M81.4 58.7h0M91.2 68.3h0M81.3 51.8h0M39.2 17.4h0M35.3 48.1h0M26.6 85h0M78.8 56.2h0M55.2 17.6h0M30.9 90.4h0M27.9 73.4h0M21.7 94.7h0M14.2 71.9h0M84.1 51.5h0M76.7 63.5h0M9.6 64.9h0M25.2 14.7h0M51.8 8.8h0M43.6 82.4h0M40.9 18.8h0M27.6 80.9h0M53.4 21h0M27.8 15.3h0M34.6 99.7h0M38.8 42.2h0M48 53.2h0M86.7 52.1h0M34.2 9.7h0M49.6 25.2h0M15.9 76.9h0M42.7 86.8h0M37.7 82.4h0M16.5 57.1h0M32.7 20.8h0M29.5 76.2h0M56 78.3h0M35 34.7h0M35.4 30.2h0M50.2 54.7h0M28.2 21h0M6.6 57.8h0M12.2 79.9h0M34.3 90.7h0M26 16.5h0M26.3 77.3h0M44.3 72.6h0M87.3 57.7h0M30.4 33.3h0M22.3 20.3h0M47.3 21.5h0M57.4 75.1h0M36.2 51.4h0M26.3 17.1h0M23.6 94.1h0M27.1 13.5h0M39 47.9h0M39.3 36.4h0M11.2 64.6h0M17.5 64.4h0M47.7 30.7h0M27.3 29.4h0M52.3 24.1h0M14.4 54.6h0M28.2 16.2h0M87.8 64.8h0M42.1 7.9h0M101.4 79.7h0M24.2 19h0M57.3 19.7h0"/>
<path id="p398" d="M36.2 39.8h0M39.9 73.2h0M53.4 15.1h0M52.7 75.9h0M86.6 57.6h0M25.4 4.2h0M48.1 24.7h0M18.3 71.9h0M51 42.9h0M30.6 16.1h0M30.2 11.3h0M96.5 77.9h0M9.5 69.6h0M51.8 65.4h0M14.5 57.3h0M49.4 18.1h0M24.7 87.8h0M42.1 74.3h0M46.2 40.4h0M24.1 63.4h0M5.4 62.5h0M44.5 29h0M33.5 87.2h0M28.1 96.6h0M35.1 102.1h0M48.7 35.5h0M11.4 64.2h0M27.4 83.9h0M40.7 35.8h0M79 53h0M39.9 72.4h0M90.1 51h0M18.8 60.9h0M19 14.4h0M27.7 17.4h0M21.9 13.4h0M12.4 66.8h0M22 21.7h0M27.7 2.7h0M81.8 48.4h0M43.1 84.4h0M45.2 56.7h0M35.7 38.8h0M39.3 70.1h0M43.1 14.8h0M40.4 86.5h0M8.7 62.4h0M89.2 48.4h0M17 74.3h0M34.2 5.1h0M48.2 39.5h0M22.6 64.1h0M24 12.6h0M41.4 73.4h0M43.3 7.2h0M7.4 66.9h0M22.9 69.3h0M25.4 96.2h0M26.9 66.9h0M39.6 48.8h0M71.2 60h0M44.7 40.9h0M49.3 61.5h0M23.7 75.1h0M51.3 69.1h0M27.8 94h0M46.4 6h0M50.3 26.9h0M7 65.2h0M62.5 71.9h0M15.1 72.1h0M23.1 16.9h0M59.2 78.6h0M26 81.5h0M70.2 54.4h0M33.9 18.8h0M54.9 19h0M78.9 49h0M24.1 83.2h0M43.7 66.4h0M63.9 72.5h0"/>
<path id="p399" d="M20.1 96.5h0M39.2 48.2h0M50.1 24h0M20.4 93.9h0M12.7 73.6h0M35 96.8h0M82.2 52.4h0M46.4 51.7h0M50.3 71.2h0M18.2 64.5h0M29.5 34.1h0M51.9 65.9h0M53.9 49.5h0M55.4 74.3h0M43.6 68.7h0"/>
<path id="p400" d="M42.7 37.6h0M45.9 4h0M33.1 80.5h0M22.1 76.9h0M38.8 82.3h0M40.5 88.6h0M22.2 65.9h0M21.2 84.8h0M5.3 59.8h0M34.8 37h0M51.8 18.9h0M10.6 75h0M87.5 59.8h0M32.8 4.7h0M20.3 74.8h0M22.4 6.8h0M11.7 74.5h0M52 77.5h0M68.6 48.6h0M39.6 30.4h0M24 7.8h0M13.3 81.1h0M35.4 92.4h0M47.2 40.2h0M38.3 4.7h0M99.5 80.5h0M45.8 32.6h0M31.5 86.6h0M47.2 73.6h0M36.5 27.5h0M26.3 26.1h0M78.7 58.7h0M20.1 16h0M49.7 74.4h0M54.5 70.8h0M33.2 76.2h0M46.8 80.4h0M48 49.9h0M31.5 25.5h0M42.9 2.4h0M27.6 28.2h0M27.8 68.1h0M47.4 81.5h0M86.9 59.9h0M16.3 79.6h0M84.5 61.6h0M44.8 37.3h0M19.1 69.7h0M52.7 13.3h0M16.4 55.2h0M33.1 89.9h0M23.1 64.7h0"/>
<path id="p401" d="M36.1 87.1h0M75.3 64.2h0M48.5 53.5h0M50.9 45.4h0M17.9 64.6h0M88.5 57.4h0M43.3 14.2h0M50.4 29.6h0M47.8 41.3h0M41.3 6h0M32.6 20.8h0M32.4 85.9h0M49.5 29.6h0M9 57.1h0M31.7 91.7h0M35.2 10.5h0M42.2 89.7h0M35.4 69.3h0M5.9 55.4h0M47.9 35.4h0M10.3 77.2h0M45.8 10.5h0M30.6 24.6h0M49.8 28.7h0M66.7 53.7h0M38.5 7.2h0M49.8 66.5h0M84.3 46.7h0M32.2 93.7h0M34 17.3h0M31.8 94.7h0M71.7 65.4h0M25.6 79.9h0"/>
<path id="p402" d="M16.8 58.4h0M12.9 72.9h0M48.1 5.5h0M49.2 40.4h0M21.2 93.2h0M49.9 70.6h0M46.3 25.7h0"/>
<path id="p403" d="M98.2 74.7h0M93.8 68.9h0"/>
<path id="p404" d="M42.9 57.4h0M43.8 60.9h0"/>
</g>
<use href="#p396" stroke="#d6d6d6" stroke-width="2.3"/>
<use href="#p397" stroke="#21918c" stroke-width="2.3"/>
<use href="#p398" stroke="#22a884" stroke-width="2.3"/>
<use href="#p399" stroke="#7ad151" stroke-width="2.3"/>
<use href="#p400" stroke="#44bf70" stroke-width="2.3"/>
<use href="#p401" stroke="#2a788e" stroke-width="2.3"/>
<use href="#p402" stroke="#bddf26" stroke-width="2.3"/>
<use href="#p403" stroke="#fde725" stroke-width="2.3"/>
<use href="#p404" stroke="#355f8d" stroke-width="2.3"/>
<g stroke="#34403e" stroke-width="2.84">
<path id="p405" d="M24 67h0M19.2 70.4h0M30.1 72.6h0M49 51.9h0M10 55.4h0M50.7 15.3h0M27.6 70.8h0M23.3 73.8h0M74.9 52.1h0M36.6 25.5h0M26.9 10h0M74 47.4h0M27.8 70.7h0M38.8 5.1h0M40.6 46.6h0M25.6 86.5h0M75.2 50.2h0M14.7 86.4h0M31.2 86.9h0M30.4 93.9h0M27.9 13.7h0M61.2 76.3h0M33.9 80h0M35.1 82.4h0M27.8 34.8h0M16.5 57.3h0M37.3 2.1h0M28.5 6.7h0M77 44.3h0M42.7 60.8h0M15.3 66.9h0M31.6 25.7h0M25.2 21.1h0M34.1 36.5h0M39.4 37.2h0M38.3 26.9h0M26.2 6.5h0M47.9 56.9h0M49.4 76.2h0M7.8 55.3h0M80.9 55.3h0M37.9 66.5h0M31.6 71.9h0M34 21.6h0M25.9 72.4h0M36.2 23.4h0M84.1 53.4h0M65.7 73.5h0M21.9 86h0M35 14.9h0M28.1 13.8h0M39.6 69.5h0"/>
<path id="p406" d="M40.6 27.7h0M73.7 62.7h0M42 81.9h0M44.5 8.7h0M5.8 63.7h0M23 16.1h0M41.7 23.5h0M16.7 81.1h0M30.3 87.8h0M39.5 30h0M89.5 67.5h0M54.2 78.7h0M38 81.1h0M33.1 74.3h0M54.3 7.6h0M30.7 77.2h0M30.3 70.5h0M22.3 85.9h0M14.1 75.2h0M32.5 22.7h0M21.7 78.8h0M6.2 64.5h0M75.8 56.8h0"/>
<path id="p407" d="M49.4 31.2h0"/>
<path id="p408" d="M47.3 42.5h0M54.6 64h0M20 8.8h0M24.3 13.3h0M45.5 6.6h0M44.6 76.9h0M68.3 54h0M28.7 28.7h0M44.7 47.3h0M30.7 102.6h0M51.4 54.2h0M41.7 37.5h0M29.7 69.6h0M23.1 26.2h0M29.7 98.7h0M68.7 54.5h0M34.8 91h0M25.1 69.1h0M49.4 18.7h0M26.2 91.8h0M35.6 47.6h0M43.7 11.1h0M49.7 50.3h0M8.7 54.2h0M23.9 93.7h0M47.1 80.1h0M24.4 62.6h0M25.7 70.1h0M14 62.2h0M25.9 26.4h0M9.9 69.6h0M37.9 2.4h0M86.9 52.8h0M29 89.1h0M13.2 77.9h0M32.4 87.3h0M83.9 59.8h0M56.3 76.2h0M49.5 58.2h0M32 35.8h0M51.8 58.3h0M27.6 93.7h0M38.7 82.1h0M53.3 23h0M37 37.1h0M7.3 64.5h0M58.1 75.3h0M43.5 50.6h0M15.1 61.1h0M38.4 6.9h0M18.4 61.4h0M30.2 15.9h0M35.7 31.2h0M18.3 57.4h0M52 79.9h0M21.1 69.5h0M92.4 70.6h0M27 96.8h0M36.4 90.1h0M43.7 42.9h0M7.2 64.6h0M35.4 77.7h0M19.8 18.5h0M29.8 13.1h0M21.4 9.2h0M40 70.5h0M49.9 45.3h0M70.8 63.3h0M18.7 11.7h0M69.3 57.7h0M34.4 37.1h0M51.6 22.5h0M26.7 97.2h0M12.6 56.9h0M46.6 60.5h0M45.1 33.5h0M83.5 46.7h0M8.7 57.4h0M38.6 49.5h0M31.5 90.2h0M90.6 54.8h0M14.4 88.5h0M30.7 27.7h0M45.7 59.1h0M13.8 69.1h0M56.2 14.9h0"/>
<path id="p409" d="M40.5 66.6h0M25.7 71h0M24.3 79.1h0M64.8 69.9h0M34.3 15.1h0M99.5 79.7h0M25.3 11.6h0M42.6 53.4h0M79.2 59.1h0M32.5 35.8h0M94.3 73h0M49.6 69.6h0M58.6 73.6h0M37.2 70.1h0M23.3 78.6h0M35.4 43.5h0M70.4 60.5h0M79.8 54.1h0M15.4 69.8h0M80.9 51.5h0M31.1 69.7h0M89.8 54.2h0M67.3 72.2h0M38.6 97.2h0M69.3 56.4h0M39.7 8.5h0M37.1 33.1h0M26 26.7h0"/>
<path id="p410" d="M85.7 49.9h0M14.9 57.7h0M12.5 59.6h0M23.8 69.1h0M78 59.9h0M43.1 21.1h0M33.6 73.7h0M47.2 74.2h0M48.1 28.8h0"/>
<path id="p411" d="M49.1 52h0M51.6 78.7h0M29.1 99.8h0M24.1 5.6h0M45 21.9h0M42.4 17.7h0M18.4 67h0M37.7 35.7h0M20.1 17.5h0M36 51.9h0M88.9 56.9h0M39.9 39.7h0M37.3 95.1h0M42.2 38h0M15.6 87.9h0M22.9 94.1h0M32.1 73h0M31 30.6h0M51.4 77.5h0M36.1 79.4h0M59.4 78.4h0M28.8 90.8h0M49.7 80.8h0M37.1 79.8h0M24.4 91.4h0M51.3 80.8h0M47.9 78.1h0M35.8 19.5h0M65.3 71.1h0M46.9 82h0M23.4 27.1h0M12 60.6h0M44.8 20.2h0M24.5 67.9h0M24.9 22.3h0M32.5 94.1h0M43 66.5h0M21.2 67.6h0M23.9 82.4h0M46.6 59.8h0M26.3 33h0M18.3 82.3h0M88.5 53.6h0M44.3 21h0M72.8 59.9h0M27.7 66.1h0M27.3 10.3h0M85.8 58.4h0M54.3 79.6h0M29.7 19.4h0M40.6 85h0M50.4 61.2h0M34.2 31.7h0M43.2 8.4h0M19.5 21.5h0M16 74.5h0M26.5 30.9h0M42.6 90.3h0M35.1 13.5h0M20.1 65.8h0M19.9 85.1h0M10.8 64.7h0M34.2 30.2h0M51.7 22.5h0"/>
<path id="p412" d="M80.6 49.8h0"/>
<path id="p413" d="M90.1 65h0M29.6 71.5h0M40.6 33.4h0M16.5 82.1h0"/>
<path id="p414" d="M101.3 77.3h0"/>
</g>
<use href="#p405" stroke="#21918c" stroke-width="2.3"/>
<use href="#p406" stroke="#7ad151" stroke-width="2.3"/>
<use href="#p407" stroke="#414487" stroke-width="2.3"/>
<use href="#p408" stroke="#22a884" stroke-width="2.3"/>
<use href="#p409" stroke="#2a788e" stroke-width="2.3"/>
<use href="#p410" stroke="#355f8d" stroke-width="2.3"/>
<use href="#p411" stroke="#44bf70" stroke-width="2.3"/>
<use href="#p412" stroke="#482475" stroke-width="2.3"/>
<use href="#p413" stroke="#bddf26" stroke-width="2.3"/>
<use href="#p414" stroke="#fde725" stroke-width="2.3"/>
<g stroke="#6a6a6a" stroke-width="2.9"><path id="p415" d="M13.5 59.6h0M25.9 64.7h0"/></g>
<g stroke="#34403e" stroke-width="2.84">
<path id="p416" d="M81.9 57.8h0M45.9 65.5h0M40.8 22.6h0M47.7 6.7h0M58 75.7h0M55.2 27.7h0M35.7 25.6h0M37.3 98.2h0M35.8 32.9h0M6.4 64.8h0M12.7 64h0M36.1 77.8h0M30.1 98.4h0M31.2 30.1h0M72.9 56.1h0M21.6 66.9h0M88.6 53h0M37.2 14.8h0M56.4 67.2h0M43.7 5h0M70.7 58.1h0M55.1 65.5h0M89 67.7h0M37.3 8.4h0M45.9 61.9h0M43.3 74.3h0M24.1 71h0M40.2 42.4h0M53.8 17.4h0M76.2 46.5h0M29 13.8h0M65.8 72.9h0M9.2 72.8h0M38.5 12.1h0M13.8 85h0M21.7 9.7h0M90 51.2h0M31.5 93.9h0M48.5 51.6h0M32.9 80.7h0M6 67.2h0M35.3 30.2h0M13.5 73.7h0M29.7 17.4h0M35.6 14.5h0M9.4 65.9h0M51.5 80.9h0M25 20h0M34.5 72.2h0M55.4 18.4h0M85.3 53.3h0M34.5 89.5h0M17.7 70.3h0M65 69.6h0M29.7 8.5h0M45.2 68.7h0M51.9 9.4h0M37.2 71.8h0M44.9 74.1h0M90.2 65.3h0M72.1 54.6h0M23.8 25.7h0M41.1 51.1h0M49.8 79h0M47.5 52.9h0M27 27.1h0M47.5 27.4h0M27.3 10.1h0M29 33.3h0M48.5 36h0M52.4 28.3h0M36.3 63.1h0"/>
<path id="p417" d="M14.7 56.2h0M48.2 18.6h0M28.9 22.3h0M13.6 78.4h0M76.9 45.5h0M40.4 98.2h0M30.7 34.1h0M40.3 99.4h0M40.2 80.7h0M50.9 60.4h0M23.8 89h0M32.9 43.8h0M43.9 64.5h0M15.8 80.4h0M29.1 91.2h0M18.5 10h0M84.6 53.5h0M52 15.7h0M34.7 20.1h0M31.3 36.6h0M47.5 59.2h0M29.9 13.4h0M40.1 39.1h0M46.5 46.9h0M23.3 70.3h0M34.1 88.9h0M30.6 19.7h0M49.5 9h0M23.4 86.2h0M40.4 85.1h0M24 28.1h0M36.6 11.4h0M23.4 9.5h0M24.6 28.5h0M33.2 18.2h0M48.6 30.5h0M43.9 2.9h0M48.5 71.8h0M50 12h0M23.4 72.3h0M88.1 52.3h0M49.1 52.9h0M25.2 86.5h0M85.3 51.1h0M50.2 26.4h0M30.5 38.3h0M40.8 19.9h0M50.7 43.3h0M33.6 102h0M14.1 57h0M40.5 4h0M40.9 90.2h0M42.7 17.4h0M38 27.8h0M15.8 58.1h0M27.5 23h0M35 4.1h0M18.9 69.2h0M33.1 32.2h0M41.9 88.3h0"/>
<path id="p418" d="M8.4 64.9h0M21.8 89.6h0M40.7 10.8h0M42.9 38.4h0M41.7 26.2h0M33.7 85.6h0M33.3 76.2h0M75.9 57.6h0M40.9 71.2h0M29.3 32h0M40.2 41.8h0M49.1 40.8h0M28.1 89h0M29.4 84.4h0M63.4 66.6h0M45.2 29.9h0M34.5 13.4h0M43.8 19.3h0M35.7 8.5h0M35.9 91.8h0M28.2 69.5h0M46.7 33.1h0M29.9 11.1h0M98.8 76.2h0M66 72.1h0M19.4 78.4h0M51.6 25.1h0M87.7 53.2h0M42.5 46.1h0M77.9 45.9h0M30.9 5.6h0M26.8 92.3h0M29.7 83h0M25.9 33.1h0M20.6 83.9h0M32.1 38.6h0M37.3 45.6h0M46.5 23.2h0M36.8 80h0M32.2 46h0M57.2 73.3h0M14.8 59.6h0M29.4 6.3h0M38.1 0.2h0M35 11.8h0M20.2 8h0M21.1 91.7h0M51.8 72.2h0M37.3 31.6h0M41.5 89.5h0M34.3 3.7h0M21.5 84h0M29.8 71h0M72.7 50.7h0M43.5 40.3h0M8.4 62h0M82.4 51.5h0M31.3 79.3h0M25.9 19.2h0M17.6 73.6h0M37.7 88.1h0M47.4 9.2h0M19.4 60.7h0M14.8 64.4h0M26.5 84.1h0M89.2 53.5h0M48.5 37.5h0M28.6 92.2h0M52.4 53.8h0M5.8 61h0M38 18h0M35.5 7.7h0M15.5 66.3h0M49.8 24.7h0M34.7 29h0M54.2 21.1h0M31.9 31h0M6.1 61.5h0M41.4 74.8h0M51.2 74.4h0M46 74.2h0M50.1 74.2h0"/>
<path id="p419" d="M36.6 16.2h0M38 90.8h0M53.9 80.5h0M47.1 11.7h0M48.9 79.3h0M54.4 75.4h0M51.7 72.1h0M42.2 16.2h0M38.2 92.7h0M42 16.2h0M79.3 47.5h0M40.1 16.4h0M41.8 57.2h0M27.5 31.7h0M40.9 82.5h0M21.2 76.1h0M27.6 67.5h0M73.4 62.5h0M23.2 25.5h0M30.4 88h0M30.3 93.6h0M6.9 67.5h0M36.5 36.9h0M25.6 74.2h0"/>
<path id="p420" d="M33.2 92.6h0M49 71.9h0M24.7 9.6h0M8.9 64.7h0M50.8 77.8h0M75.6 44.9h0M29.1 82.1h0M32.3 76.5h0M44.8 41h0M39 1.2h0M77 44.8h0M79.5 49.1h0M21.2 70.6h0M34.4 43h0M46.9 31.7h0M28.9 31.7h0M36.9 93h0M26.7 83.5h0M27.7 90.3h0M49.5 22.4h0"/>
<path id="p421" d="M19.7 22.1h0M88.5 65.5h0M44.3 33.9h0M38.1 86h0"/>
<path id="p422" d="M31.9 25.2h0M36.2 51.8h0M98.6 76.3h0"/>
<path id="p423" d="M21 16.5h0M75.3 59.5h0"/>
</g>
<use href="#p415" stroke="#d6d6d6" stroke-width="2.3"/>
<use href="#p416" stroke="#21918c" stroke-width="2.3"/>
<use href="#p417" stroke="#44bf70" stroke-width="2.3"/>
<use href="#p418" stroke="#22a884" stroke-width="2.3"/>
<use href="#p419" stroke="#7ad151" stroke-width="2.3"/>
<use href="#p420" stroke="#2a788e" stroke-width="2.3"/>
<use href="#p421" stroke="#bddf26" stroke-width="2.3"/>
<use href="#p422" stroke="#fde725" stroke-width="2.3"/>
<use href="#p423" stroke="#355f8d" stroke-width="2.3"/>
<g stroke="#6a6a6a" stroke-width="2.9"><path id="p424" d="M28.8 29.3h0M73.4 53.4h0"/></g>
<g stroke="#34403e" stroke-width="2.84">
<path id="p425" d="M55.6 20.4h0M44.5 58.4h0M22 62.6h0M32.1 18.9h0M46.6 35.7h0M32.1 69.5h0M19.2 12h0M38.9 27.7h0M32.4 9.4h0M53.6 28.3h0M17.1 83.4h0M41 94h0M33 17.6h0M33.6 6h0M44 53.1h0M50.5 50.9h0M37.9 5.7h0M38.1 41.7h0M47 31.1h0M35.9 14.5h0M34.5 79.8h0M81.9 53.1h0M32.2 73.6h0M50.2 32.4h0M3.4 59.1h0M21.5 92h0M59.5 77.9h0M51.2 28.6h0M48 15.8h0M81.5 48.2h0M21.1 91.5h0M29.5 32.5h0M20.3 85.3h0M37.2 25.1h0M46.7 31.3h0M39.7 45h0M78.2 56.8h0M16.4 71.6h0M37.6 1.5h0M40.3 73.3h0M22.2 84.8h0M54 9.4h0M32.2 8.1h0M36.9 43.5h0M25.8 3.6h0M25.1 13.5h0M16.8 63.5h0M28 31.2h0M18 74.2h0M26.1 27.5h0M29.3 35.8h0M54.5 79.6h0M50 26.2h0M40.6 27.5h0M38.2 87.3h0M62.6 72.7h0M91.1 71h0M50.2 66.9h0M79.2 45.5h0M31 18.6h0M52.5 24.8h0M38.8 30.2h0M55.7 58.5h0M23.9 23.7h0M23.9 6.3h0M50.2 58.5h0M43.9 77.6h0M39 24.4h0M87.7 47.3h0M61.3 71h0M27.2 93.2h0M69.8 61.4h0M32.8 23h0M40.4 91.9h0M7.8 55.9h0M49.2 36.4h0M47.7 57.8h0M43.8 2.2h0M38.4 64.1h0M47.3 58.2h0M25.1 18.2h0M71.6 57.5h0M11.2 66.6h0M23.5 81.8h0"/>
<path id="p426" d="M11 58.2h0"/>
<path id="p427" d="M97.1 73h0M38 95.4h0M29.6 73.2h0M73.5 53.4h0M49.8 11.5h0M43.2 49.6h0M47 40.1h0M17.4 75.1h0M13.8 81.8h0M86.7 52.6h0M28.9 93.7h0M32.2 21.4h0M57.9 72.9h0M50.6 32.1h0M30.8 31h0M22.5 81.7h0M9.5 54.9h0M53.8 76.2h0M23.6 12.6h0M45.7 39h0M84.9 50.1h0M36.5 15.6h0M8.2 56.3h0M37.8 75.9h0M7.8 58.3h0M23.5 14.1h0M44.5 20.4h0M72.7 60h0M33.6 80.5h0M91.5 68.5h0M44.1 10.3h0M35.9 84h0M36.1 97.5h0M37.1 2.8h0M80.5 52.1h0M23.3 78.1h0M33.5 23.5h0M74 65.4h0M40.8 70.3h0M48.9 19.1h0M39.9 16.1h0M11.6 76.5h0M47.8 78.2h0M83 57.6h0M65.4 71.2h0M32.8 70.9h0M37.6 40.5h0M39.5 78.2h0M52.7 78.6h0M5.7 57.8h0M24.5 71.8h0M10 78.4h0M27.8 8h0M42.6 14.2h0M39.9 56.9h0M10.4 54h0M22.4 26.6h0M43 5.8h0M48.7 8.8h0M39 8.9h0M28.8 70.8h0M21.4 77.7h0M17.6 58.2h0M40 93.5h0M55.4 74h0"/>
<path id="p428" d="M20 56.3h0M23.8 11h0M83.8 52.3h0M22.4 94h0M33.9 28.2h0M51.2 29.5h0M45.5 19h0M9.5 68.3h0M81.5 58h0M44.5 60.8h0M29.3 95.3h0M42.7 95.8h0M31.6 13.4h0M44.1 14.2h0M60.8 78.6h0M21.4 8.6h0M19.9 75.8h0M26.3 73.6h0M46.6 22.6h0M36.1 80.3h0M42.5 39.4h0M37.3 36.1h0M50 12.3h0M38.6 86.9h0M80.8 60.5h0M24.2 65.5h0M26.4 98.3h0M22.1 14.8h0M97.6 73.3h0M41.6 87.2h0M51.9 59.6h0M50.2 78.2h0M13.7 63.1h0M57.3 13.6h0M16.6 59.4h0M41.5 28.7h0M38.6 82.8h0M33.5 24.8h0M48.4 24.2h0M20.1 15.1h0M24.1 74.5h0M37.1 99h0M29.7 96.9h0M24.2 93.3h0M71.7 63.9h0M32.8 77h0M53.4 60.2h0M6.8 61.5h0M7.9 59.9h0M17.8 75.8h0M28.5 33.5h0M29.2 87.9h0M45.7 4.9h0M44 27.8h0M34.2 97.6h0M35.5 95.6h0M11.2 56.3h0M18.8 73.3h0M23.5 86.8h0M36.2 84.1h0M56.6 78.8h0M19.2 67.6h0"/>
<path id="p429" d="M98.2 75.8h0M27.4 63.6h0M20.7 87h0M30.7 76.2h0M35.3 49h0M36.5 6.7h0M16.2 69.9h0"/>
<path id="p430" d="M30.7 20.5h0M87.9 60.4h0M21.6 17.7h0M40.3 9.1h0M7.3 66.2h0M47.7 64.7h0M26.8 8.6h0M18.3 79.4h0M23.7 64.1h0M23.7 21.4h0M21.9 61.6h0M46 78.1h0M49.1 83.5h0M30.6 81h0M33.3 36.3h0M82.5 60.6h0M29.3 32h0M28.4 34.1h0M18.2 86.3h0M43.6 40.4h0M24.9 73.1h0M35.4 47.3h0"/>
<path id="p431" d="M26.5 31.5h0M7.7 58.9h0M42.9 6.7h0M25.8 27.3h0M29 81.5h0M36.4 37.3h0M19.2 78.1h0M38.7 59.2h0M85.9 52.4h0M5.6 57.9h0M33.8 37.8h0M14.1 79h0M2.7 56h0M22.2 67.1h0M11.2 73.7h0M16 58.4h0M23.3 84.3h0M43.6 60.4h0M52.4 66.9h0M93.4 70.4h0"/>
<path id="p432" d="M97.6 78.8h0M46.1 46.2h0M84.1 59.2h0M38.6 53.3h0"/>
<path id="p433" d="M50.2 50.6h0M52.4 13.4h0"/>
</g>
<use href="#p424" stroke="#d6d6d6" stroke-width="2.3"/>
<use href="#p425" stroke="#22a884" stroke-width="2.3"/>
<use href="#p426" stroke="#414487" stroke-width="2.3"/>
<use href="#p427" stroke="#44bf70" stroke-width="2.3"/>
<use href="#p428" stroke="#21918c" stroke-width="2.3"/>
<use href="#p429" stroke="#355f8d" stroke-width="2.3"/>
<use href="#p430" stroke="#2a788e" stroke-width="2.3"/>
<use href="#p431" stroke="#7ad151" stroke-width="2.3"/>
<use href="#p432" stroke="#bddf26" stroke-width="2.3"/>
<use href="#p433" stroke="#fde725" stroke-width="2.3"/>
<g stroke="#6a6a6a" stroke-width="2.9"><path id="p434" d="M30.2 99.4h0M95.8 70.8h0M29.4 78.9h0M40.1 82.9h0"/></g>
<g stroke="#34403e" stroke-width="2.84">
<path id="p435" d="M11 69.7h0M51.5 18.6h0M44.2 11.6h0M21.9 78.7h0M36.2 9.4h0M38.6 66.8h0M32.7 91.3h0M30.8 24.4h0M22.6 70.3h0M41.8 38.2h0M88.9 49.6h0M45.3 79.2h0M87.6 51.6h0M45.3 56.8h0M37.9 100.5h0M18.7 56.9h0M38.4 1.8h0M44.8 11.1h0M15.2 66.5h0M19.8 91h0M80.2 55.6h0M44.2 23.3h0M32 95.5h0M32.6 13.5h0M48 70.7h0M30 30.3h0M40 94.5h0M75.1 44.8h0M34.8 24.8h0M29.5 96.2h0M20.3 22.9h0M58.2 72.7h0M39.9 39.2h0M48.7 67h0M51.9 18.1h0M45.5 55h0M17.3 14.3h0M80 54.8h0M36.7 94.2h0M73.9 47.5h0M82.3 47.7h0M38.9 100.4h0M19.6 93.8h0M22.4 13.8h0M30.2 16.6h0M44.8 58.4h0M51.6 61.7h0M54.7 8.2h0M55 81.9h0M30.5 31.2h0M46.4 46.9h0M52.7 55h0M31.9 14.3h0M17.8 60.8h0M46.7 64.8h0M42.9 19.2h0M38.8 11.3h0M24.2 76.6h0M25.7 71.1h0M13 77.6h0M9.5 61.8h0M51.9 33.3h0M101.5 76.7h0M75 55.8h0M32.8 97h0M23.8 8.9h0M26.2 97.9h0M22 81h0"/>
<path id="p436" d="M41.2 43.4h0M28.7 7.7h0M21.3 8.5h0M47 58.1h0M26.3 67.5h0M35.6 34.3h0M44.1 48.5h0M32.8 77.1h0M25.3 83.9h0M45.3 33h0M23 65.1h0M35.8 34h0M33.6 31.2h0M25.3 87.1h0M48 30.3h0M29 82.3h0M41.5 46.8h0M46.9 51.3h0M35.7 29.5h0M26.2 66.8h0M31.4 95.5h0M23.6 81h0M46.3 6.6h0M11 64.8h0M20.3 87.7h0M23.7 92.3h0M47.8 80.6h0M25.9 80h0M36.8 14.6h0M34.1 71.2h0M42.7 55.6h0M18.5 6.7h0M37.8 89.5h0M87.8 48.1h0M86.7 46.8h0M48.8 76.2h0M40.2 40.1h0M43.7 64.4h0M37.5 86.2h0M25 23.5h0M80.4 61.1h0M34 31.3h0M12.2 69.3h0M19.8 60.3h0M32.6 92.1h0M56.4 17.3h0M38.8 14h0M6.2 55.3h0M36.6 11.8h0M28.9 12.3h0M39.1 18.1h0M42.8 47.5h0M21.7 66.4h0M41.6 73.8h0M5.3 56.2h0M47.2 53.4h0M64.7 70.3h0M37.1 66.5h0M77.8 43.9h0M17.1 74.5h0M25.5 86.8h0M34.3 10.4h0"/>
<path id="p437" d="M42.7 2h0M13.6 76.6h0M49.8 23.7h0M37.8 64h0M19.6 87h0M70.7 52.2h0M33.1 31.6h0M79.9 57.8h0M23.8 84.7h0M28.6 16.4h0M38.1 62.8h0M49.3 41h0M19.4 13h0M36.4 21.4h0M29.6 93.2h0M50.1 18h0M51.5 78.9h0M14.7 55.1h0M29.6 81.5h0M40.3 47.9h0M42.9 76.8h0M30.9 27h0M47.3 21.2h0M29.4 33h0M36.2 22.2h0M7.9 66.7h0M45.7 75.2h0M36.6 99.6h0M8.8 67.9h0M35.8 8.4h0M23.9 69.2h0M42.4 39.7h0M18.3 70.8h0M30.2 81.5h0M40.7 66.7h0M41.7 21.9h0M14.7 79.5h0M46.7 36.5h0M23.8 85.5h0M48.5 22h0M14.1 85.7h0M85.6 51.9h0M48.2 79.6h0M49.1 62.2h0M34.3 80.9h0M46.2 57.5h0M15.9 80.5h0M23.6 70.6h0M30.5 66.9h0M52.2 71.1h0M37.9 15.3h0M31.4 5.8h0M82.9 55.7h0M45 37.3h0M35.1 17.2h0M84.7 47.6h0M46.9 65.9h0M18.8 80.1h0M63.4 75.8h0M19.5 77.2h0M52.8 10.7h0M32 76.7h0M21 82.3h0M81.5 54h0M19.1 87.4h0M17.8 67.2h0M61.1 74h0M101 78.1h0M46 20.1h0M24.3 75.8h0M47.9 46.5h0M70.2 49.2h0M30.4 26h0M80 56.2h0M51.3 56.7h0M54.4 73.7h0M36.8 90.4h0M38.9 45.7h0M37.4 92.3h0M38.5 49.4h0"/>
<path id="p438" d="M35.4 16.2h0M41.6 63h0M20.7 68h0M54.3 79.6h0M41.7 28.1h0M81.3 53.2h0M41.4 17.6h0M84.5 53.1h0"/>
<path id="p439" d="M66.2 73h0M89.9 54.4h0M47.6 31.3h0M31 31.7h0M28.6 74.4h0M38.4 6.1h0M39.4 65.5h0M78.2 64.9h0M72.7 57.9h0M39.1 93.6h0M36.5 81.1h0M87.3 49.4h0M75.3 51.9h0M51.6 15.9h0M54.3 67.2h0M78.4 61.2h0M36.3 48.1h0M52.1 71.8h0M37.4 41.9h0M16.2 87.3h0M43.4 14.3h0M37.1 99.5h0M16.9 68.5h0M24.7 91.4h0M46.1 27.2h0M39.7 92.2h0M44.2 45.9h0"/>
<path id="p440" d="M16.7 81.4h0M37.3 26.6h0M49.9 25.7h0M36.6 50h0M29 8.5h0M18.9 55.7h0M15.2 64.2h0M23 93.2h0M27.1 33.4h0M17.9 67.7h0M17.8 66.7h0M20.8 67.8h0M23.6 79.1h0M95.2 71h0M44.3 64.4h0M36.1 9.1h0"/>
<path id="p441" d="M45.5 58.7h0M17.5 58.7h0"/>
<path id="p442" d="M100.3 77.9h0M16.8 90.2h0"/>
</g>
<use href="#p434" stroke="#d6d6d6" stroke-width="2.3"/>
<use href="#p435" stroke="#21918c" stroke-width="2.3"/>
<use href="#p436" stroke="#44bf70" stroke-width="2.3"/>
<use href="#p437" stroke="#22a884" stroke-width="2.3"/>
<use href="#p438" stroke="#355f8d" stroke-width="2.3"/>
<use href="#p439" stroke="#2a788e" stroke-width="2.3"/>
<use href="#p440" stroke="#7ad151" stroke-width="2.3"/>
<use href="#p441" stroke="#414487" stroke-width="2.3"/>
<use href="#p442" stroke="#bddf26" stroke-width="2.3"/>
<g stroke="#6a6a6a" stroke-width="2.9"><path id="p443" d="M51.5 51.9h0M91.9 72.2h0M32.9 4.1h0M43.8 5.5h0M16.8 86.4h0M22.5 9.7h0M33.4 85.6h0M34 92.8h0M17.5 55.4h0"/></g>
<g stroke="#34403e" stroke-width="2.84">
<path id="p444" d="M21.4 70.3h0M85.6 54.2h0M35.5 16.8h0M55.6 17.5h0M43.3 17h0M45 35.9h0M48.6 74.7h0M22.4 10.9h0M13.3 68.9h0M6.4 56.2h0M17.9 59.5h0M24.1 85.8h0M33.3 32.5h0M74.1 51.1h0M47.5 26.8h0M71.1 53.6h0M50 20.8h0M38.5 5.6h0M16 56.9h0M7 57.6h0M52.5 14.7h0M25 5.6h0M54.8 22.3h0M61.1 74.2h0M24.7 19.2h0M36.8 11.1h0M45.4 59.9h0M31.6 15h0M48.7 24.2h0M31.5 93.2h0M28.6 86.7h0M21.3 20.9h0M7.4 57.1h0M27.5 97.4h0M53.5 16.3h0M19.6 79.6h0M48.3 10.2h0M49.7 80.7h0M48.1 13h0M20.8 91h0M49.3 74.5h0M29.8 77.5h0M46.1 31.7h0M55.2 75h0M12.5 84.1h0M39.1 62.3h0M41.6 49h0M27.8 10.4h0M34 38.3h0M47.7 30.7h0M20.9 8.6h0"/>
<path id="p445" d="M80.1 58.1h0M41.4 87.5h0M21.2 66.9h0M18.7 65.4h0M73.2 66.3h0M37.3 101.3h0M15.3 61h0M13.8 86.6h0M42.8 34.9h0M48 3.7h0M28.6 15.3h0M32.3 23.9h0M75.1 42.8h0M88 49.3h0M31.8 41.5h0M24.3 14.6h0M36.9 86h0M13.9 65.4h0M36.9 34.8h0M67.7 55.2h0M44.7 35.2h0M10.9 74.8h0M20.3 67.8h0M41.6 14.9h0M50.8 60.9h0M32.5 92.8h0"/>
<path id="p446" d="M42.6 30.2h0M22.6 80.7h0M48.9 79.7h0M84.7 60.2h0M23.9 5.3h0M42.9 5.1h0M71.9 55.9h0M79.7 49.6h0M42.7 78.4h0M20.4 21.4h0M31 98.2h0M95.7 76h0M45.8 53.4h0M23.9 68.4h0M49.1 34.1h0M39.1 73.3h0M48.3 49.1h0M31.3 87.1h0M20.8 70.2h0M43.5 29.4h0M16.3 69.2h0M51.9 14.7h0M19.9 85.8h0M9.3 61.4h0M43.9 70.8h0M23.8 25.3h0M33.8 13.2h0M45.2 9h0M32.3 87.8h0M31.5 87.6h0M37 43.9h0M48.9 9.4h0M47.6 17.2h0M32.9 75.1h0M91.5 69.7h0M32 31.3h0M41 47.8h0M27.6 80.4h0M85.3 56.9h0M40.9 48.7h0M14.8 68h0M35 49.4h0M28.4 100h0M77.7 61.9h0M71 58.7h0M40.4 7.2h0M19.4 83.3h0M49.3 6.6h0M12.3 80.2h0M37.3 74.5h0M21.5 88.7h0M71.9 61.8h0M46.6 63.7h0M83.7 56.8h0M46.7 19.4h0M45.5 60.3h0M51.6 28.2h0M39.8 25.1h0M49.6 65.3h0M33.6 30.6h0M63.1 74.3h0M21.7 79.4h0M69.7 47.2h0M33.2 81.7h0M84.6 58.1h0M93.5 73.6h0M31.7 7.8h0M22.4 96.9h0M15.5 58.9h0M32.2 15h0M25.8 18.9h0M30.5 74.1h0M38.5 7.2h0M44.5 23.8h0M51.6 44.8h0M19.5 62.4h0M40.8 37.3h0M33.4 13.8h0M54.6 20.5h0M39.1 38h0M21.9 12.2h0M7.6 55.4h0M49.5 32.6h0M45.7 21.6h0M18.7 87.2h0M46.9 55h0"/>
<path id="p447" d="M15.8 56.5h0M40.8 95.7h0M35 20.3h0M62.8 76.1h0M37 15.2h0M36.3 19.6h0M32.9 34.5h0M35.1 77.6h0M35.9 21.7h0M44.9 43h0M8.2 58.1h0M10.8 74.4h0M46.6 75.1h0M74.8 48.1h0M59.1 74.7h0M94.5 69.9h0M49.6 29.4h0M30.5 4.1h0M28.5 98.8h0M50.5 25.8h0M50.4 12.2h0M41.4 71.6h0M97.8 76.8h0M44.3 52.2h0M31.1 2.8h0M27.1 30.2h0M25 31h0M30.4 85.4h0M32.9 80.4h0M27 27.9h0M53.7 74.4h0M23.3 69.2h0M68.8 62.6h0M51.6 47.3h0M81 57.1h0M32.1 11.4h0M19.9 16.4h0M70.9 58.4h0M51.8 15.7h0M46.9 4.3h0M11 69.3h0M27.6 88.1h0M37.7 12.3h0M14.6 79.1h0M47.4 55.4h0M34 15.5h0M53.2 55.6h0M20.3 66.8h0M76.4 45.5h0M37.3 35.5h0M32.3 80.9h0M26.1 79.4h0M41.6 18.2h0M34.9 87.9h0M81.6 56.2h0M42.8 17.1h0M37.8 1.7h0M18.4 92.2h0M39.2 65.1h0M31.9 31.6h0M82.9 54.8h0M33.4 102.7h0M49 9.6h0M73.2 52.7h0M42.3 23.8h0"/>
<path id="p448" d="M78.7 46.3h0"/>
<path id="p449" d="M51.6 79.1h0M20.6 67.3h0M64.7 74.5h0M44.3 47.9h0M35 99.3h0M49.1 66.3h0M36.6 4.4h0M50.8 10.7h0M32.2 74.5h0M28.8 74.9h0M50.1 62.3h0M28.1 82.6h0M72.7 45.5h0M40.9 41.5h0M41.4 1.2h0M25 5h0M88.2 67.5h0M46.5 47.8h0M39.2 84.3h0"/>
<path id="p450" d="M45.4 52.8h0M25 23.1h0M40.4 81.9h0"/>
<path id="p451" d="M7.7 73.4h0M89.6 65.5h0M97.9 77h0"/>
<path id="p452" d="M86.9 48.3h0"/>
</g>
<use href="#p443" stroke="#d6d6d6" stroke-width="2.3"/>
<use href="#p444" stroke="#44bf70" stroke-width="2.3"/>
<use href="#p445" stroke="#2a788e" stroke-width="2.3"/>
<use href="#p446" stroke="#22a884" stroke-width="2.3"/>
<use href="#p447" stroke="#21918c" stroke-width="2.3"/>
<use href="#p448" stroke="#fde725" stroke-width="2.3"/>
<use href="#p449" stroke="#7ad151" stroke-width="2.3"/>
<use href="#p450" stroke="#355f8d" stroke-width="2.3"/>
<use href="#p451" stroke="#bddf26" stroke-width="2.3"/>
<use href="#p452" stroke="#414487" stroke-width="2.3"/>
</g>
<rect x="471.1" y="681.4" width="104.6" height="105" fill="none" stroke="#111" stroke-width="1.15"/>
<rect x="531.8" y="686.5" width="40.8" height="3.1" fill="url(#gh)"/>
<text x="530.8" y="700" font-size="10.7" fill="#111">-3</text>
<text x="572.7" y="700" font-size="10.7" fill="#111" text-anchor="end">2</text>
<g fill="none" stroke-linecap="round" transform="translate(579.5 413.5)">
<g stroke="#6a6a6a" stroke-width="2.9"><path id="p453" d="M52.1 66.5h0M31.4 89.8h0M57.4 46.7h0M54.2 64.8h0M96 37.1h0M26.8 38.3h0M71.1 33.8h0M8.1 57.5h0M58.8 59.8h0M70.8 13.3h0M4.3 58.1h0M94.1 35.3h0M19.9 57.2h0M62.2 17.4h0M76.3 44.6h0M33.6 87h0M55.2 60.5h0M20.4 34.5h0M95.7 35.6h0M13.3 45.3h0M6.6 58.8h0M59.2 26.9h0M59.9 31h0M61.4 33.9h0M19.8 57.5h0M32.3 58.3h0M56.1 23.4h0M93.9 53.7h0M48.6 22.6h0M55.3 54.7h0M97 32.3h0M8.1 53.6h0M27.7 88h0M91.5 35.4h0M22.9 34.7h0M14.2 56.9h0M59.4 64.5h0M7.9 59.2h0M19 62.9h0M30.6 49h0M51.3 24.7h0M68.1 59.4h0M38.8 8.5h0M20.7 60.3h0M83.9 45.5h0M51.4 65.9h0M48.1 21.2h0M17.6 49.5h0M97.2 43h0M71.2 57.5h0M49.3 20h0M17.6 46.5h0M59.8 81.5h0M20.7 62.7h0M13.7 62.8h0M39.1 53.3h0M53.1 56.1h0M48.9 56h0M29.9 89.9h0M14 50.5h0M61.8 63.1h0M17.5 47.4h0M24.7 37.1h0M16.4 62.8h0M21.9 61h0M39.3 9.1h0M35.9 45.7h0M31.4 53.2h0M93.1 36.1h0M55.4 54.5h0M39.7 9.4h0M32.9 47.7h0M54.5 91.5h0M18.3 60h0M22.9 35.9h0M9.6 59.8h0M92.8 53.1h0M53.9 25.1h0M74.3 35.2h0M72.1 32.3h0M29.4 90.3h0M32.7 51.6h0M57.9 97.6h0M56.5 60.8h0M94.9 36.2h0M56.6 92.8h0M21.9 37.2h0M60 26.2h0M24.2 33.9h0M16.9 49.1h0M56.7 96.9h0M27.5 35.1h0M27.3 38.7h0M60 56.8h0M92.2 36.4h0M24.1 38h0M35.3 53h0M32.7 33.2h0M60.6 32.2h0M68.7 13.4h0M21.2 56.3h0M56 58.1h0M41.6 51.7h0M25.9 54.5h0M58.9 30.7h0M69.1 32.2h0M23.6 38.3h0M61.9 71.9h0M54.9 63.9h0M34.1 44.8h0M27.2 32.7h0M58.3 26h0M22.8 52.3h0M53.6 26.3h0M26.7 31.8h0M32.6 50.9h0M95.9 44.9h0M14 61.8h0M52.9 61.5h0M21.8 54.6h0M30.2 15.9h0M58.8 54.4h0M54.9 21.5h0M35.7 12.2h0M21.4 56.8h0M89.2 33.4h0M65 14.3h0M53.6 55.2h0M36.9 12.4h0M27.3 53.8h0M23 59.2h0M60.3 81h0M55.2 22.8h0M91.7 31.9h0M50.3 97.7h0M58.3 79.9h0M51.7 19.6h0M25 58.2h0"/></g>
<use href="#p453" stroke="#d6d6d6" stroke-width="2.3"/>
<g stroke="#6a6a6a" stroke-width="2.9"><path id="p454" d="M17.4 49.6h0M53.6 93.6h0M62.6 69.4h0M23.6 61.3h0M30 80.1h0M57.1 35.4h0M37.6 11.2h0M50.2 44.8h0M51.6 72.2h0M56.9 26.7h0M59.5 75h0M57.9 72.8h0M20.5 64.5h0M73.6 12.4h0M57.7 71.3h0M23.3 38.8h0M42.7 49.9h0M65.1 69.5h0M51.5 97.3h0M58.7 55.8h0M33.2 33.9h0M83.1 44.3h0M21.7 63h0M51.1 44.9h0M100.6 47.7h0M57.5 87.2h0M60.9 85.5h0M99.6 46.3h0M58.6 60.5h0M51.2 55.4h0M44.3 5h0M21.1 56.9h0M29 48.3h0M79.7 45.2h0M39.9 48.5h0M19.8 37.9h0M23.5 39.2h0M53.9 55.8h0M17.5 61.1h0M58.6 52.6h0M36.1 12.4h0M34.3 84.8h0M60.4 67.7h0M29.6 33.4h0M57.4 68.3h0M51.2 98.4h0M69.3 16.6h0M97.7 32.8h0M52.5 65.4h0M39.3 4.9h0M41 51.7h0M14.3 47.6h0M55.5 24.5h0M97.4 43h0M54.8 18.5h0M51.4 45.6h0M21.2 64h0M31.6 37.2h0M25.3 53.6h0M98.7 49.1h0M100.6 47.8h0M41.4 55.8h0M59 25.1h0M24.6 37.9h0M60.2 44.2h0M61.5 23.6h0M59.3 21.8h0M40.7 49.5h0M51.2 21.1h0M30.1 48.4h0M11.6 50.1h0M74.6 14.5h0M33.8 47.3h0M59.7 56.5h0M15.8 59.7h0M50 98.3h0M58.1 23.3h0M52.6 57.1h0M41.3 49.2h0M51.3 23.8h0M38 45.5h0M35.4 48.5h0M31.6 50.2h0M31.7 58.2h0M22.9 36h0M61.1 66.7h0M59.8 77.5h0M50.2 18.7h0M11.6 59.8h0M55.4 72.4h0M31.7 16.7h0M58.4 79.5h0M54.3 44.4h0M91.9 55.4h0M54 58.3h0M96.7 34.7h0M51.6 45.6h0M70.8 33.7h0M28.7 50.1h0M52.2 100.1h0M24 57.4h0M51.5 71.8h0M42 9.8h0M62.3 15.1h0M91.9 54.4h0M90.4 35.9h0M88.8 33.6h0M59.9 55.9h0M14.2 48.3h0M55 21.7h0M56.9 89.7h0M28 37.8h0M32.5 54.9h0M29.8 88.9h0M71.7 57.7h0M29.3 52.3h0M56.4 73.8h0M59.8 72.8h0M14.6 49.7h0M59.5 70.6h0M70 57.8h0M33.7 80.3h0M71.1 34.4h0M52.2 60.9h0M50 53.5h0M65.8 15.5h0M35.4 9.7h0M39.8 50.6h0M37.2 59.6h0M95.8 51.5h0M91.2 34.3h0M58.2 22.2h0M14.3 45.2h0M55.2 52.6h0M52.2 58.1h0M98.4 43.3h0M23.6 64h0M50.9 24.6h0"/></g>
<use href="#p454" stroke="#d6d6d6" stroke-width="2.3"/>
<g stroke="#6a6a6a" stroke-width="2.9"><path id="p455" d="M14.5 59.4h0M55.7 89.8h0M14.5 62h0M52.4 44.1h0M33 49.7h0M53 58.8h0M55.7 73.5h0M97.5 37.1h0M33.3 57.8h0M69.8 15.1h0M60.8 30.4h0M88.3 35.8h0M58.4 40.5h0M69.9 13.5h0M35.6 12.2h0M97.1 45.6h0M72.2 15.2h0M69.3 31.9h0M60.4 34.6h0M39.4 45h0M11.3 60.6h0M59.7 77.2h0M57.7 36.7h0M58.2 41.3h0M36.6 10.7h0M7.5 57.5h0M36.3 46.6h0M38.3 5.9h0M23.1 33.1h0M30.7 33.9h0M39.9 53.3h0M84.7 42.9h0M94.6 52.9h0M75.6 45.8h0M52.6 58.6h0M52.7 56.4h0M31.3 36.7h0M65.8 16.8h0M99.3 44.9h0M52.2 69.7h0M59.4 21.9h0M32.5 81.7h0M72.9 11.2h0M42.9 64h0M18.4 57.8h0M69.4 15.2h0M36.8 47.2h0M54.9 96.7h0M21.2 36.2h0M89 35h0M62.1 70.7h0M62.7 16.1h0M24.6 58.1h0M22.3 63.7h0M60.8 36.6h0M17.6 56.5h0M29.4 34.1h0M35.1 49.7h0M59.3 55.2h0M57.1 86.3h0M38.1 10.8h0M86 43.4h0M22 62.9h0M75.1 35.5h0M17.8 62.7h0M73.1 10.8h0M51.4 43.9h0M29.4 87.5h0M33.4 85.5h0M53.9 21h0M35.4 45.6h0M91.4 38.2h0M93 54.5h0M37.8 52.2h0M58.1 60.6h0M72.5 16.8h0M20.1 59.4h0M56.3 65h0M56.9 34.6h0M39.2 9.8h0M13.7 47.1h0M58.7 34.4h0M15.7 64.8h0M30.6 83.2h0M60.3 32.9h0M51.9 18.1h0M28.1 37.5h0M99.3 44.2h0M63 71.8h0M55.5 27h0M29.2 82.1h0M59.1 74.7h0M36.1 44.7h0M54.3 61.7h0M33.9 10.5h0M96.6 33.7h0M58.1 80.2h0M14.8 61.9h0M24.4 33.5h0M41.5 57.2h0M93.1 54.4h0M93.8 53h0M32.4 79.3h0M14.7 48.3h0M57.4 88.2h0M53.1 26.1h0M21.8 52.9h0M39.2 46.3h0M57.2 41.1h0M73.7 15.2h0M7.7 60.5h0M63.4 16.6h0M54.3 55.8h0M57.1 96.6h0M29.3 85.1h0M40.2 60.8h0M34 47.6h0M54.6 73h0M63.4 66.5h0"/></g>
<g stroke="#34403e" stroke-width="2.84">
<path id="p456" d="M39.6 12.3h0M69.6 31.6h0M8.2 53.1h0M64.7 66.5h0M58.7 66.6h0"/>
<path id="p457" d="M39.5 10.5h0M58.8 46.5h0M15.3 60.9h0"/>
<path id="p458" d="M71.3 16.3h0M8.2 60.6h0M31.3 87.6h0M77.5 43.7h0"/>
<path id="p459" d="M57.5 90.7h0M20.8 56.1h0M15.3 64.8h0M57.7 93h0M52.1 96.1h0M83.3 44.8h0"/>
<path id="p460" d="M37.3 9.6h0"/>
</g>
<use href="#p455" stroke="#d6d6d6" stroke-width="2.3"/>
<use href="#p456" stroke="#2a788e" stroke-width="2.3"/>
<use href="#p457" stroke="#414487" stroke-width="2.3"/>
<use href="#p458" stroke="#21918c" stroke-width="2.3"/>
<use href="#p459" stroke="#22a884" stroke-width="2.3"/>
<use href="#p460" stroke="#355f8d" stroke-width="2.3"/>
<g stroke="#6a6a6a" stroke-width="2.9"><path id="p461" d="M71.8 31.5h0M30.9 33.1h0M43.3 63.7h0M32.2 80.5h0M39.5 11.3h0M57.9 65.6h0M13.7 46.4h0M62.7 64.9h0M57.7 57.4h0M58.6 54.6h0M15.3 57.2h0M15.8 58.3h0M29.9 87.5h0M30.5 24.9h0M59.1 34.2h0M38.6 44.7h0M57.2 92.3h0M49.3 97.9h0M32.5 51.7h0M14.3 64h0M40.4 11.4h0M82 45.5h0M52.1 17.8h0M36.2 50.7h0M18.1 49h0M83.9 42.8h0M42.8 4.2h0M49.4 97.7h0"/></g>
<g stroke="#34403e" stroke-width="2.84">
<path id="p462" d="M64.1 33.1h0M36.3 8.6h0M41.3 4.4h0M40.1 6.6h0M62.8 16.4h0M61.8 29.6h0M52.3 72.3h0M32.4 32.9h0M48.2 21.4h0M35.7 10.4h0M61 56.3h0M55.7 81.2h0M58.6 73.9h0M31.7 12h0"/>
<path id="p463" d="M31.2 37.4h0M29.5 31.8h0M40.9 53.1h0M33.3 50.4h0M53.3 66.8h0M34.2 52.4h0M31.5 13.5h0M24 60.4h0M28.4 48.4h0M57 84.1h0M32.5 83.4h0M24.4 63.7h0M60.8 30.7h0M32 49.1h0M60.1 58h0M56.1 93.8h0M37.1 59.7h0M39 5.5h0M32.9 14.5h0M40.3 11.4h0"/>
<path id="p464" d="M38.8 5.5h0M55.7 20.1h0M57.9 24.8h0M57.8 84.1h0M34.3 53h0M57.1 27h0M34.1 12.1h0M19.1 56.8h0M51.2 68.6h0M31.3 84.1h0M33.2 10.7h0M7.9 58h0M58.7 83.7h0M31.4 80.1h0"/>
<path id="p465" d="M58.7 72h0M63.4 69h0M56.7 81.2h0M54 60.6h0M82.9 45.1h0M25.1 38.1h0M46.1 7.4h0M55.9 80.5h0M14.6 51.4h0M57.9 60.5h0M60.4 83.7h0M34.6 9.4h0M40.5 6.9h0M33.4 80h0M40 6h0M40.4 3.7h0M45.1 6.1h0M70.5 14.3h0M54.5 94.6h0"/>
<path id="p466" d="M58.5 69.5h0M59.2 71.9h0M60.5 70.3h0M57.3 80.5h0"/>
<path id="p467" d="M56 23h0M40.5 10.4h0M41.8 8.1h0M40.7 57h0M17 59.6h0M29.8 46.7h0M58.7 39.3h0M17 57h0M56.6 58.3h0M37.4 9.8h0"/>
<path id="p468" d="M6.2 60.8h0M41.5 8.4h0M30.7 81.4h0M56.1 25.8h0M16.6 62.8h0M35.4 9.6h0M35.3 13h0M58.7 78.4h0M40.7 6.8h0M36.6 55.1h0M34.2 14h0M32.9 13.4h0M54.9 58.3h0M40.4 9.1h0M58.2 19.9h0M60.9 71.8h0M53.6 95.7h0"/>
<path id="p469" d="M31.9 47.9h0M68.3 15h0M78.9 46.1h0M53.3 43.2h0"/>
<path id="p470" d="M29.6 83.7h0M52.2 25.6h0M57.4 26h0M42 7.7h0"/>
<path id="p471" d="M44 3.9h0M93.5 37.3h0"/>
<path id="p472" d="M89.9 35.8h0M97.3 37.9h0"/>
</g>
<use href="#p461" stroke="#d6d6d6" stroke-width="2.3"/>
<use href="#p462" stroke="#21918c" stroke-width="2.3"/>
<use href="#p463" stroke="#355f8d" stroke-width="2.3"/>
<use href="#p464" stroke="#22a884" stroke-width="2.3"/>
<use href="#p465" stroke="#414487" stroke-width="2.3"/>
<use href="#p466" stroke="#7ad151" stroke-width="2.3"/>
<use href="#p467" stroke="#44bf70" stroke-width="2.3"/>
<use href="#p468" stroke="#2a788e" stroke-width="2.3"/>
<use href="#p469" stroke="#482475" stroke-width="2.3"/>
<use href="#p470" stroke="#440154" stroke-width="2.3"/>
<use href="#p471" stroke="#bddf26" stroke-width="2.3"/>
<use href="#p472" stroke="#fde725" stroke-width="2.3"/>
<g stroke="#6a6a6a" stroke-width="2.9"><path id="p473" d="M54.7 97.2h0M34.8 52.3h0M60.4 32.4h0M30.5 50.1h0M36 47.8h0M54.3 96.2h0M54 99.2h0M66.6 14.7h0M55.1 51.6h0M14.1 58.2h0M31.3 84.6h0M62.6 67.9h0M41.5 57.2h0M71.2 14.5h0M55.7 20.6h0M79.8 46h0M20.9 36.8h0M29.7 32h0M25.4 56.1h0M31.1 80.3h0M57.5 41.7h0M58.5 27.3h0M54.8 55.2h0M94 35h0M96 46.7h0"/></g>
<g stroke="#34403e" stroke-width="2.84">
<path id="p474" d="M32.7 86.6h0M41.3 9.2h0M51.1 95.4h0M56 24h0M37 5.7h0M38.8 9.8h0M42.5 62.9h0M54.6 97.4h0M12.2 58.7h0M44.6 2.9h0M56.6 82.4h0M38.9 9.2h0"/>
<path id="p475" d="M68.5 58.1h0M81.2 43.6h0M55.8 20.9h0M59.6 66h0M82.9 43.4h0M22.2 55.8h0M60.7 31.8h0M55.9 84.7h0M38.9 50.8h0M57.6 95.7h0M43.8 9.7h0M58.7 82.1h0M56.2 66.8h0M54.1 31h0M60.2 56.8h0M57.2 23h0M67.3 15.3h0M15.8 60.3h0M58.9 32.3h0M29.5 80.6h0M59.4 47.7h0M57.7 47.1h0M53.4 98.7h0"/>
<path id="p476" d="M42.9 10.4h0M37.6 10.7h0M41.4 48.7h0M57.4 92.1h0M53.5 73.5h0M36 9.1h0M46.2 7.5h0M80 43.7h0M58.4 58h0M59.3 20h0M49.1 97.8h0M56.5 80.4h0M51.1 68.7h0"/>
<path id="p477" d="M71.3 32.1h0M21.5 54.7h0M51.1 46.1h0M76.5 44.5h0M29.4 51.8h0M50.4 25.3h0M64 67.7h0M54.5 98.9h0M56.6 53.3h0M21.3 56.9h0M23.5 53.1h0M38.4 46.6h0M49.7 21.8h0M29.9 89.4h0M26.8 53.1h0M60.3 80.9h0M16.6 60.1h0M29.5 33.6h0M81.8 45.9h0M52 66.8h0M74.9 35.1h0M58.5 67.2h0M44.6 6.1h0"/>
<path id="p478" d="M24.4 33.8h0M79.2 44.6h0M42 11.4h0M26.7 36.9h0M58.4 96h0M60.1 84.4h0M42.6 4.7h0M13.6 48h0M73 34.8h0M53.4 22.8h0M59.8 47.7h0M56.1 88.8h0M57.1 71.2h0M36.9 14.7h0M27.1 36.9h0M32.4 36.9h0M56.5 69.9h0"/>
<path id="p479" d="M41 10.7h0M70.8 18h0M56.6 80.4h0M59.3 58.1h0M56.3 65.3h0M22 55.3h0M46.1 4.4h0M28.4 51.1h0"/>
<path id="p480" d="M26.4 54.4h0M36.3 10h0M57.5 25.7h0M56.1 68.9h0M54.9 100.8h0"/>
<path id="p481" d="M72.4 32.8h0M97.7 35.2h0M55.9 95.9h0M17 64h0"/>
<path id="p482" d="M91.7 38.3h0M33.9 10.9h0"/>
<path id="p483" d="M58.4 62.8h0M49.4 24.5h0M57.8 64.3h0M40.8 6.2h0"/>
</g>
<use href="#p473" stroke="#d6d6d6" stroke-width="2.3"/>
<use href="#p474" stroke="#22a884" stroke-width="2.3"/>
<use href="#p475" stroke="#21918c" stroke-width="2.3"/>
<use href="#p476" stroke="#414487" stroke-width="2.3"/>
<use href="#p477" stroke="#2a788e" stroke-width="2.3"/>
<use href="#p478" stroke="#355f8d" stroke-width="2.3"/>
<use href="#p479" stroke="#44bf70" stroke-width="2.3"/>
<use href="#p480" stroke="#482475" stroke-width="2.3"/>
<use href="#p481" stroke="#bddf26" stroke-width="2.3"/>
<use href="#p482" stroke="#7ad151" stroke-width="2.3"/>
<use href="#p483" stroke="#440154" stroke-width="2.3"/>
</g>
<rect x="579.5" y="413.5" width="104.6" height="105.1" fill="none" stroke="#111" stroke-width="1.15"/>
<text x="616.6" y="410.9" font-size="12.6" fill="#1a1a1a" font-style="italic" stroke="#1a1a1a" stroke-width="0.22" textLength="28.9" lengthAdjust="spacingAndGlyphs">CTSL</text>
<rect x="655.8" y="477.2" width="3.4" height="40.2" fill="url(#gv)"/>
<text x="659.8" y="483.3" font-size="9.5" fill="#111">-1</text>
<text x="659.8" y="516.7" font-size="9.5" fill="#111">-6</text>
<g fill="none" stroke-linecap="round" transform="translate(579.5 681.4)">
<g stroke="#6a6a6a" stroke-width="2.9"><path id="p484" d="M42 65.5h0M53.8 52.5h0M27.5 20.3h0M77.6 44.8h0M16.4 70.5h0M54.4 60.6h0M58.6 77.6h0M72.7 59.3h0M48.3 16.9h0M24.8 70.2h0M15.5 58.6h0M21.5 71.2h0M41.7 92.9h0M51.5 49.4h0M30.2 4.4h0M33.1 87h0M41.3 75.2h0M53.5 62.2h0M23 17.2h0M85.6 52h0M48.5 4h0M46.2 41.1h0M16.1 55.5h0M21.8 14.1h0M79.6 55.6h0M46.6 30.5h0M14.9 73.5h0M47.7 7.7h0M29 20.2h0M40.7 40.3h0M32.3 10.1h0M21.1 69.9h0M37.5 83.1h0M34 69.8h0M14.5 57.6h0M38.6 19.8h0M36.6 98.2h0M44.4 22.9h0M51.5 54.4h0M53.4 72.5h0M40.5 38.8h0M61 71.1h0M67.3 74.5h0M54.9 58h0M51.6 55.1h0M28.6 71.7h0M32.9 99.5h0M29.6 93.8h0M92.4 68.2h0M43.9 63.6h0M41.1 28h0M50.5 11.2h0M33.4 18.8h0M32.5 10h0M21.4 65.2h0M36.7 33.1h0M25.3 66.6h0M69.7 54.3h0M47.2 69.6h0M45.7 56.5h0M33.8 24h0M45.7 38.7h0M35.1 28.4h0M47.7 18.4h0M34.9 45.5h0M41.9 25.5h0M63.3 69.7h0M28.3 26.4h0M37.6 101.6h0M34.1 29.8h0M57 19.9h0M53.6 64.8h0M25.6 6.9h0M77.3 62.9h0M37.7 35.7h0M21.8 84.6h0M30 78.5h0M48.3 18.9h0M25.4 77.6h0M34.9 9h0M48.5 48.2h0M38.7 43.5h0M78.1 44h0M26.7 62.7h0M40.7 10.4h0M37.5 90.3h0M54.5 27.9h0M94 71.6h0M48.7 38.5h0M82.2 54.1h0M49 20.1h0M71.2 46.9h0M43.7 86.8h0M50.1 82.1h0M38.8 76.3h0M41.3 53.7h0M13.2 56.6h0M40 86.9h0M34.4 6.2h0M48.7 33.3h0M47.2 22.1h0M8.6 63.5h0M46 9.3h0M34.8 86.7h0M54.4 47.5h0M37.9 44.7h0M24.7 8.6h0M46.3 71.7h0M39.2 88h0M41.6 12.5h0M76 45.3h0M73.9 53.2h0M32.9 103.1h0M24.3 81.1h0M25.1 18.4h0M30.1 69.4h0M14.4 73.4h0M51.6 73.2h0M55.5 22h0M21 62.9h0M55.2 22.9h0M24.8 95.4h0M27.2 11.3h0M28.9 13.1h0M53.4 26.1h0M13.7 56.7h0M50.4 71.6h0M43.5 63.8h0M41.9 60.2h0M51.2 51.8h0M44.6 33.8h0M23.1 12.8h0M33 20.8h0M19.6 66.4h0M42.5 28h0M15.1 80h0M32.4 23.2h0M15.9 74.5h0M81.1 47h0M42.6 84.7h0M44.4 4.7h0M20.6 11.2h0M38.9 11.1h0M48.6 46.4h0M26.6 23.6h0M37.9 81.7h0M26 87.2h0M20.3 74h0M31.4 69.7h0M18.7 83.3h0M48.5 78.5h0M33.6 68.4h0M40.6 33.3h0M52.2 10.9h0M27.3 97h0M31.9 27.2h0M16.3 60h0M26.2 21.5h0M39 30.2h0M12.5 65.1h0M10.7 66.2h0M31.7 35h0M48.5 47.8h0M50.7 75h0M46.8 58.9h0M53.1 8h0M20.7 21.2h0M81.9 51.5h0M33.1 78.2h0M40.3 70h0M35.9 5.5h0M25 64.9h0M37.4 2.6h0M27.7 71.2h0M40.9 48.1h0M37.3 80.8h0M36.3 33.6h0M38.1 90.6h0M31.1 21.7h0M54.9 25.5h0M32.8 85h0M20.6 81.2h0M13.5 60.3h0M58.2 75h0M43.4 50.6h0M27.5 10.8h0M45.1 71h0M33.5 22.4h0M16 79.6h0M42.7 41.4h0M33.4 12.4h0M29.2 15.2h0M74.4 45.1h0M52 22.4h0M51.8 53.4h0M47.3 43.1h0M34.6 101.8h0M34.5 87.1h0M76.1 50.7h0M49 54.8h0M40.4 73h0M39.9 12.7h0M43.1 21.4h0M25.9 77.8h0M89.3 56.1h0M12.9 57.8h0M40.4 6.5h0M101.3 80.5h0M72.6 53.7h0M44.7 77.8h0M30.4 81.6h0M51.6 70.4h0M46.3 10.9h0M47.6 37.3h0M40.7 31.5h0M34.1 83.2h0M36.7 93.2h0M26.5 23.1h0M33.5 71.9h0M46.9 8.5h0M42.1 8.2h0M44.4 9.9h0M51.8 20h0M50.2 56.9h0M33.6 29.2h0M36 7.4h0M89.7 48.6h0M39.5 93.9h0M15 82.6h0M32.2 68.1h0M26.6 10.1h0M81.3 53.8h0M15.2 63.7h0M84.5 53h0M87.8 54h0M35.5 44.8h0M36.9 34.6h0M31.9 24.6h0M73.8 65.8h0M21.3 86.6h0M45.8 38.9h0M39 63.2h0M16.8 62.1h0M10.7 67.7h0M18.8 66.1h0M73.7 61.8h0M50.9 41.7h0M46.4 76h0M24.2 91.1h0M38.7 6.4h0M40.1 38h0M33.4 85.7h0M27.3 21.9h0M31.1 35.6h0M26 19.7h0M44.5 73.9h0M61 72.6h0M48.9 76.9h0M37.7 83.7h0M38.8 92.9h0M54.9 16h0M31.8 6h0M19.7 75.6h0M29.7 32h0M48.3 67.9h0M31.3 15.2h0M89 64.4h0M31.6 10.9h0M87 61.4h0"/></g>
<use href="#p484" stroke="#d6d6d6" stroke-width="2.3"/>
<g stroke="#6a6a6a" stroke-width="2.9"><path id="p485" d="M14.7 74.3h0M20.3 82.7h0M28.4 68.7h0M78.9 53.6h0M39.4 97.5h0M44.5 87h0M46.8 79.1h0M18.7 67.8h0M33.1 91.1h0M47.3 34.6h0M99.5 79.4h0M35.1 44.2h0M21.2 69.2h0M38.5 14.6h0M30.7 6.4h0M45.4 74h0M37.3 3.5h0M43.9 44.1h0M15.5 65.6h0M33.6 31h0M49.9 7.4h0M49.5 26.4h0M37.3 93.5h0M49.7 36.8h0M36.3 15.2h0M54.9 79.2h0M47 53.5h0M29.1 90.1h0M13.4 62.4h0M11.5 64.1h0M34 91.4h0M16.2 53.5h0M33.6 98.6h0M75.3 48.3h0M48.1 30.3h0M56.2 69.5h0M30.2 21.4h0M13 66h0M9.1 54.7h0M47.8 47.2h0M60.1 74.3h0M53.4 12.3h0M17.7 64.1h0M27.3 85.8h0M11.7 54.9h0M24.8 77.8h0M28.3 65.8h0M35.8 92.4h0M52.1 10.4h0M26.2 8.8h0M43.3 92.3h0M41.3 84h0M48.1 8.5h0M52 8.1h0M54.6 28.4h0M9.7 60.1h0M75.6 46.6h0M73.5 48.5h0M57.6 71h0M30.8 10.8h0M51.1 33.1h0M50.3 15.4h0M45.1 63.3h0M26.5 74.6h0M48.7 37.5h0M40.8 80h0M23.8 62h0M55.2 77.9h0M38.3 62h0M43.8 19.7h0M47.6 39.6h0M55.9 72.2h0M48.1 38.6h0M36.3 92.5h0M39.4 88.9h0M51.2 5.5h0M42.6 53.8h0M22.2 72.2h0M35.1 82.1h0M29.2 72.6h0M11.2 56.8h0M35.1 85.3h0M25.6 62.6h0M34.2 70.5h0M91.9 71h0M39.5 80.1h0M21.3 18.4h0M30.7 99.7h0M29.3 8.4h0M39.4 16.3h0M31.8 35.3h0M14.3 60.9h0M30 95.2h0M54.1 60.1h0M45.5 44h0M44.6 58.8h0M79.6 59.5h0M46.3 76.3h0M21.1 90.5h0M94.9 70h0M52.5 62.1h0M40.5 3.4h0M56.9 9.7h0M51.6 61.6h0M46 76.5h0M55.4 75.9h0M41.7 72.9h0M19.1 67.3h0M40.8 9.3h0M51.4 48.2h0M51.2 72.8h0M47.7 13.6h0M44.2 4.7h0M32.5 13.5h0M52.8 81.3h0M56.3 26.2h0M56.2 18.9h0M48.9 6.8h0M72 49.2h0M44.6 64.9h0M49 5.7h0M48.9 7.1h0M77.8 57.9h0M39.6 51.3h0M30.9 80.3h0M40 81.8h0M31.5 29.8h0M51.7 9.6h0M55.1 66h0M24 68.4h0M28.5 28.8h0M40 19.3h0M18.1 81h0M22.5 79.3h0M20.3 69.2h0M26.4 88.1h0M21.7 68.2h0M45.4 16.7h0M76.1 47.4h0M64.1 70.5h0M39.8 78.8h0M35.8 38.4h0M85.1 46.4h0M24.5 75.6h0M19.1 67.7h0M42 4.4h0M34.5 13.4h0M18 88.8h0M19.9 77.4h0M17.6 83.3h0M43.2 46.9h0M45.3 20.3h0M46.7 33h0M98.6 75.3h0M43 19.3h0M27.9 67.4h0M37.7 92.5h0M9.5 59.3h0M44.9 12.4h0M31.6 65.7h0M25.6 14h0M38.5 0.3h0M38.8 76.3h0M24.4 63.2h0M21.9 14.3h0M28.9 18.8h0M36.9 98.7h0M9.1 67.9h0M36.8 31.4h0M45.2 54.3h0M75.1 65.1h0M38.6 83.6h0M8.8 57.5h0M33.4 98.1h0M31.6 8.8h0M88 59h0M96.6 72.5h0M46 14.5h0M26.4 92.8h0M50.9 76.4h0M88 65h0M43.7 73.7h0M32 29.1h0M7 56.6h0M14.2 56.1h0M26.1 9.7h0M21.6 83.4h0M27.5 93.9h0M65.2 73.4h0M38.5 81.5h0M15.9 60.7h0M28.7 24.6h0M80.9 58.7h0M27 22h0M25.4 18.1h0M78.2 64.4h0M29.7 11.5h0M46.4 81.6h0M45 73h0M32.5 13.9h0M84.7 53h0M19.3 73.2h0M41.9 70.5h0M40.7 39.3h0M36.4 101.1h0M29.1 26.1h0M38.6 93.1h0M45.5 62.3h0M44.8 58.8h0M47.3 17.8h0M42 48.7h0M24.9 21h0M44.9 52.6h0M17 61.4h0M27.3 16.7h0M88.1 55.6h0M91.8 69.4h0M31.7 65.4h0M42.2 71.7h0M49.3 57.2h0M50.4 81.8h0M26.3 67.5h0M33.8 14.6h0M31.3 16.3h0M37.6 27h0M34.2 95.3h0M46.5 10.2h0M19.2 66.6h0M82.4 54.6h0M83.2 49.8h0M28.6 17.5h0M62.1 72.2h0M61.2 71.6h0M53.6 69.2h0M37.5 21.8h0M37 11.6h0M21 85h0M50.4 58.3h0M28.4 29.3h0M33.7 30.3h0M47.1 34.8h0M24.3 95h0M45.3 27.1h0M38.5 46.5h0M56.1 80.1h0M77.2 47.9h0M38.3 39.8h0M47 77.9h0M77.2 49h0M41.9 73.2h0M82.2 58.7h0M22.6 96.5h0M72.3 51.9h0M44.6 37.6h0M91.7 68.3h0M82.1 51.8h0M54.4 75.9h0M87.3 57.6h0M27.8 4.2h0M41.3 17.4h0M47.7 4h0M37.4 48.1h0M35.2 80.5h0M29 85h0M24.6 76.9h0M38.2 87.1h0M49.9 24.7h0M40.8 82.3h0M42.5 88.6h0"/></g>
<use href="#p485" stroke="#d6d6d6" stroke-width="2.3"/>
<g stroke="#6a6a6a" stroke-width="2.9"><path id="p486" d="M20.9 71.9h0M76.4 64.2h0M52.7 42.9h0M32.9 16.1h0M32.4 11.3h0M79.7 56.2h0M56.8 17.6h0M97 77.9h0M33.1 90.4h0M12.3 69.6h0M53.5 65.4h0M17.2 57.3h0M50.3 53.5h0M30.2 73.4h0M24.2 94.7h0M16.9 71.9h0M51.1 18.1h0M84.9 51.5h0M24.7 65.9h0M27.1 87.8h0M41.3 48.2h0M44 74.3h0M48.1 40.4h0M19.4 58.4h0M77.7 63.5h0M26.5 63.4h0M23.7 84.8h0M51.8 24h0M8.4 62.5h0M12.5 64.9h0M8.2 59.8h0M46.4 29h0M27.7 14.7h0M52.6 45.4h0M37 37h0M53.5 18.9h0M20.5 64.6h0M35.7 87.2h0M15.7 72.9h0M53.5 8.8h0M13.4 75h0M30.4 96.6h0M49.8 5.5h0M89.1 57.4h0M35 4.7h0M45.5 82.4h0M22.9 74.8h0M37.3 102.1h0M45.2 14.2h0M23 93.9h0M52.1 29.6h0M50.5 35.5h0M49.6 41.3h0M43.3 6h0M14.2 64.2h0M42.9 18.8h0M29.7 83.9h0M34.8 20.8h0M29.9 80.9h0M50.9 40.4h0M42.6 35.8h0M55 21h0M24.9 6.8h0M80 53h0M30.1 15.3h0M36.8 99.7h0M41.9 72.4h0M14.5 74.5h0M40.8 42.2h0M81.3 58.3h0M34.6 85.9h0M90.7 51h0M53.6 77.5h0M49.8 53.2h0M21.4 60.9h0M15.5 73.6h0M21.6 14.4h0M69.9 48.6h0M87.4 52.1h0M30.1 17.4h0M41.6 30.4h0M36.4 9.7h0M26.4 7.8h0M51.3 29.6h0M18.5 76.9h0M11.9 57.1h0M44.6 86.8h0M24.4 13.4h0M15.2 66.8h0M39.8 82.4h0M24.5 21.7h0M19.1 57.1h0M30.1 2.7h0M34.9 20.8h0M37.1 96.8h0M34 91.7h0M82.7 48.4h0M47.9 75.2h0M45 84.4h0M31.8 76.2h0M47.1 56.7h0M16 81.1h0M37.5 92.4h0M37.9 38.8h0M49 40.2h0M41.4 70.1h0M40.3 4.7h0M99.9 80.5h0M47.6 32.6h0M37.2 34.7h0M45 14.8h0M42.4 86.5h0M37.4 10.5h0M33.8 86.6h0M37.5 30.2h0M51.9 54.7h0M49 73.6h0M30.5 21h0M9.6 57.8h0M89.8 48.4h0M15 79.9h0M44.1 89.7h0M37.5 69.3h0M23.7 93.2h0M19.7 74.3h0M36.4 5.1h0M38.6 27.5h0M36.5 90.7h0M28.7 26.1h0M98.9 77.9h0M79.6 58.7h0M98.6 74.7h0M28.4 16.5h0M28.7 77.3h0M83 52.4h0M46.2 72.6h0M50 39.5h0M22.6 16h0M51.4 74.4h0M8.9 55.4h0M49.6 35.4h0M25.1 64.1h0M56.1 70.8h0M88 57.7h0M26.4 12.6h0M35.4 76.2h0M43.4 73.4h0M45.2 7.2h0M101.8 77.4h0M44.8 57.4h0M32.6 33.3h0M10.3 66.9h0M48.6 80.4h0M25.3 69.3h0M49.8 49.9h0M24.8 20.3h0M49.1 21.5h0M48.2 51.7h0M33.7 25.5h0M47.6 10.5h0M51.6 70.6h0M27.8 96.2h0M52 71.2h0M58.9 75.1h0M38.3 51.4h0M45.7 60.9h0M32.9 24.6h0M28.6 17.1h0M44.8 2.4h0M30 28.2h0M29.4 13.5h0M41 47.9h0M29.3 66.9h0M41.6 48.8h0M51.5 28.7h0M67.9 53.7h0M72.3 60h0M46.5 40.9h0M30.1 68.1h0M51.1 61.5h0M26.1 75.1h0M87.6 59.9h0M18.9 79.6h0M52.9 69.1h0M40.5 7.2h0M30.1 94h0M45.3 64.1h0M85.3 61.6h0M51.5 66.5h0M41.4 36.4h0M48.2 6h0M20.8 64.5h0M52 26.9h0M85.1 46.7h0M9.9 65.2h0M14 64.6h0M20.2 64.4h0M34.4 93.7h0M31.8 34.1h0M46.7 37.3h0M53.6 65.9h0M49.5 30.7h0M29.7 29.4h0M54 24.1h0M63.8 71.9h0M36.2 17.3h0M17.8 72.1h0M55.5 49.5h0M21.7 69.7h0M34.1 94.7h0M54.3 13.3h0M17.1 54.6h0M25.6 16.9h0M94.3 68.9h0M30.5 16.2h0M88.5 64.8h0M56.9 74.3h0M19.1 55.2h0M72.9 65.4h0M28 79.9h0M60.7 78.6h0M28.4 81.5h0M44.1 7.9h0M71.3 54.4h0M45.5 68.7h0M101.7 79.7h0M36.1 18.8h0M35.3 89.9h0M56.5 19h0M79.8 49h0M25.6 64.7h0M48.1 25.7h0M45.6 66.4h0M26.6 19h0M65.3 72.5h0M58.9 19.7h0M26.4 67h0M42.6 27.7h0M51.2 31.2h0M21.8 70.4h0M49.1 42.5h0M56.2 64h0M42.5 66.6h0M86.4 49.9h0M50.9 52h0M28.1 71h0M74.8 62.7h0M32.4 72.6h0M50.7 51.9h0M12.8 55.4h0M22.6 8.8h0M81.5 49.8h0M44 81.9h0M26.7 79.1h0M26.7 13.3h0M47.4 6.6h0M53.3 78.7h0M46.4 8.7h0M31.4 99.8h0M30 70.8h0M66.1 69.9h0M36.5 15.1h0M46.4 76.9h0M69.5 54h0M31 28.7h0M25.7 73.8h0M75.9 52.1h0M38.7 25.5h0M46.6 47.3h0"/></g>
<use href="#p486" stroke="#d6d6d6" stroke-width="2.3"/>
<g stroke="#6a6a6a" stroke-width="2.9"><path id="p487" d="M8.8 63.7h0M32.9 102.6h0M26.6 5.6h0M53.1 54.2h0M43.7 37.5h0M46.9 21.9h0M99.9 79.7h0M25.5 16.1h0M32 69.6h0M25.6 26.2h0M17.6 57.7h0M44.4 17.7h0M21 67h0M39.8 35.7h0M32 98.7h0M29.3 10h0M43.7 23.5h0M22.6 17.5h0M75.1 47.4h0M38.1 51.9h0M69.9 54.5h0M15.3 59.6h0M30.2 70.7h0M26.2 69.1h0M90.7 65h0M37 91h0M89.5 56.9h0M40.8 5.1h0M19.3 81.1h0M27.5 69.1h0M32.6 87.8h0M51.2 18.7h0M27.7 11.6h0M41.9 39.7h0M42.6 46.6h0M28.6 91.8h0M37.7 47.6h0M28 86.5h0M44.5 53.4h0M45.6 11.1h0M76.2 50.2h0M51.4 50.3h0M11.5 54.2h0M80.1 59.1h0M39.3 95.1h0M34.7 35.8h0M44.1 38h0M18.2 87.9h0M26.3 93.7h0M17.4 86.4h0M48.9 80.1h0M26.8 62.6h0M28.1 70.1h0M25.4 94.1h0M94.8 73h0M41.5 30h0M34.3 73h0M33.2 30.6h0M53.1 77.5h0M90.2 67.5h0M16.7 62.2h0M38.2 79.4h0M28.3 26.4h0M33.5 86.9h0M51.4 69.6h0M32.7 93.9h0M30.3 13.7h0M60.1 73.6h0M62.6 76.3h0M79 59.9h0M55.8 78.7h0M36 80h0M12.8 69.6h0M37.2 82.4h0M40 2.4h0M87.7 52.8h0M40 81.1h0M31.3 89.1h0M16 77.9h0M34.6 87.3h0M30.1 34.8h0M60.9 78.4h0M84.7 59.8h0M57.8 76.2h0M51.2 58.2h0M31.1 90.8h0M39.4 2.1h0M34.2 35.8h0M39.3 70.1h0M25.8 78.6h0M51.4 80.8h0M39.2 79.8h0M30.8 6.7h0M26.9 91.4h0M49.7 78.1h0M71.6 60.5h0M53.4 58.3h0M45 21.1h0M38 19.5h0M29.9 93.7h0M66.6 71.1h0M40.7 82.1h0M35.3 74.3h0M48.7 82h0M54.9 23h0M35.8 73.7h0M31.9 71.5h0M39 37.1h0M78 44.3h0M44.6 60.8h0M18 66.9h0M10.3 64.5h0M59.6 75.3h0M25.8 27.1h0M33.8 25.7h0M45.4 50.6h0M17.8 61.1h0M14.8 60.6h0M27.6 21.1h0M40.4 6.9h0M55.9 7.6h0M80.7 54.1h0M36.2 36.5h0M32.9 77.2h0M21 61.4h0M41.4 37.2h0M18.1 69.8h0M40.3 26.9h0M27 67.9h0M32.4 15.9h0M27.3 22.3h0M37.8 31.2h0M20.9 57.4h0M28.6 6.5h0M34.7 94.1h0M81.8 51.5h0M53.7 79.9h0M23.6 69.5h0M49.7 56.9h0M33.4 69.7h0M92.9 70.6h0M51.2 76.2h0M29.4 96.8h0M68.5 72.2h0M44.9 66.5h0M23.7 67.6h0M38.5 90.1h0M10.7 55.3h0M26.4 82.4h0M48.4 59.8h0M32.5 70.5h0M28.6 33h0M45.6 42.9h0M10.1 64.6h0M37.6 77.7h0M101.6 77.3h0M24.7 85.9h0M81.8 55.3h0M20.9 82.3h0M40.7 97.2h0M89.1 53.6h0M49 74.2h0M22.4 18.5h0M46.2 21h0M32 13.1h0M70.5 56.4h0M24 9.2h0M41.7 8.5h0M42 70.5h0M51.7 45.3h0M30 66.1h0M42.6 33.4h0M39.9 66.5h0M71.9 63.3h0M21.3 11.7h0M70.5 57.7h0M36.5 37.1h0M53.2 22.5h0M29.6 10.3h0M86.6 58.4h0M33.8 71.9h0M55.9 79.6h0M29.1 97.2h0M39.2 33.1h0M49.9 28.8h0M15.3 56.9h0M48.4 60.5h0M19.2 82.1h0M32 19.4h0M42.6 85h0M52.1 61.2h0M47 33.5h0M16.8 75.2h0M84.3 46.7h0M34.7 22.7h0M11.6 57.4h0M36.3 31.7h0M36.2 21.6h0M28.3 72.4h0M33.7 90.2h0M45.1 8.4h0M22.1 21.5h0M91.2 54.8h0M38.3 23.4h0M24.2 78.8h0M9.1 64.5h0M18.7 74.5h0M28.9 30.9h0M17.1 88.5h0M44.6 90.3h0M37.3 13.5h0M76.8 56.8h0M22.6 65.8h0M33 27.7h0M22.4 85.1h0M47.6 59.1h0M67 73.5h0M24.4 86h0M37.1 14.9h0M16.6 69.1h0M13.6 64.7h0M36.4 30.2h0M53.4 22.5h0M57.7 14.9h0M30.4 13.8h0M41.6 69.5h0M82.8 57.8h0M17.4 56.2h0M11.2 64.9h0M47.7 65.5h0M38.7 16.2h0M24.3 89.6h0M42.7 22.6h0M49.5 6.7h0M42.7 10.8h0M35.4 92.6h0M59.5 75.7h0M50 18.6h0M56.8 27.7h0M37.8 25.6h0M39.4 98.2h0M37.9 32.9h0M43.6 26.2h0M9.3 64.8h0M35.5 76.2h0M77 57.6h0M16.3 78.4h0M42.8 71.2h0M40 90.8h0M77.9 45.5h0M22.2 22.1h0M89.1 65.5h0M55.6 80.5h0M42.4 98.2h0M32.9 34.1h0M31.6 32h0M42.2 41.8h0M50.8 40.8h0M15.4 64h0M38.2 77.8h0M48.9 11.7h0M30.4 89h0M31.7 84.4h0M50.7 79.3h0M56 75.4h0M42.3 99.4h0M50.7 71.9h0M32.4 98.4h0M33.5 30.1h0"/></g>
<use href="#p487" stroke="#d6d6d6" stroke-width="2.3"/>
<g stroke="#6a6a6a" stroke-width="2.9"><path id="p488" d="M53.4 72.1h0M74 56.1h0M64.8 66.6h0M42.2 80.7h0M27.2 9.6h0M47 29.9h0M36.7 13.4h0M44.2 16.2h0M40.3 92.7h0M24.1 66.9h0M89.3 53h0M45.7 19.3h0M39.3 14.8h0M58 67.2h0M37.9 8.5h0M52.6 60.4h0M38 91.8h0M45.6 5h0M44 16.2h0M30.5 69.5h0M48.5 33.1h0M71.9 58.1h0M16.2 59.6h0M32.2 11.1h0M99.2 76.2h0M67.3 72.1h0M56.7 65.5h0M80.2 47.5h0M46.2 33.9h0M26.3 89h0M21.9 78.4h0M53.3 25.1h0M89.6 67.7h0M34.1 25.2h0M11.8 64.7h0M88.4 53.2h0M52.5 77.8h0M39.4 8.4h0M47.8 61.9h0M44.4 46.1h0M35.1 43.8h0M45.8 64.5h0M18.5 80.4h0M78.9 45.9h0M42.1 16.4h0M76.6 44.9h0M38.3 51.8h0M33.1 5.6h0M45.3 74.3h0M31.4 82.1h0M31.4 91.2h0M26.6 71h0M42.2 42.4h0M32 83h0M28.3 33.1h0M55.4 17.4h0M21.1 10h0M43.7 57.2h0M34.5 76.5h0M46.7 41h0M99 76.3h0M77.2 46.5h0M36.9 20.1h0M31.3 13.8h0M41 1.2h0M33.6 36.6h0M23.2 83.9h0M49.3 59.2h0M29.9 31.7h0M42.9 82.5h0M34.3 38.6h0M32.2 13.4h0M42.1 39.1h0M48.3 46.9h0M12 72.8h0M40.5 12.1h0M39.4 45.6h0M25.7 70.3h0M38.9 80h0M34.5 46h0M16.6 85h0M36.3 88.9h0M32.8 19.7h0M58.7 73.3h0M17.5 59.6h0M51.3 9h0M31.7 6.3h0M25.9 86.2h0M40.1 0.2h0M37.2 11.8h0M24.2 9.7h0M90.6 51.2h0M78 44.8h0M33.7 93.9h0M22.7 8h0M50.3 51.6h0M42.4 85.1h0M35.1 80.7h0M23.6 91.7h0M26.4 28.1h0M38.7 11.4h0M53.5 72.2h0M25.9 9.5h0M27 28.5h0M35.4 18.2h0M39.4 31.6h0M50.3 30.5h0M9 67.2h0M80.4 49.1h0M29.9 67.5h0M74.5 62.5h0M37.4 30.2h0M16.3 73.7h0M28.3 64.7h0M40.2 86h0M43.5 89.5h0M32 17.4h0M36.5 3.7h0M24 84h0M45.8 2.9h0M32.1 71h0M23.8 70.6h0M37.7 14.5h0M50.3 71.8h0M12.2 65.9h0M73.8 50.7h0M45.4 40.3h0M11.3 62h0M51.8 12h0M25.9 72.3h0M88.8 52.3h0M50.8 52.9h0M27.6 86.5h0M86.1 51.1h0M53.2 80.9h0M83.3 51.5h0M27.4 20h0M36.6 43h0M33.6 79.3h0M36.7 72.2h0M28.3 19.2h0M56.9 18.4h0M20.3 73.6h0M51.9 26.4h0M32.8 38.3h0M39.8 88.1h0M32.7 88h0M49.2 9.2h0M86 53.3h0M36.6 89.5h0M20.3 70.3h0M42.8 19.9h0M32.5 93.6h0M52.4 43.3h0M48.7 31.7h0M22 60.7h0M17.5 64.4h0M66.3 69.6h0M32 8.5h0M53.6 9.4h0M89.9 53.5h0M50.2 37.5h0M30.9 92.2h0M54.1 53.8h0M39.2 71.8h0M35.8 102h0M16.8 57h0M8.7 61h0M42.5 4h0M42.9 90.2h0M44.6 17.4h0M46.8 74.1h0M40 18h0M37.6 7.7h0M23.6 16.5h0M31.2 31.7h0M38.6 36.9h0M18.2 66.3h0M51.5 24.7h0M90.8 65.3h0M40.1 27.8h0M36.9 29h0M55.8 21.1h0M34.2 31h0M73.2 54.6h0M26.3 25.7h0M43.1 51.1h0M51.6 79h0M9.1 61.5h0M49.3 52.9h0M43.4 74.8h0M29.3 27.1h0M52.9 74.4h0M18.5 58.1h0M29 83.5h0M49.3 27.4h0M29.9 23h0M29.6 10.1h0M30 90.3h0M31.3 33.3h0M50.3 36h0M37.2 4.1h0M54.1 28.3h0M21.5 69.2h0M28 74.2h0M35.3 32.2h0M51.3 22.4h0M47.8 74.2h0M51.8 74.2h0M76.4 59.5h0M38.4 63.1h0M43.8 88.3h0M57.2 20.4h0M13.8 58.2h0M97.6 73h0M22.6 56.3h0M26.3 11h0M40.1 95.4h0M46.4 58.4h0M31.9 73.2h0M24.5 62.6h0M24.9 94h0M98.6 75.8h0M33 20.5h0M34.3 18.9h0M28.8 31.5h0M48.5 35.7h0M29.7 63.6h0M88.6 60.4h0M10.6 58.9h0M36.1 28.2h0M52.9 29.5h0M24.1 17.7h0M42.3 9.1h0M34.3 69.5h0M21.8 12h0M44.8 6.7h0M51.5 11.5h0M45.1 49.6h0M48.8 40.1h0M47.4 19h0M12.3 68.3h0M20 75.1h0M16.5 81.8h0M41 27.7h0M28.2 27.3h0M34.6 9.4h0M10.3 66.2h0M55.2 28.3h0M19.7 83.4h0M43 94h0M49.5 64.7h0M87.4 52.6h0M46.4 60.8h0M31.6 95.3h0M35.2 17.6h0M35.8 6h0M44.6 95.8h0M45.9 53.1h0M31.3 93.7h0M52.2 50.9h0M33.8 13.4h0M34.4 21.4h0M46 14.2h0M40 5.7h0M59.4 72.9h0M31.3 81.5h0M62.2 78.6h0M98 78.8h0"/></g>
<use href="#p488" stroke="#d6d6d6" stroke-width="2.3"/>
<g stroke="#6a6a6a" stroke-width="2.9"><path id="p489" d="M52.3 32.1h0M40.2 41.7h0M48.8 31.1h0M38.1 14.5h0M36.6 79.8h0M23.9 8.6h0M38.5 37.3h0M22.5 75.8h0M82.7 53.1h0M33 31h0M34.4 73.6h0M28.7 73.6h0M48.4 22.6h0M38.2 80.3h0M44.4 39.4h0M51.9 32.4h0M6.4 59.1h0M21.8 78.1h0M40.7 59.2h0M29.2 8.6h0M20.9 79.4h0M25 81.7h0M12.4 54.9h0M55.5 76.2h0M26 12.6h0M24 92h0M60.9 77.9h0M39.4 36.1h0M52.9 28.6h0M26.2 64.1h0M51.7 12.3h0M47.5 39h0M85.7 50.1h0M49.8 15.8h0M26.1 21.4h0M82.4 48.2h0M23.6 91.5h0M26.7 65.5h0M38.6 15.6h0M28.8 98.3h0M24.6 14.8h0M31.8 32.5h0M22.9 85.3h0M39.3 25.1h0M23.2 87h0M48.5 31.3h0M33 76.2h0M41.7 45h0M11.1 56.3h0M98 73.3h0M86.7 52.4h0M79.2 56.8h0M43.5 87.2h0M39.9 75.9h0M8.5 57.9h0M10.7 58.3h0M53.6 59.6h0M25.9 14.1h0M46.4 20.4h0M73.8 60h0M51.9 78.2h0M35.7 80.5h0M37.5 49h0M16.4 63.1h0M92.1 68.5h0M19 71.6h0M39.6 1.5h0M24.4 61.6h0M38 84h0M58.8 13.6h0M42.3 73.3h0M36 37.8h0M24.7 84.8h0M55.6 9.4h0M51.9 50.6h0M19.3 59.4h0M38.2 97.5h0M43.5 28.7h0M34.4 8.1h0M40.7 82.8h0M39 43.5h0M28.2 3.6h0M47.8 78.1h0M16.8 79h0M35.7 24.8h0M27.5 13.5h0M19.4 63.5h0M50.8 83.5h0M30.3 31.2h0M50.1 24.2h0M20.6 74.2h0M22.6 15.1h0M39.2 2.8h0M32.9 81h0M26.5 74.5h0M35.5 36.3h0M39.2 99h0M81.4 52.1h0M32 96.9h0M25.8 78.1h0M35.7 23.5h0M28.5 27.5h0M31.6 35.8h0M5.7 56h0M75.1 65.4h0M83.3 60.6h0M24.7 67.1h0M56.1 79.6h0M26.6 93.3h0M72.9 63.9h0M35 77h0M55 60.2h0M42.7 70.3h0M50.6 19.1h0M9.8 61.5h0M41.9 16.1h0M10.8 59.9h0M51.7 26.2h0M20.4 75.8h0M42.6 27.5h0M47.9 46.2h0M30.9 33.5h0M14.4 76.5h0M83.8 57.6h0M40.3 87.3h0M66.7 71.2h0M64 72.7h0M91.7 71h0M35 70.9h0M39.7 40.5h0M14 73.7h0M51.9 66.9h0M31.1 29.3h0M31.5 87.9h0M80.1 45.5h0M18.7 58.4h0M47.5 4.9h0M54.2 24.8h0M41.5 78.2h0M40.9 30.2h0M25.8 84.3h0M54.3 78.6h0M57.3 58.5h0M26.3 23.7h0M8.7 57.8h0M26.9 71.8h0M45.9 27.8h0M38.6 6.7h0M31.6 32h0M12.9 78.4h0M36.4 97.6h0M26.3 6.3h0M51.9 58.5h0M45.8 77.6h0M84.9 59.2h0M30.2 8h0M41.1 24.4h0M30.7 34.1h0M45.5 60.4h0M88.4 47.3h0M37.7 95.6h0M14 56.3h0M62.7 71h0M74.5 53.4h0M21.4 73.3h0M29.5 93.2h0M44.6 14.2h0M45.5 40.4h0M41.9 56.9h0M71 61.4h0M18.9 69.9h0M13.2 54h0M24.9 26.6h0M27.3 73.1h0M42.4 91.9h0M10.6 55.9h0M44.9 5.8h0M26 86.8h0M50.5 8.8h0M41 8.9h0M31.1 70.8h0M40.6 53.3h0M50.9 36.4h0M37.5 47.3h0M38.4 84.1h0M49.5 57.8h0M54 66.9h0M45.7 2.2h0M93.9 70.4h0M54.1 13.4h0M40.5 64.1h0M49.1 58.2h0M27.5 18.2h0M72.7 57.5h0M14 66.6h0M58.2 78.8h0M23.9 77.7h0M20.2 58.2h0M42 93.5h0M57 74h0M25.9 81.8h0M21.8 67.6h0M13.8 69.7h0M43.2 43.4h0M31 7.7h0M23.8 8.5h0M44.6 2h0M37.6 16.2h0M53.2 18.6h0M48.8 58.1h0M46 11.6h0M28.7 67.5h0M16.4 76.6h0M51.6 23.7h0M39.8 64h0M22.1 87h0M71.9 52.2h0M35.3 31.6h0M37.7 34.3h0M67.5 73h0M90.6 54.4h0M24.4 78.7h0M46 48.5h0M26.3 84.7h0M30.9 16.4h0M40.2 62.8h0M38.3 9.4h0M51 41h0M49.4 31.3h0M40.6 66.8h0M27.7 83.9h0M47.2 33h0M22 13h0M38.5 21.4h0M31.9 93.2h0M34.9 91.3h0M51.9 18h0M25.5 65.1h0M53.2 78.9h0M33.1 24.4h0M17.4 55.1h0M25.1 70.3h0M31.9 81.5h0M43.8 38.2h0M37.9 34h0M35.8 31.2h0M42.3 47.9h0M33.3 31.7h0M89.5 49.6h0M44.8 76.8h0M33.2 27h0M32.5 99.4h0M49.1 21.2h0M31.7 33h0M49.8 30.3h0M47.1 79.2h0M96.2 70.8h0M38.3 22.2h0M19.4 81.4h0M31.3 82.3h0M10.8 66.7h0M47.5 75.2h0M47.4 58.7h0M39.4 26.6h0M38.7 99.6h0M11.6 67.9h0M31 74.4h0M40.5 6.1h0M43.6 63h0"/></g>
<use href="#p489" stroke="#d6d6d6" stroke-width="2.3"/>
<g stroke="#6a6a6a" stroke-width="2.9"><path id="p490" d="M48.7 51.3h0M37.9 29.5h0M41.4 65.5h0M51.6 25.7h0M28.6 66.8h0M37.9 8.4h0M26.3 69.2h0M40 100.5h0M44.3 39.7h0M20.9 70.8h0M32.5 81.5h0M21.3 56.9h0M33.7 95.5h0M42.7 66.7h0M43.7 21.9h0M26 81h0M48.2 6.6h0M13.8 64.8h0M22.8 87.7h0M26.2 92.3h0M17.4 79.5h0M48.5 36.5h0M26.3 85.5h0M40.4 1.8h0M46.7 11.1h0M79.2 64.9h0M17.9 66.5h0M49.5 80.6h0M23.2 68h0M73.8 57.9h0M41.1 93.6h0M50.3 22h0M28.2 80h0M16.8 85.7h0M86.3 51.9h0M50 79.6h0M38.6 81.1h0M88 49.4h0M76.3 51.9h0M81.1 55.6h0M50.9 62.2h0M38.8 14.6h0M55.9 79.6h0M34.2 95.5h0M36.5 80.9h0M36.3 71.2h0M34.8 13.5h0M44.6 55.6h0M49.8 70.7h0M32.3 30.3h0M43.6 28.1h0M42 94.5h0M53.3 15.9h0M38.7 50h0M31.3 8.5h0M76.2 44.8h0M21.5 55.7h0M37 24.8h0M31.8 96.2h0M22.8 22.9h0M48 57.5h0M56 67.2h0M31.7 78.9h0M59.7 72.7h0M79.4 61.2h0M21.1 6.7h0M18.5 80.5h0M41.9 39.2h0M39.9 89.5h0M42.1 82.9h0M88.5 48.1h0M26.1 70.6h0M87.4 46.8h0M50.5 76.2h0M50.5 67h0M17.9 64.2h0M32.7 66.9h0M53.8 71.1h0M25.5 93.2h0M42.2 40.1h0M40 15.3h0M38.4 48.1h0M53.6 18.1h0M53.7 71.8h0M45.6 64.4h0M47.4 55h0M19.9 14.3h0M29.4 33.4h0M33.7 5.8h0M83.7 55.7h0M39.6 86.2h0M27.4 23.5h0M80.9 54.8h0M38.8 94.2h0M46.9 37.3h0M81.3 61.1h0M20.6 67.7h0M39.5 41.9h0M37.2 17.2h0M75 47.5h0M83.1 47.7h0M36.2 31.3h0M41 100.4h0M22.2 93.8h0M24.8 13.8h0M85.5 47.6h0M15 69.3h0M32.5 16.6h0M22.3 60.3h0M46.7 58.4h0M82.2 53.2h0M53.2 61.7h0M48.7 65.9h0M34.8 92.1h0M21.4 80.1h0M100.6 77.9h0M20.4 66.7h0M56.3 8.2h0M64.8 75.8h0M57.9 17.3h0M56.6 81.9h0M32.7 31.2h0M22.1 77.2h0M40.8 14h0M9.1 55.3h0M38.7 11.8h0M48.3 46.9h0M31.2 12.3h0M54.4 10.7h0M54.3 55h0M34.1 14.3h0M20.5 60.8h0M48.5 64.8h0M44.8 19.2h0M34.3 76.7h0M19.4 90.2h0M23.6 82.3h0M18.9 87.3h0M44.7 47.5h0M20.2 58.7h0M45.3 14.3h0M23.3 67.8h0M39.2 99.5h0M82.3 54h0M21.7 87.4h0M20.4 67.2h0M40.9 11.3h0M62.5 74h0M19.6 68.5h0M24.3 66.4h0M26.7 76.6h0M28.1 71.1h0M101.3 78.1h0M47.9 20.1h0M26.8 75.8h0M15.8 77.6h0M49.7 46.5h0M12.4 61.8h0M53.6 33.3h0M43.6 73.8h0M101.8 76.7h0M8.3 56.2h0M32.7 26h0M27.1 91.4h0M76 55.8h0M49 53.4h0M66.1 70.3h0M26 79.1h0M39.2 66.5h0M35 97h0M95.6 71h0M41.7 92.2h0M43.3 17.6h0M26.2 8.9h0M46.1 64.4h0M38.2 9.1h0M78.7 43.9h0M85.3 53.1h0M80.9 56.2h0M28.6 97.9h0M53 56.7h0M56 73.7h0M19.7 74.5h0M46.1 45.9h0M38.9 90.4h0M40.9 45.7h0M39.5 92.3h0M27.9 86.8h0M36.5 10.4h0M40.5 49.4h0M24.5 81h0M23.9 70.3h0M81 58.1h0M37.6 16.8h0M43.4 87.5h0M50.7 79.7h0M51.4 80.7h0M38.4 19.6h0M26.3 25.3h0M41.1 73.3h0M18.1 58.9h0M43.4 1.2h0M26.6 85.8h0M51.2 32.6h0M41.1 62.3h0M47.5 21.6h0M15.1 80.2h0M29.9 88.1h0M52.2 25.8h0M13.8 69.3h0M55.3 74.4h0M39 86h0M22.1 62.4h0M48.4 63.7h0M29.4 30.2h0M73 55.9h0M64.4 74.3h0M31.2 74.9h0M17.5 68h0M72.1 58.7h0M36.2 15.5h0M37.2 20.3h0M46.6 35.2h0M76.1 42.8h0M74.3 52.7h0M23.1 67.3h0M42.9 48.7h0M19.5 86.4h0M62.5 74.2h0M39 15.2h0M24.9 10.9h0M20.2 55.4h0M49.2 55.4h0M92.1 69.7h0M33.3 98.2h0M10.6 73.4h0M39.4 74.5h0M87.6 48.3h0M50.8 9.6h0M70.9 47.2h0M68.9 55.2h0M44.5 30.2h0M44.7 78.4h0M56.8 75h0M26.4 68.4h0M49.8 13h0M15.2 84.1h0M42.4 7.2h0"/></g>
<g stroke="#34403e" stroke-width="2.84">
<path id="p491" d="M47.2 56.8h0M53 73.1h0M12.5 66.7h0"/>
<path id="p492" d="M35.5 44.9h0M51.7 20.8h0M46 23.3h0M44.2 66.8h0"/>
<path id="p493" d="M41.2 18.1h0M16.6 86.6h0M31.2 22.3h0M52.5 15.3h0M49.5 30.7h0"/>
<path id="p494" d="M43.1 5.3h0M84.6 52.3h0M54.8 14.8h0"/>
<path id="p495" d="M29.1 92.3h0M84.9 53.4h0M47.1 68.7h0"/>
<path id="p496" d="M85.4 53.5h0M54.3 53h0"/>
<path id="p497" d="M88.2 59.8h0"/>
</g>
<use href="#p490" stroke="#d6d6d6" stroke-width="2.3"/>
<use href="#p491" stroke="#bddf26" stroke-width="2.3"/>
<use href="#p492" stroke="#44bf70" stroke-width="2.3"/>
<use href="#p493" stroke="#7ad151" stroke-width="2.3"/>
<use href="#p494" stroke="#22a884" stroke-width="2.3"/>
<use href="#p495" stroke="#21918c" stroke-width="2.3"/>
<use href="#p496" stroke="#fde725" stroke-width="2.3"/>
<use href="#p497" stroke="#414487" stroke-width="2.3"/>
<g stroke="#6a6a6a" stroke-width="2.9"><path id="p498" d="M34.4 15h0M54.1 14.7h0M53.6 14.7h0M48.3 47.8h0M53.3 44.8h0M47.2 52.8h0M24.2 79.4h0M28.2 18.9h0M27.4 31h0M26.7 14.6h0M50.8 34.1h0M33.8 87.6h0M10.5 55.4h0M92.5 72.2h0M16.6 65.4h0M47.6 53.4h0M82.4 56.2h0M40.5 7.2h0M22.9 21.4h0M74.3 66.3h0M46.8 43h0M44.7 34.9h0M56.2 20.5h0M22 83.3h0M44.3 23.8h0M18.6 56.9h0M41.8 25.1h0M73.8 45.5h0M11.1 58.1h0M22.4 85.8h0M36.1 38.3h0M44.8 5.1h0M46.2 47.9h0M39.8 12.3h0M51.8 62.3h0M10.3 57.1h0M34.5 80.9h0M48.5 75.1h0M30.4 82.6h0M85.5 60.2h0M77.4 45.5h0M30.8 100h0M43.5 14.9h0M60.6 74.7h0M24 88.7h0M79.6 46.3h0M21 92.2h0M28.5 79.4h0M98.3 77h0M95 69.9h0M33.4 2.8h0M22.2 79.6h0M32.7 85.4h0M80.6 49.6h0M85.4 58.1h0M36 13.2h0M53.3 79.1h0M37.3 77.6h0M39.4 101.3h0M27.4 23.1h0M23.4 8.6h0M37.1 99.3h0M36.2 92.8h0M46.2 52.2h0M33.5 87.1h0M88.7 49.3h0M27.4 5h0M34.2 31.6h0M13.6 74.4h0M35.6 102.7h0M96.1 76h0M75.2 51.1h0M41.3 65.1h0M45.2 17h0M43.4 71.6h0M41.1 38h0M44.7 17.1h0M33.9 7.8h0M66.1 74.5h0M51.4 65.3h0M35.1 34.5h0M50.1 10.2h0M56.4 22.3h0M26.4 5.3h0M48.5 19.4h0M53.3 28.2h0M34.1 41.5h0M34.4 74.5h0M35.1 80.4h0M39.1 43.9h0M35.4 32.5h0M51.4 29.4h0M53.3 47.3h0M45.4 29.4h0M23.9 20.9h0M24.4 12.2h0M18 61h0M57.1 17.5h0M50.7 9.4h0M52.5 10.7h0M37.1 49.4h0M35.4 81.7h0M34.6 87.8h0M94.1 73.6h0M43.5 18.2h0M39.9 1.7h0M12.2 61.4h0M86 56.9h0M34.2 31.3h0M30.2 10.4h0M21.3 87.2h0M22.9 67.8h0M29.8 97.4h0M35.1 4.1h0M53.5 15.7h0M48 31.7h0M22.8 66.8h0M9.4 56.2h0M50.1 49.1h0M32.8 74.1h0M23.3 91h0M40.5 5.6h0M45.7 5.5h0M54.8 55.6h0M42.4 81.9h0M52.1 12.2h0M70 62.6h0M42.7 37.3h0M78.6 61.9h0M25 80.7h0M32.1 77.5h0M35.6 13.8h0M39.4 35.5h0M33.7 93.2h0M39 34.8h0M30.9 98.8h0M31 86.7h0M46.9 35.9h0M22.5 16.4h0M43 47.8h0M84.5 56.8h0M49.3 26.8h0M50.5 24.2h0M48.7 55h0M33.8 15h0M18.4 56.5h0M19 69.2h0M50.3 74.7h0M32.8 4.1h0M38 21.7h0M90.3 65.5h0M24.9 96.9h0M27.4 5.6h0M20.5 59.5h0M55.1 16.3h0M27.1 19.2h0M72.2 53.6h0M23.7 66.9h0M49.7 3.7h0M30.9 15.3h0M35.8 30.6h0M35.1 75.1h0M38.9 11.1h0M10 57.6h0M21.3 65.4h0M53.2 51.9h0M38.7 4.4h0M98.2 76.8h0M43.6 49h0M47.3 59.9h0M23.3 70.2h0M29.4 27.9h0M47.4 60.3h0M81.9 57.1h0M83.8 54.8h0M64.2 76.1h0M73 61.8h0M30 80.4h0M42.9 41.5h0M16 68.9h0M50.9 66.3h0M75.8 48.1h0M48.7 4.3h0M17.3 79.1h0M34.3 11.4h0M49.4 17.2h0M34.7 92.8h0M88.9 67.5h0M13.7 74.8h0M72.1 58.4h0M51 6.6h0M37.1 87.9h0M47 9h0M42.8 95.7h0"/></g>
<g stroke="#34403e" stroke-width="2.84">
<path id="p499" d="M40.7 86.9h0M35.9 85.6h0M28.3 26.7h0M55 15.1h0M11.5 62.4h0M11 68.4h0M35 23h0M53 80.8h0"/>
<path id="p500" d="M55.3 67h0M47.5 5.6h0M20.8 86.3h0M25 9.7h0M86.3 54.2h0M43.4 46.8h0M51 74.5h0M52.5 60.9h0M32.5 13.3h0M67.1 72.9h0"/>
<path id="p501" d="M49.6 78.2h0M73.9 59.9h0M44.1 25.7h0M51.3 25.2h0M37.5 43.5h0M26.5 83.2h0M75 59h0M74.6 53.4h0M35.6 85.6h0M81.5 51.3h0M58 71.2h0"/>
<path id="p502" d="M38.9 93h0M13.6 60h0M36.7 6.1h0M34.5 23.9h0M45.4 56.4h0M25.7 69.2h0M46 21h0M47.9 27.2h0M49.2 81.5h0M46 10.3h0"/>
<path id="p503" d="M46.7 20.2h0M46.4 23.8h0M74.4 58.6h0M88.3 51.6h0"/>
<path id="p504" d="M41.2 84.3h0M33.2 18.6h0M80.8 57.8h0M69.2 58.5h0M28.9 84.1h0M49 47h0M71.4 49.2h0M40.7 49.5h0"/>
<path id="p505" d="M77.4 62.8h0M44.8 38.4h0M23.8 76.1h0M19.2 57.3h0M9.8 67.5h0M53.7 15.7h0M27.7 87.1h0M26 94.1h0M35 77.1h0M22.3 91h0M57.6 78.3h0M25.7 25.5h0M48.3 23.2h0"/>
<path id="p506" d="M81.7 60.5h0M90.4 54.2h0"/>
<path id="p507" d="M86.4 46.7h0M13.1 77.2h0"/>
<path id="p508" d="M45.8 70.8h0"/>
<path id="p509" d="M82.4 58h0"/>
</g>
<use href="#p498" stroke="#d6d6d6" stroke-width="2.3"/>
<use href="#p499" stroke="#7ad151" stroke-width="2.3"/>
<use href="#p500" stroke="#bddf26" stroke-width="2.3"/>
<use href="#p501" stroke="#22a884" stroke-width="2.3"/>
<use href="#p502" stroke="#fde725" stroke-width="2.3"/>
<use href="#p503" stroke="#2a788e" stroke-width="2.3"/>
<use href="#p504" stroke="#21918c" stroke-width="2.3"/>
<use href="#p505" stroke="#44bf70" stroke-width="2.3"/>
<use href="#p506" stroke="#482475" stroke-width="2.3"/>
<use href="#p507" stroke="#414487" stroke-width="2.3"/>
<use href="#p508" stroke="#355f8d" stroke-width="2.3"/>
<use href="#p509" stroke="#440154" stroke-width="2.3"/>
</g>
<rect x="579.5" y="681.4" width="104.6" height="105" fill="none" stroke="#111" stroke-width="1.15"/>
<rect x="640.2" y="686.5" width="40.8" height="3.1" fill="url(#gh)"/>
<text x="639.2" y="700" font-size="10.7" fill="#111">-4</text>
<text x="680.7" y="700" font-size="10.7" fill="#111" text-anchor="end">-0.5</text>
<path d="M37.7 523.8V622.3H130.1M51.3 622.3v2M73 622.3v2M94.7 622.3v2M116.4 622.3v2" stroke="#151515" stroke-width="1.3" fill="none"/>
<text x="35.6" y="543.8" font-size="11.2" fill="#111" text-anchor="end">5</text>
<text x="35.6" y="618.8" font-size="11.2" fill="#111" text-anchor="end">1</text>
<path d="M41.8 617.9L41.7 617.1L41.7 616.2L41.7 615.4L41.8 614.5L41.9 613.7L42 612.8L42.2 612L42.5 611.2L42.8 610.3L43.2 609.5L43.7 608.6L44.1 607.8L44.6 606.9L45.2 606.1L45.8 605.3L46.4 604.4L46.9 603.6L47.5 602.7L48 601.9L48.5 601.1L49 600.2L49.5 599.4L50 598.5L50.3 597.7L50.6 596.8L50.7 596L51.3 596L51.4 596.8L51.7 597.7L52 598.5L52.5 599.4L53 600.2L53.5 601.1L54 601.9L54.5 602.7L55.1 603.6L55.6 604.4L56.2 605.3L56.8 606.1L57.4 606.9L57.9 607.8L58.3 608.6L58.8 609.5L59.2 610.3L59.5 611.2L59.8 612L60 612.8L60.1 613.7L60.2 614.5L60.3 615.4L60.3 616.2L60.3 617.1L60.2 617.9Z" fill="#F8766D" stroke="#1c1c1c" stroke-width="1.05" stroke-linejoin="round"/>
<path d="M72.8 578.4V528.7" stroke="#1c1c1c" stroke-width="1.0" fill="none"/>
<path d="M63.3 617.9L63.3 617.1L63.2 616.3L63.2 615.5L63.2 614.6L63.2 613.8L63.2 613L63.3 612.2L63.4 611.4L63.5 610.6L63.6 609.7L63.8 608.9L64.2 608.1L64.6 607.3L65.1 606.5L65.6 605.7L66.2 604.8L66.9 604L67.5 603.2L68 602.4L68.3 601.6L68.7 600.8L69 599.9L69.2 599.1L69.5 598.3L69.7 597.5L69.9 596.7L70.1 595.9L70.3 595L70.4 594.2L70.6 593.4L70.8 592.6L70.9 591.8L71 591L71.2 590.1L71.3 589.3L71.4 588.5L71.6 587.7L71.7 586.9L71.8 586.1L72 585.2L72.1 584.4L72.2 583.6L72.2 582.8L72.3 582L72.3 581.2L72.3 580.3L72.4 579.5L72.4 578.7L72.4 577.9L73.2 577.9L73.2 578.7L73.2 579.5L73.3 580.3L73.3 581.2L73.3 582L73.4 582.8L73.4 583.6L73.5 584.4L73.6 585.2L73.8 586.1L73.9 586.9L74 587.7L74.2 588.5L74.3 589.3L74.4 590.1L74.6 591L74.7 591.8L74.8 592.6L75 593.4L75.2 594.2L75.3 595L75.5 595.9L75.7 596.7L75.9 597.5L76.1 598.3L76.4 599.1L76.6 599.9L76.9 600.8L77.3 601.6L77.6 602.4L78.1 603.2L78.7 604L79.4 604.8L80 605.7L80.5 606.5L81 607.3L81.4 608.1L81.8 608.9L82 609.7L82.1 610.6L82.2 611.4L82.3 612.2L82.4 613L82.4 613.8L82.4 614.6L82.4 615.5L82.4 616.3L82.3 617.1L82.3 617.9Z" fill="#7CAE00" stroke="#1c1c1c" stroke-width="1.05" stroke-linejoin="round"/>
<path d="M84.6 617.9L85.1 617L85.7 616.2L86.8 615.3L88.1 614.5L89 613.6L89.6 612.8L89.9 611.9L90.1 611L90.3 610.2L90.4 609.3L90.5 608.5L90.5 607.6L90.5 606.7L90.5 605.9L90.5 605L90.5 604.2L90.5 603.3L90.5 602.4L90.6 601.6L90.7 600.7L90.9 599.9L91.2 599L91.8 598.2L93.6 597.3L95.2 597.3L97 598.2L97.6 599L97.9 599.9L98.1 600.7L98.2 601.6L98.3 602.4L98.3 603.3L98.3 604.2L98.3 605L98.3 605.9L98.3 606.7L98.3 607.6L98.3 608.5L98.4 609.3L98.5 610.2L98.7 611L98.9 611.9L99.2 612.8L99.8 613.6L100.7 614.5L102 615.3L103.1 616.2L103.7 617L104.2 617.9Z" fill="#00BFC4" stroke="#1c1c1c" stroke-width="1.05" stroke-linejoin="round"/>
<path d="M116.3 572V537" stroke="#1c1c1c" stroke-width="1.0" fill="none"/>
<path d="M106.5 617.9L106.7 617.1L107 616.2L107.3 615.4L107.6 614.6L108 613.8L108.5 612.9L108.8 612.1L109.1 611.3L109.4 610.4L109.6 609.6L109.9 608.8L110.1 608L110.3 607.1L110.6 606.3L110.8 605.5L111 604.6L111.2 603.8L111.5 603L111.7 602.2L111.9 601.3L112.1 600.5L112.3 599.7L112.5 598.8L112.7 598L112.8 597.2L113 596.4L113.2 595.5L113.3 594.7L113.5 593.9L113.6 593L113.7 592.2L113.9 591.4L114 590.6L114.1 589.7L114.2 588.9L114.4 588.1L114.5 587.2L114.6 586.4L114.7 585.6L114.8 584.8L114.9 583.9L115 583.1L115.1 582.3L115.2 581.4L115.3 580.6L115.4 579.8L115.5 579L115.5 578.1L115.6 577.3L115.7 576.5L115.7 575.6L115.8 574.8L115.8 574L115.8 573.2L115.9 572.3L115.9 571.5L116.7 571.5L116.7 572.3L116.8 573.2L116.8 574L116.8 574.8L116.9 575.6L116.9 576.5L117 577.3L117.1 578.1L117.1 579L117.2 579.8L117.3 580.6L117.4 581.4L117.5 582.3L117.6 583.1L117.7 583.9L117.8 584.8L117.9 585.6L118 586.4L118.1 587.2L118.2 588.1L118.4 588.9L118.5 589.7L118.6 590.6L118.7 591.4L118.9 592.2L119 593L119.1 593.9L119.3 594.7L119.4 595.5L119.6 596.4L119.8 597.2L119.9 598L120.1 598.8L120.3 599.7L120.5 600.5L120.7 601.3L120.9 602.2L121.1 603L121.4 603.8L121.6 604.6L121.8 605.5L122 606.3L122.3 607.1L122.5 608L122.7 608.8L123 609.6L123.2 610.4L123.5 611.3L123.8 612.1L124.1 612.9L124.6 613.8L125 614.6L125.3 615.4L125.6 616.2L125.9 617.1L126.1 617.9Z" fill="#C77CFF" stroke="#1c1c1c" stroke-width="1.05" stroke-linejoin="round"/>
<path d="M146 523.8V622H238.4M159.6 622v2M181.3 622v2M203 622v2M224.7 622v2" stroke="#151515" stroke-width="1.3" fill="none"/>
<text x="143.9" y="619.5" font-size="11.2" fill="#111" text-anchor="end">1</text>
<path d="M159.6 614.6V560.2" stroke="#1c1c1c" stroke-width="1.05" fill="none"/>
<path d="M159.6 609.5h0M159.6 606h0M159.6 601h0M159.6 596h0M159.6 590h0M159.6 584h0" stroke="#222" stroke-width="1.3" stroke-linecap="round" fill="none"/>
<path d="M149.6 614.6Q156.6 614 159.6 612Q162.6 614 169.6 614.6Q162.6 615.2 159.6 617.3Q156.6 615.2 149.6 614.6Z" fill="#F8766D" stroke="#1c1c1c" stroke-width="0.85" stroke-linejoin="round"/>
<path d="M181.3 614.6V556.5" stroke="#1c1c1c" stroke-width="1.05" fill="none"/>
<path d="M181.3 609.5h0M181.3 606h0M181.3 601h0M181.3 596h0M181.3 590h0M181.3 584h0" stroke="#222" stroke-width="1.3" stroke-linecap="round" fill="none"/>
<path d="M171.3 614.6Q178.3 614 181.3 612Q184.3 614 191.3 614.6Q184.3 615.2 181.3 617.3Q178.3 615.2 171.3 614.6Z" fill="#7CAE00" stroke="#1c1c1c" stroke-width="0.85" stroke-linejoin="round"/>
<path d="M203 614.6V582.3" stroke="#1c1c1c" stroke-width="1.05" fill="none"/>
<path d="M203 609.5h0M203 606h0M203 601h0M203 596h0M203 590h0M203 584h0" stroke="#222" stroke-width="1.3" stroke-linecap="round" fill="none"/>
<path d="M193 614.6Q200 614 203 612Q206 614 213 614.6Q206 615.2 203 617.3Q200 615.2 193 614.6Z" fill="#00BFC4" stroke="#1c1c1c" stroke-width="0.85" stroke-linejoin="round"/>
<path d="M224.7 614.6V528" stroke="#1c1c1c" stroke-width="1.05" fill="none"/>
<path d="M224.7 605h0M224.7 600h0M224.7 580h0M224.7 560h0" stroke="#222" stroke-width="1.3" stroke-linecap="round" fill="none"/>
<path d="M214.7 614.6Q221.7 614 224.7 612Q227.7 614 234.7 614.6Q227.7 615.2 224.7 617.3Q221.7 615.2 214.7 614.6Z" fill="#C77CFF" stroke="#1c1c1c" stroke-width="0.85" stroke-linejoin="round"/>
<path d="M254.5 523.8V621.9H346.9M268.1 621.9v2M289.8 621.9v2M311.5 621.9v2M333.2 621.9v2" stroke="#151515" stroke-width="1.3" fill="none"/>
<text x="252.4" y="536.6" font-size="11.2" fill="#111" text-anchor="end">3</text>
<text x="252.4" y="619.5" font-size="11.2" fill="#111" text-anchor="end">1</text>
<path d="M263.2 616.9L262.5 616.1L261.8 615.2L261.2 614.4L260.6 613.6L260.1 612.7L259.6 611.9L259.2 611.1L258.9 610.2L258.8 609.4L258.7 608.6L258.7 607.7L258.7 606.9L258.6 606.1L258.6 605.3L258.6 604.4L258.6 603.6L258.7 602.8L258.9 601.9L259.2 601.1L259.6 600.3L259.9 599.4L260.3 598.6L260.7 597.8L261.2 596.9L261.7 596.1L262.2 595.3L262.7 594.4L263.2 593.6L263.7 592.8L264.2 591.9L264.7 591.1L265.2 590.3L265.6 589.4L266.1 588.6L266.4 587.8L266.7 587L266.9 586.1L267.1 585.3L267.2 584.5L267.3 583.6L267.3 582.8L267.4 582L267.4 581.1L267.5 580.3L267.5 579.5L267.5 578.6L267.5 577.8L268.2 577.8L268.3 578.6L268.3 579.5L268.3 580.3L268.4 581.1L268.4 582L268.5 582.8L268.5 583.6L268.6 584.5L268.7 585.3L268.9 586.1L269.1 587L269.4 587.8L269.7 588.6L270.2 589.4L270.6 590.3L271.1 591.1L271.6 591.9L272.1 592.8L272.6 593.6L273.1 594.4L273.6 595.3L274.1 596.1L274.6 596.9L275.1 597.8L275.5 598.6L275.9 599.4L276.2 600.3L276.6 601.1L276.9 601.9L277.1 602.8L277.2 603.6L277.2 604.4L277.2 605.3L277.2 606.1L277.1 606.9L277.1 607.7L277.1 608.6L277 609.4L276.9 610.2L276.6 611.1L276.2 611.9L275.7 612.7L275.2 613.6L274.6 614.4L274 615.2L273.3 616.1L272.6 616.9Z" fill="#F8766D" stroke="#1c1c1c" stroke-width="1.05" stroke-linejoin="round"/>
<path d="M289.5 567.8V543.5" stroke="#1c1c1c" stroke-width="1.0" fill="none"/>
<path d="M279.7 616.9L280 616.1L280.4 615.3L280.8 614.5L281.5 613.6L282.1 612.8L282.5 612L282.5 611.2L282.4 610.4L282.2 609.6L282 608.8L281.9 608L281.7 607.1L281.5 606.3L281.4 605.5L281.3 604.7L281.2 603.9L281.2 603.1L281.4 602.3L281.6 601.5L281.8 600.6L282.1 599.8L282.3 599L282.7 598.2L283.1 597.4L283.6 596.6L284 595.8L284.4 594.9L284.8 594.1L285.2 593.3L285.5 592.5L285.9 591.7L286.2 590.9L286.5 590.1L286.8 589.3L287 588.4L287.3 587.6L287.5 586.8L287.6 586L287.8 585.2L288 584.4L288.1 583.6L288.2 582.7L288.3 581.9L288.4 581.1L288.5 580.3L288.6 579.5L288.7 578.7L288.7 577.9L288.8 577.1L288.8 576.2L288.9 575.4L288.9 574.6L288.9 573.8L289 573L289 572.2L289 571.4L289 570.6L289.1 569.7L289.1 568.9L289.1 568.1L289.1 567.3L289.9 567.3L289.9 568.1L289.9 568.9L289.9 569.7L290 570.6L290 571.4L290 572.2L290 573L290.1 573.8L290.1 574.6L290.1 575.4L290.2 576.2L290.2 577.1L290.3 577.9L290.3 578.7L290.4 579.5L290.5 580.3L290.6 581.1L290.7 581.9L290.8 582.7L290.9 583.6L291 584.4L291.2 585.2L291.4 586L291.5 586.8L291.7 587.6L292 588.4L292.2 589.3L292.5 590.1L292.8 590.9L293.1 591.7L293.5 592.5L293.8 593.3L294.2 594.1L294.6 594.9L295 595.8L295.4 596.6L295.9 597.4L296.3 598.2L296.7 599L296.9 599.8L297.2 600.6L297.4 601.5L297.6 602.3L297.8 603.1L297.8 603.9L297.7 604.7L297.6 605.5L297.5 606.3L297.3 607.1L297.1 608L297 608.8L296.8 609.6L296.6 610.4L296.5 611.2L296.5 612L296.9 612.8L297.5 613.6L298.2 614.5L298.6 615.3L299 616.1L299.3 616.9Z" fill="#7CAE00" stroke="#1c1c1c" stroke-width="1.05" stroke-linejoin="round"/>
<path d="M304.8 616.9L304.7 616.1L304.6 615.3L304.5 614.4L304.3 613.6L304.1 612.8L303.9 612L303.7 611.2L303.4 610.4L303.1 609.5L302.7 608.7L302.3 607.9L302 607.1L301.8 606.3L301.8 605.5L301.9 604.6L302 603.8L302.2 603L302.4 602.2L302.7 601.4L303.2 600.6L303.6 599.8L304.2 598.9L304.7 598.1L305.1 597.3L305.6 596.5L306.1 595.7L306.5 594.9L307 594L307.5 593.2L307.9 592.4L308.4 591.6L308.9 590.8L309.3 589.9L309.6 589.1L309.9 588.3L310.2 587.5L310.5 586.7L310.6 585.9L310.6 585L310.6 584.2L310.6 583.4L310.6 582.6L310.6 581.8L310.5 581L310.4 580.1L310.3 579.3L310.1 578.5L309.9 577.7L309.8 576.9L309.6 576.1L309.5 575.2L309.5 574.4L309.6 573.6L309.7 572.8L313.1 572.8L313.2 573.6L313.3 574.4L313.3 575.2L313.2 576.1L313 576.9L312.9 577.7L312.7 578.5L312.5 579.3L312.4 580.1L312.3 581L312.2 581.8L312.2 582.6L312.2 583.4L312.2 584.2L312.2 585L312.2 585.9L312.3 586.7L312.6 587.5L312.9 588.3L313.2 589.1L313.5 589.9L313.9 590.8L314.4 591.6L314.9 592.4L315.3 593.2L315.8 594L316.3 594.9L316.7 595.7L317.2 596.5L317.7 597.3L318.1 598.1L318.6 598.9L319.2 599.8L319.6 600.6L320.1 601.4L320.4 602.2L320.6 603L320.8 603.8L320.9 604.6L321 605.5L321 606.3L320.8 607.1L320.5 607.9L320.1 608.7L319.7 609.5L319.4 610.4L319.1 611.2L318.9 612L318.7 612.8L318.5 613.6L318.3 614.4L318.2 615.3L318.1 616.1L318 616.9Z" fill="#00BFC4" stroke="#1c1c1c" stroke-width="1.05" stroke-linejoin="round"/>
<path d="M333.3 575.1V527.7" stroke="#1c1c1c" stroke-width="1.0" fill="none"/>
<path d="M323.5 616.9L324 616.1L324.7 615.2L326 614.4L327.2 613.6L327.8 612.8L328.2 611.9L328.5 611.1L328.7 610.3L328.9 609.4L329.1 608.6L329.3 607.8L329.4 606.9L329.5 606.1L329.7 605.3L329.8 604.5L329.9 603.6L330.1 602.8L330.2 602L330.3 601.1L330.5 600.3L330.6 599.5L330.7 598.7L330.8 597.8L330.9 597L331 596.2L331.1 595.3L331.2 594.5L331.3 593.7L331.4 592.8L331.5 592L331.6 591.2L331.7 590.4L331.8 589.5L331.8 588.7L331.9 587.9L332 587L332.1 586.2L332.1 585.4L332.2 584.6L332.3 583.7L332.3 582.9L332.4 582.1L332.4 581.2L332.5 580.4L332.5 579.6L332.6 578.7L332.6 577.9L332.7 577.1L332.7 576.3L332.8 575.4L332.8 574.6L333.8 574.6L333.8 575.4L333.9 576.3L333.9 577.1L334 577.9L334 578.7L334.1 579.6L334.1 580.4L334.2 581.2L334.2 582.1L334.3 582.9L334.3 583.7L334.4 584.6L334.5 585.4L334.5 586.2L334.6 587L334.7 587.9L334.8 588.7L334.8 589.5L334.9 590.4L335 591.2L335.1 592L335.2 592.8L335.3 593.7L335.4 594.5L335.5 595.3L335.6 596.2L335.7 597L335.8 597.8L335.9 598.7L336 599.5L336.1 600.3L336.3 601.1L336.4 602L336.5 602.8L336.7 603.6L336.8 604.5L336.9 605.3L337.1 606.1L337.2 606.9L337.3 607.8L337.5 608.6L337.7 609.4L337.9 610.3L338.1 611.1L338.4 611.9L338.8 612.8L339.4 613.6L340.6 614.4L341.9 615.2L342.6 616.1L343.1 616.9Z" fill="#C77CFF" stroke="#1c1c1c" stroke-width="1.05" stroke-linejoin="round"/>
<path d="M362.6 523.8V622.3H455M376.2 622.3v2M397.9 622.3v2M419.6 622.3v2M441.3 622.3v2" stroke="#151515" stroke-width="1.3" fill="none"/>
<text x="360.5" y="619.5" font-size="11.2" fill="#111" text-anchor="end">1</text>
<path d="M376.2 615.5V571.5" stroke="#1c1c1c" stroke-width="1.0" fill="none"/>
<path d="M366.2 615.5Q373.2 614.9 376.2 612.9Q379.2 614.9 386.2 615.5Q379.2 616.1 376.2 618.2Q373.2 616.1 366.2 615.5Z" fill="#F8766D" stroke="#1c1c1c" stroke-width="0.85" stroke-linejoin="round"/>
<path d="M397.9 615.5V595.4" stroke="#1c1c1c" stroke-width="1.0" fill="none"/>
<path d="M387.9 615.5Q394.9 614.9 397.9 612.9Q400.9 614.9 407.9 615.5Q400.9 616.1 397.9 618.2Q394.9 616.1 387.9 615.5Z" fill="#7CAE00" stroke="#1c1c1c" stroke-width="0.85" stroke-linejoin="round"/>
<path d="M419.6 615.5V610.5" stroke="#1c1c1c" stroke-width="1.0" fill="none"/>
<path d="M409.6 616.1Q416.1 613.2 419.6 612.3Q423.1 613.2 429.6 616.1Q419.6 617.9 409.6 616.1Z" fill="#00BFC4" stroke="#1c1c1c" stroke-width="0.85" stroke-linejoin="round"/>
<path d="M441.3 615.5V528.8" stroke="#1c1c1c" stroke-width="1.0" fill="none"/>
<path d="M431.3 615.5Q438.3 614.9 441.3 612.9Q444.3 614.9 451.3 615.5Q444.3 616.1 441.3 618.2Q438.3 616.1 431.3 615.5Z" fill="#C77CFF" stroke="#1c1c1c" stroke-width="0.85" stroke-linejoin="round"/>
<path d="M471.6 523.8V622.7H564M485.2 622.7v2M506.9 622.7v2M528.6 622.7v2M550.3 622.7v2" stroke="#151515" stroke-width="1.3" fill="none"/>
<text x="469.5" y="537.5" font-size="11.2" fill="#111" text-anchor="end">3</text>
<text x="469.5" y="619.5" font-size="11.2" fill="#111" text-anchor="end">1</text>
<path d="M477.6 618.1L477.5 617.3L477.4 616.5L477.2 615.6L477.1 614.8L477 614L476.8 613.2L476.6 612.4L476.4 611.6L476.1 610.7L475.6 609.9L475.1 609.1L474.7 608.3L474.4 607.5L474.3 606.6L474.4 605.8L474.7 605L475.2 604.2L475.6 603.4L476.1 602.6L476.5 601.7L476.9 600.9L477.3 600.1L477.8 599.3L478.2 598.5L478.6 597.6L479 596.8L479.3 596L479.6 595.2L479.9 594.4L480.2 593.6L480.4 592.7L480.7 591.9L480.9 591.1L481.1 590.3L481.3 589.5L481.5 588.6L481.7 587.8L481.8 587L482 586.2L482.2 585.4L482.4 584.6L482.6 583.7L482.8 582.9L483 582.1L483.2 581.3L483.3 580.5L483.4 579.6L483.4 578.8L483.5 578L483.5 577.2L483.6 576.4L483.6 575.6L483.7 574.7L483.7 573.9L483.8 573.1L484.6 573.1L484.7 573.9L484.7 574.7L484.8 575.6L484.8 576.4L484.9 577.2L484.9 578L485 578.8L485 579.6L485.1 580.5L485.2 581.3L485.4 582.1L485.6 582.9L485.8 583.7L486 584.6L486.2 585.4L486.4 586.2L486.6 587L486.7 587.8L486.9 588.6L487.1 589.5L487.3 590.3L487.5 591.1L487.7 591.9L488 592.7L488.2 593.6L488.5 594.4L488.8 595.2L489.1 596L489.4 596.8L489.8 597.6L490.2 598.5L490.6 599.3L491.1 600.1L491.5 600.9L491.9 601.7L492.3 602.6L492.8 603.4L493.2 604.2L493.7 605L494 605.8L494.1 606.6L494 607.5L493.7 608.3L493.3 609.1L492.8 609.9L492.3 610.7L492 611.6L491.8 612.4L491.6 613.2L491.4 614L491.3 614.8L491.2 615.6L491 616.5L490.9 617.3L490.8 618.1Z" fill="#F8766D" stroke="#1c1c1c" stroke-width="1.05" stroke-linejoin="round"/>
<path d="M505.8 562V529.1" stroke="#1c1c1c" stroke-width="1.0" fill="none"/>
<path d="M499.6 618.1L499.4 617.3L499.3 616.5L499.1 615.6L499 614.8L498.8 614L498.6 613.2L498.4 612.4L498.2 611.5L498 610.7L497.8 609.9L497.6 609.1L497.3 608.3L497.1 607.4L496.9 606.6L496.8 605.8L496.7 605L496.5 604.2L496.4 603.3L496.3 602.5L496.2 601.7L496.1 600.9L496.1 600.1L496 599.2L496 598.4L496 597.6L496.1 596.8L496.2 596L496.3 595.1L496.4 594.3L496.6 593.5L496.8 592.7L497 591.9L497.2 591L497.4 590.2L497.6 589.4L497.9 588.6L498.2 587.7L498.4 586.9L498.7 586.1L499 585.3L499.3 584.5L499.6 583.6L499.9 582.8L500.2 582L500.5 581.2L500.7 580.4L501 579.5L501.3 578.7L501.6 577.9L501.9 577.1L502.1 576.3L502.4 575.4L502.7 574.6L502.9 573.8L503.2 573L503.4 572.2L503.7 571.3L503.9 570.5L504.1 569.7L504.4 568.9L504.6 568.1L504.8 567.2L505 566.4L505.1 565.6L505.2 564.8L505.3 564L505.3 563.1L505.4 562.3L505.4 561.5L506.2 561.5L506.2 562.3L506.3 563.1L506.3 564L506.4 564.8L506.5 565.6L506.6 566.4L506.8 567.2L507 568.1L507.2 568.9L507.5 569.7L507.7 570.5L507.9 571.3L508.2 572.2L508.4 573L508.7 573.8L508.9 574.6L509.2 575.4L509.5 576.3L509.7 577.1L510 577.9L510.3 578.7L510.6 579.5L510.9 580.4L511.1 581.2L511.4 582L511.7 582.8L512 583.6L512.3 584.5L512.6 585.3L512.9 586.1L513.2 586.9L513.4 587.7L513.7 588.6L514 589.4L514.2 590.2L514.4 591L514.6 591.9L514.8 592.7L515 593.5L515.2 594.3L515.3 595.1L515.4 596L515.5 596.8L515.6 597.6L515.6 598.4L515.6 599.2L515.5 600.1L515.5 600.9L515.4 601.7L515.3 602.5L515.2 603.3L515.1 604.2L514.9 605L514.8 605.8L514.7 606.6L514.5 607.4L514.3 608.3L514 609.1L513.8 609.9L513.6 610.7L513.4 611.5L513.2 612.4L513 613.2L512.8 614L512.6 614.8L512.5 615.6L512.3 616.5L512.2 617.3L512 618.1Z" fill="#7CAE00" stroke="#1c1c1c" stroke-width="1.05" stroke-linejoin="round"/>
<path d="M521.1 618.1L520.6 617.3L520.2 616.5L519.8 615.7L519.4 614.8L519 614L518.7 613.2L518.4 612.4L518.1 611.6L517.9 610.8L517.8 609.9L517.9 609.1L518.4 608.3L519 607.5L519.7 606.7L520.4 605.9L521.2 605L522 604.2L522.8 603.4L523.4 602.6L524.1 601.8L524.7 601L525.2 600.1L525.5 599.3L525.8 598.5L526.1 597.7L526.3 596.9L526.4 596.1L526.5 595.2L526.5 594.4L526.4 593.6L526.2 592.8L526.1 592L526 591.2L525.9 590.3L525.8 589.5L525.7 588.7L525.6 587.9L525.5 587.1L525.5 586.3L525.5 585.4L525.7 584.6L525.8 583.8L526 583L526.2 582.2L526.3 581.4L526.5 580.5L526.6 579.7L526.8 578.9L526.9 578.1L527 577.3L527.1 576.5L527.1 575.6L527.1 574.8L527.2 574L527.2 573.2L527.2 572.4L527.2 571.6L527.3 570.7L527.3 569.9L527.3 569.1L527.3 568.3L528.1 568.3L528.1 569.1L528.1 569.9L528.1 570.7L528.2 571.6L528.2 572.4L528.2 573.2L528.2 574L528.3 574.8L528.3 575.6L528.3 576.5L528.4 577.3L528.5 578.1L528.6 578.9L528.8 579.7L528.9 580.5L529.1 581.4L529.2 582.2L529.4 583L529.6 583.8L529.7 584.6L529.9 585.4L529.9 586.3L529.9 587.1L529.8 587.9L529.7 588.7L529.6 589.5L529.5 590.3L529.4 591.2L529.3 592L529.2 592.8L529 593.6L528.9 594.4L528.9 595.2L529 596.1L529.1 596.9L529.3 597.7L529.6 598.5L529.9 599.3L530.2 600.1L530.7 601L531.3 601.8L532 602.6L532.6 603.4L533.4 604.2L534.2 605L535 605.9L535.7 606.7L536.4 607.5L537 608.3L537.5 609.1L537.6 609.9L537.5 610.8L537.3 611.6L537 612.4L536.7 613.2L536.4 614L536 614.8L535.6 615.7L535.2 616.5L534.8 617.3L534.3 618.1Z" fill="#00BFC4" stroke="#1c1c1c" stroke-width="1.05" stroke-linejoin="round"/>
<path d="M549.6 562V534.5" stroke="#1c1c1c" stroke-width="1.0" fill="none"/>
<path d="M539.8 618.1L540.2 617.3L540.6 616.5L541.2 615.6L541.9 614.8L542.6 614L543 613.2L543.3 612.4L543.5 611.5L543.7 610.7L543.8 609.9L543.8 609.1L543.9 608.3L543.9 607.4L544 606.6L544 605.8L544 605L544.1 604.2L544.1 603.3L544.2 602.5L544.2 601.7L544.3 600.9L544.3 600.1L544.4 599.2L544.5 598.4L544.5 597.6L544.6 596.8L544.8 596L544.9 595.1L545.1 594.3L545.2 593.5L545.4 592.7L545.5 591.9L545.6 591L545.8 590.2L545.9 589.4L546 588.6L546.1 587.7L546.2 586.9L546.3 586.1L546.4 585.3L546.6 584.5L546.7 583.6L546.8 582.8L546.9 582L547 581.2L547.1 580.4L547.2 579.5L547.4 578.7L547.5 577.9L547.6 577.1L547.7 576.3L547.8 575.4L547.9 574.6L548 573.8L548.1 573L548.2 572.2L548.3 571.3L548.4 570.5L548.5 569.7L548.6 568.9L548.7 568.1L548.8 567.2L548.9 566.4L549 565.6L549.1 564.8L549.1 564L549.2 563.1L549.2 562.3L549.2 561.5L550 561.5L550 562.3L550 563.1L550.1 564L550.1 564.8L550.2 565.6L550.3 566.4L550.4 567.2L550.5 568.1L550.6 568.9L550.7 569.7L550.8 570.5L550.9 571.3L551 572.2L551.1 573L551.2 573.8L551.3 574.6L551.4 575.4L551.5 576.3L551.6 577.1L551.7 577.9L551.8 578.7L552 579.5L552.1 580.4L552.2 581.2L552.3 582L552.4 582.8L552.5 583.6L552.6 584.5L552.8 585.3L552.9 586.1L553 586.9L553.1 587.7L553.2 588.6L553.3 589.4L553.4 590.2L553.6 591L553.7 591.9L553.8 592.7L554 593.5L554.1 594.3L554.3 595.1L554.4 596L554.6 596.8L554.7 597.6L554.7 598.4L554.8 599.2L554.9 600.1L554.9 600.9L555 601.7L555 602.5L555.1 603.3L555.1 604.2L555.2 605L555.2 605.8L555.2 606.6L555.3 607.4L555.3 608.3L555.4 609.1L555.4 609.9L555.5 610.7L555.7 611.5L555.9 612.4L556.2 613.2L556.6 614L557.3 614.8L558 615.6L558.6 616.5L559 617.3L559.4 618.1Z" fill="#C77CFF" stroke="#1c1c1c" stroke-width="1.05" stroke-linejoin="round"/>
<path d="M579.6 523.8V623.6H672M593.2 623.6v2M614.9 623.6v2M636.6 623.6v2M658.3 623.6v2" stroke="#151515" stroke-width="1.3" fill="none"/>
<text x="577.5" y="532.8" font-size="11.2" fill="#111" text-anchor="end">2</text>
<text x="577.5" y="619.9" font-size="11.2" fill="#111" text-anchor="end">1</text>
<path d="M593.2 617.3V598.8" stroke="#1c1c1c" stroke-width="1.25" fill="none"/>
<path d="M593.2 612h0M593.2 609h0M593.2 606h0M593.2 603h0" stroke="#222" stroke-width="1.3" stroke-linecap="round" fill="none"/>
<path d="M583.2 617.3Q590.2 616.9 593.2 615.4Q596.2 616.9 603.2 617.3Q596.2 617.7 593.2 619.2Q590.2 617.7 583.2 617.3Z" fill="#F8766D" stroke="#1c1c1c" stroke-width="0.85" stroke-linejoin="round"/>
<path d="M614.9 617.3V566.6" stroke="#1c1c1c" stroke-width="1.25" fill="none"/>
<path d="M614.9 612h0M614.9 609h0M614.9 606h0M614.9 603h0" stroke="#222" stroke-width="1.3" stroke-linecap="round" fill="none"/>
<path d="M604.9 617.3Q611.9 616.9 614.9 615.4Q617.9 616.9 624.9 617.3Q617.9 617.7 614.9 619.2Q611.9 617.7 604.9 617.3Z" fill="#7CAE00" stroke="#1c1c1c" stroke-width="0.85" stroke-linejoin="round"/>
<path d="M636.6 617.3V587.9" stroke="#1c1c1c" stroke-width="1.25" fill="none"/>
<path d="M636.6 612h0M636.6 609h0M636.6 606h0M636.6 603h0" stroke="#222" stroke-width="1.3" stroke-linecap="round" fill="none"/>
<path d="M626.6 617.3Q633.6 616.9 636.6 615.4Q639.6 616.9 646.6 617.3Q639.6 617.7 636.6 619.2Q633.6 617.7 626.6 617.3Z" fill="#00BFC4" stroke="#1c1c1c" stroke-width="0.85" stroke-linejoin="round"/>
<path d="M658.3 617.3V529.8" stroke="#1c1c1c" stroke-width="1.25" fill="none"/>
<path d="M658.3 610h0M658.3 604h0" stroke="#222" stroke-width="1.3" stroke-linecap="round" fill="none"/>
<path d="M648.3 617.3Q655.3 616.9 658.3 615.4Q661.3 616.9 668.3 617.3Q661.3 617.7 658.3 619.2Q655.3 617.7 648.3 617.3Z" fill="#C77CFF" stroke="#1c1c1c" stroke-width="0.85" stroke-linejoin="round"/>
<rect x="36.8" y="628" width="15" height="13.6" fill="#F8766D" stroke="#3a3a3a" stroke-width="0.8"/>
<rect x="36.8" y="644.8" width="15" height="14.4" fill="#7CAE00" stroke="#3a3a3a" stroke-width="0.8"/>
<rect x="165.4" y="628" width="15" height="13.6" fill="#00BFC4" stroke="#3a3a3a" stroke-width="0.8"/>
<rect x="165.4" y="644.8" width="15" height="14.4" fill="#C77CFF" stroke="#3a3a3a" stroke-width="0.8"/>
<text x="57.3" y="640.8" font-size="14" fill="#222" textLength="62.8" lengthAdjust="spacingAndGlyphs">Stem cells</text>
<text x="57.3" y="658.4" font-size="14" fill="#222" textLength="46.2" lengthAdjust="spacingAndGlyphs">TA cells</text>
<text x="185.7" y="640.7" font-size="14" fill="#222" textLength="71.6" lengthAdjust="spacingAndGlyphs">Goblet cells</text>
<text x="185.7" y="658.4" font-size="14" fill="#222" textLength="72.4" lengthAdjust="spacingAndGlyphs">Enterocytes</text>
<path d="M37.3 791.3V896.1H129.7M50.9 896.1v2M72.6 896.1v2M94.3 896.1v2M116 896.1v2" stroke="#151515" stroke-width="1.3" fill="none"/>
<text x="34.6" y="823" font-size="11.2" fill="#111" text-anchor="end">3</text>
<text x="34.6" y="893.3" font-size="11.2" fill="#111" text-anchor="end">1</text>
<path d="M40.3 890.6L40.4 889.8L40.7 888.9L41.1 888.1L41.8 887.3L42.8 886.5L43.7 885.6L44.3 884.8L44.9 884L45.4 883.2L45.8 882.3L46.2 881.5L46.4 880.7L46.6 879.9L46.7 879L46.8 878.2L46.9 877.4L47 876.6L47.1 875.7L47.1 874.9L47.2 874.1L47.3 873.3L47.3 872.4L47.4 871.6L47.4 870.8L47.5 870L47.6 869.1L47.7 868.3L47.7 867.5L47.8 866.7L47.9 865.8L47.9 865L48 864.2L48.1 863.4L48.1 862.5L48.2 861.7L48.2 860.9L48.3 860.1L48.4 859.2L48.4 858.4L48.5 857.6L48.5 856.8L48.6 855.9L48.6 855.1L48.7 854.3L48.7 853.5L48.8 852.6L48.9 851.8L48.9 851L49 850.2L49.1 849.3L49.2 848.5L49.2 847.7L49.3 846.9L49.4 846L49.5 845.2L49.6 844.4L49.7 843.6L49.9 842.7L50 841.9L50.6 841.9L50.7 842.7L50.9 843.6L51 844.4L51.1 845.2L51.2 846L51.3 846.9L51.4 847.7L51.4 848.5L51.5 849.3L51.6 850.2L51.7 851L51.7 851.8L51.8 852.6L51.9 853.5L51.9 854.3L52 855.1L52 855.9L52.1 856.8L52.1 857.6L52.2 858.4L52.2 859.2L52.3 860.1L52.4 860.9L52.4 861.7L52.5 862.5L52.5 863.4L52.6 864.2L52.7 865L52.7 865.8L52.8 866.7L52.9 867.5L52.9 868.3L53 869.1L53.1 870L53.2 870.8L53.2 871.6L53.3 872.4L53.3 873.3L53.4 874.1L53.5 874.9L53.5 875.7L53.6 876.6L53.7 877.4L53.8 878.2L53.9 879L54 879.9L54.2 880.7L54.4 881.5L54.8 882.3L55.2 883.2L55.7 884L56.3 884.8L56.9 885.6L57.8 886.5L58.8 887.3L59.5 888.1L59.9 888.9L60.2 889.8L60.3 890.6Z" fill="#F8766D" stroke="#1c1c1c" stroke-width="1.05" stroke-linejoin="round"/>
<path d="M72 840.6V815" stroke="#1c1c1c" stroke-width="1.0" fill="none"/>
<path d="M62 890.6L62.1 889.8L62.4 889L62.8 888.2L63.6 887.3L64.7 886.5L65.7 885.7L66.2 884.9L66.6 884.1L66.9 883.3L67.2 882.5L67.4 881.6L67.6 880.8L67.8 880L67.9 879.2L68.1 878.4L68.2 877.6L68.3 876.8L68.4 875.9L68.5 875.1L68.6 874.3L68.7 873.5L68.7 872.7L68.7 871.9L68.8 871.1L68.8 870.2L68.8 869.4L68.8 868.6L68.9 867.8L68.9 867L68.9 866.2L68.9 865.4L68.9 864.5L69 863.7L69 862.9L69 862.1L69.1 861.3L69.1 860.5L69.2 859.6L69.3 858.8L69.4 858L69.5 857.2L69.6 856.4L69.7 855.6L69.8 854.8L69.9 853.9L70 853.1L70.2 852.3L70.3 851.5L70.5 850.7L70.7 849.9L70.8 849.1L70.9 848.2L71 847.4L71.1 846.6L71.2 845.8L71.3 845L71.3 844.2L71.4 843.4L71.5 842.5L71.5 841.7L71.6 840.9L71.6 840.1L72.4 840.1L72.4 840.9L72.5 841.7L72.5 842.5L72.6 843.4L72.7 844.2L72.7 845L72.8 845.8L72.9 846.6L73 847.4L73.1 848.2L73.2 849.1L73.3 849.9L73.5 850.7L73.7 851.5L73.8 852.3L74 853.1L74.1 853.9L74.2 854.8L74.3 855.6L74.4 856.4L74.5 857.2L74.6 858L74.7 858.8L74.8 859.6L74.9 860.5L74.9 861.3L75 862.1L75 862.9L75 863.7L75.1 864.5L75.1 865.4L75.1 866.2L75.1 867L75.1 867.8L75.2 868.6L75.2 869.4L75.2 870.2L75.2 871.1L75.3 871.9L75.3 872.7L75.3 873.5L75.4 874.3L75.5 875.1L75.6 875.9L75.7 876.8L75.8 877.6L75.9 878.4L76.1 879.2L76.2 880L76.4 880.8L76.6 881.6L76.8 882.5L77.1 883.3L77.4 884.1L77.8 884.9L78.3 885.7L79.3 886.5L80.4 887.3L81.2 888.2L81.6 889L81.9 889.8L82 890.6Z" fill="#7CAE00" stroke="#1c1c1c" stroke-width="1.05" stroke-linejoin="round"/>
<path d="M93.7 843.1V814.2" stroke="#1c1c1c" stroke-width="1.0" fill="none"/>
<path d="M83.7 890.6L83.8 889.8L84.1 889L84.5 888.2L85.3 887.3L86.3 886.5L87.3 885.7L88 884.9L88.4 884.1L88.9 883.3L89.2 882.5L89.5 881.7L89.8 880.8L90 880L90.1 879.2L90.3 878.4L90.4 877.6L90.6 876.8L90.7 876L90.8 875.1L90.9 874.3L91 873.5L91.1 872.7L91.1 871.9L91.2 871.1L91.2 870.3L91.2 869.4L91.2 868.6L91.3 867.8L91.3 867L91.3 866.2L91.3 865.4L91.3 864.6L91.3 863.8L91.3 862.9L91.4 862.1L91.4 861.3L91.4 860.5L91.4 859.7L91.5 858.9L91.5 858.1L91.6 857.2L91.6 856.4L91.7 855.6L91.7 854.8L91.8 854L91.9 853.2L92 852.4L92.1 851.5L92.1 850.7L92.2 849.9L92.3 849.1L92.4 848.3L92.5 847.5L92.6 846.7L92.7 845.9L92.8 845L92.9 844.2L93 843.4L93.1 842.6L94.3 842.6L94.4 843.4L94.5 844.2L94.6 845L94.7 845.9L94.8 846.7L94.9 847.5L95 848.3L95.1 849.1L95.2 849.9L95.3 850.7L95.3 851.5L95.4 852.4L95.5 853.2L95.6 854L95.7 854.8L95.7 855.6L95.8 856.4L95.8 857.2L95.9 858.1L95.9 858.9L96 859.7L96 860.5L96 861.3L96 862.1L96.1 862.9L96.1 863.8L96.1 864.6L96.1 865.4L96.1 866.2L96.1 867L96.1 867.8L96.2 868.6L96.2 869.4L96.2 870.3L96.2 871.1L96.3 871.9L96.3 872.7L96.4 873.5L96.5 874.3L96.6 875.1L96.7 876L96.8 876.8L97 877.6L97.1 878.4L97.3 879.2L97.4 880L97.6 880.8L97.9 881.7L98.2 882.5L98.5 883.3L99 884.1L99.4 884.9L100.1 885.7L101.1 886.5L102.1 887.3L102.9 888.2L103.3 889L103.6 889.8L103.7 890.6Z" fill="#00BFC4" stroke="#1c1c1c" stroke-width="1.05" stroke-linejoin="round"/>
<path d="M115.4 835.6V796.1" stroke="#1c1c1c" stroke-width="1.0" fill="none"/>
<path d="M105.4 890.6L105.5 889.8L105.8 889L106.2 888.2L107.1 887.3L108.3 886.5L109.5 885.7L110.3 884.9L110.9 884.1L111.5 883.3L112 882.4L112.4 881.6L112.7 880.8L113.1 880L113.4 879.2L113.6 878.4L113.6 877.5L113.6 876.7L113.5 875.9L113.5 875.1L113.4 874.3L113.3 873.5L113.2 872.6L113.1 871.8L113 871L112.9 870.2L112.8 869.4L112.7 868.6L112.7 867.7L112.6 866.9L112.5 866.1L112.4 865.3L112.3 864.5L112.3 863.7L112.2 862.9L112.1 862L112.1 861.2L112.1 860.4L112.1 859.6L112.1 858.8L112.2 858L112.2 857.1L112.3 856.3L112.3 855.5L112.4 854.7L112.5 853.9L112.6 853.1L112.7 852.2L112.8 851.4L112.8 850.6L112.9 849.8L113 849L113.2 848.2L113.3 847.3L113.4 846.5L113.6 845.7L113.7 844.9L113.9 844.1L114 843.3L114.1 842.4L114.2 841.6L114.3 840.8L114.4 840L114.5 839.2L114.6 838.4L114.7 837.5L114.8 836.7L114.8 835.9L114.9 835.1L115.9 835.1L116 835.9L116 836.7L116.1 837.5L116.2 838.4L116.3 839.2L116.4 840L116.5 840.8L116.6 841.6L116.7 842.4L116.8 843.3L116.9 844.1L117.1 844.9L117.2 845.7L117.4 846.5L117.5 847.3L117.6 848.2L117.8 849L117.9 849.8L118 850.6L118 851.4L118.1 852.2L118.2 853.1L118.3 853.9L118.4 854.7L118.5 855.5L118.5 856.3L118.6 857.1L118.6 858L118.7 858.8L118.7 859.6L118.7 860.4L118.7 861.2L118.7 862L118.6 862.9L118.5 863.7L118.5 864.5L118.4 865.3L118.3 866.1L118.2 866.9L118.1 867.7L118.1 868.6L118 869.4L117.9 870.2L117.8 871L117.7 871.8L117.6 872.6L117.5 873.5L117.4 874.3L117.3 875.1L117.3 875.9L117.2 876.7L117.2 877.5L117.2 878.4L117.4 879.2L117.7 880L118.1 880.8L118.4 881.6L118.8 882.4L119.3 883.3L119.9 884.1L120.5 884.9L121.3 885.7L122.5 886.5L123.7 887.3L124.6 888.2L125 889L125.3 889.8L125.4 890.6Z" fill="#C77CFF" stroke="#1c1c1c" stroke-width="1.05" stroke-linejoin="round"/>
<path d="M145.7 791.3V896.1H238.1M159.3 896.1v2M181 896.1v2M202.7 896.1v2M224.4 896.1v2" stroke="#151515" stroke-width="1.3" fill="none"/>
<text x="143.6" y="892.8" font-size="11.2" fill="#111" text-anchor="end">1</text>
<path d="M159.3 887.9V818.9" stroke="#1c1c1c" stroke-width="1.05" fill="none"/>
<path d="M159.3 880h0M159.3 874h0M159.3 868h0M159.3 860h0M159.3 850h0M159.3 838h0" stroke="#222" stroke-width="1.3" stroke-linecap="round" fill="none"/>
<path d="M149.3 887.9Q156.3 887.3 159.3 885.3Q162.3 887.3 169.3 887.9Q162.3 888.5 159.3 890.6Q156.3 888.5 149.3 887.9Z" fill="#F8766D" stroke="#1c1c1c" stroke-width="0.85" stroke-linejoin="round"/>
<path d="M181 887.9V853.9" stroke="#1c1c1c" stroke-width="1.05" fill="none"/>
<path d="M181 880h0M181 874h0M181 868h0M181 862h0" stroke="#222" stroke-width="1.3" stroke-linecap="round" fill="none"/>
<path d="M171 887.9Q178 887.3 181 885.3Q184 887.3 191 887.9Q184 888.5 181 890.6Q178 888.5 171 887.9Z" fill="#7CAE00" stroke="#1c1c1c" stroke-width="0.85" stroke-linejoin="round"/>
<path d="M202.7 887.9V803.8" stroke="#1c1c1c" stroke-width="1.05" fill="none"/>
<path d="M202.7 840h0M202.7 812h0" stroke="#222" stroke-width="1.3" stroke-linecap="round" fill="none"/>
<path d="M192.7 887.9Q199.7 887.3 202.7 885.3Q205.7 887.3 212.7 887.9Q205.7 888.5 202.7 890.6Q199.7 888.5 192.7 887.9Z" fill="#00BFC4" stroke="#1c1c1c" stroke-width="0.85" stroke-linejoin="round"/>
<path d="M224.4 887.9V795.9" stroke="#1c1c1c" stroke-width="1.05" fill="none"/>
<path d="M224.4 850h0M224.4 820h0" stroke="#222" stroke-width="1.3" stroke-linecap="round" fill="none"/>
<path d="M214.4 887.9Q221.4 887.3 224.4 885.3Q227.4 887.3 234.4 887.9Q227.4 888.5 224.4 890.6Q221.4 888.5 214.4 887.9Z" fill="#C77CFF" stroke="#1c1c1c" stroke-width="0.85" stroke-linejoin="round"/>
<path d="M253.6 791.3V896.1H346M267.2 896.1v2M288.9 896.1v2M310.6 896.1v2M332.3 896.1v2" stroke="#151515" stroke-width="1.3" fill="none"/>
<text x="251.5" y="813" font-size="11.2" fill="#111" text-anchor="end">3</text>
<text x="251.5" y="893.2" font-size="11.2" fill="#111" text-anchor="end">1</text>
<path d="M257.4 889.6L258 888.8L258.6 888L259.2 887.1L260.1 886.3L261 885.5L261.9 884.7L262.7 883.9L263.2 883L263.5 882.2L263.8 881.4L264.1 880.6L264.3 879.7L264.4 878.9L264.4 878.1L264.4 877.3L264.3 876.5L264.3 875.6L264.2 874.8L264.2 874L264.1 873.2L264.1 872.4L264.1 871.5L264.2 870.7L264.3 869.9L264.4 869.1L264.5 868.3L264.7 867.4L264.9 866.6L265 865.8L265.2 865L265.4 864.2L265.6 863.3L265.8 862.5L266 861.7L266.2 860.9L266.3 860L266.4 859.2L266.5 858.4L266.5 857.6L266.6 856.8L266.7 855.9L266.7 855.1L266.7 854.3L267.3 854.3L267.3 855.1L267.3 855.9L267.4 856.8L267.5 857.6L267.5 858.4L267.6 859.2L267.7 860L267.8 860.9L268 861.7L268.2 862.5L268.4 863.3L268.6 864.2L268.8 865L269 865.8L269.1 866.6L269.3 867.4L269.5 868.3L269.6 869.1L269.7 869.9L269.8 870.7L269.9 871.5L269.9 872.4L269.9 873.2L269.8 874L269.8 874.8L269.7 875.6L269.7 876.5L269.6 877.3L269.6 878.1L269.6 878.9L269.7 879.7L269.9 880.6L270.2 881.4L270.5 882.2L270.8 883L271.3 883.9L272.1 884.7L273 885.5L273.9 886.3L274.8 887.1L275.4 888L276 888.8L276.6 889.6Z" fill="#F8766D" stroke="#1c1c1c" stroke-width="1.05" stroke-linejoin="round"/>
<path d="M288.7 834.1V825.4" stroke="#1c1c1c" stroke-width="1.0" fill="none"/>
<path d="M279.1 889.6L279.3 888.8L279.6 888L280 887.2L280.4 886.4L281 885.5L281.8 884.7L282.6 883.9L283.4 883.1L284.1 882.3L284.5 881.5L284.9 880.7L285.2 879.9L285.4 879L285.6 878.2L285.8 877.4L285.8 876.6L285.8 875.8L285.8 875L285.7 874.2L285.7 873.4L285.6 872.6L285.6 871.7L285.5 870.9L285.5 870.1L285.4 869.3L285.3 868.5L285.3 867.7L285.2 866.9L285.1 866.1L285 865.3L284.9 864.4L284.8 863.6L284.8 862.8L284.8 862L284.8 861.2L284.9 860.4L284.9 859.6L285 858.8L285.1 857.9L285.2 857.1L285.3 856.3L285.4 855.5L285.5 854.7L285.6 853.9L285.7 853.1L285.8 852.3L286 851.5L286.2 850.6L286.3 849.8L286.5 849L286.7 848.2L286.9 847.4L287 846.6L287.2 845.8L287.3 845L287.5 844.2L287.6 843.3L287.8 842.5L287.9 841.7L288 840.9L288.1 840.1L288.1 839.3L288.2 838.5L288.3 837.7L288.3 836.8L288.3 836L288.4 835.2L288.4 834.4L288.4 833.6L289 833.6L289 834.4L289 835.2L289.1 836L289.1 836.8L289.1 837.7L289.2 838.5L289.3 839.3L289.3 840.1L289.4 840.9L289.5 841.7L289.6 842.5L289.8 843.3L289.9 844.2L290.1 845L290.2 845.8L290.4 846.6L290.5 847.4L290.7 848.2L290.9 849L291.1 849.8L291.2 850.6L291.4 851.5L291.6 852.3L291.7 853.1L291.8 853.9L291.9 854.7L292 855.5L292.1 856.3L292.2 857.1L292.3 857.9L292.4 858.8L292.5 859.6L292.5 860.4L292.6 861.2L292.6 862L292.6 862.8L292.6 863.6L292.5 864.4L292.4 865.3L292.3 866.1L292.2 866.9L292.1 867.7L292.1 868.5L292 869.3L291.9 870.1L291.9 870.9L291.8 871.7L291.8 872.6L291.7 873.4L291.7 874.2L291.6 875L291.6 875.8L291.6 876.6L291.6 877.4L291.8 878.2L292 879L292.2 879.9L292.5 880.7L292.9 881.5L293.3 882.3L294 883.1L294.8 883.9L295.6 884.7L296.4 885.5L297 886.4L297.4 887.2L297.8 888L298.1 888.8L298.3 889.6Z" fill="#7CAE00" stroke="#1c1c1c" stroke-width="1.05" stroke-linejoin="round"/>
<path d="M300.8 889.6L301.2 888.8L301.6 888L302.2 887.1L302.8 886.3L303.6 885.5L304.6 884.7L305.6 883.9L306.5 883.1L307.2 882.2L307.6 881.4L307.9 880.6L308.2 879.8L308.4 879L308.5 878.1L308.6 877.3L308.6 876.5L308.6 875.7L308.7 874.9L308.7 874L308.7 873.2L308.8 872.4L308.8 871.6L308.8 870.8L308.8 870L308.8 869.1L308.8 868.3L308.8 867.5L308.8 866.7L308.8 865.9L308.8 865L308.8 864.2L308.8 863.4L308.8 862.6L308.8 861.8L308.8 860.9L308.8 860.1L308.8 859.3L308.8 858.5L308.8 857.7L308.8 856.9L308.8 856L308.8 855.2L308.8 854.4L308.8 853.6L308.8 852.8L308.8 851.9L308.8 851.1L308.8 850.3L308.9 849.5L308.9 848.7L308.9 847.8L308.9 847L308.9 846.2L309 845.4L309 844.6L309 843.8L309.1 842.9L309.3 842.1L310 841.3L310.8 841.3L311.5 842.1L311.7 842.9L311.8 843.8L311.8 844.6L311.8 845.4L311.9 846.2L311.9 847L311.9 847.8L311.9 848.7L311.9 849.5L312 850.3L312 851.1L312 851.9L312 852.8L312 853.6L312 854.4L312 855.2L312 856L312 856.9L312 857.7L312 858.5L312 859.3L312 860.1L312 860.9L312 861.8L312 862.6L312 863.4L312 864.2L312 865L312 865.9L312 866.7L312 867.5L312 868.3L312 869.1L312 870L312 870.8L312 871.6L312 872.4L312.1 873.2L312.1 874L312.1 874.9L312.2 875.7L312.2 876.5L312.2 877.3L312.3 878.1L312.4 879L312.6 879.8L312.9 880.6L313.2 881.4L313.6 882.2L314.3 883.1L315.2 883.9L316.2 884.7L317.2 885.5L318 886.3L318.6 887.1L319.2 888L319.6 888.8L320 889.6Z" fill="#00BFC4" stroke="#1c1c1c" stroke-width="1.05" stroke-linejoin="round"/>
<path d="M332.1 888.7V795.3" stroke="#1c1c1c" stroke-width="1.1" fill="none"/>
<path d="M322.1 888.7Q329.1 888.5 332.1 887.7Q335.1 888.5 342.1 888.7Q335.1 888.9 332.1 889.7Q329.1 888.9 322.1 888.7Z" fill="#C77CFF" stroke="#1c1c1c" stroke-width="0.85" stroke-linejoin="round"/>
<path d="M362.2 791.3V896.1H454.6M375.8 896.1v2M397.5 896.1v2M419.2 896.1v2M440.9 896.1v2" stroke="#151515" stroke-width="1.3" fill="none"/>
<text x="360.1" y="892.8" font-size="11.2" fill="#111" text-anchor="end">1</text>
<path d="M365.3 888.1Q372.3 887.7 375.3 886.2Q378.3 887.7 385.3 888.1Q378.3 888.5 375.3 890Q372.3 888.5 365.3 888.1Z" fill="#F8766D" stroke="#1c1c1c" stroke-width="0.85" stroke-linejoin="round"/>
<path d="M387 888.1Q394 887.7 397 886.2Q400 887.7 407 888.1Q400 888.5 397 890Q394 888.5 387 888.1Z" fill="#7CAE00" stroke="#1c1c1c" stroke-width="0.85" stroke-linejoin="round"/>
<path d="M418.7 888.1V851.3" stroke="#1c1c1c" stroke-width="1.0" fill="none"/>
<path d="M408.7 888.1Q415.7 887.7 418.7 886.2Q421.7 887.7 428.7 888.1Q421.7 888.5 418.7 890Q415.7 888.5 408.7 888.1Z" fill="#00BFC4" stroke="#1c1c1c" stroke-width="0.85" stroke-linejoin="round"/>
<path d="M440.4 888.1V795.4" stroke="#1c1c1c" stroke-width="1.0" fill="none"/>
<path d="M430.4 888.1Q437.4 887.7 440.4 886.2Q443.4 887.7 450.4 888.1Q443.4 888.5 440.4 890Q437.4 888.5 430.4 888.1Z" fill="#C77CFF" stroke="#1c1c1c" stroke-width="0.85" stroke-linejoin="round"/>
<path d="M471.6 791.3V896.1H564M485.2 896.1v2M506.9 896.1v2M528.6 896.1v2M550.3 896.1v2" stroke="#151515" stroke-width="1.3" fill="none"/>
<text x="469.5" y="803.5" font-size="11.2" fill="#111" text-anchor="end">5</text>
<text x="469.5" y="892.6" font-size="11.2" fill="#111" text-anchor="end">1</text>
<path d="M484.6 830.5V818.1" stroke="#1c1c1c" stroke-width="1.0" fill="none"/>
<path d="M475 890L475 889.2L475 888.4L475 887.6L475 886.8L475.1 885.9L475.1 885.1L475.1 884.3L475.2 883.5L475.2 882.7L475.3 881.9L475.3 881.1L475.4 880.3L475.5 879.5L475.7 878.6L475.9 877.8L476.1 877L476.3 876.2L476.5 875.4L476.7 874.6L477 873.8L477.2 873L477.4 872.2L477.6 871.4L477.8 870.5L477.9 869.7L478.1 868.9L478.3 868.1L478.4 867.3L478.6 866.5L478.8 865.7L478.9 864.9L479.1 864.1L479.3 863.2L479.4 862.4L479.6 861.6L479.8 860.8L479.9 860L480.1 859.2L480.3 858.4L480.4 857.6L480.6 856.8L480.7 855.9L480.9 855.1L481 854.3L481.2 853.5L481.3 852.7L481.5 851.9L481.6 851.1L481.8 850.3L481.9 849.5L482.1 848.6L482.2 847.8L482.3 847L482.5 846.2L482.6 845.4L482.7 844.6L482.8 843.8L483 843L483.1 842.2L483.2 841.4L483.4 840.5L483.5 839.7L483.6 838.9L483.7 838.1L483.8 837.3L483.9 836.5L484 835.7L484 834.9L484.1 834.1L484.1 833.2L484.2 832.4L484.2 831.6L484.2 830.8L484.2 830L485 830L485 830.8L485 831.6L485 832.4L485.1 833.2L485.1 834.1L485.2 834.9L485.2 835.7L485.3 836.5L485.4 837.3L485.5 838.1L485.6 838.9L485.7 839.7L485.8 840.5L486 841.4L486.1 842.2L486.2 843L486.4 843.8L486.5 844.6L486.6 845.4L486.7 846.2L486.9 847L487 847.8L487.1 848.6L487.3 849.5L487.4 850.3L487.6 851.1L487.7 851.9L487.9 852.7L488 853.5L488.2 854.3L488.3 855.1L488.5 855.9L488.6 856.8L488.8 857.6L488.9 858.4L489.1 859.2L489.3 860L489.4 860.8L489.6 861.6L489.8 862.4L489.9 863.2L490.1 864.1L490.3 864.9L490.4 865.7L490.6 866.5L490.8 867.3L490.9 868.1L491.1 868.9L491.3 869.7L491.4 870.5L491.6 871.4L491.8 872.2L492 873L492.2 873.8L492.5 874.6L492.7 875.4L492.9 876.2L493.1 877L493.3 877.8L493.5 878.6L493.7 879.5L493.8 880.3L493.9 881.1L493.9 881.9L494 882.7L494 883.5L494.1 884.3L494.1 885.1L494.1 885.9L494.2 886.8L494.2 887.6L494.2 888.4L494.2 889.2L494.2 890Z" fill="#F8766D" stroke="#1c1c1c" stroke-width="1.05" stroke-linejoin="round"/>
<path d="M497.3 890L497.3 889.2L497.3 888.4L497.4 887.5L497.4 886.7L497.5 885.9L497.5 885.1L497.6 884.2L498 883.4L498.6 882.6L499.3 881.8L500 881L500.4 880.1L500.5 879.3L500.6 878.5L500.7 877.7L500.7 876.8L500.8 876L500.8 875.2L500.8 874.4L500.6 873.6L500.3 872.7L499.9 871.9L499.5 871.1L499.1 870.3L498.8 869.4L498.6 868.6L498.5 867.8L498.5 867L498.4 866.2L498.4 865.3L498.3 864.5L498.3 863.7L498.3 862.9L498.3 862L498.3 861.2L498.5 860.4L498.7 859.6L498.9 858.8L499.1 857.9L499.4 857.1L499.7 856.3L499.9 855.5L500.2 854.7L500.5 853.8L500.8 853L501.2 852.2L501.5 851.4L501.9 850.5L502.2 849.7L502.5 848.9L502.8 848.1L503.2 847.3L503.5 846.4L503.8 845.6L504.1 844.8L504.4 844L504.6 843.1L504.8 842.3L505 841.5L505.2 840.7L505.4 839.9L505.6 839L505.7 838.2L505.8 837.4L505.8 836.6L505.9 835.7L506 834.9L506 834.1L506.6 834.1L506.6 834.9L506.7 835.7L506.8 836.6L506.8 837.4L506.9 838.2L507 839L507.2 839.9L507.4 840.7L507.6 841.5L507.8 842.3L508 843.1L508.2 844L508.5 844.8L508.8 845.6L509.1 846.4L509.4 847.3L509.8 848.1L510.1 848.9L510.4 849.7L510.7 850.5L511.1 851.4L511.4 852.2L511.8 853L512.1 853.8L512.4 854.7L512.7 855.5L512.9 856.3L513.2 857.1L513.5 857.9L513.7 858.8L513.9 859.6L514.1 860.4L514.3 861.2L514.3 862L514.3 862.9L514.3 863.7L514.3 864.5L514.2 865.3L514.2 866.2L514.1 867L514.1 867.8L514 868.6L513.8 869.4L513.5 870.3L513.1 871.1L512.7 871.9L512.3 872.7L512 873.6L511.8 874.4L511.8 875.2L511.8 876L511.9 876.8L511.9 877.7L512 878.5L512.1 879.3L512.2 880.1L512.6 881L513.3 881.8L514 882.6L514.6 883.4L515 884.2L515.1 885.1L515.1 885.9L515.2 886.7L515.2 887.5L515.3 888.4L515.3 889.2L515.3 890Z" fill="#7CAE00" stroke="#1c1c1c" stroke-width="1.05" stroke-linejoin="round"/>
<path d="M528 833.7V808.1" stroke="#1c1c1c" stroke-width="1.0" fill="none"/>
<path d="M518.4 890L518.4 889.2L518.5 888.4L518.7 887.5L518.9 886.7L519.1 885.9L519.4 885.1L519.9 884.2L520.4 883.4L521 882.6L521.4 881.8L521.7 880.9L522 880.1L522.2 879.3L522.5 878.5L522.7 877.7L522.9 876.8L523 876L523.2 875.2L523.3 874.4L523.4 873.5L523.5 872.7L523.6 871.9L523.6 871.1L523.7 870.2L523.8 869.4L523.8 868.6L523.9 867.8L524 867L524 866.1L524.1 865.3L524.2 864.5L524.2 863.7L524.3 862.8L524.3 862L524.4 861.2L524.4 860.4L524.5 859.5L524.5 858.7L524.6 857.9L524.7 857.1L524.7 856.2L524.8 855.4L524.9 854.6L525 853.8L525.2 853L525.3 852.1L525.4 851.3L525.6 850.5L525.7 849.7L525.9 848.8L526 848L526.2 847.2L526.3 846.4L526.5 845.5L526.7 844.7L526.8 843.9L527 843.1L527.1 842.3L527.2 841.4L527.2 840.6L527.3 839.8L527.4 839L527.4 838.1L527.5 837.3L527.5 836.5L527.6 835.7L527.6 834.8L527.6 834L527.6 833.2L528.4 833.2L528.4 834L528.4 834.8L528.4 835.7L528.5 836.5L528.5 837.3L528.6 838.1L528.6 839L528.7 839.8L528.8 840.6L528.8 841.4L528.9 842.3L529 843.1L529.2 843.9L529.3 844.7L529.5 845.5L529.7 846.4L529.8 847.2L530 848L530.1 848.8L530.3 849.7L530.4 850.5L530.6 851.3L530.7 852.1L530.8 853L531 853.8L531.1 854.6L531.2 855.4L531.3 856.2L531.3 857.1L531.4 857.9L531.5 858.7L531.5 859.5L531.6 860.4L531.6 861.2L531.7 862L531.7 862.8L531.8 863.7L531.8 864.5L531.9 865.3L532 866.1L532 867L532.1 867.8L532.2 868.6L532.2 869.4L532.3 870.2L532.4 871.1L532.4 871.9L532.5 872.7L532.6 873.5L532.7 874.4L532.8 875.2L533 876L533.1 876.8L533.3 877.7L533.5 878.5L533.8 879.3L534 880.1L534.3 880.9L534.6 881.8L535 882.6L535.6 883.4L536.1 884.2L536.6 885.1L536.9 885.9L537.1 886.7L537.3 887.5L537.5 888.4L537.6 889.2L537.6 890Z" fill="#00BFC4" stroke="#1c1c1c" stroke-width="1.05" stroke-linejoin="round"/>
<path d="M549.7 827.5V795.3" stroke="#1c1c1c" stroke-width="1.0" fill="none"/>
<path d="M540.1 890L540.2 889.2L540.4 888.4L540.8 887.5L541.3 886.7L542.2 885.9L543.4 885.1L544.5 884.3L545.3 883.5L546.1 882.6L546.7 881.8L547.1 881L547.1 880.2L547.1 879.4L547.1 878.5L547.1 877.7L547.1 876.9L547.1 876.1L547.1 875.3L547 874.5L546.9 873.6L546.8 872.8L546.6 872L546.5 871.2L546.4 870.4L546.3 869.5L546.2 868.7L546.2 867.9L546.1 867.1L546.1 866.3L546 865.5L546 864.6L545.9 863.8L545.9 863L545.9 862.2L545.8 861.4L545.8 860.5L545.8 859.7L545.8 858.9L545.8 858.1L545.9 857.3L545.9 856.5L546 855.6L546.2 854.8L546.3 854L546.4 853.2L546.6 852.4L546.7 851.5L546.8 850.7L546.9 849.9L547.1 849.1L547.2 848.3L547.3 847.5L547.5 846.6L547.6 845.8L547.7 845L547.9 844.2L548 843.4L548.1 842.5L548.3 841.7L548.4 840.9L548.5 840.1L548.7 839.3L548.8 838.5L548.9 837.6L549 836.8L549 836L549.1 835.2L549.1 834.4L549.2 833.5L549.2 832.7L549.2 831.9L549.3 831.1L549.3 830.3L549.3 829.5L549.3 828.6L549.3 827.8L549.4 827L550.1 827L550.1 827.8L550.1 828.6L550.1 829.5L550.1 830.3L550.1 831.1L550.2 831.9L550.2 832.7L550.2 833.5L550.3 834.4L550.3 835.2L550.4 836L550.4 836.8L550.5 837.6L550.6 838.5L550.7 839.3L550.9 840.1L551 840.9L551.1 841.7L551.3 842.5L551.4 843.4L551.5 844.2L551.7 845L551.8 845.8L551.9 846.6L552.1 847.5L552.2 848.3L552.3 849.1L552.5 849.9L552.6 850.7L552.7 851.5L552.8 852.4L553 853.2L553.1 854L553.2 854.8L553.4 855.6L553.5 856.5L553.5 857.3L553.6 858.1L553.6 858.9L553.6 859.7L553.6 860.5L553.6 861.4L553.5 862.2L553.5 863L553.5 863.8L553.4 864.6L553.4 865.5L553.3 866.3L553.3 867.1L553.2 867.9L553.2 868.7L553.1 869.5L553 870.4L552.9 871.2L552.8 872L552.6 872.8L552.5 873.6L552.4 874.5L552.3 875.3L552.3 876.1L552.3 876.9L552.3 877.7L552.3 878.5L552.3 879.4L552.3 880.2L552.3 881L552.7 881.8L553.3 882.6L554.1 883.5L554.9 884.3L556 885.1L557.2 885.9L558.1 886.7L558.6 887.5L559 888.4L559.2 889.2L559.3 890Z" fill="#C77CFF" stroke="#1c1c1c" stroke-width="1.05" stroke-linejoin="round"/>
<path d="M579.6 791.3V896.1H672M593.2 896.1v2M614.9 896.1v2M636.6 896.1v2M658.3 896.1v2" stroke="#151515" stroke-width="1.3" fill="none"/>
<text x="577.5" y="892.4" font-size="11.2" fill="#111" text-anchor="end">1</text>
<path d="M592.8 887.9V819.5" stroke="#1c1c1c" stroke-width="1.2" fill="none"/>
<path d="M592.8 870h0M592.8 862h0M592.8 856h0M592.8 855h0M592.8 850h0M592.8 846h0M592.8 838h0" stroke="#222" stroke-width="1.3" stroke-linecap="round" fill="none"/>
<path d="M582.8 887.9Q589.8 887.4 592.8 885.6Q595.8 887.4 602.8 887.9Q595.8 888.4 592.8 890.2Q589.8 888.4 582.8 887.9Z" fill="#F8766D" stroke="#1c1c1c" stroke-width="0.85" stroke-linejoin="round"/>
<path d="M614.5 887.9V826.7" stroke="#1c1c1c" stroke-width="1.2" fill="none"/>
<path d="M604.5 887.9Q611.5 887.4 614.5 885.6Q617.5 887.4 624.5 887.9Q617.5 888.4 614.5 890.2Q611.5 888.4 604.5 887.9Z" fill="#7CAE00" stroke="#1c1c1c" stroke-width="0.85" stroke-linejoin="round"/>
<path d="M636.2 887.9V795.4" stroke="#1c1c1c" stroke-width="1.2" fill="none"/>
<path d="M626.2 887.9Q633.2 887.4 636.2 885.6Q639.2 887.4 646.2 887.9Q639.2 888.4 636.2 890.2Q633.2 888.4 626.2 887.9Z" fill="#00BFC4" stroke="#1c1c1c" stroke-width="0.85" stroke-linejoin="round"/>
<path d="M657.9 887.9V800.7" stroke="#1c1c1c" stroke-width="1.2" fill="none"/>
<path d="M647.9 887.9Q654.9 887.4 657.9 885.6Q660.9 887.4 667.9 887.9Q660.9 888.4 657.9 890.2Q654.9 888.4 647.9 887.9Z" fill="#C77CFF" stroke="#1c1c1c" stroke-width="0.85" stroke-linejoin="round"/>
</svg>
</body></html>
